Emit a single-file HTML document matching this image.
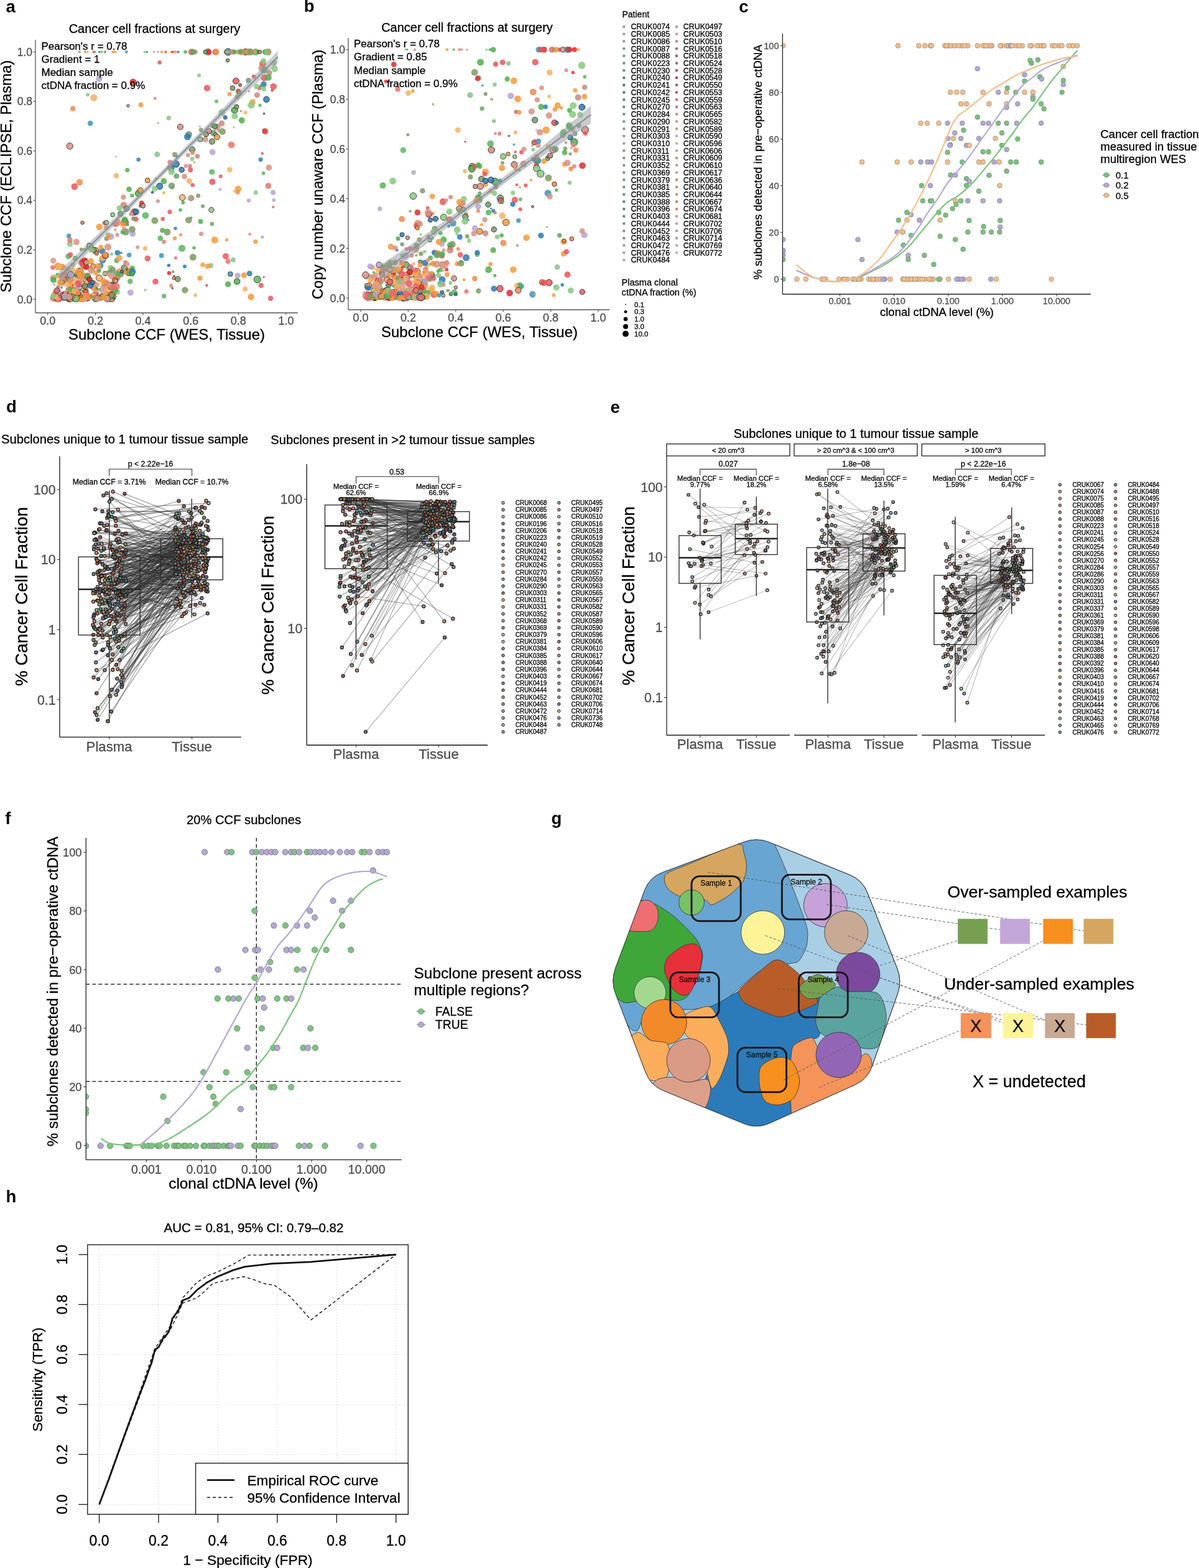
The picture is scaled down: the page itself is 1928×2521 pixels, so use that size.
<!DOCTYPE html>
<html><head><meta charset="utf-8"><title>Figure</title>
<style>
html,body{margin:0;padding:0;background:#fff;}
body{width:1928px;height:2521px;overflow:hidden;}
svg{display:block;font-family:"Liberation Sans",Arial,Helvetica,sans-serif;}
</style></head><body>
<svg width="1928" height="2521" viewBox="0 0 1928 2521">
<rect width="1928" height="2521" fill="#fff"/>
<text x="9.6" y="19.5" font-size="27.5" font-weight="bold">a</text>
<text x="248.5" y="52.5" font-size="20" text-anchor="middle" stroke="#000" stroke-width="0.3">Cancer cell fractions at surgery</text>
<circle cx="127.5" cy="442" r="3.5" fill="#e8565a" fill-opacity="0.85"/>
<circle cx="201.5" cy="422.1" r="3.5" fill="#ea6a6a" fill-opacity="0.85"/>
<circle cx="138.5" cy="453.2" r="1.7" fill="#f39a3c" fill-opacity="0.85"/>
<circle cx="249.3" cy="158.1" r="2.6" fill="#d98f80" fill-opacity="0.85"/>
<circle cx="372" cy="232.9" r="5.4" fill="#e9736e" fill-opacity="0.85"/>
<circle cx="143.8" cy="455.9" r="3.8" fill="#ea6a6a" fill-opacity="0.85"/>
<circle cx="135.6" cy="474.9" r="1.4" fill="#2a7ab9" stroke="#222" stroke-width="0.8" fill-opacity="0.85"/>
<circle cx="215.8" cy="341" r="5.3" fill="#e8565a" stroke="#222" stroke-width="0.8" fill-opacity="0.85"/>
<circle cx="113.3" cy="447.6" r="4.9" fill="#f39a3c" fill-opacity="0.85"/>
<circle cx="397.2" cy="83.5" r="2.8" fill="#f39a3c" stroke="#222" stroke-width="0.8" fill-opacity="0.85"/>
<circle cx="376.7" cy="307.7" r="1.9" fill="#f7b060" fill-opacity="0.85"/>
<circle cx="125.9" cy="475.7" r="5.1" fill="#f7b060" fill-opacity="0.85"/>
<circle cx="212.1" cy="439.3" r="4.6" fill="#4daf4a" stroke="#222" stroke-width="0.8" fill-opacity="0.85"/>
<circle cx="383.2" cy="146.8" r="4.2" fill="#e3282a" fill-opacity="0.85"/>
<circle cx="237.3" cy="415.6" r="4.8" fill="#e8565a" fill-opacity="0.85"/>
<circle cx="388.6" cy="83.5" r="2.5" fill="#f39a3c" fill-opacity="0.85"/>
<circle cx="393.2" cy="83.5" r="2.7" fill="#4daf4a" fill-opacity="0.85"/>
<circle cx="354.7" cy="283.5" r="3" fill="#e8565a" fill-opacity="0.85"/>
<circle cx="368" cy="83.5" r="4.6" fill="#e8565a" fill-opacity="0.85"/>
<circle cx="122.8" cy="389.1" r="5.1" fill="#d98f80" fill-opacity="0.85"/>
<circle cx="212.5" cy="314.4" r="3.2" fill="#4daf4a" fill-opacity="0.85"/>
<circle cx="134.8" cy="480.9" r="5.1" fill="#d99a8a" fill-opacity="0.85"/>
<circle cx="400.3" cy="147" r="1.4" fill="#e8565a" fill-opacity="0.85"/>
<circle cx="189.2" cy="349.9" r="1.5" fill="#b8a2d4" fill-opacity="0.85"/>
<circle cx="114.7" cy="479.2" r="5.5" fill="#f39a3c" stroke="#222" stroke-width="0.8" fill-opacity="0.85"/>
<circle cx="181.8" cy="470.9" r="4.9" fill="#ea6a6a" stroke="#222" stroke-width="0.8" fill-opacity="0.85"/>
<circle cx="101.7" cy="441.8" r="5.4" fill="#d99a8a" fill-opacity="0.85"/>
<circle cx="85.6" cy="446.6" r="5.1" fill="#d99a8a" fill-opacity="0.85"/>
<circle cx="381.2" cy="452.5" r="4.8" fill="#4daf4a" stroke="#222" stroke-width="0.8" fill-opacity="0.85"/>
<circle cx="152.6" cy="478.1" r="5.4" fill="#ea6a6a" fill-opacity="0.85"/>
<circle cx="153.6" cy="473.3" r="4.8" fill="#ea6a6a" stroke="#222" stroke-width="0.8" fill-opacity="0.85"/>
<circle cx="108.4" cy="448.7" r="4.9" fill="#ea6a6a" fill-opacity="0.85"/>
<circle cx="139" cy="480.9" r="4.7" fill="#d99a8a" fill-opacity="0.85"/>
<circle cx="326.1" cy="425.8" r="3.8" fill="#f39a3c" fill-opacity="0.85"/>
<circle cx="185.4" cy="468.2" r="3.7" fill="#f39a3c" fill-opacity="0.85"/>
<circle cx="177.6" cy="479.5" r="5.5" fill="#d99a8a" stroke="#222" stroke-width="0.8" fill-opacity="0.85"/>
<circle cx="155.5" cy="407.4" r="2.6" fill="#f39a3c" fill-opacity="0.85"/>
<circle cx="431" cy="83.5" r="5.5" fill="#7c9a62" fill-opacity="0.85"/>
<circle cx="129.2" cy="454.4" r="3.7" fill="#b8a2d4" fill-opacity="0.85"/>
<circle cx="179.8" cy="481.1" r="4.3" fill="#f7b060" fill-opacity="0.85"/>
<circle cx="387.8" cy="83.5" r="5" fill="#f08a4b" fill-opacity="0.85"/>
<circle cx="272" cy="438.9" r="3.2" fill="#e3282a" fill-opacity="0.85"/>
<circle cx="256.6" cy="100.5" r="3.3" fill="#e8565a" fill-opacity="0.85"/>
<circle cx="408.2" cy="123.3" r="3.5" fill="#e8565a" fill-opacity="0.85"/>
<circle cx="178.2" cy="474" r="4.3" fill="#d99a8a" stroke="#222" stroke-width="0.8" fill-opacity="0.85"/>
<circle cx="280.2" cy="443.6" r="1.7" fill="#e3282a" fill-opacity="0.85"/>
<circle cx="330.1" cy="224.1" r="4.9" fill="#d98f80" fill-opacity="0.85"/>
<circle cx="361.9" cy="188.7" r="3.6" fill="#c98a80" fill-opacity="0.85"/>
<circle cx="173.3" cy="479.8" r="4.6" fill="#7c9a62" fill-opacity="0.85"/>
<circle cx="129.7" cy="447.3" r="5.3" fill="#7c9a62" fill-opacity="0.85"/>
<circle cx="126.1" cy="439.8" r="3.3" fill="#e8565a" fill-opacity="0.85"/>
<circle cx="424.2" cy="445.6" r="1.5" fill="#e3282a" fill-opacity="0.85"/>
<circle cx="172" cy="474.5" r="4.5" fill="#f39a3c" fill-opacity="0.85"/>
<circle cx="411.2" cy="309.5" r="3.5" fill="#86c97f" fill-opacity="0.85"/>
<circle cx="348.1" cy="162.9" r="2.9" fill="#5bb55f" fill-opacity="0.85"/>
<circle cx="111.2" cy="474.8" r="2.3" fill="#86c97f" stroke="#222" stroke-width="0.8" fill-opacity="0.85"/>
<circle cx="422.4" cy="102.7" r="5.6" fill="#e8565a" fill-opacity="0.85"/>
<circle cx="127.5" cy="83.5" r="2.4" fill="#86c97f" fill-opacity="0.85"/>
<circle cx="100" cy="430.3" r="3.6" fill="#f7b060" stroke="#222" stroke-width="0.8" fill-opacity="0.85"/>
<circle cx="111.5" cy="477" r="4.8" fill="#f39a3c" fill-opacity="0.85"/>
<circle cx="413.4" cy="152.8" r="4.6" fill="#c98a80" fill-opacity="0.85"/>
<circle cx="365.4" cy="83.5" r="4.4" fill="#e8565a" fill-opacity="0.85"/>
<circle cx="99.4" cy="473" r="4.2" fill="#b8a2d4" fill-opacity="0.85"/>
<circle cx="170.7" cy="478" r="4.2" fill="#ea6a6a" fill-opacity="0.85"/>
<circle cx="155.1" cy="479.8" r="5.3" fill="#ea6a6a" fill-opacity="0.85"/>
<circle cx="164.8" cy="459.4" r="1.6" fill="#d99a8a" stroke="#222" stroke-width="0.8" fill-opacity="0.85"/>
<circle cx="119" cy="465.7" r="5.5" fill="#f39a3c" fill-opacity="0.85"/>
<circle cx="427.6" cy="83.5" r="4.6" fill="#2a7ab9" fill-opacity="0.85"/>
<circle cx="137.2" cy="466.1" r="5.4" fill="#7c9a62" fill-opacity="0.85"/>
<circle cx="189.1" cy="446.3" r="4.8" fill="#ea6a6a" fill-opacity="0.85"/>
<circle cx="145.9" cy="479" r="1.6" fill="#f39a3c" stroke="#222" stroke-width="0.8" fill-opacity="0.85"/>
<circle cx="99" cy="476.6" r="2.1" fill="#f39a3c" fill-opacity="0.85"/>
<circle cx="122.7" cy="476.3" r="4.9" fill="#d99a8a" stroke="#222" stroke-width="0.8" fill-opacity="0.85"/>
<circle cx="424.6" cy="182.7" r="1.4" fill="#e9736e" stroke="#222" stroke-width="0.8" fill-opacity="0.85"/>
<circle cx="275.2" cy="459.2" r="3.2" fill="#d98f80" fill-opacity="0.85"/>
<circle cx="343.3" cy="213.8" r="5.4" fill="#6f9a70" fill-opacity="0.85"/>
<circle cx="142.2" cy="456.7" r="3.6" fill="#f39a3c" fill-opacity="0.85"/>
<circle cx="416.9" cy="141.3" r="3.7" fill="#e8565a" fill-opacity="0.85"/>
<circle cx="154.8" cy="479" r="4" fill="#f7b060" stroke="#222" stroke-width="0.8" fill-opacity="0.85"/>
<circle cx="110.8" cy="468.9" r="4.5" fill="#f39a3c" fill-opacity="0.85"/>
<circle cx="309.1" cy="240.4" r="4.6" fill="#7c9a62" stroke="#222" stroke-width="0.8" fill-opacity="0.85"/>
<circle cx="281.1" cy="248.7" r="4.1" fill="#7c9a62" fill-opacity="0.85"/>
<circle cx="275.2" cy="269.9" r="5.5" fill="#2a7ab9" fill-opacity="0.85"/>
<circle cx="234" cy="346.4" r="5.5" fill="#5bb55f" fill-opacity="0.85"/>
<circle cx="188.1" cy="439.5" r="5" fill="#86c97f" fill-opacity="0.85"/>
<circle cx="134" cy="480.9" r="4.4" fill="#f39a3c" fill-opacity="0.85"/>
<circle cx="168" cy="358.5" r="3.4" fill="#e8565a" fill-opacity="0.85"/>
<circle cx="435.1" cy="479.8" r="4.2" fill="#e8565a" fill-opacity="0.85"/>
<circle cx="322.5" cy="355.9" r="4" fill="#4daf4a" fill-opacity="0.85"/>
<circle cx="126.7" cy="434.5" r="4.6" fill="#d99a8a" fill-opacity="0.85"/>
<circle cx="382.1" cy="308.7" r="3.7" fill="#f08a4b" fill-opacity="0.85"/>
<circle cx="126.2" cy="453.2" r="4.1" fill="#ea6a6a" fill-opacity="0.85"/>
<circle cx="112.4" cy="392.2" r="4.7" fill="#86c97f" fill-opacity="0.85"/>
<circle cx="321.5" cy="203.3" r="1.8" fill="#b8a2d4" fill-opacity="0.85"/>
<circle cx="166.2" cy="414.4" r="5.1" fill="#e9736e" fill-opacity="0.85"/>
<circle cx="153.8" cy="403" r="5.1" fill="#f39a3c" stroke="#222" stroke-width="0.8" fill-opacity="0.85"/>
<circle cx="281" cy="383.2" r="3.3" fill="#f39a3c" fill-opacity="0.85"/>
<circle cx="111.1" cy="444.2" r="3.8" fill="#ea6a6a" fill-opacity="0.85"/>
<circle cx="271.7" cy="269.4" r="3.6" fill="#e9736e" fill-opacity="0.85"/>
<circle cx="185.6" cy="83.5" r="1.9" fill="#f39a3c" fill-opacity="0.85"/>
<circle cx="102.1" cy="448.7" r="5.2" fill="#d99a8a" fill-opacity="0.85"/>
<circle cx="181.3" cy="345.3" r="3.5" fill="#86c97f" stroke="#222" stroke-width="0.8" fill-opacity="0.85"/>
<circle cx="382.2" cy="443.1" r="4.6" fill="#b8a2d4" fill-opacity="0.85"/>
<circle cx="128.2" cy="462.2" r="3.6" fill="#b8a2d4" stroke="#222" stroke-width="0.8" fill-opacity="0.85"/>
<circle cx="317.4" cy="251.2" r="3.9" fill="#c98a80" fill-opacity="0.85"/>
<circle cx="227.7" cy="326.6" r="4" fill="#e3282a" fill-opacity="0.85"/>
<circle cx="138.2" cy="442.1" r="1.7" fill="#2a7ab9" fill-opacity="0.85"/>
<circle cx="134.9" cy="459.9" r="4.2" fill="#f7b060" fill-opacity="0.85"/>
<circle cx="164.9" cy="418.1" r="5.6" fill="#2a7ab9" fill-opacity="0.85"/>
<circle cx="131.7" cy="423.2" r="5.8" fill="#86c97f" fill-opacity="0.85"/>
<circle cx="139" cy="428.7" r="4" fill="#86c97f" stroke="#222" stroke-width="0.8" fill-opacity="0.85"/>
<circle cx="154" cy="474.7" r="4.3" fill="#f39a3c" stroke="#222" stroke-width="0.8" fill-opacity="0.85"/>
<circle cx="298.7" cy="267" r="3.2" fill="#d98f80" fill-opacity="0.85"/>
<circle cx="109.4" cy="480.4" r="1.5" fill="#f7b060" stroke="#222" stroke-width="0.8" fill-opacity="0.85"/>
<circle cx="94.6" cy="443.5" r="4.3" fill="#d99a8a" fill-opacity="0.85"/>
<circle cx="117.2" cy="477" r="4.9" fill="#ea6a6a" fill-opacity="0.85"/>
<circle cx="307.6" cy="83.5" r="5.3" fill="#e9736e" fill-opacity="0.85"/>
<circle cx="172" cy="462" r="5.6" fill="#f39a3c" fill-opacity="0.85"/>
<circle cx="377.2" cy="177.2" r="5.1" fill="#4daf4a" stroke="#222" stroke-width="0.8" fill-opacity="0.85"/>
<circle cx="425" cy="124.9" r="5.7" fill="#e8565a" fill-opacity="0.85"/>
<circle cx="103.2" cy="443.6" r="3.8" fill="#f39a3c" stroke="#222" stroke-width="0.8" fill-opacity="0.85"/>
<circle cx="312.5" cy="260.9" r="1.8" fill="#f39a3c" fill-opacity="0.85"/>
<circle cx="93.8" cy="480.1" r="4.1" fill="#e3282a" fill-opacity="0.85"/>
<circle cx="169.8" cy="458.8" r="5" fill="#ea6a6a" fill-opacity="0.85"/>
<circle cx="162.1" cy="478.3" r="5.4" fill="#d99a8a" fill-opacity="0.85"/>
<circle cx="222.9" cy="311" r="5.4" fill="#4daf4a" stroke="#222" stroke-width="0.8" fill-opacity="0.85"/>
<circle cx="207.4" cy="304.4" r="4.3" fill="#4daf4a" fill-opacity="0.85"/>
<circle cx="109.4" cy="433.1" r="4.9" fill="#d99a8a" fill-opacity="0.85"/>
<circle cx="272.9" cy="340.6" r="3.6" fill="#e8565a" fill-opacity="0.85"/>
<circle cx="144.6" cy="396" r="5.3" fill="#86c97f" stroke="#222" stroke-width="0.8" fill-opacity="0.85"/>
<circle cx="113.5" cy="475.4" r="1.8" fill="#d99a8a" fill-opacity="0.85"/>
<circle cx="135.5" cy="429.4" r="3" fill="#b8a2d4" fill-opacity="0.85"/>
<circle cx="260" cy="83.5" r="2.2" fill="#f39a3c" fill-opacity="0.85"/>
<circle cx="157.2" cy="477.1" r="4.4" fill="#f7b060" fill-opacity="0.85"/>
<circle cx="129.6" cy="435.1" r="4.3" fill="#d99a8a" stroke="#222" stroke-width="0.8" fill-opacity="0.85"/>
<circle cx="272.6" cy="426.6" r="2" fill="#f39a3c" fill-opacity="0.85"/>
<circle cx="293.2" cy="317.6" r="4.9" fill="#f7b060" stroke="#222" stroke-width="0.8" fill-opacity="0.85"/>
<circle cx="104.2" cy="450.2" r="4.7" fill="#b8a2d4" stroke="#222" stroke-width="0.8" fill-opacity="0.85"/>
<circle cx="310.2" cy="83.5" r="3.4" fill="#5bb55f" stroke="#222" stroke-width="0.8" fill-opacity="0.85"/>
<circle cx="86.7" cy="477.2" r="5" fill="#b8a2d4" stroke="#222" stroke-width="0.8" fill-opacity="0.85"/>
<circle cx="174.2" cy="378" r="4.4" fill="#86c97f" fill-opacity="0.85"/>
<circle cx="131.3" cy="480.4" r="5.5" fill="#ea6a6a" fill-opacity="0.85"/>
<circle cx="85.7" cy="419.1" r="4.9" fill="#d99a8a" fill-opacity="0.85"/>
<circle cx="173.8" cy="455" r="4" fill="#f39a3c" fill-opacity="0.85"/>
<circle cx="123.1" cy="480.6" r="4.7" fill="#d99a8a" fill-opacity="0.85"/>
<circle cx="90.5" cy="479.3" r="5.5" fill="#d99a8a" fill-opacity="0.85"/>
<circle cx="181.7" cy="477.4" r="5" fill="#d99a8a" stroke="#222" stroke-width="0.8" fill-opacity="0.85"/>
<circle cx="185.6" cy="441.3" r="4.8" fill="#4daf4a" fill-opacity="0.85"/>
<circle cx="309.1" cy="255.6" r="3.5" fill="#86c97f" fill-opacity="0.85"/>
<circle cx="179.4" cy="408.4" r="2.5" fill="#86c97f" fill-opacity="0.85"/>
<circle cx="175.6" cy="479.8" r="4.7" fill="#7c9a62" fill-opacity="0.85"/>
<circle cx="394.2" cy="464.7" r="4" fill="#f7b060" fill-opacity="0.85"/>
<circle cx="164.7" cy="414.7" r="5.3" fill="#f7b060" fill-opacity="0.85"/>
<circle cx="188.9" cy="406.3" r="4.4" fill="#2a7ab9" fill-opacity="0.85"/>
<circle cx="173.6" cy="466.7" r="4.1" fill="#f39a3c" stroke="#222" stroke-width="0.8" fill-opacity="0.85"/>
<circle cx="123.7" cy="442" r="5.1" fill="#2a7ab9" fill-opacity="0.85"/>
<circle cx="140.1" cy="478.3" r="5.2" fill="#e3282a" fill-opacity="0.85"/>
<circle cx="116.7" cy="470.5" r="4.9" fill="#86c97f" fill-opacity="0.85"/>
<circle cx="174.3" cy="475.2" r="5.1" fill="#f7b060" fill-opacity="0.85"/>
<circle cx="199" cy="329.8" r="5.4" fill="#c98a80" fill-opacity="0.85"/>
<circle cx="292.1" cy="273" r="4.3" fill="#2a7ab9" stroke="#222" stroke-width="0.8" fill-opacity="0.85"/>
<circle cx="181.9" cy="83.5" r="2.3" fill="#f08a4b" fill-opacity="0.85"/>
<circle cx="250" cy="452.7" r="4.8" fill="#e8565a" fill-opacity="0.85"/>
<circle cx="112.2" cy="234.9" r="5.2" fill="#d98f80" stroke="#222" stroke-width="0.8" fill-opacity="0.85"/>
<circle cx="214" cy="132" r="5.6" fill="#e3282a" fill-opacity="0.85"/>
<circle cx="154.3" cy="438.9" r="4.1" fill="#f39a3c" fill-opacity="0.85"/>
<circle cx="145.2" cy="198.2" r="4.3" fill="#3a95b0" fill-opacity="0.85"/>
<circle cx="309.7" cy="245.6" r="3.7" fill="#d98f80" fill-opacity="0.85"/>
<circle cx="277.3" cy="463.5" r="1.4" fill="#86c97f" stroke="#222" stroke-width="0.8" fill-opacity="0.85"/>
<circle cx="91.8" cy="479.5" r="4" fill="#b8a2d4" fill-opacity="0.85"/>
<circle cx="351.5" cy="210.7" r="2" fill="#7c9a62" fill-opacity="0.85"/>
<circle cx="406" cy="164.3" r="4.9" fill="#f39a3c" fill-opacity="0.85"/>
<circle cx="394.7" cy="181" r="2.9" fill="#f7b060" fill-opacity="0.85"/>
<circle cx="110.1" cy="474.5" r="5.2" fill="#ea6a6a" stroke="#222" stroke-width="0.8" fill-opacity="0.85"/>
<circle cx="375.7" cy="83.5" r="4.2" fill="#5bb55f" fill-opacity="0.85"/>
<circle cx="109.9" cy="412.1" r="4.7" fill="#5bb55f" fill-opacity="0.85"/>
<circle cx="93.5" cy="428.6" r="5.4" fill="#ea6a6a" fill-opacity="0.85"/>
<circle cx="117.3" cy="434.2" r="4.1" fill="#f7b060" fill-opacity="0.85"/>
<circle cx="290" cy="337.6" r="2.9" fill="#4daf4a" fill-opacity="0.85"/>
<circle cx="278.2" cy="83.5" r="2.2" fill="#e8565a" fill-opacity="0.85"/>
<circle cx="320.1" cy="121.2" r="3" fill="#8cbf88" fill-opacity="0.85"/>
<circle cx="134.7" cy="460.4" r="1.6" fill="#f7b060" fill-opacity="0.85"/>
<circle cx="439.1" cy="309.5" r="4.2" fill="#b8a2d4" fill-opacity="0.85"/>
<circle cx="200.9" cy="357" r="5.5" fill="#e8565a" stroke="#222" stroke-width="0.8" fill-opacity="0.85"/>
<circle cx="437.8" cy="145.1" r="1.8" fill="#d98f80" stroke="#222" stroke-width="0.8" fill-opacity="0.85"/>
<circle cx="443.8" cy="107.4" r="1.6" fill="#c98a80" fill-opacity="0.85"/>
<circle cx="86.1" cy="450.3" r="5" fill="#4daf4a" fill-opacity="0.85"/>
<circle cx="167.6" cy="453.1" r="1.6" fill="#f39a3c" fill-opacity="0.85"/>
<circle cx="334.5" cy="83.5" r="5" fill="#d98f80" stroke="#222" stroke-width="0.8" fill-opacity="0.85"/>
<circle cx="275.9" cy="275.9" r="5.3" fill="#86c97f" fill-opacity="0.85"/>
<circle cx="136.3" cy="448.4" r="5" fill="#d99a8a" fill-opacity="0.85"/>
<circle cx="109.6" cy="464.6" r="3.8" fill="#d99a8a" fill-opacity="0.85"/>
<circle cx="345.2" cy="385.9" r="5.6" fill="#f39a3c" fill-opacity="0.85"/>
<circle cx="87.3" cy="477.7" r="1.5" fill="#f39a3c" fill-opacity="0.85"/>
<circle cx="130.9" cy="401" r="3.1" fill="#7c9a62" fill-opacity="0.85"/>
<circle cx="84.8" cy="479.7" r="4.7" fill="#d99a8a" fill-opacity="0.85"/>
<circle cx="286.6" cy="83.5" r="2.2" fill="#d98f80" fill-opacity="0.85"/>
<circle cx="369.3" cy="272.8" r="4.4" fill="#f7b060" fill-opacity="0.85"/>
<circle cx="362.3" cy="189" r="3.4" fill="#2a7ab9" fill-opacity="0.85"/>
<circle cx="362.4" cy="83.5" r="2.8" fill="#8cbf88" fill-opacity="0.85"/>
<circle cx="237.3" cy="290.1" r="4" fill="#f39a3c" stroke="#222" stroke-width="0.8" fill-opacity="0.85"/>
<circle cx="339" cy="427" r="4" fill="#8cbf88" fill-opacity="0.85"/>
<circle cx="134.2" cy="443" r="4.2" fill="#b8a2d4" fill-opacity="0.85"/>
<circle cx="424" cy="135.6" r="4.9" fill="#2a7ab9" fill-opacity="0.85"/>
<circle cx="155.5" cy="479.7" r="5.2" fill="#d99a8a" stroke="#222" stroke-width="0.8" fill-opacity="0.85"/>
<circle cx="394.8" cy="83.5" r="5.2" fill="#f39a3c" stroke="#222" stroke-width="0.8" fill-opacity="0.85"/>
<circle cx="87" cy="479.9" r="4.1" fill="#f39a3c" stroke="#222" stroke-width="0.8" fill-opacity="0.85"/>
<circle cx="103.8" cy="473.4" r="4.9" fill="#86c97f" stroke="#222" stroke-width="0.8" fill-opacity="0.85"/>
<circle cx="164.5" cy="477.2" r="4.8" fill="#f39a3c" stroke="#222" stroke-width="0.8" fill-opacity="0.85"/>
<circle cx="400.5" cy="83.5" r="5.4" fill="#4daf4a" fill-opacity="0.85"/>
<circle cx="204.9" cy="436.1" r="5.1" fill="#ea6a6a" fill-opacity="0.85"/>
<circle cx="98.6" cy="476.4" r="2.3" fill="#86c97f" fill-opacity="0.85"/>
<circle cx="425.6" cy="83.5" r="3.1" fill="#8cbf88" fill-opacity="0.85"/>
<circle cx="121.8" cy="440" r="1.9" fill="#e3282a" fill-opacity="0.85"/>
<circle cx="203.3" cy="83.5" r="2.4" fill="#3a95b0" fill-opacity="0.85"/>
<circle cx="102.8" cy="451.4" r="5.2" fill="#ea6a6a" stroke="#222" stroke-width="0.8" fill-opacity="0.85"/>
<circle cx="379.4" cy="130.3" r="5" fill="#e8565a" stroke="#222" stroke-width="0.8" fill-opacity="0.85"/>
<circle cx="155.8" cy="457.8" r="4.2" fill="#d99a8a" fill-opacity="0.85"/>
<circle cx="411.1" cy="83.5" r="5.6" fill="#4daf4a" fill-opacity="0.85"/>
<circle cx="384" cy="83.5" r="4.1" fill="#d98f80" fill-opacity="0.85"/>
<circle cx="169" cy="439.9" r="3.8" fill="#d99a8a" stroke="#222" stroke-width="0.8" fill-opacity="0.85"/>
<circle cx="340" cy="337.5" r="4.2" fill="#8cbf88" stroke="#222" stroke-width="0.8" fill-opacity="0.85"/>
<circle cx="273.7" cy="261.2" r="4.4" fill="#c98a80" fill-opacity="0.85"/>
<circle cx="426.1" cy="211" r="4.8" fill="#e3282a" fill-opacity="0.85"/>
<circle cx="89.1" cy="476.8" r="4.4" fill="#ea6a6a" stroke="#222" stroke-width="0.8" fill-opacity="0.85"/>
<circle cx="142" cy="447.1" r="4.6" fill="#e3282a" fill-opacity="0.85"/>
<circle cx="93.1" cy="427.2" r="5.3" fill="#f39a3c" fill-opacity="0.85"/>
<circle cx="188.1" cy="441.1" r="5.1" fill="#b8a2d4" fill-opacity="0.85"/>
<circle cx="366.4" cy="83.5" r="2.6" fill="#7c9a62" fill-opacity="0.85"/>
<circle cx="263.3" cy="309.9" r="2.5" fill="#f7b060" fill-opacity="0.85"/>
<circle cx="110.7" cy="379.4" r="3.8" fill="#3a95b0" fill-opacity="0.85"/>
<circle cx="207.7" cy="410" r="3.8" fill="#3a95b0" fill-opacity="0.85"/>
<circle cx="209.2" cy="452.4" r="4.3" fill="#5bb55f" fill-opacity="0.85"/>
<circle cx="143" cy="394.4" r="3.5" fill="#86c97f" stroke="#222" stroke-width="0.8" fill-opacity="0.85"/>
<circle cx="370.4" cy="440.6" r="3.9" fill="#3a95b0" stroke="#222" stroke-width="0.8" fill-opacity="0.85"/>
<circle cx="236.4" cy="83.5" r="1.7" fill="#2a7ab9" fill-opacity="0.85"/>
<circle cx="110.5" cy="449.4" r="5.2" fill="#7c9a62" fill-opacity="0.85"/>
<circle cx="155" cy="481.1" r="4.7" fill="#f39a3c" fill-opacity="0.85"/>
<circle cx="426" cy="83.5" r="4.1" fill="#4daf4a" fill-opacity="0.85"/>
<circle cx="421.2" cy="109.8" r="5.7" fill="#c98a80" fill-opacity="0.85"/>
<circle cx="222.6" cy="256.6" r="3.3" fill="#2a7ab9" fill-opacity="0.85"/>
<circle cx="271.2" cy="426.7" r="2.7" fill="#2a7ab9" fill-opacity="0.85"/>
<circle cx="401.7" cy="376.4" r="2.2" fill="#e9736e" fill-opacity="0.85"/>
<circle cx="114.6" cy="473.9" r="2.6" fill="#f7b060" fill-opacity="0.85"/>
<circle cx="133.1" cy="479.2" r="5.5" fill="#f7b060" fill-opacity="0.85"/>
<circle cx="279.8" cy="447" r="2.6" fill="#f08a4b" stroke="#222" stroke-width="0.8" fill-opacity="0.85"/>
<circle cx="89.6" cy="473.7" r="4.8" fill="#f7b060" stroke="#222" stroke-width="0.8" fill-opacity="0.85"/>
<circle cx="155.9" cy="475.6" r="4.1" fill="#ea6a6a" fill-opacity="0.85"/>
<circle cx="169.4" cy="454.4" r="4.9" fill="#ea6a6a" fill-opacity="0.85"/>
<circle cx="145.1" cy="452.4" r="3.8" fill="#ea6a6a" fill-opacity="0.85"/>
<circle cx="401.3" cy="439.7" r="4.5" fill="#2a7ab9" fill-opacity="0.85"/>
<circle cx="111.8" cy="445.6" r="5.2" fill="#ea6a6a" fill-opacity="0.85"/>
<circle cx="303.5" cy="216.3" r="5.6" fill="#6f9a70" fill-opacity="0.85"/>
<circle cx="428.5" cy="159.8" r="4.8" fill="#2a7ab9" stroke="#222" stroke-width="0.8" fill-opacity="0.85"/>
<circle cx="146.2" cy="450" r="4.3" fill="#d99a8a" fill-opacity="0.85"/>
<circle cx="191.7" cy="436.9" r="5.4" fill="#f08a4b" fill-opacity="0.85"/>
<circle cx="151.1" cy="455.2" r="4.6" fill="#f39a3c" fill-opacity="0.85"/>
<circle cx="166.9" cy="476.8" r="4" fill="#86c97f" fill-opacity="0.85"/>
<circle cx="179.7" cy="477.8" r="4.8" fill="#ea6a6a" fill-opacity="0.85"/>
<circle cx="112.5" cy="386.1" r="4.4" fill="#e9736e" fill-opacity="0.85"/>
<circle cx="164.4" cy="403.8" r="5" fill="#2a7ab9" fill-opacity="0.85"/>
<circle cx="247.8" cy="83.5" r="1.7" fill="#d98f80" fill-opacity="0.85"/>
<circle cx="153" cy="480.9" r="4.9" fill="#4daf4a" fill-opacity="0.85"/>
<circle cx="307.1" cy="318.5" r="5.1" fill="#e8565a" fill-opacity="0.85"/>
<circle cx="419.2" cy="256.6" r="3.5" fill="#2a7ab9" fill-opacity="0.85"/>
<circle cx="159.6" cy="83.5" r="1.8" fill="#2a7ab9" fill-opacity="0.85"/>
<circle cx="213.2" cy="375.8" r="4.9" fill="#b8a2d4" fill-opacity="0.85"/>
<circle cx="94.2" cy="476" r="4.4" fill="#4daf4a" fill-opacity="0.85"/>
<circle cx="346.6" cy="216.3" r="3.1" fill="#86c97f" stroke="#222" stroke-width="0.8" fill-opacity="0.85"/>
<circle cx="159.8" cy="465.6" r="2.7" fill="#4daf4a" fill-opacity="0.85"/>
<circle cx="141.5" cy="476.4" r="4.3" fill="#f7b060" stroke="#222" stroke-width="0.8" fill-opacity="0.85"/>
<circle cx="366.6" cy="83.5" r="5.6" fill="#3a95b0" stroke="#222" stroke-width="0.8" fill-opacity="0.85"/>
<circle cx="110.9" cy="480.3" r="5.2" fill="#e3282a" stroke="#222" stroke-width="0.8" fill-opacity="0.85"/>
<circle cx="136.3" cy="447.9" r="4.3" fill="#d99a8a" fill-opacity="0.85"/>
<circle cx="104.6" cy="476.5" r="4.3" fill="#7c9a62" fill-opacity="0.85"/>
<circle cx="122.4" cy="449.9" r="3.7" fill="#f7b060" fill-opacity="0.85"/>
<circle cx="314.2" cy="474.5" r="3" fill="#f7b060" fill-opacity="0.85"/>
<circle cx="107.1" cy="437.6" r="4.7" fill="#ea6a6a" fill-opacity="0.85"/>
<circle cx="93.7" cy="480.9" r="4.3" fill="#f7b060" fill-opacity="0.85"/>
<circle cx="141.2" cy="479.2" r="4.6" fill="#ea6a6a" stroke="#222" stroke-width="0.8" fill-opacity="0.85"/>
<circle cx="403.3" cy="83.5" r="2.5" fill="#e3282a" fill-opacity="0.85"/>
<circle cx="303.3" cy="353.8" r="5.4" fill="#7c9a62" fill-opacity="0.85"/>
<circle cx="108.9" cy="477.6" r="5.1" fill="#ea6a6a" fill-opacity="0.85"/>
<circle cx="128.9" cy="477.2" r="5.2" fill="#f39a3c" fill-opacity="0.85"/>
<circle cx="349" cy="220.3" r="4.6" fill="#f39a3c" stroke="#222" stroke-width="0.8" fill-opacity="0.85"/>
<circle cx="171" cy="357.8" r="3.7" fill="#86c97f" stroke="#222" stroke-width="0.8" fill-opacity="0.85"/>
<circle cx="121.4" cy="466.5" r="5.3" fill="#d99a8a" fill-opacity="0.85"/>
<circle cx="149.9" cy="462.9" r="4.5" fill="#d98f80" fill-opacity="0.85"/>
<circle cx="186.9" cy="282.5" r="4.2" fill="#f7b060" fill-opacity="0.85"/>
<circle cx="100.7" cy="428.9" r="4.9" fill="#f39a3c" fill-opacity="0.85"/>
<circle cx="356.7" cy="180.7" r="5.4" fill="#86c97f" fill-opacity="0.85"/>
<circle cx="148.7" cy="460.8" r="1.8" fill="#b8a2d4" fill-opacity="0.85"/>
<circle cx="124.8" cy="480.9" r="4.5" fill="#d99a8a" fill-opacity="0.85"/>
<circle cx="118.1" cy="475.8" r="4.8" fill="#d99a8a" fill-opacity="0.85"/>
<circle cx="122.9" cy="442.7" r="4.7" fill="#7c9a62" fill-opacity="0.85"/>
<circle cx="95.1" cy="480.8" r="4.8" fill="#e3282a" fill-opacity="0.85"/>
<circle cx="117.1" cy="425.8" r="3.8" fill="#d99a8a" fill-opacity="0.85"/>
<circle cx="117.2" cy="174.5" r="4.3" fill="#f08a4b" fill-opacity="0.85"/>
<circle cx="136" cy="479.7" r="5.1" fill="#f7b060" fill-opacity="0.85"/>
<circle cx="191.7" cy="414.8" r="5" fill="#f39a3c" fill-opacity="0.85"/>
<circle cx="181" cy="477.5" r="5" fill="#f7b060" fill-opacity="0.85"/>
<circle cx="431.3" cy="298.9" r="4.8" fill="#e9736e" fill-opacity="0.85"/>
<circle cx="161.8" cy="427.1" r="4.4" fill="#2a7ab9" fill-opacity="0.85"/>
<circle cx="138.4" cy="417" r="2.1" fill="#7c9a62" fill-opacity="0.85"/>
<circle cx="177.3" cy="436.1" r="3.6" fill="#4daf4a" fill-opacity="0.85"/>
<circle cx="98" cy="477.2" r="4.5" fill="#f7b060" stroke="#222" stroke-width="0.8" fill-opacity="0.85"/>
<circle cx="167.4" cy="440.1" r="2.7" fill="#86c97f" fill-opacity="0.85"/>
<circle cx="366.7" cy="420.2" r="4.1" fill="#e9736e" fill-opacity="0.85"/>
<circle cx="341" cy="360" r="3.3" fill="#7c9a62" fill-opacity="0.85"/>
<circle cx="89" cy="480" r="1.6" fill="#f7b060" fill-opacity="0.85"/>
<circle cx="376.4" cy="83.5" r="2.8" fill="#7c9a62" fill-opacity="0.85"/>
<circle cx="126.3" cy="448.1" r="4" fill="#f7b060" fill-opacity="0.85"/>
<circle cx="301.5" cy="220" r="5.5" fill="#2a7ab9" fill-opacity="0.85"/>
<circle cx="175.8" cy="477.3" r="1.7" fill="#f7b060" stroke="#222" stroke-width="0.8" fill-opacity="0.85"/>
<circle cx="169.8" cy="410.7" r="5.1" fill="#e8565a" stroke="#222" stroke-width="0.8" fill-opacity="0.85"/>
<circle cx="302.1" cy="249.4" r="3.4" fill="#d98f80" fill-opacity="0.85"/>
<circle cx="159.8" cy="364.8" r="5.4" fill="#f39a3c" fill-opacity="0.85"/>
<circle cx="323.2" cy="209" r="3.4" fill="#7c9a62" fill-opacity="0.85"/>
<circle cx="115.2" cy="481" r="4.2" fill="#d99a8a" fill-opacity="0.85"/>
<circle cx="113.2" cy="409.7" r="4.1" fill="#e8565a" fill-opacity="0.85"/>
<circle cx="275.7" cy="83.5" r="1.6" fill="#e3282a" fill-opacity="0.85"/>
<circle cx="321.6" cy="447.2" r="4.3" fill="#f39a3c" fill-opacity="0.85"/>
<circle cx="105.9" cy="478.7" r="4.1" fill="#f7b060" fill-opacity="0.85"/>
<circle cx="147" cy="433" r="5.6" fill="#f39a3c" fill-opacity="0.85"/>
<circle cx="193.8" cy="343.9" r="4.1" fill="#4daf4a" stroke="#222" stroke-width="0.8" fill-opacity="0.85"/>
<circle cx="245.1" cy="309.2" r="1.8" fill="#2a7ab9" stroke="#222" stroke-width="0.8" fill-opacity="0.85"/>
<circle cx="132.7" cy="456.1" r="4.1" fill="#d99a8a" stroke="#222" stroke-width="0.8" fill-opacity="0.85"/>
<circle cx="166" cy="468.4" r="5.2" fill="#d99a8a" fill-opacity="0.85"/>
<circle cx="171" cy="464.3" r="4.8" fill="#f7b060" fill-opacity="0.85"/>
<circle cx="261.3" cy="370.3" r="4.1" fill="#4daf4a" fill-opacity="0.85"/>
<circle cx="253.9" cy="323.5" r="3" fill="#c98a80" fill-opacity="0.85"/>
<circle cx="136.4" cy="465" r="4.3" fill="#f39a3c" fill-opacity="0.85"/>
<circle cx="331.3" cy="215.8" r="4.2" fill="#7c9a62" stroke="#222" stroke-width="0.8" fill-opacity="0.85"/>
<circle cx="199.9" cy="430.7" r="5" fill="#7c9a62" stroke="#222" stroke-width="0.8" fill-opacity="0.85"/>
<circle cx="137.9" cy="469.3" r="4.1" fill="#e8565a" stroke="#222" stroke-width="0.8" fill-opacity="0.85"/>
<circle cx="416.9" cy="83.5" r="2.8" fill="#f39a3c" stroke="#222" stroke-width="0.8" fill-opacity="0.85"/>
<circle cx="141" cy="152.2" r="3" fill="#86c97f" fill-opacity="0.85"/>
<circle cx="121" cy="470.4" r="5.2" fill="#ea6a6a" fill-opacity="0.85"/>
<circle cx="187.6" cy="419" r="4.3" fill="#7c9a62" fill-opacity="0.85"/>
<circle cx="256.7" cy="299.4" r="5.1" fill="#2a7ab9" stroke="#222" stroke-width="0.8" fill-opacity="0.85"/>
<circle cx="114.2" cy="458.5" r="3.8" fill="#ea6a6a" stroke="#222" stroke-width="0.8" fill-opacity="0.85"/>
<circle cx="212.5" cy="368.7" r="5.4" fill="#7c9a62" fill-opacity="0.85"/>
<circle cx="221.3" cy="397.5" r="2.9" fill="#d98f80" fill-opacity="0.85"/>
<circle cx="297.1" cy="428.6" r="3" fill="#2a7ab9" fill-opacity="0.85"/>
<circle cx="173.4" cy="397.2" r="5.7" fill="#d98f80" fill-opacity="0.85"/>
<circle cx="150.9" cy="157.2" r="5.6" fill="#f7b060" fill-opacity="0.85"/>
<circle cx="184.4" cy="447.4" r="4.8" fill="#f39a3c" fill-opacity="0.85"/>
<circle cx="176.9" cy="464.1" r="3.2" fill="#4daf4a" fill-opacity="0.85"/>
<circle cx="178.5" cy="473.8" r="4.7" fill="#f39a3c" stroke="#222" stroke-width="0.8" fill-opacity="0.85"/>
<circle cx="129.9" cy="453.6" r="3.7" fill="#f7b060" fill-opacity="0.85"/>
<circle cx="374" cy="141.6" r="3.9" fill="#7c9a62" stroke="#222" stroke-width="0.8" fill-opacity="0.85"/>
<circle cx="298.1" cy="83.5" r="3" fill="#5bb55f" fill-opacity="0.85"/>
<circle cx="433.4" cy="117.1" r="4.4" fill="#c98a80" fill-opacity="0.85"/>
<circle cx="384.9" cy="149.9" r="5" fill="#7c9a62" fill-opacity="0.85"/>
<circle cx="283.1" cy="263.8" r="5.3" fill="#2a7ab9" stroke="#222" stroke-width="0.8" fill-opacity="0.85"/>
<circle cx="372.5" cy="83.5" r="4.3" fill="#d98f80" fill-opacity="0.85"/>
<circle cx="169" cy="409.5" r="4.2" fill="#f39a3c" fill-opacity="0.85"/>
<circle cx="305.3" cy="266.9" r="3.5" fill="#c98a80" fill-opacity="0.85"/>
<circle cx="128" cy="441.9" r="5.6" fill="#6f9a70" stroke="#222" stroke-width="0.8" fill-opacity="0.85"/>
<circle cx="251" cy="287.3" r="2.1" fill="#4daf4a" fill-opacity="0.85"/>
<circle cx="140.6" cy="444.1" r="4.9" fill="#4daf4a" stroke="#222" stroke-width="0.8" fill-opacity="0.85"/>
<circle cx="99.7" cy="473.8" r="4.4" fill="#e3282a" fill-opacity="0.85"/>
<circle cx="431.9" cy="83.5" r="2.8" fill="#f7b060" fill-opacity="0.85"/>
<circle cx="87.4" cy="480.4" r="5.1" fill="#d99a8a" fill-opacity="0.85"/>
<circle cx="114.8" cy="456.7" r="5.3" fill="#f7b060" fill-opacity="0.85"/>
<circle cx="129.4" cy="471.1" r="4.7" fill="#86c97f" stroke="#222" stroke-width="0.8" fill-opacity="0.85"/>
<circle cx="99.5" cy="454.1" r="4.1" fill="#d99a8a" stroke="#222" stroke-width="0.8" fill-opacity="0.85"/>
<circle cx="233.5" cy="399.5" r="3.6" fill="#f7b060" fill-opacity="0.85"/>
<circle cx="179.4" cy="457.1" r="4.4" fill="#f7b060" fill-opacity="0.85"/>
<circle cx="179.5" cy="444.1" r="5" fill="#d99a8a" fill-opacity="0.85"/>
<circle cx="207" cy="438.1" r="5.3" fill="#4daf4a" stroke="#222" stroke-width="0.8" fill-opacity="0.85"/>
<circle cx="307.1" cy="350.3" r="2.2" fill="#5bb55f" fill-opacity="0.85"/>
<circle cx="92.8" cy="479.4" r="5.2" fill="#f39a3c" fill-opacity="0.85"/>
<circle cx="285.1" cy="250.6" r="1.7" fill="#4daf4a" fill-opacity="0.85"/>
<circle cx="381.3" cy="156" r="3.8" fill="#7c9a62" fill-opacity="0.85"/>
<circle cx="439.3" cy="332.8" r="2.1" fill="#e8565a" fill-opacity="0.85"/>
<circle cx="225.6" cy="331.3" r="2" fill="#7c9a62" stroke="#222" stroke-width="0.8" fill-opacity="0.85"/>
<circle cx="136.5" cy="476.1" r="5.3" fill="#f39a3c" fill-opacity="0.85"/>
<circle cx="163.3" cy="83.5" r="2.1" fill="#5bb55f" fill-opacity="0.85"/>
<circle cx="94" cy="463.6" r="1.8" fill="#f39a3c" fill-opacity="0.85"/>
<circle cx="326" cy="331.5" r="3.1" fill="#7c9a62" fill-opacity="0.85"/>
<circle cx="309.7" cy="297.6" r="3.3" fill="#e8565a" fill-opacity="0.85"/>
<circle cx="431.4" cy="124.4" r="5.4" fill="#4daf4a" fill-opacity="0.85"/>
<circle cx="202.2" cy="372.9" r="5.7" fill="#6f9a70" fill-opacity="0.85"/>
<circle cx="116.8" cy="459" r="1.4" fill="#e3282a" fill-opacity="0.85"/>
<circle cx="233.6" cy="466.5" r="2" fill="#86c97f" fill-opacity="0.85"/>
<circle cx="396.8" cy="83.5" r="5.3" fill="#2a7ab9" fill-opacity="0.85"/>
<circle cx="154.3" cy="479.5" r="5.2" fill="#d99a8a" stroke="#222" stroke-width="0.8" fill-opacity="0.85"/>
<circle cx="132.9" cy="480.6" r="4" fill="#d99a8a" fill-opacity="0.85"/>
<circle cx="109.4" cy="435" r="4.2" fill="#86c97f" fill-opacity="0.85"/>
<circle cx="421.8" cy="246.7" r="2.2" fill="#e8565a" fill-opacity="0.85"/>
<circle cx="336.1" cy="83.5" r="4.3" fill="#e3282a" fill-opacity="0.85"/>
<circle cx="127.2" cy="453.5" r="4.6" fill="#d99a8a" fill-opacity="0.85"/>
<circle cx="150.5" cy="401.7" r="4.5" fill="#7c9a62" stroke="#222" stroke-width="0.8" fill-opacity="0.85"/>
<circle cx="98" cy="476.2" r="5.5" fill="#ea6a6a" fill-opacity="0.85"/>
<circle cx="209.8" cy="433.3" r="4.4" fill="#f39a3c" fill-opacity="0.85"/>
<circle cx="190.1" cy="441.2" r="2.9" fill="#f7b060" fill-opacity="0.85"/>
<circle cx="113.3" cy="442.8" r="5.4" fill="#4daf4a" fill-opacity="0.85"/>
<circle cx="86.9" cy="457.6" r="1.9" fill="#d99a8a" fill-opacity="0.85"/>
<circle cx="357.5" cy="211.4" r="5.4" fill="#7c9a62" fill-opacity="0.85"/>
<circle cx="424.3" cy="143.3" r="3.7" fill="#86c97f" fill-opacity="0.85"/>
<circle cx="439.7" cy="139" r="5.3" fill="#e8565a" fill-opacity="0.85"/>
<circle cx="310.3" cy="413.5" r="5.5" fill="#7c9a62" fill-opacity="0.85"/>
<circle cx="170.4" cy="365.8" r="4.1" fill="#d98f80" fill-opacity="0.85"/>
<circle cx="179.4" cy="457.9" r="4" fill="#7c9a62" stroke="#222" stroke-width="0.8" fill-opacity="0.85"/>
<circle cx="397.9" cy="83.5" r="1.5" fill="#e3282a" fill-opacity="0.85"/>
<circle cx="87.9" cy="474.1" r="5.5" fill="#f7b060" fill-opacity="0.85"/>
<circle cx="180" cy="481" r="4.1" fill="#d99a8a" stroke="#222" stroke-width="0.8" fill-opacity="0.85"/>
<circle cx="112.8" cy="447.9" r="5" fill="#4daf4a" fill-opacity="0.85"/>
<circle cx="180" cy="474.6" r="4.8" fill="#ea6a6a" stroke="#222" stroke-width="0.8" fill-opacity="0.85"/>
<circle cx="422" cy="381.1" r="2.6" fill="#b8a2d4" fill-opacity="0.85"/>
<circle cx="332.3" cy="458.7" r="2" fill="#e3282a" fill-opacity="0.85"/>
<circle cx="137.9" cy="458.5" r="2.6" fill="#e8565a" fill-opacity="0.85"/>
<circle cx="115.1" cy="450.2" r="3.7" fill="#f7b060" fill-opacity="0.85"/>
<circle cx="135.2" cy="425.1" r="5.7" fill="#d98f80" stroke="#222" stroke-width="0.8" fill-opacity="0.85"/>
<circle cx="94.1" cy="429.4" r="5.1" fill="#f7b060" fill-opacity="0.85"/>
<circle cx="407.7" cy="83.5" r="3.7" fill="#b8a2d4" fill-opacity="0.85"/>
<circle cx="132.5" cy="358.1" r="2.8" fill="#e9736e" stroke="#222" stroke-width="0.8" fill-opacity="0.85"/>
<circle cx="84.9" cy="430.1" r="3.8" fill="#ea6a6a" fill-opacity="0.85"/>
<circle cx="321.9" cy="224" r="4" fill="#86c97f" stroke="#222" stroke-width="0.8" fill-opacity="0.85"/>
<circle cx="107.5" cy="457" r="4.5" fill="#f7b060" fill-opacity="0.85"/>
<circle cx="206" cy="170.1" r="2.4" fill="#b8a2d4" stroke="#222" stroke-width="0.8" fill-opacity="0.85"/>
<circle cx="147" cy="402.4" r="3.8" fill="#86c97f" fill-opacity="0.85"/>
<circle cx="159.5" cy="126.6" r="5.1" fill="#b8a2d4" fill-opacity="0.85"/>
<circle cx="346.9" cy="83.5" r="5.3" fill="#e8565a" fill-opacity="0.85"/>
<circle cx="440.3" cy="321.7" r="2.9" fill="#b8a2d4" fill-opacity="0.85"/>
<circle cx="132.5" cy="421.2" r="5.2" fill="#e3282a" fill-opacity="0.85"/>
<circle cx="263.6" cy="388.8" r="3.3" fill="#e9736e" fill-opacity="0.85"/>
<circle cx="285.9" cy="448.7" r="4.3" fill="#7c9a62" stroke="#222" stroke-width="0.8" fill-opacity="0.85"/>
<circle cx="277.2" cy="302.2" r="2.2" fill="#f08a4b" fill-opacity="0.85"/>
<circle cx="129.6" cy="473.8" r="4.6" fill="#f7b060" fill-opacity="0.85"/>
<circle cx="389.3" cy="83.5" r="4.6" fill="#f39a3c" fill-opacity="0.85"/>
<circle cx="141.1" cy="477.1" r="4.3" fill="#ea6a6a" fill-opacity="0.85"/>
<circle cx="312" cy="398.4" r="2.7" fill="#4daf4a" fill-opacity="0.85"/>
<circle cx="333" cy="141.5" r="5.3" fill="#e8565a" fill-opacity="0.85"/>
<circle cx="199.9" cy="437.7" r="4.3" fill="#f39a3c" fill-opacity="0.85"/>
<circle cx="396.3" cy="83.5" r="4.6" fill="#5bb55f" fill-opacity="0.85"/>
<circle cx="123.7" cy="480.2" r="2.4" fill="#86c97f" fill-opacity="0.85"/>
<circle cx="97.2" cy="453.9" r="5.6" fill="#f39a3c" fill-opacity="0.85"/>
<circle cx="179.5" cy="476.7" r="4.5" fill="#4daf4a" fill-opacity="0.85"/>
<circle cx="306.2" cy="273.2" r="4" fill="#e8565a" fill-opacity="0.85"/>
<circle cx="159.5" cy="447" r="5.1" fill="#f7b060" stroke="#222" stroke-width="0.8" fill-opacity="0.85"/>
<circle cx="128" cy="444.1" r="4.3" fill="#f39a3c" fill-opacity="0.85"/>
<circle cx="136.9" cy="476.5" r="5" fill="#f39a3c" fill-opacity="0.85"/>
<circle cx="93.3" cy="477.9" r="4.7" fill="#d99a8a" stroke="#222" stroke-width="0.8" fill-opacity="0.85"/>
<circle cx="127.3" cy="459.4" r="1.9" fill="#2a7ab9" fill-opacity="0.85"/>
<circle cx="92.6" cy="442.2" r="3.5" fill="#4daf4a" fill-opacity="0.85"/>
<circle cx="125.8" cy="472" r="4.2" fill="#e3282a" stroke="#222" stroke-width="0.8" fill-opacity="0.85"/>
<circle cx="292.5" cy="399.2" r="5.6" fill="#5bb55f" fill-opacity="0.85"/>
<circle cx="149.8" cy="475.4" r="5.1" fill="#d99a8a" fill-opacity="0.85"/>
<circle cx="195" cy="406.6" r="2.2" fill="#3a95b0" fill-opacity="0.85"/>
<circle cx="113.8" cy="473.1" r="4.8" fill="#4daf4a" fill-opacity="0.85"/>
<circle cx="185.1" cy="369.4" r="2" fill="#c98a80" fill-opacity="0.85"/>
<circle cx="347.9" cy="83.5" r="4.2" fill="#f39a3c" fill-opacity="0.85"/>
<circle cx="192.3" cy="334.7" r="4.8" fill="#86c97f" fill-opacity="0.85"/>
<circle cx="313.7" cy="83.5" r="3.8" fill="#7c9a62" fill-opacity="0.85"/>
<circle cx="213.1" cy="430.8" r="3.7" fill="#4daf4a" fill-opacity="0.85"/>
<circle cx="125.2" cy="456.5" r="5.5" fill="#e8565a" fill-opacity="0.85"/>
<circle cx="387.5" cy="178.7" r="1.9" fill="#c98a80" fill-opacity="0.85"/>
<circle cx="323.6" cy="376" r="3.6" fill="#d98f80" fill-opacity="0.85"/>
<circle cx="309.9" cy="83.5" r="5" fill="#7c9a62" fill-opacity="0.85"/>
<circle cx="185.1" cy="450.9" r="4.8" fill="#f39a3c" stroke="#222" stroke-width="0.8" fill-opacity="0.85"/>
<circle cx="210.6" cy="344.2" r="3.5" fill="#d98f80" fill-opacity="0.85"/>
<circle cx="133.6" cy="477.6" r="5.6" fill="#d99a8a" fill-opacity="0.85"/>
<circle cx="429.1" cy="83.5" r="4.5" fill="#86c97f" fill-opacity="0.85"/>
<circle cx="365.5" cy="83.5" r="2.9" fill="#8cbf88" fill-opacity="0.85"/>
<circle cx="248.9" cy="354.6" r="5.5" fill="#7c9a62" fill-opacity="0.85"/>
<circle cx="382.9" cy="303.7" r="5.3" fill="#f39a3c" fill-opacity="0.85"/>
<circle cx="92.4" cy="481.2" r="5" fill="#ea6a6a" fill-opacity="0.85"/>
<circle cx="423.6" cy="278.5" r="2.9" fill="#5bb55f" fill-opacity="0.85"/>
<circle cx="188.2" cy="469.2" r="4.9" fill="#86c97f" fill-opacity="0.85"/>
<circle cx="110.6" cy="467.2" r="5.4" fill="#7c9a62" fill-opacity="0.85"/>
<circle cx="99" cy="462" r="2.3" fill="#7c9a62" fill-opacity="0.85"/>
<circle cx="404" cy="169" r="5.6" fill="#86c97f" fill-opacity="0.85"/>
<circle cx="413.8" cy="449.3" r="5.6" fill="#5bb55f" stroke="#222" stroke-width="0.8" fill-opacity="0.85"/>
<circle cx="119.8" cy="299.9" r="5.3" fill="#e8565a" fill-opacity="0.85"/>
<circle cx="174.4" cy="465.4" r="5.1" fill="#f7b060" fill-opacity="0.85"/>
<circle cx="118" cy="474.2" r="4.8" fill="#d99a8a" fill-opacity="0.85"/>
<circle cx="154.7" cy="466.6" r="4.4" fill="#d99a8a" fill-opacity="0.85"/>
<circle cx="341" cy="227.5" r="4.6" fill="#7c9a62" stroke="#222" stroke-width="0.8" fill-opacity="0.85"/>
<circle cx="232.6" cy="83.5" r="2" fill="#86c97f" fill-opacity="0.85"/>
<circle cx="403.6" cy="477.3" r="5.2" fill="#f39a3c" fill-opacity="0.85"/>
<circle cx="129.6" cy="480.7" r="5.2" fill="#f39a3c" fill-opacity="0.85"/>
<circle cx="398.1" cy="83.5" r="4.3" fill="#f39a3c" fill-opacity="0.85"/>
<circle cx="377.4" cy="83.5" r="3.3" fill="#4daf4a" fill-opacity="0.85"/>
<circle cx="90.1" cy="479" r="4" fill="#ea6a6a" stroke="#222" stroke-width="0.8" fill-opacity="0.85"/>
<circle cx="165.5" cy="462.2" r="4.7" fill="#d99a8a" fill-opacity="0.85"/>
<circle cx="282.1" cy="367.2" r="2.7" fill="#2a7ab9" fill-opacity="0.85"/>
<circle cx="282.4" cy="414.7" r="2.6" fill="#e9736e" fill-opacity="0.85"/>
<circle cx="86.8" cy="475.6" r="5.2" fill="#86c97f" fill-opacity="0.85"/>
<circle cx="112.1" cy="472.8" r="5" fill="#f39a3c" fill-opacity="0.85"/>
<circle cx="398.6" cy="83.5" r="3.8" fill="#f39a3c" fill-opacity="0.85"/>
<circle cx="176.4" cy="476.8" r="2.1" fill="#d99a8a" fill-opacity="0.85"/>
<circle cx="379.4" cy="169.4" r="1.5" fill="#d98f80" fill-opacity="0.85"/>
<circle cx="155.5" cy="407.1" r="3.4" fill="#c98a80" stroke="#222" stroke-width="0.8" fill-opacity="0.85"/>
<circle cx="366.6" cy="456.9" r="4.7" fill="#4daf4a" fill-opacity="0.85"/>
<circle cx="148.2" cy="476.3" r="4.8" fill="#f7b060" fill-opacity="0.85"/>
<circle cx="136.4" cy="460.1" r="4.4" fill="#7c9a62" stroke="#222" stroke-width="0.8" fill-opacity="0.85"/>
<circle cx="336.1" cy="210.8" r="4.1" fill="#c98a80" stroke="#222" stroke-width="0.8" fill-opacity="0.85"/>
<circle cx="119.3" cy="480.1" r="4.1" fill="#f39a3c" stroke="#222" stroke-width="0.8" fill-opacity="0.85"/>
<circle cx="177.6" cy="430.3" r="4.2" fill="#86c97f" fill-opacity="0.85"/>
<circle cx="441.6" cy="110.7" r="5.2" fill="#86c97f" fill-opacity="0.85"/>
<circle cx="209.9" cy="470.4" r="5" fill="#b8a2d4" fill-opacity="0.85"/>
<circle cx="145.7" cy="476.5" r="2" fill="#d99a8a" stroke="#222" stroke-width="0.8" fill-opacity="0.85"/>
<circle cx="173.8" cy="437.3" r="2.7" fill="#7c9a62" fill-opacity="0.85"/>
<circle cx="429.1" cy="83.5" r="1.8" fill="#8cbf88" fill-opacity="0.85"/>
<circle cx="418" cy="169.3" r="2.6" fill="#5bb55f" fill-opacity="0.85"/>
<circle cx="194.1" cy="441.2" r="4.9" fill="#7c9a62" fill-opacity="0.85"/>
<circle cx="353.9" cy="304.8" r="2.3" fill="#b8a2d4" fill-opacity="0.85"/>
<circle cx="105.7" cy="443" r="2.3" fill="#ea6a6a" fill-opacity="0.85"/>
<circle cx="172.5" cy="480" r="5.4" fill="#d99a8a" stroke="#222" stroke-width="0.8" fill-opacity="0.85"/>
<circle cx="304.4" cy="291" r="4.6" fill="#f7b060" fill-opacity="0.85"/>
<circle cx="283.8" cy="283.2" r="4.4" fill="#6f9a70" fill-opacity="0.85"/>
<circle cx="147.1" cy="457.1" r="4.1" fill="#f7b060" fill-opacity="0.85"/>
<circle cx="230" cy="330.8" r="3.8" fill="#c98a80" stroke="#222" stroke-width="0.8" fill-opacity="0.85"/>
<circle cx="341.7" cy="202.1" r="3.9" fill="#c98a80" fill-opacity="0.85"/>
<circle cx="162.3" cy="397.5" r="3.9" fill="#f39a3c" fill-opacity="0.85"/>
<circle cx="149.9" cy="428.2" r="4.2" fill="#f39a3c" stroke="#222" stroke-width="0.8" fill-opacity="0.85"/>
<circle cx="366.1" cy="97.1" r="2.9" fill="#7c9a62" stroke="#222" stroke-width="0.8" fill-opacity="0.85"/>
<circle cx="93" cy="478.5" r="5" fill="#f7b060" fill-opacity="0.85"/>
<circle cx="112.5" cy="452.8" r="4" fill="#f39a3c" fill-opacity="0.85"/>
<circle cx="377.5" cy="186.8" r="5" fill="#86c97f" fill-opacity="0.85"/>
<circle cx="184.8" cy="466.3" r="5.2" fill="#4daf4a" fill-opacity="0.85"/>
<circle cx="212.9" cy="436.6" r="5.5" fill="#2a7ab9" fill-opacity="0.85"/>
<circle cx="399.5" cy="129.6" r="4.5" fill="#6f9a70" fill-opacity="0.85"/>
<circle cx="286.5" cy="83.5" r="1.9" fill="#3a95b0" fill-opacity="0.85"/>
<circle cx="100" cy="478.2" r="5.2" fill="#ea6a6a" fill-opacity="0.85"/>
<circle cx="380.3" cy="171.7" r="3.7" fill="#7c9a62" stroke="#222" stroke-width="0.8" fill-opacity="0.85"/>
<circle cx="154.1" cy="463.4" r="3.7" fill="#86c97f" fill-opacity="0.85"/>
<circle cx="113.8" cy="442.1" r="5.6" fill="#b8a2d4" stroke="#222" stroke-width="0.8" fill-opacity="0.85"/>
<circle cx="147" cy="434.9" r="5.3" fill="#d99a8a" fill-opacity="0.85"/>
<circle cx="263.3" cy="291.2" r="4.9" fill="#4daf4a" fill-opacity="0.85"/>
<circle cx="432.4" cy="269.5" r="4.9" fill="#d98f80" fill-opacity="0.85"/>
<circle cx="397.8" cy="83.5" r="4.6" fill="#f08a4b" fill-opacity="0.85"/>
<circle cx="158.3" cy="427.7" r="5" fill="#f39a3c" fill-opacity="0.85"/>
<circle cx="278.2" cy="436.9" r="2.4" fill="#7c9a62" fill-opacity="0.85"/>
<circle cx="290" cy="204" r="4.6" fill="#d98f80" stroke="#222" stroke-width="0.8" fill-opacity="0.85"/>
<circle cx="296.7" cy="283.7" r="4.5" fill="#d98f80" fill-opacity="0.85"/>
<circle cx="409.3" cy="83.5" r="3.3" fill="#f39a3c" fill-opacity="0.85"/>
<circle cx="145.3" cy="458.8" r="4.6" fill="#2a7ab9" stroke="#222" stroke-width="0.8" fill-opacity="0.85"/>
<circle cx="152.7" cy="478.7" r="4.1" fill="#7c9a62" fill-opacity="0.85"/>
<circle cx="143.9" cy="480" r="2.5" fill="#f39a3c" fill-opacity="0.85"/>
<circle cx="226.6" cy="168.6" r="4" fill="#f39a3c" fill-opacity="0.85"/>
<circle cx="171.5" cy="383.4" r="3.9" fill="#6f9a70" fill-opacity="0.85"/>
<circle cx="218.8" cy="340.5" r="4.6" fill="#2a7ab9" stroke="#222" stroke-width="0.8" fill-opacity="0.85"/>
<circle cx="148.8" cy="454.4" r="3.6" fill="#2a7ab9" stroke="#222" stroke-width="0.8" fill-opacity="0.85"/>
<circle cx="136.2" cy="418.9" r="5" fill="#e3282a" fill-opacity="0.85"/>
<circle cx="386.3" cy="83.5" r="3.4" fill="#f39a3c" fill-opacity="0.85"/>
<circle cx="141.2" cy="83.5" r="1.4" fill="#d98f80" fill-opacity="0.85"/>
<circle cx="387.2" cy="83.5" r="3.4" fill="#4daf4a" fill-opacity="0.85"/>
<circle cx="197.5" cy="373" r="3.8" fill="#4daf4a" fill-opacity="0.85"/>
<circle cx="94.5" cy="444.6" r="3.9" fill="#f7b060" fill-opacity="0.85"/>
<circle cx="186" cy="359.7" r="5.2" fill="#e8565a" fill-opacity="0.85"/>
<circle cx="136.8" cy="401.6" r="3.2" fill="#4daf4a" fill-opacity="0.85"/>
<circle cx="147.3" cy="423.1" r="1.9" fill="#5bb55f" fill-opacity="0.85"/>
<circle cx="157.2" cy="480.5" r="4.5" fill="#d99a8a" fill-opacity="0.85"/>
<circle cx="130.6" cy="423.7" r="3.1" fill="#e8565a" fill-opacity="0.85"/>
<circle cx="138.9" cy="477.8" r="1.5" fill="#d99a8a" fill-opacity="0.85"/>
<circle cx="186.2" cy="451.8" r="3.5" fill="#d99a8a" stroke="#222" stroke-width="0.8" fill-opacity="0.85"/>
<circle cx="121.2" cy="415.3" r="4.4" fill="#4daf4a" fill-opacity="0.85"/>
<circle cx="154.4" cy="463.9" r="2" fill="#2a7ab9" stroke="#222" stroke-width="0.8" fill-opacity="0.85"/>
<circle cx="276" cy="298.7" r="5.3" fill="#6f9a70" fill-opacity="0.85"/>
<circle cx="330.2" cy="83.5" r="3.3" fill="#5bb55f" stroke="#222" stroke-width="0.8" fill-opacity="0.85"/>
<circle cx="95.2" cy="474.5" r="1.6" fill="#f7b060" stroke="#222" stroke-width="0.8" fill-opacity="0.85"/>
<circle cx="412.6" cy="139.1" r="4.3" fill="#86c97f" fill-opacity="0.85"/>
<circle cx="190.9" cy="414.8" r="4.2" fill="#f7b060" fill-opacity="0.85"/>
<circle cx="356.5" cy="198.4" r="4.8" fill="#c98a80" fill-opacity="0.85"/>
<circle cx="158.5" cy="431.8" r="4.3" fill="#d99a8a" fill-opacity="0.85"/>
<circle cx="125" cy="437.6" r="4.9" fill="#f39a3c" fill-opacity="0.85"/>
<circle cx="177.9" cy="380.4" r="5.4" fill="#b8a2d4" fill-opacity="0.85"/>
<circle cx="151.7" cy="464.6" r="3.8" fill="#f39a3c" fill-opacity="0.85"/>
<circle cx="341.7" cy="244.6" r="4.9" fill="#b8a2d4" fill-opacity="0.85"/>
<circle cx="92.9" cy="468.2" r="5.6" fill="#b8a2d4" fill-opacity="0.85"/>
<circle cx="178.5" cy="460.3" r="5" fill="#d99a8a" stroke="#222" stroke-width="0.8" fill-opacity="0.85"/>
<circle cx="205" cy="360.8" r="2.8" fill="#4daf4a" fill-opacity="0.85"/>
<circle cx="386.4" cy="83.5" r="4.3" fill="#7c9a62" fill-opacity="0.85"/>
<circle cx="163.3" cy="475.1" r="2.5" fill="#ea6a6a" stroke="#222" stroke-width="0.8" fill-opacity="0.85"/>
<circle cx="363" cy="412" r="4.9" fill="#e8565a" fill-opacity="0.85"/>
<circle cx="218.6" cy="352.4" r="4.2" fill="#e8565a" fill-opacity="0.85"/>
<circle cx="112.7" cy="480.1" r="5.2" fill="#f7b060" stroke="#222" stroke-width="0.8" fill-opacity="0.85"/>
<circle cx="186.6" cy="251.7" r="1.4" fill="#8cbf88" fill-opacity="0.85"/>
<circle cx="137.1" cy="83.5" r="2.2" fill="#f39a3c" fill-opacity="0.85"/>
<circle cx="340.7" cy="276.4" r="4.5" fill="#5bb55f" fill-opacity="0.85"/>
<circle cx="106.9" cy="443.6" r="1.8" fill="#ea6a6a" fill-opacity="0.85"/>
<circle cx="375" cy="417.7" r="3.9" fill="#8cbf88" fill-opacity="0.85"/>
<circle cx="127.8" cy="293" r="5.3" fill="#f08a4b" fill-opacity="0.85"/>
<circle cx="199.3" cy="368.1" r="3.6" fill="#d98f80" fill-opacity="0.85"/>
<circle cx="386.2" cy="136.8" r="2.5" fill="#e8565a" stroke="#222" stroke-width="0.8" fill-opacity="0.85"/>
<circle cx="388.8" cy="193.5" r="4.9" fill="#4daf4a" fill-opacity="0.85"/>
<circle cx="203.6" cy="335.5" r="4.5" fill="#6f9a70" stroke="#222" stroke-width="0.8" fill-opacity="0.85"/>
<circle cx="121.9" cy="479.8" r="5.5" fill="#86c97f" stroke="#222" stroke-width="0.8" fill-opacity="0.85"/>
<circle cx="132" cy="432.2" r="2.5" fill="#f39a3c" fill-opacity="0.85"/>
<circle cx="196.3" cy="329.3" r="2.2" fill="#d98f80" fill-opacity="0.85"/>
<circle cx="189.6" cy="440.5" r="4.2" fill="#4daf4a" fill-opacity="0.85"/>
<circle cx="150.7" cy="83.5" r="2.2" fill="#e8565a" fill-opacity="0.85"/>
<circle cx="432" cy="83.5" r="2.3" fill="#f08a4b" fill-opacity="0.85"/>
<circle cx="261.7" cy="352.1" r="3.3" fill="#e8565a" fill-opacity="0.85"/>
<circle cx="187.8" cy="460.8" r="5" fill="#ea6a6a" fill-opacity="0.85"/>
<circle cx="189.3" cy="357.4" r="5.5" fill="#d98f80" fill-opacity="0.85"/>
<circle cx="89.4" cy="469.8" r="4.1" fill="#ea6a6a" fill-opacity="0.85"/>
<circle cx="196.1" cy="436.7" r="2.6" fill="#2a7ab9" stroke="#222" stroke-width="0.8" fill-opacity="0.85"/>
<circle cx="175" cy="457.4" r="4.2" fill="#d99a8a" fill-opacity="0.85"/>
<circle cx="400" cy="322.4" r="3.1" fill="#b8a2d4" fill-opacity="0.85"/>
<circle cx="401.7" cy="83.5" r="4.2" fill="#f39a3c" fill-opacity="0.85"/>
<circle cx="266.3" cy="83.5" r="2.2" fill="#e8565a" fill-opacity="0.85"/>
<circle cx="115.8" cy="476.9" r="4.3" fill="#d99a8a" stroke="#222" stroke-width="0.8" fill-opacity="0.85"/>
<circle cx="117" cy="466.2" r="5" fill="#4daf4a" fill-opacity="0.85"/>
<circle cx="104" cy="476.4" r="5.5" fill="#b8a2d4" stroke="#222" stroke-width="0.8" fill-opacity="0.85"/>
<circle cx="169" cy="83.5" r="2.3" fill="#7c9a62" fill-opacity="0.85"/>
<circle cx="130.9" cy="476.2" r="2.2" fill="#f39a3c" stroke="#222" stroke-width="0.8" fill-opacity="0.85"/>
<circle cx="103.3" cy="479" r="4.3" fill="#7c9a62" stroke="#222" stroke-width="0.8" fill-opacity="0.85"/>
<circle cx="101.1" cy="446.3" r="3.5" fill="#d99a8a" fill-opacity="0.85"/>
<circle cx="259.7" cy="410.9" r="3.9" fill="#3a95b0" fill-opacity="0.85"/>
<circle cx="225.7" cy="306.2" r="4.6" fill="#f39a3c" stroke="#222" stroke-width="0.8" fill-opacity="0.85"/>
<circle cx="204.3" cy="424.7" r="4.4" fill="#d99a8a" fill-opacity="0.85"/>
<circle cx="111.3" cy="477.5" r="5.5" fill="#d99a8a" stroke="#222" stroke-width="0.8" fill-opacity="0.85"/>
<circle cx="282" cy="83.5" r="2.3" fill="#f39a3c" fill-opacity="0.85"/>
<circle cx="425.3" cy="112.6" r="5.5" fill="#4daf4a" fill-opacity="0.85"/>
<circle cx="364.5" cy="385.6" r="2.7" fill="#f39a3c" fill-opacity="0.85"/>
<circle cx="294.4" cy="325.7" r="3" fill="#4daf4a" fill-opacity="0.85"/>
<circle cx="318.7" cy="314.8" r="3.5" fill="#7c9a62" fill-opacity="0.85"/>
<circle cx="91.4" cy="467.2" r="4.5" fill="#ea6a6a" stroke="#222" stroke-width="0.8" fill-opacity="0.85"/>
<circle cx="159.4" cy="435.6" r="3.2" fill="#4daf4a" fill-opacity="0.85"/>
<circle cx="181" cy="433.6" r="5.1" fill="#7c9a62" fill-opacity="0.85"/>
<circle cx="166.3" cy="452.3" r="5.4" fill="#f39a3c" fill-opacity="0.85"/>
<circle cx="375.9" cy="204.7" r="1.6" fill="#8cbf88" fill-opacity="0.85"/>
<circle cx="254.3" cy="83.5" r="1.9" fill="#b8a2d4" fill-opacity="0.85"/>
<circle cx="419.8" cy="458.9" r="4.1" fill="#e8565a" fill-opacity="0.85"/>
<circle cx="349.2" cy="204.1" r="5.5" fill="#c98a80" fill-opacity="0.85"/>
<circle cx="440.5" cy="101.4" r="4.7" fill="#86c97f" fill-opacity="0.85"/>
<circle cx="174.1" cy="381.1" r="4.1" fill="#f39a3c" fill-opacity="0.85"/>
<circle cx="143.6" cy="449" r="3.7" fill="#e3282a" stroke="#222" stroke-width="0.8" fill-opacity="0.85"/>
<circle cx="197.3" cy="360" r="4.7" fill="#f39a3c" fill-opacity="0.85"/>
<circle cx="166.5" cy="477.6" r="5" fill="#f39a3c" fill-opacity="0.85"/>
<circle cx="290.6" cy="377.6" r="2.5" fill="#f08a4b" fill-opacity="0.85"/>
<circle cx="252.8" cy="248.2" r="4.5" fill="#8cbf88" fill-opacity="0.85"/>
<circle cx="104.7" cy="476.6" r="4.8" fill="#b8a2d4" fill-opacity="0.85"/>
<circle cx="131.6" cy="441.4" r="5.6" fill="#f39a3c" fill-opacity="0.85"/>
<circle cx="392.4" cy="442.6" r="4.7" fill="#f39a3c" fill-opacity="0.85"/>
<circle cx="347.8" cy="83.5" r="2.7" fill="#f08a4b" fill-opacity="0.85"/>
<circle cx="419.5" cy="137.9" r="2.3" fill="#4daf4a" fill-opacity="0.85"/>
<circle cx="363.7" cy="83.5" r="1.7" fill="#f39a3c" fill-opacity="0.85"/>
<circle cx="93.5" cy="461.2" r="2" fill="#f7b060" stroke="#222" stroke-width="0.8" fill-opacity="0.85"/>
<circle cx="124.9" cy="470.7" r="4.1" fill="#f39a3c" fill-opacity="0.85"/>
<circle cx="418.1" cy="83.5" r="2.8" fill="#d98f80" stroke="#222" stroke-width="0.8" fill-opacity="0.85"/>
<circle cx="181.9" cy="462" r="5.3" fill="#ea6a6a" fill-opacity="0.85"/>
<circle cx="138.4" cy="429.2" r="4.9" fill="#e3282a" fill-opacity="0.85"/>
<circle cx="188.6" cy="377.7" r="3.1" fill="#d98f80" fill-opacity="0.85"/>
<circle cx="403.1" cy="83.5" r="5.4" fill="#7c9a62" fill-opacity="0.85"/>
<circle cx="257.9" cy="383.1" r="4.5" fill="#5bb55f" fill-opacity="0.85"/>
<circle cx="248.7" cy="303.3" r="4.7" fill="#86c97f" fill-opacity="0.85"/>
<circle cx="204.7" cy="273.5" r="3.6" fill="#4daf4a" fill-opacity="0.85"/>
<circle cx="175.9" cy="441.6" r="3.8" fill="#d99a8a" fill-opacity="0.85"/>
<circle cx="334" cy="428.2" r="4.1" fill="#f39a3c" fill-opacity="0.85"/>
<circle cx="306.6" cy="318.1" r="3.8" fill="#8cbf88" fill-opacity="0.85"/>
<circle cx="139" cy="421.9" r="4.3" fill="#d99a8a" stroke="#222" stroke-width="0.8" fill-opacity="0.85"/>
<circle cx="152.9" cy="83.5" r="1.7" fill="#7c9a62" fill-opacity="0.85"/>
<circle cx="108.2" cy="471.3" r="5.2" fill="#d99a8a" fill-opacity="0.85"/>
<circle cx="109.2" cy="470.7" r="1.5" fill="#f39a3c" stroke="#222" stroke-width="0.8" fill-opacity="0.85"/>
<circle cx="254.2" cy="197.7" r="1.6" fill="#f08a4b" fill-opacity="0.85"/>
<circle cx="145.9" cy="420.1" r="5.2" fill="#f39a3c" fill-opacity="0.85"/>
<circle cx="213.1" cy="439.5" r="2.7" fill="#4daf4a" fill-opacity="0.85"/>
<circle cx="115.4" cy="449.7" r="4.2" fill="#d98f80" fill-opacity="0.85"/>
<circle cx="183.1" cy="479.4" r="1.7" fill="#7c9a62" stroke="#222" stroke-width="0.8" fill-opacity="0.85"/>
<circle cx="118.9" cy="468" r="4.2" fill="#f7b060" fill-opacity="0.85"/>
<circle cx="423.7" cy="98.3" r="4.7" fill="#86c97f" fill-opacity="0.85"/>
<circle cx="200.6" cy="353.3" r="5.1" fill="#4daf4a" fill-opacity="0.85"/>
<circle cx="345.4" cy="203.1" r="4.1" fill="#4daf4a" stroke="#222" stroke-width="0.8" fill-opacity="0.85"/>
<circle cx="283.7" cy="252.2" r="1.6" fill="#2a7ab9" fill-opacity="0.85"/>
<circle cx="268.9" cy="373" r="5.5" fill="#7c9a62" fill-opacity="0.85"/>
<circle cx="410.9" cy="388.6" r="3.7" fill="#f39a3c" fill-opacity="0.85"/>
<circle cx="297.4" cy="466.4" r="5.2" fill="#7c9a62" fill-opacity="0.85"/>
<circle cx="140.6" cy="475.8" r="5.2" fill="#f08a4b" fill-opacity="0.85"/>
<circle cx="271.4" cy="189.8" r="3.8" fill="#86c97f" fill-opacity="0.85"/>
<circle cx="369.2" cy="151.3" r="3.6" fill="#f39a3c" fill-opacity="0.85"/>
<circle cx="198.5" cy="317" r="4.3" fill="#d98f80" fill-opacity="0.85"/>
<circle cx="214.6" cy="351.6" r="3.5" fill="#6f9a70" fill-opacity="0.85"/>
<circle cx="263.8" cy="476" r="3.8" fill="#5bb55f" fill-opacity="0.85"/>
<circle cx="341.5" cy="292.4" r="5.1" fill="#e8565a" fill-opacity="0.85"/>
<polygon points="95.1,436.3 124.4,408.2 153.7,379.9 183,351.3 212.3,322.4 241.6,293.3 270.8,263.9 300.1,234.2 329.4,204.3 358.7,174.1 388,143.6 417.3,112.9 446.6,81.9 446.6,101 417.3,129.1 388,157.4 358.7,186 329.4,214.9 300.1,244 270.8,273.4 241.6,303.1 212.3,333 183,363.2 153.7,393.6 124.4,424.4 95.1,455.3" fill="#9aa0a8" fill-opacity="0.55"/>
<line x1="95.1" y1="445.8" x2="446.6" y2="91.5" stroke="#8a8e96" stroke-width="2.0"/>
<line x1="57" y1="64" x2="57" y2="503" stroke="#555" stroke-width="1.3"/>
<line x1="57" y1="503" x2="479" y2="503" stroke="#555" stroke-width="1.3"/>
<line x1="53.5" y1="481.2" x2="57" y2="481.2" stroke="#555" stroke-width="1.2"/>
<text x="52" y="487.5" font-size="17.5" text-anchor="end" fill="#4d4d4d" stroke="#4d4d4d" stroke-width="0.3">0.0</text>
<line x1="76.7" y1="503" x2="76.7" y2="506.5" stroke="#555" stroke-width="1.2"/>
<text x="76.7" y="521.5" font-size="18" text-anchor="middle" fill="#4d4d4d" stroke="#4d4d4d" stroke-width="0.3">0.0</text>
<line x1="53.5" y1="401.7" x2="57" y2="401.7" stroke="#555" stroke-width="1.2"/>
<text x="52" y="408" font-size="17.5" text-anchor="end" fill="#4d4d4d" stroke="#4d4d4d" stroke-width="0.3">0.2</text>
<line x1="153.4" y1="503" x2="153.4" y2="506.5" stroke="#555" stroke-width="1.2"/>
<text x="153.4" y="521.5" font-size="18" text-anchor="middle" fill="#4d4d4d" stroke="#4d4d4d" stroke-width="0.3">0.2</text>
<line x1="53.5" y1="322.1" x2="57" y2="322.1" stroke="#555" stroke-width="1.2"/>
<text x="52" y="328.4" font-size="17.5" text-anchor="end" fill="#4d4d4d" stroke="#4d4d4d" stroke-width="0.3">0.4</text>
<line x1="230" y1="503" x2="230" y2="506.5" stroke="#555" stroke-width="1.2"/>
<text x="230" y="521.5" font-size="18" text-anchor="middle" fill="#4d4d4d" stroke="#4d4d4d" stroke-width="0.3">0.4</text>
<line x1="53.5" y1="242.6" x2="57" y2="242.6" stroke="#555" stroke-width="1.2"/>
<text x="52" y="248.9" font-size="17.5" text-anchor="end" fill="#4d4d4d" stroke="#4d4d4d" stroke-width="0.3">0.6</text>
<line x1="306.7" y1="503" x2="306.7" y2="506.5" stroke="#555" stroke-width="1.2"/>
<text x="306.7" y="521.5" font-size="18" text-anchor="middle" fill="#4d4d4d" stroke="#4d4d4d" stroke-width="0.3">0.6</text>
<line x1="53.5" y1="163" x2="57" y2="163" stroke="#555" stroke-width="1.2"/>
<text x="52" y="169.3" font-size="17.5" text-anchor="end" fill="#4d4d4d" stroke="#4d4d4d" stroke-width="0.3">0.8</text>
<line x1="383.3" y1="503" x2="383.3" y2="506.5" stroke="#555" stroke-width="1.2"/>
<text x="383.3" y="521.5" font-size="18" text-anchor="middle" fill="#4d4d4d" stroke="#4d4d4d" stroke-width="0.3">0.8</text>
<line x1="53.5" y1="83.5" x2="57" y2="83.5" stroke="#555" stroke-width="1.2"/>
<text x="52" y="89.8" font-size="17.5" text-anchor="end" fill="#4d4d4d" stroke="#4d4d4d" stroke-width="0.3">1.0</text>
<line x1="460" y1="503" x2="460" y2="506.5" stroke="#555" stroke-width="1.2"/>
<text x="460" y="521.5" font-size="18" text-anchor="middle" fill="#4d4d4d" stroke="#4d4d4d" stroke-width="0.3">1.0</text>
<text x="66.5" y="79.5" font-size="17" stroke="#000" stroke-width="0.3">Pearson's r = 0.78</text>
<text x="66.5" y="100.8" font-size="17" stroke="#000" stroke-width="0.3">Gradient = 1</text>
<text x="66.5" y="122.1" font-size="17" stroke="#000" stroke-width="0.3">Median sample</text>
<text x="66.5" y="143.4" font-size="17" stroke="#000" stroke-width="0.3">ctDNA fraction = 0.9%</text>
<text x="268" y="546" font-size="24" text-anchor="middle" stroke="#000" stroke-width="0.3">Subclone CCF (WES, Tissue)</text>
<text x="17.8" y="283.5" font-size="24" text-anchor="middle" stroke="#000" stroke-width="0.3" transform="rotate(-90 17.8 283.5)">Subclone CCF (ECLIPSE, Plasma)</text>
<text x="488.8" y="19" font-size="27.5" font-weight="bold">b</text>
<text x="751" y="50.5" font-size="20" text-anchor="middle" stroke="#000" stroke-width="0.3">Cancer cell fractions at surgery</text>
<circle cx="921.6" cy="169.7" r="5.5" fill="#86c97f" fill-opacity="0.85"/>
<circle cx="759.3" cy="267.7" r="5.2" fill="#7c9a62" stroke="#222" stroke-width="0.8" fill-opacity="0.85"/>
<circle cx="794.3" cy="368.9" r="4.3" fill="#7c9a62" stroke="#222" stroke-width="0.8" fill-opacity="0.85"/>
<circle cx="894.8" cy="305.6" r="2.8" fill="#4daf4a" fill-opacity="0.85"/>
<circle cx="630.5" cy="478.9" r="5.2" fill="#d99a8a" fill-opacity="0.85"/>
<circle cx="735.3" cy="424" r="3.8" fill="#f08a4b" fill-opacity="0.85"/>
<circle cx="789.7" cy="335.2" r="1.7" fill="#2a7ab9" fill-opacity="0.85"/>
<circle cx="612.3" cy="463.2" r="3.5" fill="#86c97f" fill-opacity="0.85"/>
<circle cx="697.9" cy="352.7" r="1.6" fill="#7c9a62" fill-opacity="0.85"/>
<circle cx="785.7" cy="433.5" r="5.4" fill="#4daf4a" fill-opacity="0.85"/>
<circle cx="699.5" cy="405.9" r="4.6" fill="#f39a3c" fill-opacity="0.85"/>
<circle cx="679.5" cy="478.6" r="4.8" fill="#f39a3c" fill-opacity="0.85"/>
<circle cx="654.1" cy="479.1" r="5.2" fill="#ea6a6a" fill-opacity="0.85"/>
<circle cx="770.9" cy="321" r="5.4" fill="#4daf4a" fill-opacity="0.85"/>
<circle cx="625.4" cy="458.7" r="4" fill="#d99a8a" fill-opacity="0.85"/>
<circle cx="932.8" cy="184.6" r="4.9" fill="#8cbf88" fill-opacity="0.85"/>
<circle cx="775" cy="174.6" r="3.5" fill="#7c9a62" fill-opacity="0.85"/>
<circle cx="697" cy="443.2" r="3.7" fill="#f39a3c" fill-opacity="0.85"/>
<circle cx="595.2" cy="476.1" r="5.5" fill="#f39a3c" stroke="#222" stroke-width="0.8" fill-opacity="0.85"/>
<circle cx="589.4" cy="458.3" r="3.6" fill="#ea6a6a" fill-opacity="0.85"/>
<circle cx="859" cy="229.3" r="3.9" fill="#e8565a" stroke="#222" stroke-width="0.8" fill-opacity="0.85"/>
<circle cx="917" cy="247.6" r="2.6" fill="#7c9a62" fill-opacity="0.85"/>
<circle cx="915.9" cy="177.6" r="4" fill="#4daf4a" fill-opacity="0.85"/>
<circle cx="645.9" cy="468.7" r="2.5" fill="#f7b060" fill-opacity="0.85"/>
<circle cx="630.9" cy="474.7" r="5.2" fill="#f39a3c" fill-opacity="0.85"/>
<circle cx="646.5" cy="477.1" r="2.4" fill="#f39a3c" stroke="#222" stroke-width="0.8" fill-opacity="0.85"/>
<circle cx="772.6" cy="100.1" r="5.5" fill="#4daf4a" fill-opacity="0.85"/>
<circle cx="648.7" cy="446.5" r="5.1" fill="#f39a3c" fill-opacity="0.85"/>
<circle cx="674.3" cy="458.3" r="2.3" fill="#4daf4a" fill-opacity="0.85"/>
<circle cx="638.1" cy="402.1" r="2.5" fill="#2a7ab9" fill-opacity="0.85"/>
<circle cx="912" cy="79.8" r="5.4" fill="#3a95b0" fill-opacity="0.85"/>
<circle cx="744.6" cy="336.7" r="3.9" fill="#86c97f" stroke="#222" stroke-width="0.8" fill-opacity="0.85"/>
<circle cx="675.6" cy="479.1" r="5" fill="#f39a3c" fill-opacity="0.85"/>
<circle cx="625.7" cy="473.8" r="2.2" fill="#ea6a6a" stroke="#222" stroke-width="0.8" fill-opacity="0.85"/>
<circle cx="617.6" cy="473.3" r="4.1" fill="#b8a2d4" fill-opacity="0.85"/>
<circle cx="602.2" cy="475.3" r="4.6" fill="#d99a8a" stroke="#222" stroke-width="0.8" fill-opacity="0.85"/>
<circle cx="598.8" cy="445.9" r="5.1" fill="#f39a3c" fill-opacity="0.85"/>
<circle cx="670.2" cy="478.6" r="5" fill="#f39a3c" fill-opacity="0.85"/>
<circle cx="683.5" cy="456.1" r="4.8" fill="#86c97f" fill-opacity="0.85"/>
<circle cx="676.8" cy="479" r="4.7" fill="#4daf4a" fill-opacity="0.85"/>
<circle cx="624.5" cy="425.9" r="4.8" fill="#f7b060" fill-opacity="0.85"/>
<circle cx="633.1" cy="451.7" r="5.5" fill="#f39a3c" fill-opacity="0.85"/>
<circle cx="780.6" cy="276.4" r="5.5" fill="#f39a3c" fill-opacity="0.85"/>
<circle cx="869.3" cy="279.3" r="5.7" fill="#86c97f" stroke="#222" stroke-width="0.8" fill-opacity="0.85"/>
<circle cx="935.5" cy="105.1" r="5.8" fill="#86c97f" fill-opacity="0.85"/>
<circle cx="641.5" cy="478.7" r="4.5" fill="#f39a3c" fill-opacity="0.85"/>
<circle cx="664.5" cy="478.5" r="4.6" fill="#e3282a" fill-opacity="0.85"/>
<circle cx="860.4" cy="260.2" r="2.6" fill="#d98f80" fill-opacity="0.85"/>
<circle cx="916.1" cy="79.8" r="2.9" fill="#3a95b0" fill-opacity="0.85"/>
<circle cx="672" cy="475.3" r="5.1" fill="#f39a3c" fill-opacity="0.85"/>
<circle cx="667.1" cy="477.2" r="5" fill="#2a7ab9" fill-opacity="0.85"/>
<circle cx="686.8" cy="426.5" r="4.2" fill="#f7b060" fill-opacity="0.85"/>
<circle cx="916.1" cy="293.7" r="3.3" fill="#8cbf88" fill-opacity="0.85"/>
<circle cx="654.8" cy="446.7" r="5.5" fill="#ea6a6a" fill-opacity="0.85"/>
<circle cx="749.5" cy="414.2" r="5.6" fill="#2a7ab9" fill-opacity="0.85"/>
<circle cx="646.7" cy="392.7" r="3.2" fill="#6f9a70" fill-opacity="0.85"/>
<circle cx="806.6" cy="378.5" r="3.3" fill="#4daf4a" fill-opacity="0.85"/>
<circle cx="643.6" cy="477.1" r="4.2" fill="#d99a8a" fill-opacity="0.85"/>
<circle cx="643" cy="478.6" r="4.8" fill="#f39a3c" fill-opacity="0.85"/>
<circle cx="936.5" cy="266.3" r="5.3" fill="#e3282a" fill-opacity="0.85"/>
<circle cx="668" cy="474.2" r="5.3" fill="#4daf4a" fill-opacity="0.85"/>
<circle cx="609.9" cy="460.2" r="4.4" fill="#f39a3c" fill-opacity="0.85"/>
<circle cx="782.2" cy="79.8" r="1.9" fill="#86c97f" fill-opacity="0.85"/>
<circle cx="670.8" cy="476" r="1.9" fill="#d99a8a" stroke="#222" stroke-width="0.8" fill-opacity="0.85"/>
<circle cx="794.2" cy="464.1" r="4.8" fill="#2a7ab9" fill-opacity="0.85"/>
<circle cx="790.6" cy="159.7" r="2.5" fill="#d98f80" fill-opacity="0.85"/>
<circle cx="856.4" cy="332.2" r="2" fill="#e9736e" stroke="#222" stroke-width="0.8" fill-opacity="0.85"/>
<circle cx="630.2" cy="476.6" r="4.8" fill="#ea6a6a" fill-opacity="0.85"/>
<circle cx="764.3" cy="299.8" r="3.7" fill="#c98a80" stroke="#222" stroke-width="0.8" fill-opacity="0.85"/>
<circle cx="890.4" cy="474.7" r="2.9" fill="#f39a3c" fill-opacity="0.85"/>
<circle cx="896.7" cy="169.5" r="5.1" fill="#f39a3c" fill-opacity="0.85"/>
<circle cx="862.4" cy="265.3" r="4.3" fill="#e8565a" fill-opacity="0.85"/>
<circle cx="691.5" cy="448.6" r="4.4" fill="#4daf4a" fill-opacity="0.85"/>
<circle cx="909.9" cy="229.2" r="2.3" fill="#c98a80" fill-opacity="0.85"/>
<circle cx="940.2" cy="140.3" r="4.3" fill="#c98a80" fill-opacity="0.85"/>
<circle cx="652.7" cy="477.4" r="5.2" fill="#ea6a6a" fill-opacity="0.85"/>
<circle cx="713.5" cy="402.2" r="2.9" fill="#d98f80" fill-opacity="0.85"/>
<circle cx="641.9" cy="451.3" r="4.8" fill="#3a95b0" fill-opacity="0.85"/>
<circle cx="596.7" cy="475" r="5" fill="#d99a8a" fill-opacity="0.85"/>
<circle cx="748.1" cy="227.7" r="1.5" fill="#e3282a" fill-opacity="0.85"/>
<circle cx="632.6" cy="440.3" r="4.7" fill="#e3282a" fill-opacity="0.85"/>
<circle cx="669.5" cy="410.5" r="2.1" fill="#5bb55f" fill-opacity="0.85"/>
<circle cx="655.8" cy="216.4" r="2.5" fill="#7c9a62" fill-opacity="0.85"/>
<circle cx="923.2" cy="267.5" r="3.6" fill="#d98f80" fill-opacity="0.85"/>
<circle cx="608.1" cy="478.8" r="1.9" fill="#f39a3c" stroke="#222" stroke-width="0.8" fill-opacity="0.85"/>
<circle cx="684.1" cy="433" r="4" fill="#ea6a6a" fill-opacity="0.85"/>
<circle cx="738.8" cy="79.8" r="2.3" fill="#f08a4b" fill-opacity="0.85"/>
<circle cx="787.8" cy="79.8" r="2.3" fill="#5bb55f" fill-opacity="0.85"/>
<circle cx="868.8" cy="79.8" r="4.5" fill="#3a95b0" fill-opacity="0.85"/>
<circle cx="683.3" cy="422.6" r="5.2" fill="#2a7ab9" fill-opacity="0.85"/>
<circle cx="692.2" cy="414.6" r="3.9" fill="#4daf4a" fill-opacity="0.85"/>
<circle cx="616.6" cy="428.1" r="4.5" fill="#f7b060" fill-opacity="0.85"/>
<circle cx="696.4" cy="167.5" r="1.7" fill="#7c9a62" fill-opacity="0.85"/>
<circle cx="793.1" cy="402.2" r="4.6" fill="#4daf4a" fill-opacity="0.85"/>
<circle cx="921.3" cy="116.5" r="2.6" fill="#e3282a" fill-opacity="0.85"/>
<circle cx="667.4" cy="444.6" r="4.3" fill="#b8a2d4" fill-opacity="0.85"/>
<circle cx="779.3" cy="279.8" r="3.8" fill="#e8565a" fill-opacity="0.85"/>
<circle cx="721.8" cy="356.9" r="2.2" fill="#f39a3c" fill-opacity="0.85"/>
<circle cx="642.9" cy="478.5" r="5" fill="#4daf4a" fill-opacity="0.85"/>
<circle cx="656.4" cy="472.4" r="4.2" fill="#ea6a6a" fill-opacity="0.85"/>
<circle cx="638.8" cy="446.1" r="1.7" fill="#c98a80" fill-opacity="0.85"/>
<circle cx="742.8" cy="327.4" r="5.3" fill="#d98f80" fill-opacity="0.85"/>
<circle cx="624.3" cy="459.5" r="4" fill="#4daf4a" fill-opacity="0.85"/>
<circle cx="631.4" cy="456.7" r="4.1" fill="#2a7ab9" fill-opacity="0.85"/>
<circle cx="677" cy="478.3" r="2.1" fill="#f7b060" fill-opacity="0.85"/>
<circle cx="683.2" cy="437.4" r="4.8" fill="#f7b060" fill-opacity="0.85"/>
<circle cx="628.4" cy="396.6" r="4.8" fill="#f39a3c" fill-opacity="0.85"/>
<circle cx="713.3" cy="349.3" r="5.1" fill="#86c97f" stroke="#222" stroke-width="0.8" fill-opacity="0.85"/>
<circle cx="592.8" cy="473.2" r="1.6" fill="#4daf4a" fill-opacity="0.85"/>
<circle cx="599.6" cy="478.8" r="4.2" fill="#f39a3c" fill-opacity="0.85"/>
<circle cx="770" cy="125.7" r="4.4" fill="#8cbf88" fill-opacity="0.85"/>
<circle cx="687.7" cy="439.1" r="3.9" fill="#d99a8a" fill-opacity="0.85"/>
<circle cx="681.9" cy="457.6" r="5.4" fill="#d99a8a" fill-opacity="0.85"/>
<circle cx="591.9" cy="461.4" r="5.2" fill="#2a7ab9" stroke="#222" stroke-width="0.8" fill-opacity="0.85"/>
<circle cx="656.4" cy="476.7" r="3.8" fill="#86c97f" fill-opacity="0.85"/>
<circle cx="680.3" cy="472.2" r="3.2" fill="#86c97f" fill-opacity="0.85"/>
<circle cx="795.5" cy="135.9" r="3.3" fill="#86c97f" fill-opacity="0.85"/>
<circle cx="833.8" cy="354.6" r="3.7" fill="#3a95b0" fill-opacity="0.85"/>
<circle cx="939.7" cy="378" r="5.1" fill="#b8a2d4" fill-opacity="0.85"/>
<circle cx="728.4" cy="358.9" r="5.4" fill="#3a95b0" fill-opacity="0.85"/>
<circle cx="602.3" cy="446.1" r="4.4" fill="#d99a8a" fill-opacity="0.85"/>
<circle cx="602.3" cy="478.1" r="5.4" fill="#f7b060" stroke="#222" stroke-width="0.8" fill-opacity="0.85"/>
<circle cx="663.9" cy="146.6" r="3" fill="#f39a3c" fill-opacity="0.85"/>
<circle cx="741.6" cy="420.6" r="2.7" fill="#4daf4a" fill-opacity="0.85"/>
<circle cx="600.3" cy="450.1" r="4.5" fill="#f7b060" fill-opacity="0.85"/>
<circle cx="675.8" cy="465.6" r="5.2" fill="#ea6a6a" fill-opacity="0.85"/>
<circle cx="637.8" cy="445.3" r="4.2" fill="#f39a3c" fill-opacity="0.85"/>
<circle cx="671.3" cy="464.9" r="4.4" fill="#ea6a6a" fill-opacity="0.85"/>
<circle cx="711.2" cy="425.4" r="4.4" fill="#f7b060" stroke="#222" stroke-width="0.8" fill-opacity="0.85"/>
<circle cx="624.1" cy="477.3" r="2.5" fill="#e3282a" fill-opacity="0.85"/>
<circle cx="618.5" cy="446.1" r="2.3" fill="#f08a4b" fill-opacity="0.85"/>
<circle cx="780.7" cy="375.1" r="4.8" fill="#c98a80" fill-opacity="0.85"/>
<circle cx="831.7" cy="459.4" r="4.8" fill="#f7b060" fill-opacity="0.85"/>
<circle cx="905" cy="217" r="4.5" fill="#7c9a62" fill-opacity="0.85"/>
<circle cx="771.4" cy="372" r="4.9" fill="#f39a3c" stroke="#222" stroke-width="0.8" fill-opacity="0.85"/>
<circle cx="648.4" cy="479.1" r="5.3" fill="#d99a8a" stroke="#222" stroke-width="0.8" fill-opacity="0.85"/>
<circle cx="924.9" cy="145.2" r="3.5" fill="#f39a3c" fill-opacity="0.85"/>
<circle cx="718" cy="422.7" r="4.5" fill="#e9736e" fill-opacity="0.85"/>
<circle cx="865.5" cy="233.9" r="4" fill="#d98f80" fill-opacity="0.85"/>
<circle cx="865.6" cy="227.2" r="4.5" fill="#3a95b0" fill-opacity="0.85"/>
<circle cx="836.7" cy="336.5" r="3.1" fill="#e8565a" fill-opacity="0.85"/>
<circle cx="821.2" cy="154.1" r="5.2" fill="#b8a2d4" fill-opacity="0.85"/>
<circle cx="675.7" cy="421" r="3.1" fill="#6f9a70" stroke="#222" stroke-width="0.8" fill-opacity="0.85"/>
<circle cx="662.8" cy="476.6" r="5.4" fill="#7c9a62" stroke="#222" stroke-width="0.8" fill-opacity="0.85"/>
<circle cx="908.9" cy="238.8" r="3.3" fill="#7c9a62" fill-opacity="0.85"/>
<circle cx="695.3" cy="315.7" r="4.4" fill="#f39a3c" fill-opacity="0.85"/>
<circle cx="668.7" cy="472.3" r="1.5" fill="#d99a8a" fill-opacity="0.85"/>
<circle cx="667.4" cy="478.7" r="5.2" fill="#f7b060" fill-opacity="0.85"/>
<circle cx="712.3" cy="324.3" r="5.5" fill="#e8565a" fill-opacity="0.85"/>
<circle cx="750" cy="468.5" r="3.5" fill="#e9736e" fill-opacity="0.85"/>
<circle cx="677.1" cy="469.3" r="5.2" fill="#f7b060" stroke="#222" stroke-width="0.8" fill-opacity="0.85"/>
<circle cx="721.5" cy="363.3" r="2.6" fill="#2a7ab9" fill-opacity="0.85"/>
<circle cx="636.8" cy="466.3" r="3" fill="#e8565a" fill-opacity="0.85"/>
<circle cx="874.8" cy="79.8" r="4.9" fill="#e3282a" fill-opacity="0.85"/>
<circle cx="602.4" cy="478.2" r="5.2" fill="#4daf4a" stroke="#222" stroke-width="0.8" fill-opacity="0.85"/>
<circle cx="939.8" cy="155.4" r="4.4" fill="#f39a3c" fill-opacity="0.85"/>
<circle cx="828.7" cy="244.3" r="2.2" fill="#e8565a" fill-opacity="0.85"/>
<circle cx="666.8" cy="79.8" r="2.1" fill="#d98f80" fill-opacity="0.85"/>
<circle cx="681.9" cy="452.5" r="5" fill="#7c9a62" fill-opacity="0.85"/>
<circle cx="625.1" cy="454.6" r="4.8" fill="#ea6a6a" fill-opacity="0.85"/>
<circle cx="698.1" cy="406.3" r="4.2" fill="#2a7ab9" fill-opacity="0.85"/>
<circle cx="689" cy="380.7" r="3.4" fill="#e8565a" fill-opacity="0.85"/>
<circle cx="769" cy="331.9" r="4.9" fill="#b8a2d4" fill-opacity="0.85"/>
<circle cx="673.6" cy="464" r="3.6" fill="#86c97f" fill-opacity="0.85"/>
<circle cx="712.4" cy="427.9" r="4.3" fill="#f7b060" fill-opacity="0.85"/>
<circle cx="938.2" cy="171.9" r="1.5" fill="#c98a80" fill-opacity="0.85"/>
<circle cx="612.2" cy="446.5" r="1.8" fill="#d99a8a" fill-opacity="0.85"/>
<circle cx="906.4" cy="388.5" r="5.1" fill="#f39a3c" fill-opacity="0.85"/>
<circle cx="621.2" cy="467.3" r="5.2" fill="#7c9a62" stroke="#222" stroke-width="0.8" fill-opacity="0.85"/>
<circle cx="684.7" cy="459.7" r="3.3" fill="#e8565a" fill-opacity="0.85"/>
<circle cx="758.7" cy="271.4" r="5.5" fill="#4daf4a" stroke="#222" stroke-width="0.8" fill-opacity="0.85"/>
<circle cx="785" cy="328.8" r="4.4" fill="#6f9a70" stroke="#222" stroke-width="0.8" fill-opacity="0.85"/>
<circle cx="596.9" cy="445.4" r="4.7" fill="#d99a8a" fill-opacity="0.85"/>
<circle cx="604.1" cy="442.5" r="4.8" fill="#d99a8a" fill-opacity="0.85"/>
<circle cx="853.7" cy="289.6" r="2.6" fill="#f7b060" fill-opacity="0.85"/>
<circle cx="669.4" cy="477.8" r="4.8" fill="#86c97f" fill-opacity="0.85"/>
<circle cx="670.7" cy="436.4" r="5.2" fill="#f39a3c" stroke="#222" stroke-width="0.8" fill-opacity="0.85"/>
<circle cx="686.1" cy="475.3" r="2.8" fill="#f39a3c" fill-opacity="0.85"/>
<circle cx="813.6" cy="357.5" r="5.3" fill="#f39a3c" stroke="#222" stroke-width="0.8" fill-opacity="0.85"/>
<circle cx="634.5" cy="457.9" r="4.7" fill="#7c9a62" fill-opacity="0.85"/>
<circle cx="669.2" cy="392.9" r="2.6" fill="#f39a3c" fill-opacity="0.85"/>
<circle cx="886" cy="79.8" r="3.5" fill="#b8a2d4" fill-opacity="0.85"/>
<circle cx="625.2" cy="478.6" r="4.9" fill="#d99a8a" stroke="#222" stroke-width="0.8" fill-opacity="0.85"/>
<circle cx="604" cy="478.2" r="4.5" fill="#4daf4a" stroke="#222" stroke-width="0.8" fill-opacity="0.85"/>
<circle cx="600" cy="458.8" r="1.8" fill="#4daf4a" fill-opacity="0.85"/>
<circle cx="635.3" cy="477" r="4.9" fill="#f39a3c" stroke="#222" stroke-width="0.8" fill-opacity="0.85"/>
<circle cx="664.9" cy="472.9" r="4.9" fill="#d99a8a" fill-opacity="0.85"/>
<circle cx="747.6" cy="275.2" r="3.2" fill="#f7b060" fill-opacity="0.85"/>
<circle cx="668.5" cy="401.4" r="5.2" fill="#d98f80" fill-opacity="0.85"/>
<circle cx="763.6" cy="367.1" r="4.9" fill="#b8a2d4" fill-opacity="0.85"/>
<circle cx="673.8" cy="475.2" r="5.6" fill="#86c97f" fill-opacity="0.85"/>
<circle cx="679.5" cy="469.6" r="4.1" fill="#ea6a6a" fill-opacity="0.85"/>
<circle cx="751" cy="79.8" r="1.7" fill="#d98f80" fill-opacity="0.85"/>
<circle cx="622" cy="446.8" r="5" fill="#ea6a6a" fill-opacity="0.85"/>
<circle cx="817.7" cy="101.9" r="3.6" fill="#8cbf88" fill-opacity="0.85"/>
<circle cx="653" cy="425.6" r="4.9" fill="#7c9a62" stroke="#222" stroke-width="0.8" fill-opacity="0.85"/>
<circle cx="692.3" cy="424.4" r="2.2" fill="#7c9a62" fill-opacity="0.85"/>
<circle cx="688.5" cy="417.9" r="3.3" fill="#d98f80" fill-opacity="0.85"/>
<circle cx="647.7" cy="473.2" r="4.2" fill="#d99a8a" fill-opacity="0.85"/>
<circle cx="676.4" cy="443.7" r="4.4" fill="#f39a3c" fill-opacity="0.85"/>
<circle cx="662.9" cy="464.8" r="3.5" fill="#b8a2d4" stroke="#222" stroke-width="0.8" fill-opacity="0.85"/>
<circle cx="610.4" cy="473.9" r="2.5" fill="#86c97f" stroke="#222" stroke-width="0.8" fill-opacity="0.85"/>
<circle cx="788.6" cy="231" r="5.4" fill="#5bb55f" fill-opacity="0.85"/>
<circle cx="671.8" cy="359.3" r="5.8" fill="#d98f80" fill-opacity="0.85"/>
<circle cx="807.7" cy="346.7" r="5.2" fill="#f7b060" fill-opacity="0.85"/>
<circle cx="729.6" cy="79.8" r="2" fill="#7c9a62" fill-opacity="0.85"/>
<circle cx="670.6" cy="399.3" r="3.1" fill="#e9736e" fill-opacity="0.85"/>
<circle cx="790.2" cy="241" r="5.3" fill="#c98a80" stroke="#222" stroke-width="0.8" fill-opacity="0.85"/>
<circle cx="829.8" cy="179.9" r="3.1" fill="#e8565a" fill-opacity="0.85"/>
<circle cx="662.2" cy="435.2" r="2.1" fill="#f39a3c" fill-opacity="0.85"/>
<circle cx="623.5" cy="444.3" r="3.5" fill="#f39a3c" fill-opacity="0.85"/>
<circle cx="825.3" cy="433.5" r="5.3" fill="#f39a3c" fill-opacity="0.85"/>
<circle cx="603.6" cy="475" r="1.8" fill="#f39a3c" fill-opacity="0.85"/>
<circle cx="691.8" cy="353.8" r="3.6" fill="#2a7ab9" stroke="#222" stroke-width="0.8" fill-opacity="0.85"/>
<circle cx="796" cy="291.8" r="5.6" fill="#4daf4a" stroke="#222" stroke-width="0.8" fill-opacity="0.85"/>
<circle cx="609.9" cy="469.5" r="1.5" fill="#f39a3c" fill-opacity="0.85"/>
<circle cx="925.9" cy="241.6" r="4.1" fill="#f08a4b" fill-opacity="0.85"/>
<circle cx="870.1" cy="171.9" r="4.8" fill="#4daf4a" fill-opacity="0.85"/>
<circle cx="622.9" cy="478.2" r="4.2" fill="#ea6a6a" stroke="#222" stroke-width="0.8" fill-opacity="0.85"/>
<circle cx="649.3" cy="470.8" r="4.6" fill="#b8a2d4" stroke="#222" stroke-width="0.8" fill-opacity="0.85"/>
<circle cx="838.5" cy="244.7" r="3.5" fill="#e8565a" fill-opacity="0.85"/>
<circle cx="655.9" cy="430.7" r="4.5" fill="#86c97f" fill-opacity="0.85"/>
<circle cx="698" cy="424.3" r="1.6" fill="#ea6a6a" stroke="#222" stroke-width="0.8" fill-opacity="0.85"/>
<circle cx="622.1" cy="446.9" r="4.7" fill="#d99a8a" fill-opacity="0.85"/>
<circle cx="742.6" cy="79.8" r="2.2" fill="#b8a2d4" fill-opacity="0.85"/>
<circle cx="834.7" cy="180.4" r="3.7" fill="#f39a3c" fill-opacity="0.85"/>
<circle cx="669" cy="443" r="4.9" fill="#f39a3c" fill-opacity="0.85"/>
<circle cx="774.2" cy="287.8" r="4.7" fill="#6f9a70" stroke="#222" stroke-width="0.8" fill-opacity="0.85"/>
<circle cx="635" cy="422" r="4.8" fill="#7c9a62" fill-opacity="0.85"/>
<circle cx="659.8" cy="468.4" r="3.7" fill="#e8565a" fill-opacity="0.85"/>
<circle cx="669.7" cy="363.1" r="4.7" fill="#e8565a" fill-opacity="0.85"/>
<circle cx="656.6" cy="474.1" r="5.1" fill="#d99a8a" fill-opacity="0.85"/>
<circle cx="697.1" cy="447.6" r="4.1" fill="#e8565a" fill-opacity="0.85"/>
<circle cx="809.3" cy="390.7" r="5.1" fill="#f08a4b" fill-opacity="0.85"/>
<circle cx="686.2" cy="476.9" r="5.2" fill="#86c97f" fill-opacity="0.85"/>
<circle cx="665.1" cy="277.2" r="3.7" fill="#b8a2d4" fill-opacity="0.85"/>
<circle cx="668.8" cy="465.3" r="4" fill="#86c97f" fill-opacity="0.85"/>
<circle cx="676.5" cy="376.8" r="2.1" fill="#86c97f" fill-opacity="0.85"/>
<circle cx="930.1" cy="79.8" r="2.5" fill="#f7b060" fill-opacity="0.85"/>
<circle cx="593.9" cy="458.4" r="3.9" fill="#f39a3c" stroke="#222" stroke-width="0.8" fill-opacity="0.85"/>
<circle cx="832.6" cy="158.9" r="5.5" fill="#f39a3c" fill-opacity="0.85"/>
<circle cx="889.2" cy="241" r="5.1" fill="#d98f80" stroke="#222" stroke-width="0.8" fill-opacity="0.85"/>
<circle cx="683.1" cy="441.3" r="4.5" fill="#f7b060" fill-opacity="0.85"/>
<circle cx="860.7" cy="99.9" r="5.2" fill="#e8565a" fill-opacity="0.85"/>
<circle cx="607.4" cy="451" r="3.8" fill="#ea6a6a" stroke="#222" stroke-width="0.8" fill-opacity="0.85"/>
<circle cx="824.6" cy="328.2" r="4.3" fill="#2a7ab9" fill-opacity="0.85"/>
<circle cx="589.4" cy="477" r="4.8" fill="#e3282a" stroke="#222" stroke-width="0.8" fill-opacity="0.85"/>
<circle cx="845.3" cy="298.2" r="3.1" fill="#e8565a" fill-opacity="0.85"/>
<circle cx="864.7" cy="258.4" r="5.4" fill="#2a7ab9" fill-opacity="0.85"/>
<circle cx="920.4" cy="207.4" r="4.7" fill="#d98f80" fill-opacity="0.85"/>
<circle cx="862.3" cy="208.9" r="1.4" fill="#b8a2d4" fill-opacity="0.85"/>
<circle cx="616.2" cy="430.6" r="4.4" fill="#ea6a6a" stroke="#222" stroke-width="0.8" fill-opacity="0.85"/>
<circle cx="617.3" cy="471.5" r="4.8" fill="#b8a2d4" fill-opacity="0.85"/>
<circle cx="883" cy="155.1" r="2.9" fill="#f7b060" fill-opacity="0.85"/>
<circle cx="649.4" cy="478.6" r="4.8" fill="#ea6a6a" stroke="#222" stroke-width="0.8" fill-opacity="0.85"/>
<circle cx="615.6" cy="470.4" r="5.6" fill="#f7b060" stroke="#222" stroke-width="0.8" fill-opacity="0.85"/>
<circle cx="781" cy="296.5" r="4.1" fill="#f39a3c" fill-opacity="0.85"/>
<circle cx="587.6" cy="476.2" r="4.9" fill="#d99a8a" fill-opacity="0.85"/>
<circle cx="660.7" cy="476.9" r="4.3" fill="#f39a3c" fill-opacity="0.85"/>
<circle cx="888" cy="79.8" r="5.1" fill="#e9736e" fill-opacity="0.85"/>
<circle cx="793.3" cy="339.2" r="3.1" fill="#2a7ab9" fill-opacity="0.85"/>
<circle cx="807.1" cy="270.2" r="5.1" fill="#f39a3c" fill-opacity="0.85"/>
<circle cx="917.8" cy="467.1" r="4.9" fill="#8cbf88" fill-opacity="0.85"/>
<circle cx="899.6" cy="378.4" r="3.6" fill="#4daf4a" fill-opacity="0.85"/>
<circle cx="739.2" cy="325.1" r="5.4" fill="#f39a3c" fill-opacity="0.85"/>
<circle cx="882.7" cy="185.6" r="5.2" fill="#d98f80" fill-opacity="0.85"/>
<circle cx="624.3" cy="465.1" r="2.4" fill="#b8a2d4" fill-opacity="0.85"/>
<circle cx="732.8" cy="462.2" r="2.7" fill="#d98f80" stroke="#222" stroke-width="0.8" fill-opacity="0.85"/>
<circle cx="881" cy="310.5" r="5.5" fill="#3a95b0" fill-opacity="0.85"/>
<circle cx="904.2" cy="458" r="2.8" fill="#2a7ab9" fill-opacity="0.85"/>
<circle cx="597.1" cy="429.5" r="1.9" fill="#f7b060" fill-opacity="0.85"/>
<circle cx="700.4" cy="351.8" r="4.3" fill="#2a7ab9" stroke="#222" stroke-width="0.8" fill-opacity="0.85"/>
<circle cx="669.9" cy="453.2" r="5.5" fill="#f7b060" fill-opacity="0.85"/>
<circle cx="626.1" cy="425.9" r="4.1" fill="#6f9a70" fill-opacity="0.85"/>
<circle cx="856.4" cy="473.3" r="5.2" fill="#3a95b0" fill-opacity="0.85"/>
<circle cx="717.6" cy="321.8" r="3" fill="#d98f80" fill-opacity="0.85"/>
<circle cx="652.1" cy="453" r="3.6" fill="#ea6a6a" fill-opacity="0.85"/>
<circle cx="681.6" cy="437.7" r="1.7" fill="#ea6a6a" fill-opacity="0.85"/>
<circle cx="708.2" cy="374.7" r="3.3" fill="#4daf4a" fill-opacity="0.85"/>
<circle cx="654.5" cy="476.1" r="4.5" fill="#f39a3c" stroke="#222" stroke-width="0.8" fill-opacity="0.85"/>
<circle cx="613.1" cy="437.7" r="5.1" fill="#f39a3c" fill-opacity="0.85"/>
<circle cx="862.8" cy="252" r="3.9" fill="#e8565a" fill-opacity="0.85"/>
<circle cx="940.3" cy="123.4" r="2.8" fill="#5bb55f" fill-opacity="0.85"/>
<circle cx="745.8" cy="319.8" r="4.8" fill="#86c97f" fill-opacity="0.85"/>
<circle cx="857.3" cy="147.9" r="5.4" fill="#f08a4b" fill-opacity="0.85"/>
<circle cx="618.7" cy="478.1" r="5.2" fill="#4daf4a" fill-opacity="0.85"/>
<circle cx="718.2" cy="433.2" r="2.9" fill="#e3282a" fill-opacity="0.85"/>
<circle cx="902.5" cy="173.6" r="2.7" fill="#f39a3c" fill-opacity="0.85"/>
<circle cx="650.9" cy="478.8" r="5.2" fill="#d99a8a" stroke="#222" stroke-width="0.8" fill-opacity="0.85"/>
<circle cx="725" cy="472.7" r="2.8" fill="#4daf4a" stroke="#222" stroke-width="0.8" fill-opacity="0.85"/>
<circle cx="766.1" cy="324" r="2.4" fill="#f7b060" fill-opacity="0.85"/>
<circle cx="649.1" cy="412.8" r="4.9" fill="#86c97f" fill-opacity="0.85"/>
<circle cx="738.5" cy="335.8" r="4.8" fill="#d98f80" stroke="#222" stroke-width="0.8" fill-opacity="0.85"/>
<circle cx="623.2" cy="465.3" r="3.6" fill="#d99a8a" stroke="#222" stroke-width="0.8" fill-opacity="0.85"/>
<circle cx="631.6" cy="291" r="5.5" fill="#86c97f" fill-opacity="0.85"/>
<circle cx="658.9" cy="466.8" r="5" fill="#d99a8a" fill-opacity="0.85"/>
<circle cx="641.7" cy="436.2" r="4.5" fill="#7c9a62" fill-opacity="0.85"/>
<circle cx="651.9" cy="79.8" r="1.7" fill="#86c97f" fill-opacity="0.85"/>
<circle cx="756.4" cy="284.5" r="4" fill="#7c9a62" fill-opacity="0.85"/>
<circle cx="697.8" cy="473.4" r="5.5" fill="#e8565a" fill-opacity="0.85"/>
<circle cx="630.4" cy="475.6" r="4.5" fill="#d99a8a" stroke="#222" stroke-width="0.8" fill-opacity="0.85"/>
<circle cx="669.8" cy="395.4" r="4.9" fill="#6f9a70" fill-opacity="0.85"/>
<circle cx="891.6" cy="197.4" r="4.7" fill="#e8565a" stroke="#222" stroke-width="0.8" fill-opacity="0.85"/>
<circle cx="803.4" cy="214.9" r="3.1" fill="#e9736e" fill-opacity="0.85"/>
<circle cx="635.4" cy="398.8" r="4" fill="#d98f80" fill-opacity="0.85"/>
<circle cx="676.5" cy="474.3" r="5.1" fill="#2a7ab9" fill-opacity="0.85"/>
<circle cx="595.7" cy="477" r="5.5" fill="#f7b060" stroke="#222" stroke-width="0.8" fill-opacity="0.85"/>
<circle cx="923.4" cy="228.5" r="5.6" fill="#4daf4a" stroke="#222" stroke-width="0.8" fill-opacity="0.85"/>
<circle cx="880.4" cy="255" r="3.5" fill="#4daf4a" stroke="#222" stroke-width="0.8" fill-opacity="0.85"/>
<circle cx="683.9" cy="461.8" r="4.5" fill="#f7b060" fill-opacity="0.85"/>
<circle cx="860.3" cy="226.8" r="3" fill="#e8565a" fill-opacity="0.85"/>
<circle cx="799.5" cy="380.7" r="3.8" fill="#8cbf88" fill-opacity="0.85"/>
<circle cx="723.9" cy="394.4" r="5.1" fill="#4daf4a" fill-opacity="0.85"/>
<circle cx="699.2" cy="367.7" r="4.8" fill="#7c9a62" fill-opacity="0.85"/>
<circle cx="627.3" cy="421.2" r="3.6" fill="#4daf4a" fill-opacity="0.85"/>
<circle cx="638.1" cy="478.7" r="4.1" fill="#d99a8a" fill-opacity="0.85"/>
<circle cx="866.1" cy="79.8" r="4.6" fill="#3a95b0" fill-opacity="0.85"/>
<circle cx="636.2" cy="471.5" r="5.2" fill="#f39a3c" fill-opacity="0.85"/>
<circle cx="612.8" cy="470.1" r="4.7" fill="#ea6a6a" fill-opacity="0.85"/>
<circle cx="672.9" cy="478.5" r="5.2" fill="#d99a8a" fill-opacity="0.85"/>
<circle cx="907.2" cy="387.3" r="3" fill="#f08a4b" stroke="#222" stroke-width="0.8" fill-opacity="0.85"/>
<circle cx="871.5" cy="453.8" r="4.1" fill="#f39a3c" stroke="#222" stroke-width="0.8" fill-opacity="0.85"/>
<circle cx="633.5" cy="453.7" r="4.8" fill="#f7b060" fill-opacity="0.85"/>
<circle cx="602.1" cy="462.9" r="4.6" fill="#f7b060" fill-opacity="0.85"/>
<circle cx="808.2" cy="100.3" r="4.5" fill="#e8565a" fill-opacity="0.85"/>
<circle cx="588" cy="472.6" r="5" fill="#d99a8a" fill-opacity="0.85"/>
<circle cx="626.3" cy="433.9" r="4.1" fill="#f7b060" stroke="#222" stroke-width="0.8" fill-opacity="0.85"/>
<circle cx="677.8" cy="476.2" r="3" fill="#5bb55f" fill-opacity="0.85"/>
<circle cx="607.3" cy="461.9" r="5.2" fill="#f7b060" fill-opacity="0.85"/>
<circle cx="610.8" cy="335.8" r="3.7" fill="#b8a2d4" fill-opacity="0.85"/>
<circle cx="694.8" cy="441.6" r="4.6" fill="#2a7ab9" fill-opacity="0.85"/>
<circle cx="693.7" cy="439.2" r="3.8" fill="#f39a3c" fill-opacity="0.85"/>
<circle cx="611.9" cy="452.6" r="5.2" fill="#7c9a62" fill-opacity="0.85"/>
<circle cx="628.2" cy="477.4" r="5.6" fill="#d99a8a" fill-opacity="0.85"/>
<circle cx="826.3" cy="129.9" r="5.4" fill="#f39a3c" fill-opacity="0.85"/>
<circle cx="751.2" cy="380.1" r="3.5" fill="#7c9a62" fill-opacity="0.85"/>
<circle cx="614.4" cy="440.9" r="4.3" fill="#ea6a6a" stroke="#222" stroke-width="0.8" fill-opacity="0.85"/>
<circle cx="671.4" cy="341.6" r="4.9" fill="#e3282a" fill-opacity="0.85"/>
<circle cx="785.6" cy="341.6" r="4.7" fill="#5bb55f" fill-opacity="0.85"/>
<circle cx="860.1" cy="193" r="4.7" fill="#6f9a70" stroke="#222" stroke-width="0.8" fill-opacity="0.85"/>
<circle cx="930.7" cy="201.9" r="4.2" fill="#7c9a62" fill-opacity="0.85"/>
<circle cx="724" cy="398.8" r="3.2" fill="#6f9a70" stroke="#222" stroke-width="0.8" fill-opacity="0.85"/>
<circle cx="590.1" cy="459" r="2.2" fill="#86c97f" fill-opacity="0.85"/>
<circle cx="815.9" cy="125.9" r="3.2" fill="#f7b060" fill-opacity="0.85"/>
<circle cx="815.6" cy="127.3" r="4.2" fill="#5bb55f" fill-opacity="0.85"/>
<circle cx="681.2" cy="476.8" r="4.4" fill="#f7b060" fill-opacity="0.85"/>
<circle cx="637.4" cy="471" r="4.2" fill="#ea6a6a" fill-opacity="0.85"/>
<circle cx="795" cy="310.8" r="4.3" fill="#86c97f" fill-opacity="0.85"/>
<circle cx="611.1" cy="475.9" r="4.9" fill="#4daf4a" fill-opacity="0.85"/>
<circle cx="796.2" cy="342.2" r="2.6" fill="#e9736e" fill-opacity="0.85"/>
<circle cx="697.7" cy="372.5" r="5.1" fill="#86c97f" fill-opacity="0.85"/>
<circle cx="683.4" cy="475.7" r="4.7" fill="#d99a8a" fill-opacity="0.85"/>
<circle cx="658.5" cy="466.6" r="4" fill="#d99a8a" fill-opacity="0.85"/>
<circle cx="598.9" cy="430" r="4.2" fill="#d99a8a" fill-opacity="0.85"/>
<circle cx="622.4" cy="472.5" r="5.6" fill="#f39a3c" stroke="#222" stroke-width="0.8" fill-opacity="0.85"/>
<circle cx="674.8" cy="441.3" r="1.6" fill="#ea6a6a" fill-opacity="0.85"/>
<circle cx="789.3" cy="289.4" r="4.9" fill="#2a7ab9" stroke="#222" stroke-width="0.8" fill-opacity="0.85"/>
<circle cx="735.1" cy="369.4" r="5.3" fill="#8cbf88" fill-opacity="0.85"/>
<circle cx="818.5" cy="218.5" r="1.4" fill="#b8a2d4" stroke="#222" stroke-width="0.8" fill-opacity="0.85"/>
<circle cx="809.1" cy="251.5" r="4.5" fill="#86c97f" stroke="#222" stroke-width="0.8" fill-opacity="0.85"/>
<circle cx="892.5" cy="175.9" r="3.8" fill="#f39a3c" fill-opacity="0.85"/>
<circle cx="754.3" cy="387" r="3.2" fill="#86c97f" fill-opacity="0.85"/>
<circle cx="682.8" cy="404.7" r="2.6" fill="#8cbf88" fill-opacity="0.85"/>
<circle cx="891.5" cy="79.8" r="3" fill="#4daf4a" fill-opacity="0.85"/>
<circle cx="713.1" cy="435.3" r="1.8" fill="#d99a8a" fill-opacity="0.85"/>
<circle cx="610.6" cy="435.1" r="2.1" fill="#ea6a6a" stroke="#222" stroke-width="0.8" fill-opacity="0.85"/>
<circle cx="722.6" cy="340.4" r="5.1" fill="#86c97f" fill-opacity="0.85"/>
<circle cx="922" cy="233.2" r="4.3" fill="#d98f80" fill-opacity="0.85"/>
<circle cx="706.4" cy="454.9" r="2.8" fill="#4daf4a" fill-opacity="0.85"/>
<circle cx="672.1" cy="455.1" r="5.4" fill="#f39a3c" stroke="#222" stroke-width="0.8" fill-opacity="0.85"/>
<circle cx="599.5" cy="477.6" r="4.5" fill="#86c97f" stroke="#222" stroke-width="0.8" fill-opacity="0.85"/>
<circle cx="654" cy="473.9" r="4.5" fill="#2a7ab9" stroke="#222" stroke-width="0.8" fill-opacity="0.85"/>
<circle cx="874.7" cy="259.1" r="4.4" fill="#f39a3c" fill-opacity="0.85"/>
<circle cx="626.8" cy="442.4" r="5.1" fill="#f39a3c" fill-opacity="0.85"/>
<circle cx="715.1" cy="428.8" r="4" fill="#d99a8a" fill-opacity="0.85"/>
<circle cx="648.1" cy="467.4" r="5.1" fill="#d99a8a" fill-opacity="0.85"/>
<circle cx="797.4" cy="300.8" r="3" fill="#d98f80" stroke="#222" stroke-width="0.8" fill-opacity="0.85"/>
<circle cx="601.5" cy="467.9" r="5" fill="#f7b060" stroke="#222" stroke-width="0.8" fill-opacity="0.85"/>
<circle cx="592" cy="473.3" r="4.8" fill="#e3282a" fill-opacity="0.85"/>
<circle cx="615.5" cy="298.1" r="5.2" fill="#5bb55f" fill-opacity="0.85"/>
<circle cx="871" cy="141.2" r="3.8" fill="#d98f80" fill-opacity="0.85"/>
<circle cx="658.4" cy="439.5" r="5.5" fill="#d99a8a" fill-opacity="0.85"/>
<circle cx="661.9" cy="441.7" r="4.3" fill="#f7b060" stroke="#222" stroke-width="0.8" fill-opacity="0.85"/>
<circle cx="655.4" cy="382.3" r="3.1" fill="#c98a80" stroke="#222" stroke-width="0.8" fill-opacity="0.85"/>
<circle cx="828.9" cy="212.9" r="3.1" fill="#f7b060" fill-opacity="0.85"/>
<circle cx="646.8" cy="447.9" r="2.3" fill="#2a7ab9" stroke="#222" stroke-width="0.8" fill-opacity="0.85"/>
<circle cx="635.8" cy="460.2" r="4.1" fill="#4daf4a" fill-opacity="0.85"/>
<circle cx="606.7" cy="467.2" r="4.9" fill="#f39a3c" fill-opacity="0.85"/>
<circle cx="827.9" cy="321.4" r="5" fill="#e8565a" fill-opacity="0.85"/>
<circle cx="604.3" cy="457.7" r="5.6" fill="#f7b060" fill-opacity="0.85"/>
<circle cx="857.6" cy="240.5" r="3.1" fill="#86c97f" fill-opacity="0.85"/>
<circle cx="601.5" cy="471.7" r="5.3" fill="#86c97f" fill-opacity="0.85"/>
<circle cx="713.3" cy="385.4" r="5.1" fill="#4daf4a" fill-opacity="0.85"/>
<circle cx="645.6" cy="433.2" r="3.2" fill="#e8565a" fill-opacity="0.85"/>
<circle cx="653" cy="470" r="4.6" fill="#ea6a6a" fill-opacity="0.85"/>
<circle cx="780.7" cy="290.7" r="4.5" fill="#2a7ab9" stroke="#222" stroke-width="0.8" fill-opacity="0.85"/>
<circle cx="705.2" cy="442.8" r="4.2" fill="#8cbf88" fill-opacity="0.85"/>
<circle cx="710.6" cy="411.3" r="4.6" fill="#e8565a" fill-opacity="0.85"/>
<circle cx="595.6" cy="451.6" r="2.3" fill="#f7b060" fill-opacity="0.85"/>
<circle cx="647.4" cy="428.8" r="2.8" fill="#e3282a" fill-opacity="0.85"/>
<circle cx="640.4" cy="447.9" r="4.7" fill="#7c9a62" fill-opacity="0.85"/>
<circle cx="789" cy="307.1" r="3.7" fill="#f39a3c" fill-opacity="0.85"/>
<circle cx="595.4" cy="476.2" r="5.5" fill="#f39a3c" stroke="#222" stroke-width="0.8" fill-opacity="0.85"/>
<circle cx="723.8" cy="402.2" r="5.5" fill="#c98a80" fill-opacity="0.85"/>
<circle cx="838.5" cy="460.6" r="4.1" fill="#3a95b0" fill-opacity="0.85"/>
<circle cx="824.8" cy="310.1" r="3.6" fill="#86c97f" fill-opacity="0.85"/>
<circle cx="878.1" cy="209.1" r="5.8" fill="#f39a3c" fill-opacity="0.85"/>
<circle cx="695.5" cy="343.3" r="2.9" fill="#f08a4b" fill-opacity="0.85"/>
<circle cx="827.7" cy="251.9" r="3.2" fill="#86c97f" stroke="#222" stroke-width="0.8" fill-opacity="0.85"/>
<circle cx="620.5" cy="130.8" r="2.8" fill="#e3282a" fill-opacity="0.85"/>
<circle cx="632.1" cy="454.4" r="4.9" fill="#d99a8a" fill-opacity="0.85"/>
<circle cx="692.3" cy="343.4" r="2.6" fill="#c98a80" fill-opacity="0.85"/>
<circle cx="649.4" cy="454.4" r="5.2" fill="#d99a8a" fill-opacity="0.85"/>
<circle cx="708.1" cy="433.9" r="3.5" fill="#4daf4a" fill-opacity="0.85"/>
<circle cx="648.3" cy="241.5" r="4.7" fill="#5bb55f" fill-opacity="0.85"/>
<circle cx="864.2" cy="257.4" r="3.2" fill="#4daf4a" fill-opacity="0.85"/>
<circle cx="704" cy="407.4" r="5.2" fill="#f08a4b" fill-opacity="0.85"/>
<circle cx="664.1" cy="477.9" r="2.3" fill="#86c97f" fill-opacity="0.85"/>
<circle cx="884.8" cy="250.7" r="3.8" fill="#e8565a" fill-opacity="0.85"/>
<circle cx="656.6" cy="149.6" r="4.3" fill="#f7b060" fill-opacity="0.85"/>
<circle cx="661.8" cy="410.8" r="3.7" fill="#d98f80" fill-opacity="0.85"/>
<circle cx="641.7" cy="471.9" r="4.7" fill="#d99a8a" fill-opacity="0.85"/>
<circle cx="882.9" cy="454.4" r="5.2" fill="#e8565a" stroke="#222" stroke-width="0.8" fill-opacity="0.85"/>
<circle cx="631.9" cy="434.7" r="5.4" fill="#d99a8a" stroke="#222" stroke-width="0.8" fill-opacity="0.85"/>
<circle cx="659.7" cy="471.2" r="5.2" fill="#ea6a6a" fill-opacity="0.85"/>
<circle cx="639.6" cy="143.4" r="4.3" fill="#e9736e" fill-opacity="0.85"/>
<circle cx="936.2" cy="371.4" r="4.3" fill="#d98f80" fill-opacity="0.85"/>
<circle cx="718.8" cy="441.6" r="4.1" fill="#f39a3c" fill-opacity="0.85"/>
<circle cx="620" cy="478.8" r="4.8" fill="#d99a8a" fill-opacity="0.85"/>
<circle cx="652.6" cy="475.6" r="4.1" fill="#ea6a6a" fill-opacity="0.85"/>
<circle cx="689.6" cy="344.8" r="4.8" fill="#e8565a" stroke="#222" stroke-width="0.8" fill-opacity="0.85"/>
<circle cx="608.6" cy="478" r="1.8" fill="#ea6a6a" fill-opacity="0.85"/>
<circle cx="808" cy="261.7" r="3" fill="#7c9a62" fill-opacity="0.85"/>
<circle cx="595.2" cy="428.2" r="4.7" fill="#b8a2d4" fill-opacity="0.85"/>
<circle cx="599.2" cy="475.4" r="5" fill="#ea6a6a" fill-opacity="0.85"/>
<circle cx="869.9" cy="378.8" r="4.7" fill="#2a7ab9" fill-opacity="0.85"/>
<circle cx="881" cy="251.6" r="1.9" fill="#d98f80" stroke="#222" stroke-width="0.8" fill-opacity="0.85"/>
<circle cx="919.3" cy="384" r="3.4" fill="#f08a4b" stroke="#222" stroke-width="0.8" fill-opacity="0.85"/>
<circle cx="623.6" cy="466.3" r="5" fill="#d99a8a" stroke="#222" stroke-width="0.8" fill-opacity="0.85"/>
<circle cx="740.2" cy="409.6" r="4.3" fill="#e8565a" fill-opacity="0.85"/>
<circle cx="833.3" cy="466.7" r="4.8" fill="#f08a4b" stroke="#222" stroke-width="0.8" fill-opacity="0.85"/>
<circle cx="652.5" cy="441.5" r="5.2" fill="#ea6a6a" fill-opacity="0.85"/>
<circle cx="650.7" cy="408.6" r="2.3" fill="#e8565a" fill-opacity="0.85"/>
<circle cx="869.7" cy="79.8" r="4.6" fill="#e8565a" fill-opacity="0.85"/>
<circle cx="622.5" cy="450.2" r="4.8" fill="#f7b060" stroke="#222" stroke-width="0.8" fill-opacity="0.85"/>
<circle cx="915" cy="201.2" r="5.3" fill="#8cbf88" fill-opacity="0.85"/>
<circle cx="659.9" cy="430.2" r="4.4" fill="#b8a2d4" stroke="#222" stroke-width="0.8" fill-opacity="0.85"/>
<circle cx="893.1" cy="239.7" r="5.3" fill="#6f9a70" fill-opacity="0.85"/>
<circle cx="666.1" cy="462.7" r="2.5" fill="#f7b060" fill-opacity="0.85"/>
<circle cx="863" cy="270.5" r="5.3" fill="#86c97f" stroke="#222" stroke-width="0.8" fill-opacity="0.85"/>
<circle cx="881.5" cy="235.4" r="4" fill="#f7b060" fill-opacity="0.85"/>
<circle cx="653.8" cy="445.7" r="4.7" fill="#ea6a6a" fill-opacity="0.85"/>
<circle cx="826.4" cy="232.4" r="1.9" fill="#3a95b0" fill-opacity="0.85"/>
<circle cx="739.5" cy="339.2" r="4.2" fill="#7c9a62" fill-opacity="0.85"/>
<circle cx="656.8" cy="477.6" r="4.5" fill="#86c97f" stroke="#222" stroke-width="0.8" fill-opacity="0.85"/>
<circle cx="762.2" cy="375.5" r="4.6" fill="#d98f80" fill-opacity="0.85"/>
<circle cx="826.9" cy="264.6" r="5" fill="#c98a80" stroke="#222" stroke-width="0.8" fill-opacity="0.85"/>
<circle cx="749.7" cy="344.7" r="3.4" fill="#c98a80" fill-opacity="0.85"/>
<circle cx="908" cy="245.2" r="4.3" fill="#4daf4a" fill-opacity="0.85"/>
<circle cx="896" cy="429.4" r="4.3" fill="#8cbf88" fill-opacity="0.85"/>
<circle cx="615.6" cy="430.3" r="4.8" fill="#4daf4a" fill-opacity="0.85"/>
<circle cx="676" cy="477.3" r="5.1" fill="#f39a3c" stroke="#222" stroke-width="0.8" fill-opacity="0.85"/>
<circle cx="658.1" cy="465.2" r="4.9" fill="#d99a8a" fill-opacity="0.85"/>
<circle cx="894.6" cy="79.8" r="4.6" fill="#f39a3c" fill-opacity="0.85"/>
<circle cx="648.3" cy="461.8" r="3.8" fill="#d99a8a" fill-opacity="0.85"/>
<circle cx="642.1" cy="471.2" r="4.3" fill="#8cbf88" fill-opacity="0.85"/>
<circle cx="900" cy="79.8" r="3.2" fill="#e8565a" fill-opacity="0.85"/>
<circle cx="632.8" cy="477.2" r="5.1" fill="#f7b060" fill-opacity="0.85"/>
<circle cx="612.7" cy="451" r="3.3" fill="#f39a3c" fill-opacity="0.85"/>
<circle cx="675.6" cy="426.3" r="4.1" fill="#f39a3c" fill-opacity="0.85"/>
<circle cx="771.3" cy="310.9" r="3.1" fill="#4daf4a" fill-opacity="0.85"/>
<circle cx="779.6" cy="353.3" r="4.2" fill="#d98f80" fill-opacity="0.85"/>
<circle cx="680" cy="476.8" r="2.5" fill="#7c9a62" fill-opacity="0.85"/>
<circle cx="644.2" cy="477" r="5.1" fill="#7c9a62" fill-opacity="0.85"/>
<circle cx="610.6" cy="449.7" r="4.6" fill="#ea6a6a" fill-opacity="0.85"/>
<circle cx="668.3" cy="460.5" r="5.4" fill="#ea6a6a" fill-opacity="0.85"/>
<circle cx="682.9" cy="474.6" r="5.1" fill="#f7b060" stroke="#222" stroke-width="0.8" fill-opacity="0.85"/>
<circle cx="854.8" cy="179.3" r="5" fill="#d98f80" fill-opacity="0.85"/>
<circle cx="841.9" cy="263.5" r="5.5" fill="#c98a80" fill-opacity="0.85"/>
<circle cx="836.9" cy="320.6" r="3" fill="#5bb55f" fill-opacity="0.85"/>
<circle cx="940.9" cy="208.9" r="5.8" fill="#c98a80" stroke="#222" stroke-width="0.8" fill-opacity="0.85"/>
<circle cx="746.1" cy="449.8" r="2.4" fill="#f39a3c" fill-opacity="0.85"/>
<circle cx="741.4" cy="423.4" r="5.1" fill="#7c9a62" fill-opacity="0.85"/>
<circle cx="628.8" cy="452.4" r="4.3" fill="#ea6a6a" fill-opacity="0.85"/>
<circle cx="881.9" cy="286" r="5.6" fill="#7c9a62" fill-opacity="0.85"/>
<circle cx="906.2" cy="408" r="4.5" fill="#f39a3c" fill-opacity="0.85"/>
<circle cx="637.6" cy="476.8" r="5" fill="#ea6a6a" fill-opacity="0.85"/>
<circle cx="722.9" cy="353.2" r="5.4" fill="#e8565a" fill-opacity="0.85"/>
<circle cx="803.9" cy="464" r="5.2" fill="#e8565a" stroke="#222" stroke-width="0.8" fill-opacity="0.85"/>
<circle cx="718.8" cy="79.8" r="2.3" fill="#f39a3c" fill-opacity="0.85"/>
<circle cx="646.5" cy="410.4" r="3" fill="#7c9a62" fill-opacity="0.85"/>
<circle cx="634.7" cy="453.2" r="3.9" fill="#f7b060" fill-opacity="0.85"/>
<circle cx="797" cy="103.3" r="4.2" fill="#e8565a" fill-opacity="0.85"/>
<circle cx="674.5" cy="477.7" r="5.1" fill="#b8a2d4" stroke="#222" stroke-width="0.8" fill-opacity="0.85"/>
<circle cx="846.5" cy="382.1" r="5.3" fill="#f39a3c" fill-opacity="0.85"/>
<circle cx="597.1" cy="477.8" r="5.3" fill="#d99a8a" fill-opacity="0.85"/>
<circle cx="693.6" cy="467" r="5.4" fill="#f39a3c" fill-opacity="0.85"/>
<circle cx="674.3" cy="385.3" r="3.9" fill="#7c9a62" fill-opacity="0.85"/>
<circle cx="910.6" cy="112.9" r="3.1" fill="#d98f80" fill-opacity="0.85"/>
<circle cx="631.8" cy="467.3" r="2.3" fill="#f7b060" stroke="#222" stroke-width="0.8" fill-opacity="0.85"/>
<circle cx="780.7" cy="151.1" r="3.1" fill="#7c9a62" fill-opacity="0.85"/>
<circle cx="694.5" cy="462.7" r="5.1" fill="#f7b060" fill-opacity="0.85"/>
<circle cx="710.7" cy="470" r="3" fill="#2a7ab9" stroke="#222" stroke-width="0.8" fill-opacity="0.85"/>
<circle cx="701.4" cy="472.4" r="4.9" fill="#f39a3c" fill-opacity="0.85"/>
<circle cx="788.7" cy="424.6" r="3.3" fill="#f39a3c" fill-opacity="0.85"/>
<circle cx="665" cy="424" r="2.5" fill="#f7b060" fill-opacity="0.85"/>
<circle cx="739.4" cy="381.1" r="4.5" fill="#2a7ab9" fill-opacity="0.85"/>
<circle cx="609.5" cy="477.3" r="4.1" fill="#f39a3c" stroke="#222" stroke-width="0.8" fill-opacity="0.85"/>
<circle cx="627.1" cy="433.3" r="4.1" fill="#f7b060" stroke="#222" stroke-width="0.8" fill-opacity="0.85"/>
<circle cx="686.7" cy="471.3" r="5.4" fill="#4daf4a" fill-opacity="0.85"/>
<circle cx="686.4" cy="473.7" r="2.5" fill="#ea6a6a" fill-opacity="0.85"/>
<circle cx="630.6" cy="473.1" r="5.6" fill="#ea6a6a" fill-opacity="0.85"/>
<circle cx="745" cy="326.5" r="3.9" fill="#d98f80" fill-opacity="0.85"/>
<circle cx="915.5" cy="79.8" r="4.8" fill="#e3282a" fill-opacity="0.85"/>
<circle cx="835.1" cy="273.4" r="2.3" fill="#6f9a70" fill-opacity="0.85"/>
<circle cx="685.4" cy="476.7" r="5.2" fill="#f7b060" fill-opacity="0.85"/>
<circle cx="659.3" cy="437.2" r="4.4" fill="#e3282a" stroke="#222" stroke-width="0.8" fill-opacity="0.85"/>
<circle cx="695.5" cy="382.8" r="2.5" fill="#6f9a70" fill-opacity="0.85"/>
<circle cx="891.5" cy="296" r="3.8" fill="#f08a4b" stroke="#222" stroke-width="0.8" fill-opacity="0.85"/>
<circle cx="663.3" cy="398.1" r="2" fill="#f39a3c" fill-opacity="0.85"/>
<circle cx="660.2" cy="428.5" r="3.5" fill="#ea6a6a" fill-opacity="0.85"/>
<circle cx="795.7" cy="443.1" r="2.6" fill="#4daf4a" fill-opacity="0.85"/>
<circle cx="643.3" cy="473.1" r="4.8" fill="#2a7ab9" stroke="#222" stroke-width="0.8" fill-opacity="0.85"/>
<circle cx="855.6" cy="234.4" r="1.4" fill="#7c9a62" fill-opacity="0.85"/>
<circle cx="704.5" cy="435.9" r="2.9" fill="#4daf4a" fill-opacity="0.85"/>
<circle cx="877.2" cy="171.8" r="3.7" fill="#2a7ab9" fill-opacity="0.85"/>
<circle cx="640.2" cy="383.6" r="3.6" fill="#4daf4a" fill-opacity="0.85"/>
<circle cx="842.4" cy="239.9" r="4.2" fill="#d98f80" fill-opacity="0.85"/>
<circle cx="736.8" cy="400.2" r="3" fill="#f08a4b" fill-opacity="0.85"/>
<circle cx="767.3" cy="408.8" r="4.2" fill="#5bb55f" fill-opacity="0.85"/>
<circle cx="642.1" cy="475.2" r="1.9" fill="#d99a8a" stroke="#222" stroke-width="0.8" fill-opacity="0.85"/>
<circle cx="918.5" cy="238.3" r="1.6" fill="#d98f80" fill-opacity="0.85"/>
<circle cx="600.9" cy="437.8" r="2" fill="#4daf4a" fill-opacity="0.85"/>
<circle cx="642.6" cy="479.1" r="4.1" fill="#f39a3c" fill-opacity="0.85"/>
<circle cx="644.7" cy="452.1" r="5.4" fill="#d99a8a" fill-opacity="0.85"/>
<circle cx="646.4" cy="478" r="4.1" fill="#f39a3c" fill-opacity="0.85"/>
<circle cx="589.4" cy="445" r="4.7" fill="#b8a2d4" fill-opacity="0.85"/>
<circle cx="920.8" cy="184" r="5.5" fill="#86c97f" fill-opacity="0.85"/>
<circle cx="645.4" cy="421.3" r="3.3" fill="#e8565a" fill-opacity="0.85"/>
<circle cx="710.9" cy="408.8" r="4.8" fill="#4daf4a" fill-opacity="0.85"/>
<circle cx="711.1" cy="449.5" r="5.5" fill="#2a7ab9" fill-opacity="0.85"/>
<circle cx="592.3" cy="463.1" r="4.2" fill="#2a7ab9" fill-opacity="0.85"/>
<circle cx="591.9" cy="479.1" r="5.3" fill="#ea6a6a" fill-opacity="0.85"/>
<circle cx="696.5" cy="423.8" r="4.8" fill="#f39a3c" fill-opacity="0.85"/>
<circle cx="681.4" cy="463.4" r="4.1" fill="#f7b060" fill-opacity="0.85"/>
<circle cx="599.7" cy="474.3" r="4.2" fill="#f39a3c" stroke="#222" stroke-width="0.8" fill-opacity="0.85"/>
<circle cx="681" cy="478" r="4.2" fill="#4daf4a" fill-opacity="0.85"/>
<circle cx="923.8" cy="79.8" r="4" fill="#e3282a" fill-opacity="0.85"/>
<circle cx="646.2" cy="352.2" r="4.9" fill="#f08a4b" fill-opacity="0.85"/>
<circle cx="936.3" cy="469.2" r="4.3" fill="#e8565a" stroke="#222" stroke-width="0.8" fill-opacity="0.85"/>
<circle cx="591.1" cy="475.4" r="5" fill="#ea6a6a" fill-opacity="0.85"/>
<circle cx="652.4" cy="447.7" r="4.6" fill="#f7b060" fill-opacity="0.85"/>
<circle cx="819.6" cy="471.1" r="5.3" fill="#e3282a" fill-opacity="0.85"/>
<circle cx="905" cy="79.8" r="4.3" fill="#d98f80" stroke="#222" stroke-width="0.8" fill-opacity="0.85"/>
<circle cx="638.9" cy="462.9" r="2.5" fill="#2a7ab9" fill-opacity="0.85"/>
<circle cx="596.3" cy="476.7" r="5.1" fill="#7c9a62" fill-opacity="0.85"/>
<circle cx="748.3" cy="348.5" r="4.7" fill="#7c9a62" stroke="#222" stroke-width="0.8" fill-opacity="0.85"/>
<circle cx="804.4" cy="318.6" r="5.2" fill="#6f9a70" stroke="#222" stroke-width="0.8" fill-opacity="0.85"/>
<circle cx="724.5" cy="455" r="2.9" fill="#86c97f" fill-opacity="0.85"/>
<circle cx="768.8" cy="317.8" r="4.1" fill="#4daf4a" stroke="#222" stroke-width="0.8" fill-opacity="0.85"/>
<circle cx="691.3" cy="386.2" r="3.1" fill="#86c97f" stroke="#222" stroke-width="0.8" fill-opacity="0.85"/>
<circle cx="727.3" cy="392.8" r="5.5" fill="#7c9a62" fill-opacity="0.85"/>
<circle cx="671" cy="366.1" r="3.4" fill="#f39a3c" stroke="#222" stroke-width="0.8" fill-opacity="0.85"/>
<circle cx="860.1" cy="472.9" r="2" fill="#b8a2d4" fill-opacity="0.85"/>
<circle cx="763.2" cy="116.4" r="5.4" fill="#7c9a62" fill-opacity="0.85"/>
<circle cx="884.1" cy="315.9" r="4.8" fill="#d98f80" fill-opacity="0.85"/>
<circle cx="668.6" cy="438.8" r="5.3" fill="#f7b060" fill-opacity="0.85"/>
<circle cx="910.7" cy="404.8" r="4.3" fill="#e8565a" fill-opacity="0.85"/>
<circle cx="675.7" cy="447" r="4.6" fill="#d99a8a" fill-opacity="0.85"/>
<circle cx="645.5" cy="463.1" r="3.8" fill="#f7b060" fill-opacity="0.85"/>
<circle cx="607.6" cy="477.1" r="4.3" fill="#4daf4a" fill-opacity="0.85"/>
<circle cx="680.6" cy="466.4" r="4.6" fill="#7c9a62" fill-opacity="0.85"/>
<circle cx="641.7" cy="457.5" r="4.2" fill="#d99a8a" fill-opacity="0.85"/>
<circle cx="796.5" cy="214.8" r="2.5" fill="#d98f80" fill-opacity="0.85"/>
<circle cx="658.1" cy="455.3" r="5" fill="#ea6a6a" fill-opacity="0.85"/>
<circle cx="609.6" cy="461.4" r="4.3" fill="#d99a8a" fill-opacity="0.85"/>
<circle cx="906.3" cy="212.8" r="5.3" fill="#4daf4a" fill-opacity="0.85"/>
<circle cx="646.5" cy="377.4" r="3.6" fill="#2a7ab9" stroke="#222" stroke-width="0.8" fill-opacity="0.85"/>
<circle cx="747.8" cy="355.7" r="5.5" fill="#86c97f" fill-opacity="0.85"/>
<circle cx="702.7" cy="409.7" r="5.6" fill="#6f9a70" fill-opacity="0.85"/>
<circle cx="772.6" cy="299.6" r="5.1" fill="#d98f80" stroke="#222" stroke-width="0.8" fill-opacity="0.85"/>
<circle cx="907.9" cy="263.9" r="4" fill="#f39a3c" fill-opacity="0.85"/>
<circle cx="633.3" cy="103.7" r="4.4" fill="#e3282a" fill-opacity="0.85"/>
<circle cx="872.6" cy="455" r="3.5" fill="#e3282a" fill-opacity="0.85"/>
<circle cx="677.2" cy="478.4" r="5.6" fill="#ea6a6a" stroke="#222" stroke-width="0.8" fill-opacity="0.85"/>
<circle cx="705.9" cy="475" r="3.3" fill="#3a95b0" fill-opacity="0.85"/>
<circle cx="646.2" cy="424.4" r="4.2" fill="#f39a3c" fill-opacity="0.85"/>
<circle cx="712.8" cy="475" r="3" fill="#8cbf88" stroke="#222" stroke-width="0.8" fill-opacity="0.85"/>
<circle cx="618.8" cy="434.2" r="4.7" fill="#e9736e" fill-opacity="0.85"/>
<circle cx="917.1" cy="220.9" r="4.1" fill="#2a7ab9" stroke="#222" stroke-width="0.8" fill-opacity="0.85"/>
<circle cx="653.2" cy="473.9" r="5.5" fill="#ea6a6a" fill-opacity="0.85"/>
<circle cx="775.9" cy="137.3" r="1.9" fill="#3a95b0" fill-opacity="0.85"/>
<circle cx="730.4" cy="470.2" r="5" fill="#5bb55f" fill-opacity="0.85"/>
<circle cx="831" cy="297.2" r="2.4" fill="#e8565a" fill-opacity="0.85"/>
<circle cx="702.5" cy="424.6" r="5.7" fill="#d98f80" fill-opacity="0.85"/>
<circle cx="652.3" cy="410.9" r="5.2" fill="#b8a2d4" fill-opacity="0.85"/>
<circle cx="666.5" cy="452" r="3.8" fill="#f7b060" fill-opacity="0.85"/>
<circle cx="912.5" cy="441.5" r="5.1" fill="#e8565a" fill-opacity="0.85"/>
<circle cx="763.5" cy="267.7" r="4.3" fill="#e8565a" fill-opacity="0.85"/>
<circle cx="768.9" cy="339" r="3.1" fill="#f08a4b" fill-opacity="0.85"/>
<circle cx="768" cy="126" r="4.4" fill="#e3282a" fill-opacity="0.85"/>
<circle cx="836.1" cy="457.9" r="3.9" fill="#4daf4a" fill-opacity="0.85"/>
<circle cx="666" cy="466.7" r="2.1" fill="#f39a3c" fill-opacity="0.85"/>
<circle cx="805.4" cy="322.8" r="4.6" fill="#e8565a" stroke="#222" stroke-width="0.8" fill-opacity="0.85"/>
<circle cx="804.3" cy="290.5" r="3.2" fill="#2a7ab9" fill-opacity="0.85"/>
<circle cx="652.1" cy="465" r="2.6" fill="#86c97f" fill-opacity="0.85"/>
<circle cx="657.6" cy="456.3" r="5.5" fill="#ea6a6a" fill-opacity="0.85"/>
<circle cx="687.8" cy="334.3" r="2.9" fill="#e8565a" fill-opacity="0.85"/>
<circle cx="753.1" cy="353.6" r="1.6" fill="#2a7ab9" fill-opacity="0.85"/>
<circle cx="624.7" cy="478.2" r="4.3" fill="#ea6a6a" stroke="#222" stroke-width="0.8" fill-opacity="0.85"/>
<circle cx="676.9" cy="407.9" r="3.7" fill="#7c9a62" fill-opacity="0.85"/>
<circle cx="720.3" cy="467.1" r="2.7" fill="#7c9a62" fill-opacity="0.85"/>
<circle cx="817.1" cy="247.7" r="3.1" fill="#f39a3c" stroke="#222" stroke-width="0.8" fill-opacity="0.85"/>
<circle cx="642.3" cy="453" r="3.6" fill="#86c97f" fill-opacity="0.85"/>
<circle cx="641.6" cy="432.1" r="3.9" fill="#f39a3c" fill-opacity="0.85"/>
<circle cx="677.9" cy="462" r="5.1" fill="#e3282a" fill-opacity="0.85"/>
<circle cx="891.9" cy="460.8" r="1.8" fill="#e8565a" fill-opacity="0.85"/>
<circle cx="712.9" cy="457.6" r="3.6" fill="#d98f80" fill-opacity="0.85"/>
<circle cx="732.9" cy="473.1" r="2.5" fill="#2a7ab9" stroke="#222" stroke-width="0.8" fill-opacity="0.85"/>
<circle cx="693.7" cy="443.1" r="2.6" fill="#ea6a6a" fill-opacity="0.85"/>
<circle cx="756" cy="152.9" r="4.7" fill="#8cbf88" fill-opacity="0.85"/>
<circle cx="659.3" cy="399.6" r="3.5" fill="#e8565a" fill-opacity="0.85"/>
<circle cx="635.8" cy="433.8" r="4.6" fill="#f39a3c" fill-opacity="0.85"/>
<circle cx="793.2" cy="79.8" r="4.4" fill="#4daf4a" fill-opacity="0.85"/>
<circle cx="687.9" cy="447.7" r="5.1" fill="#ea6a6a" fill-opacity="0.85"/>
<circle cx="648.2" cy="438.2" r="2.2" fill="#ea6a6a" fill-opacity="0.85"/>
<circle cx="918" cy="271.5" r="3.7" fill="#f08a4b" fill-opacity="0.85"/>
<circle cx="895.5" cy="197.5" r="2.7" fill="#3a95b0" stroke="#222" stroke-width="0.8" fill-opacity="0.85"/>
<circle cx="635.6" cy="477.3" r="4.3" fill="#4daf4a" fill-opacity="0.85"/>
<circle cx="807.7" cy="325.4" r="2.5" fill="#4daf4a" fill-opacity="0.85"/>
<circle cx="710.6" cy="392.3" r="4.5" fill="#b8a2d4" fill-opacity="0.85"/>
<circle cx="632.2" cy="445.7" r="2" fill="#e9736e" fill-opacity="0.85"/>
<circle cx="632.4" cy="475.6" r="5.3" fill="#ea6a6a" fill-opacity="0.85"/>
<circle cx="912.5" cy="261.8" r="5.1" fill="#d98f80" fill-opacity="0.85"/>
<circle cx="688.6" cy="341.7" r="5.8" fill="#d98f80" fill-opacity="0.85"/>
<circle cx="664.9" cy="464.4" r="1.9" fill="#f39a3c" fill-opacity="0.85"/>
<circle cx="621" cy="458.4" r="1.6" fill="#2a7ab9" fill-opacity="0.85"/>
<circle cx="868.1" cy="212.6" r="5.2" fill="#d98f80" fill-opacity="0.85"/>
<circle cx="935.8" cy="172.3" r="5" fill="#2a7ab9" stroke="#222" stroke-width="0.8" fill-opacity="0.85"/>
<circle cx="883.8" cy="116.6" r="4.7" fill="#f7b060" fill-opacity="0.85"/>
<circle cx="929.6" cy="156.6" r="5" fill="#c98a80" fill-opacity="0.85"/>
<circle cx="653.7" cy="400.5" r="2.9" fill="#e8565a" fill-opacity="0.85"/>
<circle cx="705.6" cy="389" r="4.9" fill="#f39a3c" fill-opacity="0.85"/>
<circle cx="587.9" cy="442.1" r="5.3" fill="#d99a8a" stroke="#222" stroke-width="0.8" fill-opacity="0.85"/>
<circle cx="668.1" cy="434.4" r="4.3" fill="#ea6a6a" fill-opacity="0.85"/>
<circle cx="710.7" cy="427.3" r="4.4" fill="#d99a8a" fill-opacity="0.85"/>
<circle cx="643" cy="464.9" r="4" fill="#d99a8a" fill-opacity="0.85"/>
<circle cx="629.9" cy="478.4" r="4.3" fill="#f39a3c" fill-opacity="0.85"/>
<circle cx="618.7" cy="470.3" r="5.3" fill="#f39a3c" fill-opacity="0.85"/>
<circle cx="767.5" cy="406" r="4.1" fill="#2a7ab9" fill-opacity="0.85"/>
<circle cx="736.2" cy="209.1" r="4.5" fill="#f7b060" fill-opacity="0.85"/>
<circle cx="684" cy="452.5" r="3.9" fill="#b8a2d4" fill-opacity="0.85"/>
<circle cx="941.3" cy="214.4" r="3.5" fill="#e8565a" fill-opacity="0.85"/>
<circle cx="708.8" cy="456.6" r="5.5" fill="#8cbf88" fill-opacity="0.85"/>
<circle cx="828.9" cy="270.5" r="3.5" fill="#f39a3c" fill-opacity="0.85"/>
<circle cx="654" cy="446.3" r="2.5" fill="#86c97f" fill-opacity="0.85"/>
<circle cx="730.1" cy="447.7" r="4.4" fill="#d98f80" stroke="#222" stroke-width="0.8" fill-opacity="0.85"/>
<circle cx="763.4" cy="447.8" r="4.4" fill="#f08a4b" fill-opacity="0.85"/>
<circle cx="637.8" cy="460.9" r="4.4" fill="#f7b060" fill-opacity="0.85"/>
<circle cx="607.3" cy="478.5" r="4.1" fill="#f39a3c" fill-opacity="0.85"/>
<circle cx="879.3" cy="364.8" r="1.6" fill="#d98f80" fill-opacity="0.85"/>
<circle cx="654.8" cy="79.8" r="1.8" fill="#4daf4a" fill-opacity="0.85"/>
<circle cx="884.6" cy="250.2" r="4.1" fill="#c98a80" stroke="#222" stroke-width="0.8" fill-opacity="0.85"/>
<circle cx="924.5" cy="214.9" r="4" fill="#7c9a62" fill-opacity="0.85"/>
<circle cx="769.2" cy="265.3" r="4.2" fill="#4daf4a" fill-opacity="0.85"/>
<circle cx="734.5" cy="376.5" r="2.3" fill="#8cbf88" fill-opacity="0.85"/>
<circle cx="724.5" cy="316.9" r="3.4" fill="#c98a80" fill-opacity="0.85"/>
<circle cx="774.5" cy="361.3" r="2.5" fill="#f39a3c" fill-opacity="0.85"/>
<circle cx="604.7" cy="472.7" r="5.1" fill="#b8a2d4" fill-opacity="0.85"/>
<circle cx="771.2" cy="267.2" r="4.2" fill="#4daf4a" fill-opacity="0.85"/>
<circle cx="679.4" cy="306.7" r="4.3" fill="#7c9a62" fill-opacity="0.85"/>
<circle cx="831.8" cy="394.6" r="2.3" fill="#d98f80" fill-opacity="0.85"/>
<circle cx="607.8" cy="433.4" r="4.8" fill="#f7b060" fill-opacity="0.85"/>
<circle cx="625.8" cy="454.2" r="1.9" fill="#86c97f" fill-opacity="0.85"/>
<circle cx="794.2" cy="194.6" r="3.2" fill="#8cbf88" fill-opacity="0.85"/>
<circle cx="782.5" cy="436.3" r="1.5" fill="#5bb55f" fill-opacity="0.85"/>
<circle cx="623" cy="425.7" r="3.8" fill="#7c9a62" fill-opacity="0.85"/>
<circle cx="613.1" cy="476.3" r="5" fill="#f39a3c" stroke="#222" stroke-width="0.8" fill-opacity="0.85"/>
<circle cx="894.8" cy="462.2" r="5" fill="#86c97f" fill-opacity="0.85"/>
<circle cx="618.2" cy="474.6" r="4.8" fill="#d99a8a" fill-opacity="0.85"/>
<circle cx="609.5" cy="425.7" r="4.6" fill="#b8a2d4" stroke="#222" stroke-width="0.8" fill-opacity="0.85"/>
<circle cx="675.7" cy="360" r="4.5" fill="#d98f80" fill-opacity="0.85"/>
<circle cx="623.2" cy="476" r="5.2" fill="#d99a8a" stroke="#222" stroke-width="0.8" fill-opacity="0.85"/>
<circle cx="614.6" cy="466.3" r="2.2" fill="#f7b060" stroke="#222" stroke-width="0.8" fill-opacity="0.85"/>
<circle cx="836" cy="301.2" r="1.9" fill="#86c97f" fill-opacity="0.85"/>
<circle cx="622.1" cy="475.4" r="4.5" fill="#4daf4a" fill-opacity="0.85"/>
<circle cx="915.8" cy="203.6" r="5.4" fill="#4daf4a" fill-opacity="0.85"/>
<circle cx="863.8" cy="160.4" r="4.1" fill="#d98f80" fill-opacity="0.85"/>
<circle cx="769.4" cy="467.8" r="4.2" fill="#7c9a62" fill-opacity="0.85"/>
<circle cx="625.6" cy="468.6" r="5.6" fill="#86c97f" fill-opacity="0.85"/>
<circle cx="603.3" cy="459.2" r="5.1" fill="#d99a8a" fill-opacity="0.85"/>
<circle cx="626.8" cy="453.2" r="4.6" fill="#ea6a6a" stroke="#222" stroke-width="0.8" fill-opacity="0.85"/>
<circle cx="659.6" cy="339.6" r="2.2" fill="#4daf4a" fill-opacity="0.85"/>
<circle cx="630" cy="471.3" r="5.2" fill="#ea6a6a" fill-opacity="0.85"/>
<circle cx="594.8" cy="450.5" r="3.6" fill="#f7b060" fill-opacity="0.85"/>
<circle cx="645.1" cy="440.5" r="4.6" fill="#e8565a" fill-opacity="0.85"/>
<circle cx="857.6" cy="256.1" r="3" fill="#2a7ab9" stroke="#222" stroke-width="0.8" fill-opacity="0.85"/>
<circle cx="669" cy="467.1" r="4.7" fill="#ea6a6a" stroke="#222" stroke-width="0.8" fill-opacity="0.85"/>
<circle cx="874.8" cy="454.6" r="5.2" fill="#e8565a" fill-opacity="0.85"/>
<circle cx="664.5" cy="315.2" r="5.4" fill="#86c97f" stroke="#222" stroke-width="0.8" fill-opacity="0.85"/>
<circle cx="766.3" cy="322.6" r="5.5" fill="#f39a3c" fill-opacity="0.85"/>
<polygon points="610.9,426.5 639.2,407.7 667.5,388.5 695.7,368.8 724,348.6 752.3,328 780.5,306.9 808.8,285.3 837.1,263.3 865.4,240.8 893.6,217.8 921.9,194.4 950.2,170.5 950.2,198.4 921.9,217.2 893.6,236.4 865.4,256.1 837.1,276.3 808.8,296.9 780.5,318 752.3,339.6 724,361.6 695.7,384.1 667.5,407.1 639.2,430.5 610.9,454.4" fill="#9aa0a8" fill-opacity="0.55"/>
<line x1="610.9" y1="440.5" x2="950.2" y2="184.4" stroke="#8a8e96" stroke-width="2.0"/>
<line x1="560" y1="61" x2="560" y2="498" stroke="#555" stroke-width="1.3"/>
<line x1="560" y1="498" x2="980" y2="498" stroke="#555" stroke-width="1.3"/>
<line x1="556.5" y1="479.2" x2="560" y2="479.2" stroke="#555" stroke-width="1.2"/>
<text x="555" y="485.5" font-size="17.5" text-anchor="end" fill="#4d4d4d" stroke="#4d4d4d" stroke-width="0.3">0.0</text>
<line x1="580" y1="498" x2="580" y2="501.5" stroke="#555" stroke-width="1.2"/>
<text x="580" y="516.5" font-size="18" text-anchor="middle" fill="#4d4d4d" stroke="#4d4d4d" stroke-width="0.3">0.0</text>
<line x1="556.5" y1="399.3" x2="560" y2="399.3" stroke="#555" stroke-width="1.2"/>
<text x="555" y="405.6" font-size="17.5" text-anchor="end" fill="#4d4d4d" stroke="#4d4d4d" stroke-width="0.3">0.2</text>
<line x1="656.4" y1="498" x2="656.4" y2="501.5" stroke="#555" stroke-width="1.2"/>
<text x="656.4" y="516.5" font-size="18" text-anchor="middle" fill="#4d4d4d" stroke="#4d4d4d" stroke-width="0.3">0.2</text>
<line x1="556.5" y1="319.4" x2="560" y2="319.4" stroke="#555" stroke-width="1.2"/>
<text x="555" y="325.7" font-size="17.5" text-anchor="end" fill="#4d4d4d" stroke="#4d4d4d" stroke-width="0.3">0.4</text>
<line x1="732.8" y1="498" x2="732.8" y2="501.5" stroke="#555" stroke-width="1.2"/>
<text x="732.8" y="516.5" font-size="18" text-anchor="middle" fill="#4d4d4d" stroke="#4d4d4d" stroke-width="0.3">0.4</text>
<line x1="556.5" y1="239.6" x2="560" y2="239.6" stroke="#555" stroke-width="1.2"/>
<text x="555" y="245.9" font-size="17.5" text-anchor="end" fill="#4d4d4d" stroke="#4d4d4d" stroke-width="0.3">0.6</text>
<line x1="809.2" y1="498" x2="809.2" y2="501.5" stroke="#555" stroke-width="1.2"/>
<text x="809.2" y="516.5" font-size="18" text-anchor="middle" fill="#4d4d4d" stroke="#4d4d4d" stroke-width="0.3">0.6</text>
<line x1="556.5" y1="159.7" x2="560" y2="159.7" stroke="#555" stroke-width="1.2"/>
<text x="555" y="166" font-size="17.5" text-anchor="end" fill="#4d4d4d" stroke="#4d4d4d" stroke-width="0.3">0.8</text>
<line x1="885.6" y1="498" x2="885.6" y2="501.5" stroke="#555" stroke-width="1.2"/>
<text x="885.6" y="516.5" font-size="18" text-anchor="middle" fill="#4d4d4d" stroke="#4d4d4d" stroke-width="0.3">0.8</text>
<line x1="556.5" y1="79.8" x2="560" y2="79.8" stroke="#555" stroke-width="1.2"/>
<text x="555" y="86.1" font-size="17.5" text-anchor="end" fill="#4d4d4d" stroke="#4d4d4d" stroke-width="0.3">1.0</text>
<line x1="962" y1="498" x2="962" y2="501.5" stroke="#555" stroke-width="1.2"/>
<text x="962" y="516.5" font-size="18" text-anchor="middle" fill="#4d4d4d" stroke="#4d4d4d" stroke-width="0.3">1.0</text>
<text x="569" y="76" font-size="17" stroke="#000" stroke-width="0.3">Pearson's r = 0.78</text>
<text x="569" y="97.3" font-size="17" stroke="#000" stroke-width="0.3">Gradient = 0.85</text>
<text x="569" y="118.6" font-size="17" stroke="#000" stroke-width="0.3">Median sample</text>
<text x="569" y="139.9" font-size="17" stroke="#000" stroke-width="0.3">ctDNA fraction = 0.9%</text>
<text x="771" y="542" font-size="24" text-anchor="middle" stroke="#000" stroke-width="0.3">Subclone CCF (WES, Tissue)</text>
<text x="519" y="280.5" font-size="24" text-anchor="middle" stroke="#000" stroke-width="0.3" transform="rotate(-90 519 280.5)">Copy number unaware CCF (Plasma)</text>
<text x="1000.5" y="28.3" font-size="14" stroke="#000" stroke-width="0.3">Patient</text>
<circle cx="1003.3" cy="43" r="2.3" fill="#9aa3a8"/>
<text x="1014.4" y="47.4" font-size="12.4" stroke="#000" stroke-width="0.3">CRUK0074</text>
<circle cx="1003.3" cy="54.7" r="2.3" fill="#98a6a6"/>
<text x="1014.4" y="59.1" font-size="12.4" stroke="#000" stroke-width="0.3">CRUK0085</text>
<circle cx="1003.3" cy="66.4" r="2.3" fill="#88a4b4"/>
<text x="1014.4" y="70.8" font-size="12.4" stroke="#000" stroke-width="0.3">CRUK0086</text>
<circle cx="1003.3" cy="78.2" r="2.3" fill="#7b9cb0"/>
<text x="1014.4" y="82.6" font-size="12.4" stroke="#000" stroke-width="0.3">CRUK0087</text>
<circle cx="1003.3" cy="89.9" r="2.3" fill="#7f9a9e"/>
<text x="1014.4" y="94.3" font-size="12.4" stroke="#000" stroke-width="0.3">CRUK0088</text>
<circle cx="1003.3" cy="101.6" r="2.3" fill="#6f9a9a"/>
<text x="1014.4" y="106" font-size="12.4" stroke="#000" stroke-width="0.3">CRUK0223</text>
<circle cx="1003.3" cy="113.3" r="2.3" fill="#5f8fa4"/>
<text x="1014.4" y="117.7" font-size="12.4" stroke="#000" stroke-width="0.3">CRUK0230</text>
<circle cx="1003.3" cy="125" r="2.3" fill="#4f7f98"/>
<text x="1014.4" y="129.4" font-size="12.4" stroke="#000" stroke-width="0.3">CRUK0240</text>
<circle cx="1003.3" cy="136.8" r="2.3" fill="#4a7896"/>
<text x="1014.4" y="141.2" font-size="12.4" stroke="#000" stroke-width="0.3">CRUK0241</text>
<circle cx="1003.3" cy="148.5" r="2.3" fill="#4f7f98"/>
<text x="1014.4" y="152.9" font-size="12.4" stroke="#000" stroke-width="0.3">CRUK0242</text>
<circle cx="1003.3" cy="160.2" r="2.3" fill="#5b8a9a"/>
<text x="1014.4" y="164.6" font-size="12.4" stroke="#000" stroke-width="0.3">CRUK0245</text>
<circle cx="1003.3" cy="171.9" r="2.3" fill="#6a9090"/>
<text x="1014.4" y="176.3" font-size="12.4" stroke="#000" stroke-width="0.3">CRUK0270</text>
<circle cx="1003.3" cy="183.6" r="2.3" fill="#6f9a8c"/>
<text x="1014.4" y="188" font-size="12.4" stroke="#000" stroke-width="0.3">CRUK0284</text>
<circle cx="1003.3" cy="195.4" r="2.3" fill="#7fa0a0"/>
<text x="1014.4" y="199.8" font-size="12.4" stroke="#000" stroke-width="0.3">CRUK0290</text>
<circle cx="1003.3" cy="207.1" r="2.3" fill="#86a2a2"/>
<text x="1014.4" y="211.5" font-size="12.4" stroke="#000" stroke-width="0.3">CRUK0291</text>
<circle cx="1003.3" cy="218.8" r="2.3" fill="#8ea0a6"/>
<text x="1014.4" y="223.2" font-size="12.4" stroke="#000" stroke-width="0.3">CRUK0303</text>
<circle cx="1003.3" cy="230.5" r="2.3" fill="#a0a89a"/>
<text x="1014.4" y="234.9" font-size="12.4" stroke="#000" stroke-width="0.3">CRUK0310</text>
<circle cx="1003.3" cy="242.2" r="2.3" fill="#7fa77f"/>
<text x="1014.4" y="246.6" font-size="12.4" stroke="#000" stroke-width="0.3">CRUK0311</text>
<circle cx="1003.3" cy="254" r="2.3" fill="#7aa27a"/>
<text x="1014.4" y="258.4" font-size="12.4" stroke="#000" stroke-width="0.3">CRUK0331</text>
<circle cx="1003.3" cy="265.7" r="2.3" fill="#86a08e"/>
<text x="1014.4" y="270.1" font-size="12.4" stroke="#000" stroke-width="0.3">CRUK0352</text>
<circle cx="1003.3" cy="277.4" r="2.3" fill="#7e9e88"/>
<text x="1014.4" y="281.8" font-size="12.4" stroke="#000" stroke-width="0.3">CRUK0369</text>
<circle cx="1003.3" cy="289.1" r="2.3" fill="#6f9e7a"/>
<text x="1014.4" y="293.5" font-size="12.4" stroke="#000" stroke-width="0.3">CRUK0379</text>
<circle cx="1003.3" cy="300.8" r="2.3" fill="#6e9a78"/>
<text x="1014.4" y="305.2" font-size="12.4" stroke="#000" stroke-width="0.3">CRUK0381</text>
<circle cx="1003.3" cy="312.6" r="2.3" fill="#6f9677"/>
<text x="1014.4" y="317" font-size="12.4" stroke="#000" stroke-width="0.3">CRUK0385</text>
<circle cx="1003.3" cy="324.3" r="2.3" fill="#5f8f70"/>
<text x="1014.4" y="328.7" font-size="12.4" stroke="#000" stroke-width="0.3">CRUK0388</text>
<circle cx="1003.3" cy="336" r="2.3" fill="#5f8a6e"/>
<text x="1014.4" y="340.4" font-size="12.4" stroke="#000" stroke-width="0.3">CRUK0396</text>
<circle cx="1003.3" cy="347.7" r="2.3" fill="#6a8e72"/>
<text x="1014.4" y="352.1" font-size="12.4" stroke="#000" stroke-width="0.3">CRUK0403</text>
<circle cx="1003.3" cy="359.4" r="2.3" fill="#8a9486"/>
<text x="1014.4" y="363.8" font-size="12.4" stroke="#000" stroke-width="0.3">CRUK0444</text>
<circle cx="1003.3" cy="371.2" r="2.3" fill="#8e9488"/>
<text x="1014.4" y="375.6" font-size="12.4" stroke="#000" stroke-width="0.3">CRUK0452</text>
<circle cx="1003.3" cy="382.9" r="2.3" fill="#8e948e"/>
<text x="1014.4" y="387.3" font-size="12.4" stroke="#000" stroke-width="0.3">CRUK0463</text>
<circle cx="1003.3" cy="394.6" r="2.3" fill="#a2a09a"/>
<text x="1014.4" y="399" font-size="12.4" stroke="#000" stroke-width="0.3">CRUK0472</text>
<circle cx="1003.3" cy="406.3" r="2.3" fill="#b0a0a8"/>
<text x="1014.4" y="410.7" font-size="12.4" stroke="#000" stroke-width="0.3">CRUK0476</text>
<circle cx="1003.3" cy="418" r="2.3" fill="#c4a0b4"/>
<text x="1014.4" y="422.4" font-size="12.4" stroke="#000" stroke-width="0.3">CRUK0484</text>
<circle cx="1088" cy="43" r="2.3" fill="#b09aa8"/>
<text x="1098.8" y="47.4" font-size="12.4" stroke="#000" stroke-width="0.3">CRUK0497</text>
<circle cx="1088" cy="54.7" r="2.3" fill="#c89aa8"/>
<text x="1098.8" y="59.1" font-size="12.4" stroke="#000" stroke-width="0.3">CRUK0503</text>
<circle cx="1088" cy="66.4" r="2.3" fill="#c88896"/>
<text x="1098.8" y="70.8" font-size="12.4" stroke="#000" stroke-width="0.3">CRUK0510</text>
<circle cx="1088" cy="78.2" r="2.3" fill="#b06a80"/>
<text x="1098.8" y="82.6" font-size="12.4" stroke="#000" stroke-width="0.3">CRUK0516</text>
<circle cx="1088" cy="89.9" r="2.3" fill="#a0607a"/>
<text x="1098.8" y="94.3" font-size="12.4" stroke="#000" stroke-width="0.3">CRUK0518</text>
<circle cx="1088" cy="101.6" r="2.3" fill="#b85a78"/>
<text x="1098.8" y="106" font-size="12.4" stroke="#000" stroke-width="0.3">CRUK0524</text>
<circle cx="1088" cy="113.3" r="2.3" fill="#b0506a"/>
<text x="1098.8" y="117.7" font-size="12.4" stroke="#000" stroke-width="0.3">CRUK0528</text>
<circle cx="1088" cy="125" r="2.3" fill="#a04a60"/>
<text x="1098.8" y="129.4" font-size="12.4" stroke="#000" stroke-width="0.3">CRUK0549</text>
<circle cx="1088" cy="136.8" r="2.3" fill="#a85a70"/>
<text x="1098.8" y="141.2" font-size="12.4" stroke="#000" stroke-width="0.3">CRUK0550</text>
<circle cx="1088" cy="148.5" r="2.3" fill="#b05a6a"/>
<text x="1098.8" y="152.9" font-size="12.4" stroke="#000" stroke-width="0.3">CRUK0553</text>
<circle cx="1088" cy="160.2" r="2.3" fill="#c8687a"/>
<text x="1098.8" y="164.6" font-size="12.4" stroke="#000" stroke-width="0.3">CRUK0559</text>
<circle cx="1088" cy="171.9" r="2.3" fill="#c07a80"/>
<text x="1098.8" y="176.3" font-size="12.4" stroke="#000" stroke-width="0.3">CRUK0563</text>
<circle cx="1088" cy="183.6" r="2.3" fill="#c09090"/>
<text x="1098.8" y="188" font-size="12.4" stroke="#000" stroke-width="0.3">CRUK0565</text>
<circle cx="1088" cy="195.4" r="2.3" fill="#d0a090"/>
<text x="1098.8" y="199.8" font-size="12.4" stroke="#000" stroke-width="0.3">CRUK0582</text>
<circle cx="1088" cy="207.1" r="2.3" fill="#c8a088"/>
<text x="1098.8" y="211.5" font-size="12.4" stroke="#000" stroke-width="0.3">CRUK0589</text>
<circle cx="1088" cy="218.8" r="2.3" fill="#c0b0a0"/>
<text x="1098.8" y="223.2" font-size="12.4" stroke="#000" stroke-width="0.3">CRUK0590</text>
<circle cx="1088" cy="230.5" r="2.3" fill="#c8b8a0"/>
<text x="1098.8" y="234.9" font-size="12.4" stroke="#000" stroke-width="0.3">CRUK0596</text>
<circle cx="1088" cy="242.2" r="2.3" fill="#d0a890"/>
<text x="1098.8" y="246.6" font-size="12.4" stroke="#000" stroke-width="0.3">CRUK0606</text>
<circle cx="1088" cy="254" r="2.3" fill="#c89870"/>
<text x="1098.8" y="258.4" font-size="12.4" stroke="#000" stroke-width="0.3">CRUK0609</text>
<circle cx="1088" cy="265.7" r="2.3" fill="#c0a080"/>
<text x="1098.8" y="270.1" font-size="12.4" stroke="#000" stroke-width="0.3">CRUK0610</text>
<circle cx="1088" cy="277.4" r="2.3" fill="#c8a890"/>
<text x="1098.8" y="281.8" font-size="12.4" stroke="#000" stroke-width="0.3">CRUK0617</text>
<circle cx="1088" cy="289.1" r="2.3" fill="#c89060"/>
<text x="1098.8" y="293.5" font-size="12.4" stroke="#000" stroke-width="0.3">CRUK0636</text>
<circle cx="1088" cy="300.8" r="2.3" fill="#c09070"/>
<text x="1098.8" y="305.2" font-size="12.4" stroke="#000" stroke-width="0.3">CRUK0640</text>
<circle cx="1088" cy="312.6" r="2.3" fill="#b89880"/>
<text x="1098.8" y="317" font-size="12.4" stroke="#000" stroke-width="0.3">CRUK0644</text>
<circle cx="1088" cy="324.3" r="2.3" fill="#c08860"/>
<text x="1098.8" y="328.7" font-size="12.4" stroke="#000" stroke-width="0.3">CRUK0667</text>
<circle cx="1088" cy="336" r="2.3" fill="#c09070"/>
<text x="1098.8" y="340.4" font-size="12.4" stroke="#000" stroke-width="0.3">CRUK0674</text>
<circle cx="1088" cy="347.7" r="2.3" fill="#b0a090"/>
<text x="1098.8" y="352.1" font-size="12.4" stroke="#000" stroke-width="0.3">CRUK0681</text>
<circle cx="1088" cy="359.4" r="2.3" fill="#c0a0a8"/>
<text x="1098.8" y="363.8" font-size="12.4" stroke="#000" stroke-width="0.3">CRUK0702</text>
<circle cx="1088" cy="371.2" r="2.3" fill="#b0a0b0"/>
<text x="1098.8" y="375.6" font-size="12.4" stroke="#000" stroke-width="0.3">CRUK0706</text>
<circle cx="1088" cy="382.9" r="2.3" fill="#b0a0a8"/>
<text x="1098.8" y="387.3" font-size="12.4" stroke="#000" stroke-width="0.3">CRUK0714</text>
<circle cx="1088" cy="394.6" r="2.3" fill="#b0b0b0"/>
<text x="1098.8" y="399" font-size="12.4" stroke="#000" stroke-width="0.3">CRUK0769</text>
<circle cx="1088" cy="406.3" r="2.3" fill="#b8b8b8"/>
<text x="1098.8" y="410.7" font-size="12.4" stroke="#000" stroke-width="0.3">CRUK0772</text>
<text x="999.6" y="459" font-size="14.5" stroke="#000" stroke-width="0.3">Plasma clonal</text>
<text x="999.6" y="475.2" font-size="14.6" stroke="#000" stroke-width="0.3">ctDNA fraction (%)</text>
<circle cx="1006" cy="489.5" r="0.9" fill="#000"/>
<text x="1020" y="493.5" font-size="11.5" stroke="#000" stroke-width="0.3">0.1</text>
<circle cx="1006" cy="501.3" r="2.4" fill="#000"/>
<text x="1020" y="505.3" font-size="11.5" stroke="#000" stroke-width="0.3">0.3</text>
<circle cx="1006" cy="513.1" r="3.3" fill="#000"/>
<text x="1020" y="517.1" font-size="11.5" stroke="#000" stroke-width="0.3">1.0</text>
<circle cx="1006" cy="524.9" r="4" fill="#000"/>
<text x="1020" y="528.9" font-size="11.5" stroke="#000" stroke-width="0.3">3.0</text>
<circle cx="1006" cy="536.7" r="4.9" fill="#000"/>
<text x="1020" y="540.7" font-size="11.5" stroke="#000" stroke-width="0.3">10.0</text>
<text x="1188.3" y="20" font-size="27.5" font-weight="bold">c</text>
<line x1="1258.4" y1="54" x2="1258.4" y2="473" stroke="#222" stroke-width="1.3"/>
<line x1="1258.4" y1="473" x2="1754" y2="473" stroke="#222" stroke-width="1.3"/>
<line x1="1255" y1="448.8" x2="1258.4" y2="448.8" stroke="#333" stroke-width="1"/>
<text x="1252.5" y="454" font-size="14.5" text-anchor="end" fill="#4d4d4d" stroke="#4d4d4d" stroke-width="0.3">0</text>
<line x1="1255" y1="373.7" x2="1258.4" y2="373.7" stroke="#333" stroke-width="1"/>
<text x="1252.5" y="378.9" font-size="14.5" text-anchor="end" fill="#4d4d4d" stroke="#4d4d4d" stroke-width="0.3">20</text>
<line x1="1255" y1="298.7" x2="1258.4" y2="298.7" stroke="#333" stroke-width="1"/>
<text x="1252.5" y="303.9" font-size="14.5" text-anchor="end" fill="#4d4d4d" stroke="#4d4d4d" stroke-width="0.3">40</text>
<line x1="1255" y1="223.6" x2="1258.4" y2="223.6" stroke="#333" stroke-width="1"/>
<text x="1252.5" y="228.8" font-size="14.5" text-anchor="end" fill="#4d4d4d" stroke="#4d4d4d" stroke-width="0.3">60</text>
<line x1="1255" y1="148.6" x2="1258.4" y2="148.6" stroke="#333" stroke-width="1"/>
<text x="1252.5" y="153.8" font-size="14.5" text-anchor="end" fill="#4d4d4d" stroke="#4d4d4d" stroke-width="0.3">80</text>
<line x1="1255" y1="73.5" x2="1258.4" y2="73.5" stroke="#333" stroke-width="1"/>
<text x="1252.5" y="78.7" font-size="14.5" text-anchor="end" fill="#4d4d4d" stroke="#4d4d4d" stroke-width="0.3">100</text>
<line x1="1350.6" y1="473" x2="1350.6" y2="476.5" stroke="#333" stroke-width="1"/>
<text x="1350.6" y="489" font-size="14.5" text-anchor="middle" fill="#4d4d4d" stroke="#4d4d4d" stroke-width="0.3">0.001</text>
<line x1="1437.7" y1="473" x2="1437.7" y2="476.5" stroke="#333" stroke-width="1"/>
<text x="1437.7" y="489" font-size="14.5" text-anchor="middle" fill="#4d4d4d" stroke="#4d4d4d" stroke-width="0.3">0.010</text>
<line x1="1524.8" y1="473" x2="1524.8" y2="476.5" stroke="#333" stroke-width="1"/>
<text x="1524.8" y="489" font-size="14.5" text-anchor="middle" fill="#4d4d4d" stroke="#4d4d4d" stroke-width="0.3">0.100</text>
<line x1="1611.9" y1="473" x2="1611.9" y2="476.5" stroke="#333" stroke-width="1"/>
<text x="1611.9" y="489" font-size="14.5" text-anchor="middle" fill="#4d4d4d" stroke="#4d4d4d" stroke-width="0.3">1.000</text>
<line x1="1699" y1="473" x2="1699" y2="476.5" stroke="#333" stroke-width="1"/>
<text x="1699" y="489" font-size="14.5" text-anchor="middle" fill="#4d4d4d" stroke="#4d4d4d" stroke-width="0.3">10.000</text>
<text x="1506.5" y="508" font-size="18.5" text-anchor="middle" stroke="#000" stroke-width="0.3">clonal ctDNA level (%)</text>
<text x="1224.5" y="260.5" font-size="18.5" text-anchor="middle" stroke="#000" stroke-width="0.3" transform="rotate(-90 1224.5 260.5)">% subclones detected in pre−operative ctDNA</text>
<clipPath id="cclip"><rect x="1259" y="40" width="500" height="432"/></clipPath><g clip-path="url(#cclip)">
<circle cx="1528.2" cy="232.9" r="3.9" fill="#78c27a" stroke="#6a6a6a" stroke-width="0.5"/>
<circle cx="1451.6" cy="373.1" r="3.9" fill="#b3a7d3" stroke="#6a6a6a" stroke-width="0.5"/>
<circle cx="1422.7" cy="448.8" r="3.9" fill="#b3a7d3" stroke="#6a6a6a" stroke-width="0.5"/>
<circle cx="1647.5" cy="120.2" r="3.9" fill="#b3a7d3" stroke="#6a6a6a" stroke-width="0.5"/>
<circle cx="1396.8" cy="448.8" r="3.9" fill="#f5bd8a" stroke="#6a6a6a" stroke-width="0.5"/>
<circle cx="1647.5" cy="130.5" r="3.9" fill="#78c27a" stroke="#6a6a6a" stroke-width="0.5"/>
<circle cx="1608.3" cy="354.4" r="3.9" fill="#78c27a" stroke="#6a6a6a" stroke-width="0.5"/>
<circle cx="1660.9" cy="155.8" r="3.9" fill="#b3a7d3" stroke="#6a6a6a" stroke-width="0.5"/>
<circle cx="1703.2" cy="73.5" r="3.9" fill="#f5bd8a" stroke="#6a6a6a" stroke-width="0.5"/>
<circle cx="1580.7" cy="148.3" r="3.9" fill="#f5bd8a" stroke="#6a6a6a" stroke-width="0.5"/>
<circle cx="1580.7" cy="198.1" r="3.9" fill="#b3a7d3" stroke="#6a6a6a" stroke-width="0.5"/>
<circle cx="1451.6" cy="448.8" r="3.9" fill="#f5bd8a" stroke="#6a6a6a" stroke-width="0.5"/>
<circle cx="1647.5" cy="148.3" r="3.9" fill="#f5bd8a" stroke="#6a6a6a" stroke-width="0.5"/>
<circle cx="1546.4" cy="73.5" r="3.9" fill="#f5bd8a" stroke="#6a6a6a" stroke-width="0.5"/>
<circle cx="1581.6" cy="364.2" r="3.9" fill="#78c27a" stroke="#6a6a6a" stroke-width="0.5"/>
<circle cx="1571.8" cy="73.5" r="3.9" fill="#f5bd8a" stroke="#6a6a6a" stroke-width="0.5"/>
<circle cx="1511.7" cy="354" r="3.9" fill="#f5bd8a" stroke="#6a6a6a" stroke-width="0.5"/>
<circle cx="1491.7" cy="260.5" r="3.9" fill="#b3a7d3" stroke="#6a6a6a" stroke-width="0.5"/>
<circle cx="1536.2" cy="281.4" r="3.9" fill="#b3a7d3" stroke="#6a6a6a" stroke-width="0.5"/>
<circle cx="1536.2" cy="322.8" r="3.9" fill="#f5bd8a" stroke="#6a6a6a" stroke-width="0.5"/>
<circle cx="1545.1" cy="322.8" r="3.9" fill="#78c27a" stroke="#6a6a6a" stroke-width="0.5"/>
<circle cx="1523.7" cy="198.1" r="3.9" fill="#b3a7d3" stroke="#6a6a6a" stroke-width="0.5"/>
<circle cx="1545.1" cy="222.6" r="3.9" fill="#b3a7d3" stroke="#6a6a6a" stroke-width="0.5"/>
<circle cx="1633.3" cy="148.3" r="3.9" fill="#78c27a" stroke="#6a6a6a" stroke-width="0.5"/>
<circle cx="1674.2" cy="167" r="3.9" fill="#78c27a" stroke="#6a6a6a" stroke-width="0.5"/>
<circle cx="1558.5" cy="448.8" r="3.9" fill="#f5bd8a" stroke="#6a6a6a" stroke-width="0.5"/>
<circle cx="1496.1" cy="298.3" r="3.9" fill="#b3a7d3" stroke="#6a6a6a" stroke-width="0.5"/>
<circle cx="1349.2" cy="448.8" r="3.9" fill="#f5bd8a" stroke="#6a6a6a" stroke-width="0.5"/>
<circle cx="1725.4" cy="73.5" r="3.9" fill="#f5bd8a" stroke="#6a6a6a" stroke-width="0.5"/>
<circle cx="1456" cy="448.8" r="3.9" fill="#f5bd8a" stroke="#6a6a6a" stroke-width="0.5"/>
<circle cx="1525.1" cy="73.5" r="3.9" fill="#f5bd8a" stroke="#6a6a6a" stroke-width="0.5"/>
<circle cx="1554" cy="167" r="3.9" fill="#f5bd8a" stroke="#6a6a6a" stroke-width="0.5"/>
<circle cx="1571.8" cy="110.4" r="3.9" fill="#b3a7d3" stroke="#6a6a6a" stroke-width="0.5"/>
<circle cx="1692" cy="73.5" r="3.9" fill="#f5bd8a" stroke="#6a6a6a" stroke-width="0.5"/>
<circle cx="1468.5" cy="448.8" r="3.9" fill="#f5bd8a" stroke="#6a6a6a" stroke-width="0.5"/>
<circle cx="1355.9" cy="448.8" r="3.9" fill="#f5bd8a" stroke="#6a6a6a" stroke-width="0.5"/>
<circle cx="1483.7" cy="322.8" r="3.9" fill="#78c27a" stroke="#6a6a6a" stroke-width="0.5"/>
<circle cx="1676.4" cy="73.5" r="3.9" fill="#f5bd8a" stroke="#6a6a6a" stroke-width="0.5"/>
<circle cx="1618.6" cy="73.5" r="3.9" fill="#f5bd8a" stroke="#6a6a6a" stroke-width="0.5"/>
<circle cx="1474.7" cy="448.8" r="3.9" fill="#f5bd8a" stroke="#6a6a6a" stroke-width="0.5"/>
<circle cx="1554" cy="287.2" r="3.9" fill="#78c27a" stroke="#6a6a6a" stroke-width="0.5"/>
<circle cx="1621.7" cy="73.5" r="3.9" fill="#f5bd8a" stroke="#6a6a6a" stroke-width="0.5"/>
<circle cx="1460.5" cy="410.5" r="3.9" fill="#b3a7d3" stroke="#6a6a6a" stroke-width="0.5"/>
<circle cx="1384.8" cy="448.8" r="3.9" fill="#f5bd8a" stroke="#6a6a6a" stroke-width="0.5"/>
<circle cx="1582.9" cy="73.5" r="3.9" fill="#f5bd8a" stroke="#6a6a6a" stroke-width="0.5"/>
<circle cx="1625.2" cy="73.5" r="3.9" fill="#b3a7d3" stroke="#6a6a6a" stroke-width="0.5"/>
<circle cx="1636.4" cy="167" r="3.9" fill="#b3a7d3" stroke="#6a6a6a" stroke-width="0.5"/>
<circle cx="1589.6" cy="244" r="3.9" fill="#78c27a" stroke="#6a6a6a" stroke-width="0.5"/>
<circle cx="1501.5" cy="425.2" r="3.9" fill="#78c27a" stroke="#6a6a6a" stroke-width="0.5"/>
<circle cx="1658.6" cy="73.5" r="3.9" fill="#f5bd8a" stroke="#6a6a6a" stroke-width="0.5"/>
<circle cx="1480.5" cy="260.5" r="3.9" fill="#b3a7d3" stroke="#6a6a6a" stroke-width="0.5"/>
<circle cx="1548.7" cy="400.7" r="3.9" fill="#78c27a" stroke="#6a6a6a" stroke-width="0.5"/>
<circle cx="1259.3" cy="385.1" r="3.9" fill="#b3a7d3" stroke="#6a6a6a" stroke-width="0.5"/>
<circle cx="1545.1" cy="167" r="3.9" fill="#f5bd8a" stroke="#6a6a6a" stroke-width="0.5"/>
<circle cx="1643.9" cy="73.5" r="3.9" fill="#f5bd8a" stroke="#6a6a6a" stroke-width="0.5"/>
<circle cx="1407.1" cy="448.8" r="3.9" fill="#f5bd8a" stroke="#6a6a6a" stroke-width="0.5"/>
<circle cx="1478.3" cy="448.8" r="3.9" fill="#f5bd8a" stroke="#6a6a6a" stroke-width="0.5"/>
<circle cx="1602.1" cy="448.8" r="3.9" fill="#f5bd8a" stroke="#6a6a6a" stroke-width="0.5"/>
<circle cx="1378.1" cy="448.8" r="3.9" fill="#f5bd8a" stroke="#6a6a6a" stroke-width="0.5"/>
<circle cx="1605.2" cy="198.1" r="3.9" fill="#78c27a" stroke="#6a6a6a" stroke-width="0.5"/>
<circle cx="1528.6" cy="73.5" r="3.9" fill="#f5bd8a" stroke="#6a6a6a" stroke-width="0.5"/>
<circle cx="1611" cy="73.5" r="3.9" fill="#f5bd8a" stroke="#6a6a6a" stroke-width="0.5"/>
<circle cx="1634.1" cy="73.5" r="3.9" fill="#f5bd8a" stroke="#6a6a6a" stroke-width="0.5"/>
<circle cx="1595" cy="73.5" r="3.9" fill="#f5bd8a" stroke="#6a6a6a" stroke-width="0.5"/>
<circle cx="1668.9" cy="96.2" r="3.9" fill="#78c27a" stroke="#6a6a6a" stroke-width="0.5"/>
<circle cx="1509.5" cy="341.5" r="3.9" fill="#78c27a" stroke="#6a6a6a" stroke-width="0.5"/>
<circle cx="1598.5" cy="260.5" r="3.9" fill="#b3a7d3" stroke="#6a6a6a" stroke-width="0.5"/>
<circle cx="1625.2" cy="73.5" r="3.9" fill="#b3a7d3" stroke="#6a6a6a" stroke-width="0.5"/>
<circle cx="1606.5" cy="260.5" r="3.9" fill="#f5bd8a" stroke="#6a6a6a" stroke-width="0.5"/>
<circle cx="1452.5" cy="394" r="3.9" fill="#78c27a" stroke="#6a6a6a" stroke-width="0.5"/>
<circle cx="1607.4" cy="373.1" r="3.9" fill="#78c27a" stroke="#6a6a6a" stroke-width="0.5"/>
<circle cx="1556.2" cy="322.8" r="3.9" fill="#b3a7d3" stroke="#6a6a6a" stroke-width="0.5"/>
<circle cx="1672" cy="123.3" r="3.9" fill="#78c27a" stroke="#6a6a6a" stroke-width="0.5"/>
<circle cx="1558.5" cy="291.6" r="3.9" fill="#b3a7d3" stroke="#6a6a6a" stroke-width="0.5"/>
<circle cx="1537.5" cy="328.6" r="3.9" fill="#78c27a" stroke="#6a6a6a" stroke-width="0.5"/>
<circle cx="1400.4" cy="448.8" r="3.9" fill="#f5bd8a" stroke="#6a6a6a" stroke-width="0.5"/>
<circle cx="1386.1" cy="417.2" r="3.9" fill="#b3a7d3" stroke="#6a6a6a" stroke-width="0.5"/>
<circle cx="1295.8" cy="448.8" r="3.9" fill="#f5bd8a" stroke="#6a6a6a" stroke-width="0.5"/>
<circle cx="1690.7" cy="448.8" r="3.9" fill="#f5bd8a" stroke="#6a6a6a" stroke-width="0.5"/>
<circle cx="1497.9" cy="260.5" r="3.9" fill="#b3a7d3" stroke="#6a6a6a" stroke-width="0.5"/>
<circle cx="1618.6" cy="167" r="3.9" fill="#f5bd8a" stroke="#6a6a6a" stroke-width="0.5"/>
<circle cx="1362.5" cy="448.8" r="3.9" fill="#f5bd8a" stroke="#6a6a6a" stroke-width="0.5"/>
<circle cx="1461.4" cy="448.8" r="3.9" fill="#f5bd8a" stroke="#6a6a6a" stroke-width="0.5"/>
<circle cx="1481.9" cy="298.3" r="3.9" fill="#78c27a" stroke="#6a6a6a" stroke-width="0.5"/>
<circle cx="1460.5" cy="417.2" r="3.9" fill="#78c27a" stroke="#6a6a6a" stroke-width="0.5"/>
<circle cx="1519.3" cy="73.5" r="3.9" fill="#f5bd8a" stroke="#6a6a6a" stroke-width="0.5"/>
<circle cx="1592.3" cy="73.5" r="3.9" fill="#f5bd8a" stroke="#6a6a6a" stroke-width="0.5"/>
<circle cx="1410.6" cy="448.8" r="3.9" fill="#f5bd8a" stroke="#6a6a6a" stroke-width="0.5"/>
<circle cx="1480.5" cy="198.1" r="3.9" fill="#f5bd8a" stroke="#6a6a6a" stroke-width="0.5"/>
<circle cx="1478.3" cy="354" r="3.9" fill="#b3a7d3" stroke="#6a6a6a" stroke-width="0.5"/>
<circle cx="1588.7" cy="73.5" r="3.9" fill="#f5bd8a" stroke="#6a6a6a" stroke-width="0.5"/>
<circle cx="1607.4" cy="322.8" r="3.9" fill="#b3a7d3" stroke="#6a6a6a" stroke-width="0.5"/>
<circle cx="1534.9" cy="73.5" r="3.9" fill="#f5bd8a" stroke="#6a6a6a" stroke-width="0.5"/>
<circle cx="1608.3" cy="73.5" r="3.9" fill="#f5bd8a" stroke="#6a6a6a" stroke-width="0.5"/>
<circle cx="1618.6" cy="198.1" r="3.9" fill="#78c27a" stroke="#6a6a6a" stroke-width="0.5"/>
<circle cx="1574" cy="307.2" r="3.9" fill="#78c27a" stroke="#6a6a6a" stroke-width="0.5"/>
<circle cx="1540.6" cy="448.8" r="3.9" fill="#b3a7d3" stroke="#6a6a6a" stroke-width="0.5"/>
<circle cx="1707.6" cy="73.5" r="3.9" fill="#f5bd8a" stroke="#6a6a6a" stroke-width="0.5"/>
<circle cx="1607.4" cy="298.3" r="3.9" fill="#f5bd8a" stroke="#6a6a6a" stroke-width="0.5"/>
<circle cx="1465" cy="448.8" r="3.9" fill="#f5bd8a" stroke="#6a6a6a" stroke-width="0.5"/>
<circle cx="1549.5" cy="448.8" r="3.9" fill="#b3a7d3" stroke="#6a6a6a" stroke-width="0.5"/>
<circle cx="1556.2" cy="373.1" r="3.9" fill="#78c27a" stroke="#6a6a6a" stroke-width="0.5"/>
<circle cx="1709.8" cy="129.1" r="3.9" fill="#78c27a" stroke="#6a6a6a" stroke-width="0.5"/>
<circle cx="1571.8" cy="188.3" r="3.9" fill="#78c27a" stroke="#6a6a6a" stroke-width="0.5"/>
<circle cx="1524.2" cy="222.6" r="3.9" fill="#b3a7d3" stroke="#6a6a6a" stroke-width="0.5"/>
<circle cx="1618.6" cy="240.4" r="3.9" fill="#b3a7d3" stroke="#6a6a6a" stroke-width="0.5"/>
<circle cx="1465" cy="345.1" r="3.9" fill="#b3a7d3" stroke="#6a6a6a" stroke-width="0.5"/>
<circle cx="1281.5" cy="448.8" r="3.9" fill="#f5bd8a" stroke="#6a6a6a" stroke-width="0.5"/>
<circle cx="1259.3" cy="417.2" r="3.9" fill="#78c27a" stroke="#6a6a6a" stroke-width="0.5"/>
<circle cx="1527.3" cy="233.7" r="3.9" fill="#b3a7d3" stroke="#6a6a6a" stroke-width="0.5"/>
<circle cx="1536.2" cy="385.1" r="3.9" fill="#78c27a" stroke="#6a6a6a" stroke-width="0.5"/>
<circle cx="1611" cy="233.7" r="3.9" fill="#78c27a" stroke="#6a6a6a" stroke-width="0.5"/>
<circle cx="1444.9" cy="354" r="3.9" fill="#78c27a" stroke="#6a6a6a" stroke-width="0.5"/>
<circle cx="1618.6" cy="148.3" r="3.9" fill="#f5bd8a" stroke="#6a6a6a" stroke-width="0.5"/>
<circle cx="1605.2" cy="148.3" r="3.9" fill="#b3a7d3" stroke="#6a6a6a" stroke-width="0.5"/>
<circle cx="1523.7" cy="260.5" r="3.9" fill="#f5bd8a" stroke="#6a6a6a" stroke-width="0.5"/>
<circle cx="1379.5" cy="385.1" r="3.9" fill="#b3a7d3" stroke="#6a6a6a" stroke-width="0.5"/>
<circle cx="1625.2" cy="260.5" r="3.9" fill="#78c27a" stroke="#6a6a6a" stroke-width="0.5"/>
<circle cx="1487.2" cy="448.8" r="3.9" fill="#f5bd8a" stroke="#6a6a6a" stroke-width="0.5"/>
<circle cx="1636.4" cy="223.5" r="3.9" fill="#78c27a" stroke="#6a6a6a" stroke-width="0.5"/>
<circle cx="1404" cy="448.8" r="3.9" fill="#f5bd8a" stroke="#6a6a6a" stroke-width="0.5"/>
<circle cx="1580.7" cy="244" r="3.9" fill="#78c27a" stroke="#6a6a6a" stroke-width="0.5"/>
<circle cx="1594.1" cy="373.1" r="3.9" fill="#78c27a" stroke="#6a6a6a" stroke-width="0.5"/>
<circle cx="1259.3" cy="409.6" r="3.9" fill="#b3a7d3" stroke="#6a6a6a" stroke-width="0.5"/>
<circle cx="1709.8" cy="106.9" r="3.9" fill="#f5bd8a" stroke="#6a6a6a" stroke-width="0.5"/>
<circle cx="1580.7" cy="322.8" r="3.9" fill="#b3a7d3" stroke="#6a6a6a" stroke-width="0.5"/>
<circle cx="1574" cy="222.6" r="3.9" fill="#b3a7d3" stroke="#6a6a6a" stroke-width="0.5"/>
<circle cx="1545.1" cy="448.8" r="3.9" fill="#b3a7d3" stroke="#6a6a6a" stroke-width="0.5"/>
<circle cx="1451.6" cy="373.1" r="3.9" fill="#f5bd8a" stroke="#6a6a6a" stroke-width="0.5"/>
<circle cx="1416" cy="448.8" r="3.9" fill="#f5bd8a" stroke="#6a6a6a" stroke-width="0.5"/>
<circle cx="1656.4" cy="73.5" r="3.9" fill="#f5bd8a" stroke="#6a6a6a" stroke-width="0.5"/>
<circle cx="1486.3" cy="410.5" r="3.9" fill="#78c27a" stroke="#6a6a6a" stroke-width="0.5"/>
<circle cx="1496.1" cy="322.8" r="3.9" fill="#78c27a" stroke="#6a6a6a" stroke-width="0.5"/>
<circle cx="1541.5" cy="73.5" r="3.9" fill="#f5bd8a" stroke="#6a6a6a" stroke-width="0.5"/>
<circle cx="1458.3" cy="354" r="3.9" fill="#f5bd8a" stroke="#6a6a6a" stroke-width="0.5"/>
<circle cx="1477.4" cy="73.5" r="3.9" fill="#f5bd8a" stroke="#6a6a6a" stroke-width="0.5"/>
<circle cx="1509.5" cy="198.1" r="3.9" fill="#f5bd8a" stroke="#6a6a6a" stroke-width="0.5"/>
<circle cx="1465" cy="260.5" r="3.9" fill="#f5bd8a" stroke="#6a6a6a" stroke-width="0.5"/>
<circle cx="1600.7" cy="222.6" r="3.9" fill="#f5bd8a" stroke="#6a6a6a" stroke-width="0.5"/>
<circle cx="1496.1" cy="73.5" r="3.9" fill="#f5bd8a" stroke="#6a6a6a" stroke-width="0.5"/>
<circle cx="1574" cy="260.5" r="3.9" fill="#f5bd8a" stroke="#6a6a6a" stroke-width="0.5"/>
<circle cx="1259.3" cy="448.8" r="3.9" fill="#78c27a" stroke="#6a6a6a" stroke-width="0.5"/>
<circle cx="1465" cy="378.5" r="3.9" fill="#78c27a" stroke="#6a6a6a" stroke-width="0.5"/>
<circle cx="1259.3" cy="402.9" r="3.9" fill="#78c27a" stroke="#6a6a6a" stroke-width="0.5"/>
<circle cx="1556.2" cy="73.5" r="3.9" fill="#f5bd8a" stroke="#6a6a6a" stroke-width="0.5"/>
<circle cx="1321.6" cy="448.8" r="3.9" fill="#f5bd8a" stroke="#6a6a6a" stroke-width="0.5"/>
<circle cx="1618.6" cy="275.2" r="3.9" fill="#78c27a" stroke="#6a6a6a" stroke-width="0.5"/>
<circle cx="1678.7" cy="175" r="3.9" fill="#78c27a" stroke="#6a6a6a" stroke-width="0.5"/>
<circle cx="1327.8" cy="448.8" r="3.9" fill="#f5bd8a" stroke="#6a6a6a" stroke-width="0.5"/>
<circle cx="1528.6" cy="281.4" r="3.9" fill="#78c27a" stroke="#6a6a6a" stroke-width="0.5"/>
<circle cx="1442.7" cy="373.1" r="3.9" fill="#b3a7d3" stroke="#6a6a6a" stroke-width="0.5"/>
<circle cx="1500.6" cy="448.8" r="3.9" fill="#f5bd8a" stroke="#6a6a6a" stroke-width="0.5"/>
<circle cx="1593.2" cy="448.8" r="3.9" fill="#b3a7d3" stroke="#6a6a6a" stroke-width="0.5"/>
<circle cx="1511.7" cy="448.8" r="3.9" fill="#f5bd8a" stroke="#6a6a6a" stroke-width="0.5"/>
<circle cx="1259.3" cy="402.9" r="3.9" fill="#b3a7d3" stroke="#6a6a6a" stroke-width="0.5"/>
<circle cx="1538.4" cy="448.8" r="3.9" fill="#b3a7d3" stroke="#6a6a6a" stroke-width="0.5"/>
<circle cx="1618.6" cy="172.8" r="3.9" fill="#b3a7d3" stroke="#6a6a6a" stroke-width="0.5"/>
<circle cx="1547.3" cy="260.5" r="3.9" fill="#78c27a" stroke="#6a6a6a" stroke-width="0.5"/>
<circle cx="1608.3" cy="365.1" r="3.9" fill="#b3a7d3" stroke="#6a6a6a" stroke-width="0.5"/>
<circle cx="1635" cy="198.1" r="3.9" fill="#b3a7d3" stroke="#6a6a6a" stroke-width="0.5"/>
<circle cx="1497" cy="448.8" r="3.9" fill="#f5bd8a" stroke="#6a6a6a" stroke-width="0.5"/>
<circle cx="1420.4" cy="448.8" r="3.9" fill="#b3a7d3" stroke="#6a6a6a" stroke-width="0.5"/>
<circle cx="1580.7" cy="73.5" r="3.9" fill="#f5bd8a" stroke="#6a6a6a" stroke-width="0.5"/>
<circle cx="1458.3" cy="448.8" r="3.9" fill="#f5bd8a" stroke="#6a6a6a" stroke-width="0.5"/>
<circle cx="1696.5" cy="73.5" r="3.9" fill="#f5bd8a" stroke="#6a6a6a" stroke-width="0.5"/>
<circle cx="1523.7" cy="244.9" r="3.9" fill="#78c27a" stroke="#6a6a6a" stroke-width="0.5"/>
<circle cx="1590.5" cy="167" r="3.9" fill="#f5bd8a" stroke="#6a6a6a" stroke-width="0.5"/>
<circle cx="1442.7" cy="260.5" r="3.9" fill="#f5bd8a" stroke="#6a6a6a" stroke-width="0.5"/>
<circle cx="1497.9" cy="73.5" r="3.9" fill="#f5bd8a" stroke="#6a6a6a" stroke-width="0.5"/>
<circle cx="1493.9" cy="448.8" r="3.9" fill="#f5bd8a" stroke="#6a6a6a" stroke-width="0.5"/>
<circle cx="1538.4" cy="148.3" r="3.9" fill="#f5bd8a" stroke="#6a6a6a" stroke-width="0.5"/>
<circle cx="1520.6" cy="345.9" r="3.9" fill="#78c27a" stroke="#6a6a6a" stroke-width="0.5"/>
<circle cx="1580.7" cy="373.1" r="3.9" fill="#78c27a" stroke="#6a6a6a" stroke-width="0.5"/>
<circle cx="1371.5" cy="448.8" r="3.9" fill="#f5bd8a" stroke="#6a6a6a" stroke-width="0.5"/>
<circle cx="1709.8" cy="135.8" r="3.9" fill="#b3a7d3" stroke="#6a6a6a" stroke-width="0.5"/>
<circle cx="1498.3" cy="322.8" r="3.9" fill="#78c27a" stroke="#6a6a6a" stroke-width="0.5"/>
<circle cx="1547.3" cy="198.1" r="3.9" fill="#b3a7d3" stroke="#6a6a6a" stroke-width="0.5"/>
<circle cx="1358.1" cy="448.8" r="3.9" fill="#f5bd8a" stroke="#6a6a6a" stroke-width="0.5"/>
<circle cx="1525.1" cy="448.8" r="3.9" fill="#f5bd8a" stroke="#6a6a6a" stroke-width="0.5"/>
<circle cx="1482.8" cy="448.8" r="3.9" fill="#f5bd8a" stroke="#6a6a6a" stroke-width="0.5"/>
<circle cx="1531.7" cy="335.3" r="3.9" fill="#78c27a" stroke="#6a6a6a" stroke-width="0.5"/>
<circle cx="1732.1" cy="73.5" r="3.9" fill="#f5bd8a" stroke="#6a6a6a" stroke-width="0.5"/>
<circle cx="1658.6" cy="101.5" r="3.9" fill="#78c27a" stroke="#6a6a6a" stroke-width="0.5"/>
<circle cx="1374.6" cy="448.8" r="3.9" fill="#f5bd8a" stroke="#6a6a6a" stroke-width="0.5"/>
<circle cx="1444" cy="73.5" r="3.9" fill="#f5bd8a" stroke="#6a6a6a" stroke-width="0.5"/>
<circle cx="1259.3" cy="73.5" r="3.9" fill="#f5bd8a" stroke="#6a6a6a" stroke-width="0.5"/>
<circle cx="1672" cy="73.5" r="3.9" fill="#f5bd8a" stroke="#6a6a6a" stroke-width="0.5"/>
<circle cx="1667.5" cy="73.5" r="3.9" fill="#f5bd8a" stroke="#6a6a6a" stroke-width="0.5"/>
<circle cx="1660.9" cy="148.3" r="3.9" fill="#f5bd8a" stroke="#6a6a6a" stroke-width="0.5"/>
<circle cx="1558.5" cy="354.4" r="3.9" fill="#78c27a" stroke="#6a6a6a" stroke-width="0.5"/>
<circle cx="1674.2" cy="198.1" r="3.9" fill="#b3a7d3" stroke="#6a6a6a" stroke-width="0.5"/>
<circle cx="1678.7" cy="73.5" r="3.9" fill="#f5bd8a" stroke="#6a6a6a" stroke-width="0.5"/>
<circle cx="1585.2" cy="73.5" r="3.9" fill="#f5bd8a" stroke="#6a6a6a" stroke-width="0.5"/>
<circle cx="1634.1" cy="260.5" r="3.9" fill="#78c27a" stroke="#6a6a6a" stroke-width="0.5"/>
<circle cx="1548.2" cy="148.3" r="3.9" fill="#f5bd8a" stroke="#6a6a6a" stroke-width="0.5"/>
<circle cx="1324.7" cy="448.8" r="3.9" fill="#f5bd8a" stroke="#6a6a6a" stroke-width="0.5"/>
<circle cx="1471.6" cy="448.8" r="3.9" fill="#f5bd8a" stroke="#6a6a6a" stroke-width="0.5"/>
<circle cx="1580.7" cy="260.5" r="3.9" fill="#f5bd8a" stroke="#6a6a6a" stroke-width="0.5"/>
<circle cx="1381.2" cy="448.8" r="3.9" fill="#f5bd8a" stroke="#6a6a6a" stroke-width="0.5"/>
<circle cx="1549.5" cy="209.3" r="3.9" fill="#78c27a" stroke="#6a6a6a" stroke-width="0.5"/>
<circle cx="1487.2" cy="73.5" r="3.9" fill="#f5bd8a" stroke="#6a6a6a" stroke-width="0.5"/>
<circle cx="1619.9" cy="141.6" r="3.9" fill="#78c27a" stroke="#6a6a6a" stroke-width="0.5"/>
<circle cx="1589.6" cy="198.1" r="3.9" fill="#b3a7d3" stroke="#6a6a6a" stroke-width="0.5"/>
<circle cx="1627.5" cy="73.5" r="3.9" fill="#f5bd8a" stroke="#6a6a6a" stroke-width="0.5"/>
<circle cx="1554" cy="233.7" r="3.9" fill="#b3a7d3" stroke="#6a6a6a" stroke-width="0.5"/>
<circle cx="1528.2" cy="148.3" r="3.9" fill="#f5bd8a" stroke="#6a6a6a" stroke-width="0.5"/>
<circle cx="1656.4" cy="97.1" r="3.9" fill="#78c27a" stroke="#6a6a6a" stroke-width="0.5"/>
<circle cx="1533.1" cy="222.6" r="3.9" fill="#f5bd8a" stroke="#6a6a6a" stroke-width="0.5"/>
<circle cx="1490.8" cy="198.1" r="3.9" fill="#f5bd8a" stroke="#6a6a6a" stroke-width="0.5"/>
<circle cx="1638.6" cy="73.5" r="3.9" fill="#f5bd8a" stroke="#6a6a6a" stroke-width="0.5"/>
<circle cx="1718.7" cy="73.5" r="3.9" fill="#f5bd8a" stroke="#6a6a6a" stroke-width="0.5"/>
<circle cx="1550.9" cy="73.5" r="3.9" fill="#f5bd8a" stroke="#6a6a6a" stroke-width="0.5"/>
<circle cx="1674.2" cy="260.5" r="3.9" fill="#78c27a" stroke="#6a6a6a" stroke-width="0.5"/>
<circle cx="1431.6" cy="448.8" r="3.9" fill="#f5bd8a" stroke="#6a6a6a" stroke-width="0.5"/>
<circle cx="1590.5" cy="281.8" r="3.9" fill="#78c27a" stroke="#6a6a6a" stroke-width="0.5"/>
<circle cx="1558.5" cy="233.7" r="3.9" fill="#f5bd8a" stroke="#6a6a6a" stroke-width="0.5"/>
<circle cx="1707.6" cy="148.3" r="3.9" fill="#78c27a" stroke="#6a6a6a" stroke-width="0.5"/>
<circle cx="1521.9" cy="73.5" r="3.9" fill="#f5bd8a" stroke="#6a6a6a" stroke-width="0.5"/>
<circle cx="1535.3" cy="213.7" r="3.9" fill="#b3a7d3" stroke="#6a6a6a" stroke-width="0.5"/>
<circle cx="1458.3" cy="341.5" r="3.9" fill="#78c27a" stroke="#6a6a6a" stroke-width="0.5"/>
<circle cx="1509.5" cy="448.8" r="3.9" fill="#78c27a" stroke="#6a6a6a" stroke-width="0.5"/>
<circle cx="1660.9" cy="159.4" r="3.9" fill="#78c27a" stroke="#6a6a6a" stroke-width="0.5"/>
<circle cx="1511.7" cy="379.8" r="3.9" fill="#78c27a" stroke="#6a6a6a" stroke-width="0.5"/>
<circle cx="1611" cy="213.7" r="3.9" fill="#78c27a" stroke="#6a6a6a" stroke-width="0.5"/>
<circle cx="1386.1" cy="260.5" r="3.9" fill="#f5bd8a" stroke="#6a6a6a" stroke-width="0.5"/>
<circle cx="1554" cy="298.3" r="3.9" fill="#78c27a" stroke="#6a6a6a" stroke-width="0.5"/>
<circle cx="1453.8" cy="448.8" r="3.9" fill="#f5bd8a" stroke="#6a6a6a" stroke-width="0.5"/>
<circle cx="1675.1" cy="126.9" r="3.9" fill="#b3a7d3" stroke="#6a6a6a" stroke-width="0.5"/>
</g>
<path d="M1280.4,434.7C1285.4,436.7 1300.6,443.8 1310.7,446.8C1320.8,449.8 1331,452.6 1341.1,452.9C1351.2,453.1 1363.8,449.8 1371.4,448.3C1379,446.8 1381.6,445.8 1386.6,443.8C1391.7,441.7 1396.7,438.7 1401.8,436.2C1406.9,433.6 1411.9,431.4 1417,428.6C1422,425.8 1427.1,422.8 1432.1,419.5C1437.2,416.2 1442.3,412.9 1447.3,408.9C1452.4,404.8 1457.4,400.5 1462.5,395.2C1467.6,389.9 1472.6,383 1477.7,377C1482.7,370.9 1487.8,364.8 1492.9,358.8C1497.9,352.7 1503,346.1 1508,340.5C1513.1,335 1518.2,329.4 1523.2,325.4C1528.3,321.3 1533.3,319.8 1538.4,316.3C1543.5,312.7 1548.5,308.7 1553.6,304.1C1558.6,299.6 1563.7,294.5 1568.8,288.9C1573.8,283.4 1578.9,276.8 1583.9,270.7C1589,264.7 1594.1,258.8 1599.1,252.5C1604.2,246.2 1609.2,239.4 1614.3,232.8C1619.4,226.2 1624.4,219.9 1629.5,213C1634.5,206.2 1639.6,198.4 1644.7,191.8C1649.7,185.2 1654.8,180.2 1659.8,173.6C1664.9,167 1670,159.4 1675,152.3C1680.1,145.2 1685.1,137.7 1690.2,131.1C1695.3,124.5 1700.3,118.9 1705.4,112.9C1710.4,106.8 1716,100 1720.6,94.6C1725.1,89.3 1730.7,83.3 1732.7,81" fill="none" stroke="#7cc47e" stroke-width="2.2"/>
<path d="M1280.4,434.7C1285.4,436.7 1300.6,443.8 1310.7,446.8C1320.8,449.8 1331,452.6 1341.1,452.9C1351.2,453.1 1363.8,450.1 1371.4,448.3C1379,446.5 1381.6,444.5 1386.6,442.2C1391.7,440 1396.7,437.4 1401.8,434.7C1406.9,431.9 1411.9,428.6 1417,425.5C1422,422.5 1427.1,420 1432.1,416.4C1437.2,412.9 1442.3,409.4 1447.3,404.3C1452.4,399.2 1457.4,392.7 1462.5,386.1C1467.6,379.5 1472.6,372.4 1477.7,364.8C1482.7,357.2 1487.8,348.1 1492.9,340.5C1497.9,333 1503,326.9 1508,319.3C1513.1,311.7 1518.2,302.1 1523.2,295C1528.3,287.9 1533.3,282.9 1538.4,276.8C1543.5,270.7 1548.5,265.2 1553.6,258.6C1558.6,252 1563.7,244.4 1568.8,237.3C1573.8,230.2 1578.9,223.2 1583.9,216.1C1589,209 1594.1,201.9 1599.1,194.8C1604.2,187.7 1609.2,180.2 1614.3,173.6C1619.4,167 1624.4,161.4 1629.5,155.4C1634.5,149.3 1639.6,142.2 1644.7,137.1C1649.7,132.1 1654.8,129.1 1659.8,125C1664.9,121 1670,116.1 1675,112.9C1680.1,109.6 1685.1,107.5 1690.2,105.3C1695.3,103 1698.3,102 1705.4,99.2C1712.5,96.4 1728.1,90.3 1732.7,88.6" fill="none" stroke="#b6a9d6" stroke-width="2.2"/>
<path d="M1280.4,425.5C1282.9,427.6 1290.5,434.2 1295.5,437.7C1300.6,441.2 1303.1,444.3 1310.7,446.8C1318.3,449.3 1331,452.6 1341.1,452.9C1351.2,453.1 1363.8,450.3 1371.4,448.3C1379,446.3 1381.6,444 1386.6,440.7C1391.7,437.4 1396.7,433.1 1401.8,428.6C1406.9,424 1411.9,419.5 1417,413.4C1422,407.3 1427.1,399.2 1432.1,392.2C1437.2,385.1 1442.3,378.5 1447.3,370.9C1452.4,363.3 1457.4,355.2 1462.5,346.6C1467.6,338 1472.6,328.9 1477.7,319.3C1482.7,309.7 1487.8,299.6 1492.9,288.9C1497.9,278.3 1503,267.2 1508,255.5C1513.1,243.9 1519.2,228.7 1523.2,219.1C1527.3,209.5 1529.3,203.4 1532.3,197.9C1535.4,192.3 1537.9,189.3 1541.4,185.7C1545,182.2 1549,180.2 1553.6,176.6C1558.1,173.1 1563.7,168.5 1568.8,164.5C1573.8,160.4 1578.9,156.1 1583.9,152.3C1589,148.5 1594.1,145 1599.1,141.7C1604.2,138.4 1609.2,135.6 1614.3,132.6C1619.4,129.6 1624.4,126.3 1629.5,123.5C1634.5,120.7 1639.6,118.2 1644.7,115.9C1649.7,113.6 1654.8,111.8 1659.8,109.8C1664.9,107.8 1670,105.5 1675,103.8C1680.1,102 1685.1,100.7 1690.2,99.2C1695.3,97.7 1700.3,95.9 1705.4,94.6C1710.4,93.4 1716,92.4 1720.6,91.6C1725.1,90.9 1730.7,90.3 1732.7,90.1" fill="none" stroke="#f6bf8c" stroke-width="2.2"/>
<text x="1769.5" y="222" font-size="18.5" stroke="#000" stroke-width="0.3">Cancer cell fraction</text>
<text x="1769.5" y="242" font-size="18.5" stroke="#000" stroke-width="0.3">measured in tissue</text>
<text x="1769.5" y="262" font-size="18.5" stroke="#000" stroke-width="0.3">multiregion WES</text>
<line x1="1773" y1="281.4" x2="1785" y2="281.4" stroke="#7cc47e" stroke-width="2.2"/>
<circle cx="1779" cy="281.4" r="3.8" fill="#78c27a" stroke="#6a6a6a" stroke-width="0.5"/>
<text x="1794" y="286.9" font-size="15" stroke="#000" stroke-width="0.3">0.1</text>
<line x1="1773" y1="297.7" x2="1785" y2="297.7" stroke="#b6a9d6" stroke-width="2.2"/>
<circle cx="1779" cy="297.7" r="3.8" fill="#b3a7d3" stroke="#6a6a6a" stroke-width="0.5"/>
<text x="1794" y="303.2" font-size="15" stroke="#000" stroke-width="0.3">0.2</text>
<line x1="1773" y1="314" x2="1785" y2="314" stroke="#f6bf8c" stroke-width="2.2"/>
<circle cx="1779" cy="314" r="3.8" fill="#f5bd8a" stroke="#6a6a6a" stroke-width="0.5"/>
<text x="1794" y="319.5" font-size="15" stroke="#000" stroke-width="0.3">0.5</text>
<text x="10" y="663" font-size="27.5" font-weight="bold">d</text>
<text x="2" y="712.5" font-size="20.2" stroke="#000" stroke-width="0.3">Subclones unique to 1 tumour tissue sample</text>
<line x1="175.8" y1="788.4" x2="175.8" y2="895.4" stroke="#222" stroke-width="1.3"/>
<line x1="175.8" y1="1021" x2="175.8" y2="1162.5" stroke="#222" stroke-width="1.3"/>
<rect x="126.2" y="895.4" width="99.1" height="125.6" fill="none" stroke="#222" stroke-width="1.3"/>
<line x1="126.2" y1="947.6" x2="225.3" y2="947.6" stroke="#222" stroke-width="2.4699999999999998"/>
<line x1="308.3" y1="802" x2="308.3" y2="866.2" stroke="#222" stroke-width="1.3"/>
<line x1="308.3" y1="932.3" x2="308.3" y2="993.2" stroke="#222" stroke-width="1.3"/>
<rect x="258.3" y="866.2" width="100" height="66.1" fill="none" stroke="#222" stroke-width="1.3"/>
<line x1="258.3" y1="895.4" x2="358.3" y2="895.4" stroke="#222" stroke-width="2.4699999999999998"/>
<g stroke="#303030" stroke-opacity="0.42" stroke-width="1.4">
<path d="M176.1 972L283.8 876.5"/>
<path d="M153 856.4L321.2 853.5"/>
<path d="M151.5 856.5L308.8 858.6"/>
<path d="M199.9 979.8L289 893.1"/>
<path d="M188.1 1091.1L325.6 884.2"/>
<path d="M201.6 930.5L308.2 831.9"/>
<path d="M191.2 1025.5L331.9 927.8"/>
<path d="M181.6 790.5L295.2 840.2"/>
<path d="M163.4 924.3L325.6 872.6"/>
<path d="M175.7 928.8L331.3 914.4"/>
<path d="M162.8 1002.8L308.9 935"/>
<path d="M150.6 923L291.4 883.3"/>
<path d="M199.2 988.1L318.3 941.5"/>
<path d="M191.4 1030.1L295.9 932.7"/>
<path d="M183 914.4L301 950.2"/>
<path d="M176.8 1042.4L318.8 934.5"/>
<path d="M202.2 959.3L315.6 930.2"/>
<path d="M162.9 885.6L335.1 852.3"/>
<path d="M168.1 893.8L322.9 843.6"/>
<path d="M158.1 1021L321.8 969.7"/>
<path d="M192.9 898.4L295.3 910.2"/>
<path d="M198.7 1042.6L330 942.3"/>
<path d="M160.6 841.5L297.3 959.5"/>
<path d="M171.2 965.7L301.3 909.7"/>
<path d="M175 968.4L314.7 856.7"/>
<path d="M151.5 857.3L312.2 870.1"/>
<path d="M176.8 928.5L310.4 880.1"/>
<path d="M164.9 906.6L288.8 862.8"/>
<path d="M193.3 926.4L290.2 902.1"/>
<path d="M186.8 1117.1L305.9 951.9"/>
<path d="M156.4 905.6L317.5 911.4"/>
<path d="M192.4 1061.1L333.8 846.8"/>
<path d="M192.9 919.7L329.8 867"/>
<path d="M179.8 940.2L314.1 843.8"/>
<path d="M162 951L330.4 890.4"/>
<path d="M177.3 1024.7L303.5 868"/>
<path d="M151.8 987.5L323.7 948.3"/>
<path d="M178.3 963L332.4 909"/>
<path d="M159.4 918.2L314.4 972.5"/>
<path d="M183.2 1016.8L325.5 879.8"/>
<path d="M165.3 970.5L297.8 909.1"/>
<path d="M187.2 937.5L281.9 867.4"/>
<path d="M152.9 948.6L317 893.5"/>
<path d="M202.4 885.9L295.7 858.2"/>
<path d="M155.3 868.3L329.7 920.1"/>
<path d="M187 951.5L296 855.3"/>
<path d="M172.1 832.7L324.2 814.9"/>
<path d="M164.6 1045.3L331.7 901.5"/>
<path d="M196.1 888.4L282.4 859.4"/>
<path d="M194.1 926.5L292.5 911.6"/>
<path d="M159 851.7L302.6 891.3"/>
<path d="M169.1 969.4L327.6 900.3"/>
<path d="M194 956L310.6 854.9"/>
<path d="M186.3 936.1L327.9 942.9"/>
<path d="M179.4 979.2L298.2 873.1"/>
<path d="M182.2 892.7L285.8 946.3"/>
<path d="M150.4 1029L287.6 913.1"/>
<path d="M167.2 883.1L289.3 875.5"/>
<path d="M150.8 989.7L319 879"/>
<path d="M186.2 931.6L321.4 863.6"/>
<path d="M189.7 819.3L292.4 917"/>
<path d="M152.2 1037.1L328.5 972.3"/>
<path d="M154.4 1049L292.7 990.8"/>
<path d="M150.5 950.3L327.4 942.2"/>
<path d="M193.2 931.9L315.7 927.4"/>
<path d="M154 866.9L286.9 886"/>
<path d="M164.5 822.2L299.8 892.4"/>
<path d="M167.5 916.6L331.8 870.5"/>
<path d="M189.6 933.9L330.8 913.2"/>
<path d="M174.3 827.7L297.1 878.8"/>
<path d="M150.3 993L309.6 908.8"/>
<path d="M173.9 830.1L284.2 882.7"/>
<path d="M187.2 868L326.3 896.9"/>
<path d="M157.8 923.6L281.7 914.9"/>
<path d="M189.8 967.1L334.4 867"/>
<path d="M175.1 955.5L308.1 851.1"/>
<path d="M180.6 883.7L333.3 902.8"/>
<path d="M179.8 1108.8L290.2 969.4"/>
<path d="M161.1 863.7L290.6 902.5"/>
<path d="M175.1 966.6L335.1 898.3"/>
<path d="M182.5 947.3L300.8 890.1"/>
<path d="M196.8 905.5L321.8 843.5"/>
<path d="M150 1020.7L292.7 920.2"/>
<path d="M197.3 1089.4L308.7 945.2"/>
<path d="M161.2 1009.7L306.5 916.9"/>
<path d="M189.3 936.4L322.3 941.2"/>
<path d="M167.4 938.7L299.2 984.8"/>
<path d="M184.4 1026.6L321.7 940.8"/>
<path d="M172.3 983L323.4 943.5"/>
<path d="M155.4 1149.7L306.5 917.4"/>
<path d="M176 806.4L296 937.7"/>
<path d="M156.9 1138.7L290 966.1"/>
<path d="M181.2 922.4L300.4 872.5"/>
<path d="M200.2 894.1L295.6 869.8"/>
<path d="M200.6 1022L287.1 972"/>
<path d="M201.7 874.7L324.5 824.7"/>
<path d="M163.4 841.4L287.5 805.4"/>
<path d="M159.7 903L302.6 847.1"/>
<path d="M170.1 980L324.3 876"/>
<path d="M175.6 953.3L315.7 902.9"/>
<path d="M156.3 965.4L314.2 893.9"/>
<path d="M188.6 1022.4L330.6 943"/>
<path d="M179.6 802.2L322.1 873.4"/>
<path d="M184.7 897.9L316.8 864"/>
<path d="M180.1 938.2L293.9 924.8"/>
<path d="M155.3 1114.6L305 881.1"/>
<path d="M186.4 953L329.9 870.6"/>
<path d="M187.1 1068.8L315.6 944.3"/>
<path d="M174.7 829.8L282.7 848.8"/>
<path d="M185.1 939.1L331.8 908.7"/>
<path d="M166.3 796.6L282.2 831.2"/>
<path d="M150.7 1007.3L310.9 859.3"/>
<path d="M190.8 955.3L332.4 872.9"/>
<path d="M154.1 947.4L312.6 873.3"/>
<path d="M187.3 896.5L309.3 875.2"/>
<path d="M176.8 998.7L303.8 836.1"/>
<path d="M202.1 1003.2L291.5 904"/>
<path d="M188 886.7L314.8 878.5"/>
<path d="M162.2 961.7L302.2 949.3"/>
<path d="M152.7 1145.1L331 914.9"/>
<path d="M185 912.7L312.9 927.8"/>
<path d="M165 907.6L303.2 922.4"/>
<path d="M202.3 885L333.5 939.3"/>
<path d="M157.5 1014.8L331.8 884.1"/>
<path d="M159 928.2L316.3 878.2"/>
<path d="M167.7 952.1L316.1 869.2"/>
<path d="M202.4 857.7L322.6 948.4"/>
<path d="M190.7 962.9L306.9 865.6"/>
<path d="M186.6 998.2L318.7 896.8"/>
<path d="M158.6 1010.9L281.7 914.6"/>
<path d="M161.8 979.4L297.9 862.6"/>
<path d="M171.7 1020.9L316 874.8"/>
<path d="M156.8 920L298 840.7"/>
<path d="M153.2 953.6L312.1 876.5"/>
<path d="M177.3 933L300.2 888.5"/>
<path d="M184.1 938.3L292.9 836.1"/>
<path d="M164.4 950L314.4 955.8"/>
<path d="M194.7 889.5L291.6 911.6"/>
<path d="M191 902.5L292.9 887.4"/>
<path d="M157.7 966.1L329.7 906.9"/>
<path d="M184.7 858L329.9 914.1"/>
<path d="M159.3 932.7L319 912.1"/>
<path d="M188.7 1110.6L305.3 926.2"/>
<path d="M155 898.7L304.2 934"/>
<path d="M175.2 1003.5L284.8 963.2"/>
<path d="M186.4 906.1L294.9 881.4"/>
<path d="M181 823.5L321.3 821.3"/>
<path d="M173.9 1032.7L312 952"/>
<path d="M194 957.2L301.8 895.1"/>
<path d="M152.7 951.5L316 944.2"/>
<path d="M150.1 967.2L314.5 910.3"/>
<path d="M192.3 950.8L286.7 877.6"/>
<path d="M189.5 957.8L289.4 923.8"/>
<path d="M171 852.9L288.5 883.4"/>
<path d="M168.4 1077.4L307.2 909.4"/>
<path d="M190.2 1040.3L293 951.4"/>
<path d="M171.4 911.5L311.5 861"/>
<path d="M167.8 987L308.3 849.4"/>
<path d="M201.8 888.3L328.7 870.1"/>
<path d="M183.9 995.4L324.4 961.7"/>
<path d="M165.7 1044.3L297.8 916.5"/>
<path d="M153.3 818.9L335.4 809"/>
<path d="M196.4 1101.6L311.1 902.4"/>
<path d="M164.8 1013.8L281.9 895.5"/>
<path d="M181.5 895.6L317.1 893.6"/>
<path d="M181.6 885.6L314.9 842"/>
<path d="M186.2 845.2L313.8 816.6"/>
<path d="M160.1 850.6L317.6 918.4"/>
<path d="M189.8 872.4L287.1 908.7"/>
<path d="M171.4 852.2L287 874.6"/>
<path d="M168.5 965.3L326 874.8"/>
<path d="M186.9 1015.6L328.2 832.3"/>
<path d="M150.4 949.6L282.7 974.6"/>
<path d="M179.8 830.9L330.9 901.5"/>
<path d="M176.8 970.6L326.1 858.4"/>
<path d="M186.2 837.7L303.5 873.5"/>
<path d="M185.3 1011.3L313.7 890.7"/>
<path d="M174.3 821.8L303.9 822.3"/>
<path d="M183.4 891.6L293.1 895.7"/>
<path d="M149.4 1005L281.9 906.2"/>
<path d="M155.2 1077.5L333.8 986.2"/>
<path d="M195.6 1078.6L288.6 938.5"/>
<path d="M187.4 960.6L294.7 941.9"/>
<path d="M168.4 993L322 929.3"/>
<path d="M188 910.9L286.2 896.5"/>
<path d="M186.9 989.8L306.5 871.9"/>
<path d="M187.3 885.5L282.2 886.8"/>
<path d="M185.7 984.2L315 849.3"/>
<path d="M165.5 925.5L314 867.7"/>
<path d="M151.8 868.1L301.4 906.3"/>
<path d="M174 915.1L290.6 866.3"/>
<path d="M200.1 970.5L290.5 882.4"/>
<path d="M169.4 956.1L324.1 840.4"/>
<path d="M166.6 950.6L296.7 937.6"/>
<path d="M186.6 1031.6L326.3 915.4"/>
<path d="M187.8 887.4L282.4 869.4"/>
<path d="M193.6 880.1L313.2 845.5"/>
<path d="M169.5 912L301.9 909.2"/>
<path d="M163.9 949.5L281.7 851.3"/>
<path d="M171.4 793.1L313.3 888.1"/>
<path d="M193.6 929L325.4 888.6"/>
<path d="M163.4 874.6L327.6 909"/>
<path d="M190.6 866.2L308.6 878.3"/>
<path d="M177.8 874.4L307.8 953.7"/>
<path d="M191.1 950L320.6 873.7"/>
<path d="M181.4 1077L318.2 926.6"/>
<path d="M159.8 971.9L295.4 958"/>
<path d="M173.4 1053.5L286.3 899.2"/>
<path d="M161.2 938L312.9 921.8"/>
<path d="M165.9 994.2L308.9 930.7"/>
<path d="M160.1 951.7L286.6 834.3"/>
<path d="M168.2 925.8L312.1 879"/>
<path d="M194.9 1023L294.9 928.4"/>
<path d="M195.4 960.2L301.7 899.5"/>
<path d="M157 1157.3L313.8 906.6"/>
<path d="M176.7 878.9L282.7 912.7"/>
<path d="M202.1 956.6L328.4 887"/>
<path d="M179.2 990.7L295.7 940.8"/>
<path d="M153.8 875.4L305.7 871.9"/>
<path d="M200.6 973.4L295.3 923.9"/>
<path d="M159.5 957.2L291.4 945.3"/>
<path d="M151.4 878.7L311.7 887.6"/>
<path d="M174.9 943.2L327.3 863.1"/>
<path d="M183.2 1008.3L331.4 805.1"/>
<path d="M162.5 927.3L312.1 862.1"/>
<path d="M200.2 996.2L317.8 884.5"/>
<path d="M172.8 933.1L290.2 880.1"/>
<path d="M157.9 1091.8L332.5 864.5"/>
<path d="M197.3 976.2L330.4 875.1"/>
<path d="M191.1 950.9L319.9 904.9"/>
<path d="M151.6 1009.5L289.4 876.9"/>
<path d="M185.2 947.3L297.7 890.7"/>
<path d="M189.5 1075.8L287.3 832.9"/>
<path d="M162.5 894.2L288.3 890"/>
<path d="M157.7 882.2L294.5 951.9"/>
<path d="M196.8 859.3L306.9 862.5"/>
<path d="M157.1 902L326.6 898.4"/>
<path d="M195.4 933.7L329.6 897.3"/>
<path d="M200.3 895.8L331.6 950.5"/>
<path d="M182.5 920.7L306 885.2"/>
<path d="M193 956.5L307.4 825.3"/>
<path d="M156.3 986.1L293.6 872.2"/>
<path d="M187.1 999.2L311.5 925.3"/>
<path d="M195.6 977.9L296 868.2"/>
<path d="M157 943.7L296.2 986.8"/>
<path d="M192 932.8L295.7 894.1"/>
<path d="M173.2 1159.5L307.7 916.7"/>
<path d="M151.7 998.9L329.9 882.2"/>
<path d="M178.8 1144L326.7 926.2"/>
<path d="M189.4 905.5L334 951.1"/>
<path d="M202.5 933.9L331.6 948.1"/>
<path d="M164.2 984.2L330 864.2"/>
<path d="M156.4 901.1L316.1 871.6"/>
<path d="M167 949.8L289.2 878.5"/>
<path d="M164.1 1021.3L301 919.5"/>
<path d="M160.4 917.5L312.5 878.4"/>
<path d="M176.8 973.4L294 942.8"/>
<path d="M181 1052.2L326.4 883.8"/>
<path d="M189.7 952.4L291.1 976.2"/>
<path d="M184.8 833.2L315.5 816.4"/>
<path d="M165.2 1024.9L282.1 924.6"/>
<path d="M170.6 930.4L320.6 860.1"/>
<path d="M192.4 989.5L299.7 863.8"/>
<path d="M153.5 1011.6L303.7 906.9"/>
<path d="M195.7 1104.6L296 910.5"/>
<path d="M193.5 929.6L301.4 896.4"/>
<path d="M168.6 910.3L313.7 868"/>
<path d="M176.7 1119.2L305.7 974.2"/>
<path d="M155.1 888.9L320.2 916.9"/>
<path d="M195.5 915L312.7 987.8"/>
<path d="M195.7 1047L333.1 945.5"/>
<path d="M176.3 982L310.2 882.9"/>
<path d="M149.7 953.9L333.8 837.7"/>
<path d="M158.4 946.7L287.1 887.3"/>
<path d="M192.7 973.9L283.2 922.8"/>
<path d="M188.5 907L295.7 814"/>
<path d="M179.7 914.4L309.8 879.8"/>
<path d="M154.2 1065L328.6 934.1"/>
<path d="M151 883.2L288.2 825.8"/>
<path d="M175.6 965.4L296.7 861.5"/>
<path d="M170.5 992.1L289 851.4"/>
<path d="M195.1 1096.4L289.5 879.1"/>
<path d="M188.9 987.1L290.5 879.8"/>
<path d="M169.6 947.7L304.3 889.2"/>
<path d="M150.6 1089.2L334 884"/>
<path d="M166.9 880.8L294.6 912.6"/>
<path d="M172.1 843.9L334.6 869.2"/>
<path d="M194.4 919.6L284.5 898.1"/>
<path d="M200.3 1019.3L332.1 870.7"/>
<path d="M184.4 971.7L282.2 848"/>
<path d="M158.7 874.3L299.1 848.9"/>
<path d="M184.7 895.6L293.8 889.6"/>
<path d="M190.5 853.5L332.2 909.2"/>
<path d="M192.3 871.1L329.4 816.7"/>
<path d="M195.3 1085.3L315.1 873.1"/>
<path d="M163.4 926.1L310.9 862.5"/>
<path d="M154 1032.9L288.2 914.1"/>
<path d="M161.4 947.9L283.7 825.8"/>
<path d="M167.4 845.4L290.6 860.6"/>
<path d="M200.4 793.8L331.3 845.7"/>
<path d="M173.8 1036.9L310.4 941.4"/>
<path d="M155.3 980.9L288.7 858.4"/>
<path d="M179.8 1061L296.4 886.9"/>
<path d="M164.1 967.4L306.1 893.8"/>
<path d="M160.6 1012.1L302.5 903.6"/>
<path d="M168.4 932.9L329.8 936.7"/>
<path d="M174.4 990L325.8 898.1"/>
<path d="M166.6 983.9L291.8 892.5"/>
</g>
<g stroke="#1a1a1a" stroke-width="1.1" fill-opacity="0.85">
<circle cx="176.1" cy="972" r="2.6" fill="#a04848"/>
<circle cx="283.8" cy="876.5" r="2.6" fill="#7a5a40"/>
<circle cx="153" cy="856.4" r="2.6" fill="#907060"/>
<circle cx="321.2" cy="853.5" r="2.6" fill="#c98a40"/>
<circle cx="151.5" cy="856.5" r="2.6" fill="#a06050"/>
<circle cx="308.8" cy="858.6" r="2.6" fill="#a04848"/>
<circle cx="199.9" cy="979.8" r="2.6" fill="#c98a40"/>
<circle cx="289" cy="893.1" r="2.6" fill="#a07840"/>
<circle cx="188.1" cy="1091.1" r="2.6" fill="#786898"/>
<circle cx="325.6" cy="884.2" r="2.6" fill="#7a5a40"/>
<circle cx="201.6" cy="930.5" r="2.6" fill="#4a8a8a"/>
<circle cx="308.2" cy="831.9" r="2.6" fill="#c06858"/>
<circle cx="191.2" cy="1025.5" r="2.6" fill="#c98a40"/>
<circle cx="331.9" cy="927.8" r="2.6" fill="#505078"/>
<circle cx="181.6" cy="790.5" r="2.6" fill="#c87060"/>
<circle cx="295.2" cy="840.2" r="2.6" fill="#a07840"/>
<circle cx="163.4" cy="924.3" r="2.6" fill="#7a5a40"/>
<circle cx="325.6" cy="872.6" r="2.6" fill="#984040"/>
<circle cx="175.7" cy="928.8" r="2.6" fill="#786898"/>
<circle cx="331.3" cy="914.4" r="2.6" fill="#6080a0"/>
<circle cx="162.8" cy="1002.8" r="2.6" fill="#c87060"/>
<circle cx="308.9" cy="935" r="2.6" fill="#505078"/>
<circle cx="150.6" cy="923" r="2.6" fill="#4a8a8a"/>
<circle cx="291.4" cy="883.3" r="2.6" fill="#a04848"/>
<circle cx="199.2" cy="988.1" r="2.6" fill="#a06050"/>
<circle cx="318.3" cy="941.5" r="2.6" fill="#4a8a8a"/>
<circle cx="191.4" cy="1030.1" r="2.6" fill="#907060"/>
<circle cx="295.9" cy="932.7" r="2.6" fill="#b8604a"/>
<circle cx="183" cy="914.4" r="2.6" fill="#b88050"/>
<circle cx="301" cy="950.2" r="2.6" fill="#d09070"/>
<circle cx="176.8" cy="1042.4" r="2.6" fill="#4a6a98"/>
<circle cx="318.8" cy="934.5" r="2.6" fill="#984040"/>
<circle cx="202.2" cy="959.3" r="2.6" fill="#a06050"/>
<circle cx="315.6" cy="930.2" r="2.6" fill="#505078"/>
<circle cx="162.9" cy="885.6" r="2.6" fill="#6080a0"/>
<circle cx="335.1" cy="852.3" r="2.6" fill="#7a5a40"/>
<circle cx="168.1" cy="893.8" r="2.6" fill="#b88050"/>
<circle cx="322.9" cy="843.6" r="2.6" fill="#b09060"/>
<circle cx="158.1" cy="1021" r="2.6" fill="#b8604a"/>
<circle cx="321.8" cy="969.7" r="2.6" fill="#80a870"/>
<circle cx="192.9" cy="898.4" r="2.6" fill="#a04848"/>
<circle cx="295.3" cy="910.2" r="2.6" fill="#6080a0"/>
<circle cx="198.7" cy="1042.6" r="2.6" fill="#5f8f5a"/>
<circle cx="330" cy="942.3" r="2.6" fill="#b8604a"/>
<circle cx="160.6" cy="841.5" r="2.6" fill="#a04848"/>
<circle cx="297.3" cy="959.5" r="2.6" fill="#6a8a60"/>
<circle cx="171.2" cy="965.7" r="2.6" fill="#b8604a"/>
<circle cx="301.3" cy="909.7" r="2.6" fill="#7a5a40"/>
<circle cx="175" cy="968.4" r="2.6" fill="#b8604a"/>
<circle cx="314.7" cy="856.7" r="2.6" fill="#5f8f5a"/>
<circle cx="151.5" cy="857.3" r="2.6" fill="#80a870"/>
<circle cx="312.2" cy="870.1" r="2.6" fill="#4a6a98"/>
<circle cx="176.8" cy="928.5" r="2.6" fill="#6a8a60"/>
<circle cx="310.4" cy="880.1" r="2.6" fill="#6080a0"/>
<circle cx="164.9" cy="906.6" r="2.6" fill="#505078"/>
<circle cx="288.8" cy="862.8" r="2.6" fill="#a07840"/>
<circle cx="193.3" cy="926.4" r="2.6" fill="#5f8f5a"/>
<circle cx="290.2" cy="902.1" r="2.6" fill="#b09060"/>
<circle cx="186.8" cy="1117.1" r="2.6" fill="#c98a40"/>
<circle cx="305.9" cy="951.9" r="2.6" fill="#a04848"/>
<circle cx="156.4" cy="905.6" r="2.6" fill="#984040"/>
<circle cx="317.5" cy="911.4" r="2.6" fill="#a06050"/>
<circle cx="192.4" cy="1061.1" r="2.6" fill="#b8604a"/>
<circle cx="333.8" cy="846.8" r="2.6" fill="#a04848"/>
<circle cx="192.9" cy="919.7" r="2.6" fill="#a07840"/>
<circle cx="329.8" cy="867" r="2.6" fill="#a04848"/>
<circle cx="179.8" cy="940.2" r="2.6" fill="#907060"/>
<circle cx="314.1" cy="843.8" r="2.6" fill="#3f7f5f"/>
<circle cx="162" cy="951" r="2.6" fill="#b8604a"/>
<circle cx="330.4" cy="890.4" r="2.6" fill="#b8604a"/>
<circle cx="177.3" cy="1024.7" r="2.6" fill="#b09060"/>
<circle cx="303.5" cy="868" r="2.6" fill="#4a8a8a"/>
<circle cx="151.8" cy="987.5" r="2.6" fill="#5f8f5a"/>
<circle cx="323.7" cy="948.3" r="2.6" fill="#a07840"/>
<circle cx="178.3" cy="963" r="2.6" fill="#7a5a40"/>
<circle cx="332.4" cy="909" r="2.6" fill="#6a8a60"/>
<circle cx="159.4" cy="918.2" r="2.6" fill="#907060"/>
<circle cx="314.4" cy="972.5" r="2.6" fill="#a04848"/>
<circle cx="183.2" cy="1016.8" r="2.6" fill="#4a8a8a"/>
<circle cx="325.5" cy="879.8" r="2.6" fill="#907060"/>
<circle cx="165.3" cy="970.5" r="2.6" fill="#b8604a"/>
<circle cx="297.8" cy="909.1" r="2.6" fill="#3f7f5f"/>
<circle cx="187.2" cy="937.5" r="2.6" fill="#6a8a60"/>
<circle cx="281.9" cy="867.4" r="2.6" fill="#b88050"/>
<circle cx="152.9" cy="948.6" r="2.6" fill="#4a8a8a"/>
<circle cx="317" cy="893.5" r="2.6" fill="#b09060"/>
<circle cx="202.4" cy="885.9" r="2.6" fill="#a04848"/>
<circle cx="295.7" cy="858.2" r="2.6" fill="#b8604a"/>
<circle cx="155.3" cy="868.3" r="2.6" fill="#888878"/>
<circle cx="329.7" cy="920.1" r="2.6" fill="#984040"/>
<circle cx="187" cy="951.5" r="2.6" fill="#d09070"/>
<circle cx="296" cy="855.3" r="2.6" fill="#c06858"/>
<circle cx="172.1" cy="832.7" r="2.6" fill="#907060"/>
<circle cx="324.2" cy="814.9" r="2.6" fill="#984040"/>
<circle cx="164.6" cy="1045.3" r="2.6" fill="#786898"/>
<circle cx="331.7" cy="901.5" r="2.6" fill="#c98a40"/>
<circle cx="196.1" cy="888.4" r="2.6" fill="#984040"/>
<circle cx="282.4" cy="859.4" r="2.6" fill="#b09060"/>
<circle cx="194.1" cy="926.5" r="2.6" fill="#4a8a8a"/>
<circle cx="292.5" cy="911.6" r="2.6" fill="#c87060"/>
<circle cx="159" cy="851.7" r="2.6" fill="#a07840"/>
<circle cx="302.6" cy="891.3" r="2.6" fill="#b09060"/>
<circle cx="169.1" cy="969.4" r="2.6" fill="#888878"/>
<circle cx="327.6" cy="900.3" r="2.6" fill="#c06858"/>
<circle cx="194" cy="956" r="2.6" fill="#3f7f5f"/>
<circle cx="310.6" cy="854.9" r="2.6" fill="#907060"/>
<circle cx="186.3" cy="936.1" r="2.6" fill="#6a8a60"/>
<circle cx="327.9" cy="942.9" r="2.6" fill="#b09060"/>
<circle cx="179.4" cy="979.2" r="2.6" fill="#786898"/>
<circle cx="298.2" cy="873.1" r="2.6" fill="#a06050"/>
<circle cx="182.2" cy="892.7" r="2.6" fill="#4a8a8a"/>
<circle cx="285.8" cy="946.3" r="2.6" fill="#7a5a40"/>
<circle cx="150.4" cy="1029" r="2.6" fill="#a07840"/>
<circle cx="287.6" cy="913.1" r="2.6" fill="#4a8a8a"/>
<circle cx="167.2" cy="883.1" r="2.6" fill="#5f8f5a"/>
<circle cx="289.3" cy="875.5" r="2.6" fill="#5f8f5a"/>
<circle cx="150.8" cy="989.7" r="2.6" fill="#a04848"/>
<circle cx="319" cy="879" r="2.6" fill="#b8604a"/>
<circle cx="186.2" cy="931.6" r="2.6" fill="#c98a40"/>
<circle cx="321.4" cy="863.6" r="2.6" fill="#6080a0"/>
<circle cx="189.7" cy="819.3" r="2.6" fill="#d09070"/>
<circle cx="292.4" cy="917" r="2.6" fill="#c06858"/>
<circle cx="152.2" cy="1037.1" r="2.6" fill="#888878"/>
<circle cx="328.5" cy="972.3" r="2.6" fill="#a06050"/>
<circle cx="154.4" cy="1049" r="2.6" fill="#4a6a98"/>
<circle cx="292.7" cy="990.8" r="2.6" fill="#b8604a"/>
<circle cx="150.5" cy="950.3" r="2.6" fill="#a04848"/>
<circle cx="327.4" cy="942.2" r="2.6" fill="#c98a40"/>
<circle cx="193.2" cy="931.9" r="2.6" fill="#80a870"/>
<circle cx="315.7" cy="927.4" r="2.6" fill="#3f7f5f"/>
<circle cx="154" cy="866.9" r="2.6" fill="#a04848"/>
<circle cx="286.9" cy="886" r="2.6" fill="#786898"/>
<circle cx="164.5" cy="822.2" r="2.6" fill="#984040"/>
<circle cx="299.8" cy="892.4" r="2.6" fill="#5f8f5a"/>
<circle cx="167.5" cy="916.6" r="2.6" fill="#b8604a"/>
<circle cx="331.8" cy="870.5" r="2.6" fill="#888878"/>
<circle cx="189.6" cy="933.9" r="2.6" fill="#a07840"/>
<circle cx="330.8" cy="913.2" r="2.6" fill="#907060"/>
<circle cx="174.3" cy="827.7" r="2.6" fill="#5f8f5a"/>
<circle cx="297.1" cy="878.8" r="2.6" fill="#6a8a60"/>
<circle cx="150.3" cy="993" r="2.6" fill="#4a6a98"/>
<circle cx="309.6" cy="908.8" r="2.6" fill="#505078"/>
<circle cx="173.9" cy="830.1" r="2.6" fill="#6080a0"/>
<circle cx="284.2" cy="882.7" r="2.6" fill="#786898"/>
<circle cx="187.2" cy="868" r="2.6" fill="#6080a0"/>
<circle cx="326.3" cy="896.9" r="2.6" fill="#80a870"/>
<circle cx="157.8" cy="923.6" r="2.6" fill="#786898"/>
<circle cx="281.7" cy="914.9" r="2.6" fill="#80a870"/>
<circle cx="189.8" cy="967.1" r="2.6" fill="#5f8f5a"/>
<circle cx="334.4" cy="867" r="2.6" fill="#505078"/>
<circle cx="175.1" cy="955.5" r="2.6" fill="#4a8a8a"/>
<circle cx="308.1" cy="851.1" r="2.6" fill="#3f7f5f"/>
<circle cx="180.6" cy="883.7" r="2.6" fill="#907060"/>
<circle cx="333.3" cy="902.8" r="2.6" fill="#984040"/>
<circle cx="179.8" cy="1108.8" r="2.6" fill="#786898"/>
<circle cx="290.2" cy="969.4" r="2.6" fill="#888878"/>
<circle cx="161.1" cy="863.7" r="2.6" fill="#a04848"/>
<circle cx="290.6" cy="902.5" r="2.6" fill="#c98a40"/>
<circle cx="175.1" cy="966.6" r="2.6" fill="#d09070"/>
<circle cx="335.1" cy="898.3" r="2.6" fill="#4a6a98"/>
<circle cx="182.5" cy="947.3" r="2.6" fill="#a06050"/>
<circle cx="300.8" cy="890.1" r="2.6" fill="#a06050"/>
<circle cx="196.8" cy="905.5" r="2.6" fill="#6a8a60"/>
<circle cx="321.8" cy="843.5" r="2.6" fill="#a04848"/>
<circle cx="150" cy="1020.7" r="2.6" fill="#984040"/>
<circle cx="292.7" cy="920.2" r="2.6" fill="#6a8a60"/>
<circle cx="197.3" cy="1089.4" r="2.6" fill="#a06050"/>
<circle cx="308.7" cy="945.2" r="2.6" fill="#a04848"/>
<circle cx="161.2" cy="1009.7" r="2.6" fill="#d09070"/>
<circle cx="306.5" cy="916.9" r="2.6" fill="#a07840"/>
<circle cx="189.3" cy="936.4" r="2.6" fill="#a04848"/>
<circle cx="322.3" cy="941.2" r="2.6" fill="#b8604a"/>
<circle cx="167.4" cy="938.7" r="2.6" fill="#7a5a40"/>
<circle cx="299.2" cy="984.8" r="2.6" fill="#b88050"/>
<circle cx="184.4" cy="1026.6" r="2.6" fill="#4a8a8a"/>
<circle cx="321.7" cy="940.8" r="2.6" fill="#b88050"/>
<circle cx="172.3" cy="983" r="2.6" fill="#6080a0"/>
<circle cx="323.4" cy="943.5" r="2.6" fill="#b09060"/>
<circle cx="155.4" cy="1149.7" r="2.6" fill="#888878"/>
<circle cx="306.5" cy="917.4" r="2.6" fill="#b09060"/>
<circle cx="176" cy="806.4" r="2.6" fill="#888878"/>
<circle cx="296" cy="937.7" r="2.6" fill="#a07840"/>
<circle cx="156.9" cy="1138.7" r="2.6" fill="#b09060"/>
<circle cx="290" cy="966.1" r="2.6" fill="#c87060"/>
<circle cx="181.2" cy="922.4" r="2.6" fill="#b09060"/>
<circle cx="300.4" cy="872.5" r="2.6" fill="#c87060"/>
<circle cx="200.2" cy="894.1" r="2.6" fill="#4a6a98"/>
<circle cx="295.6" cy="869.8" r="2.6" fill="#4a8a8a"/>
<circle cx="200.6" cy="1022" r="2.6" fill="#a06050"/>
<circle cx="287.1" cy="972" r="2.6" fill="#7a5a40"/>
<circle cx="201.7" cy="874.7" r="2.6" fill="#80a870"/>
<circle cx="324.5" cy="824.7" r="2.6" fill="#6a8a60"/>
<circle cx="163.4" cy="841.4" r="2.6" fill="#4a6a98"/>
<circle cx="287.5" cy="805.4" r="2.6" fill="#984040"/>
<circle cx="159.7" cy="903" r="2.6" fill="#b8604a"/>
<circle cx="302.6" cy="847.1" r="2.6" fill="#5f8f5a"/>
<circle cx="170.1" cy="980" r="2.6" fill="#888878"/>
<circle cx="324.3" cy="876" r="2.6" fill="#b09060"/>
<circle cx="175.6" cy="953.3" r="2.6" fill="#b88050"/>
<circle cx="315.7" cy="902.9" r="2.6" fill="#5f8f5a"/>
<circle cx="156.3" cy="965.4" r="2.6" fill="#a06050"/>
<circle cx="314.2" cy="893.9" r="2.6" fill="#5f8f5a"/>
<circle cx="188.6" cy="1022.4" r="2.6" fill="#6a8a60"/>
<circle cx="330.6" cy="943" r="2.6" fill="#888878"/>
<circle cx="179.6" cy="802.2" r="2.6" fill="#6a8a60"/>
<circle cx="322.1" cy="873.4" r="2.6" fill="#b09060"/>
<circle cx="184.7" cy="897.9" r="2.6" fill="#a04848"/>
<circle cx="316.8" cy="864" r="2.6" fill="#888878"/>
<circle cx="180.1" cy="938.2" r="2.6" fill="#4a8a8a"/>
<circle cx="293.9" cy="924.8" r="2.6" fill="#a04848"/>
<circle cx="155.3" cy="1114.6" r="2.6" fill="#984040"/>
<circle cx="305" cy="881.1" r="2.6" fill="#a04848"/>
<circle cx="186.4" cy="953" r="2.6" fill="#b09060"/>
<circle cx="329.9" cy="870.6" r="2.6" fill="#a06050"/>
<circle cx="187.1" cy="1068.8" r="2.6" fill="#984040"/>
<circle cx="315.6" cy="944.3" r="2.6" fill="#6a8a60"/>
<circle cx="174.7" cy="829.8" r="2.6" fill="#6a8a60"/>
<circle cx="282.7" cy="848.8" r="2.6" fill="#907060"/>
<circle cx="185.1" cy="939.1" r="2.6" fill="#4a8a8a"/>
<circle cx="331.8" cy="908.7" r="2.6" fill="#a04848"/>
<circle cx="166.3" cy="796.6" r="2.6" fill="#3f7f5f"/>
<circle cx="282.2" cy="831.2" r="2.6" fill="#4a6a98"/>
<circle cx="150.7" cy="1007.3" r="2.6" fill="#4a8a8a"/>
<circle cx="310.9" cy="859.3" r="2.6" fill="#888878"/>
<circle cx="190.8" cy="955.3" r="2.6" fill="#907060"/>
<circle cx="332.4" cy="872.9" r="2.6" fill="#505078"/>
<circle cx="154.1" cy="947.4" r="2.6" fill="#d09070"/>
<circle cx="312.6" cy="873.3" r="2.6" fill="#786898"/>
<circle cx="187.3" cy="896.5" r="2.6" fill="#a04848"/>
<circle cx="309.3" cy="875.2" r="2.6" fill="#505078"/>
<circle cx="176.8" cy="998.7" r="2.6" fill="#b88050"/>
<circle cx="303.8" cy="836.1" r="2.6" fill="#786898"/>
<circle cx="202.1" cy="1003.2" r="2.6" fill="#907060"/>
<circle cx="291.5" cy="904" r="2.6" fill="#4a6a98"/>
<circle cx="188" cy="886.7" r="2.6" fill="#a04848"/>
<circle cx="314.8" cy="878.5" r="2.6" fill="#b8604a"/>
<circle cx="162.2" cy="961.7" r="2.6" fill="#b8604a"/>
<circle cx="302.2" cy="949.3" r="2.6" fill="#5f8f5a"/>
<circle cx="152.7" cy="1145.1" r="2.6" fill="#a04848"/>
<circle cx="331" cy="914.9" r="2.6" fill="#888878"/>
<circle cx="185" cy="912.7" r="2.6" fill="#4a6a98"/>
<circle cx="312.9" cy="927.8" r="2.6" fill="#b09060"/>
<circle cx="165" cy="907.6" r="2.6" fill="#907060"/>
<circle cx="303.2" cy="922.4" r="2.6" fill="#b09060"/>
<circle cx="202.3" cy="885" r="2.6" fill="#b88050"/>
<circle cx="333.5" cy="939.3" r="2.6" fill="#786898"/>
<circle cx="157.5" cy="1014.8" r="2.6" fill="#c98a40"/>
<circle cx="331.8" cy="884.1" r="2.6" fill="#a04848"/>
<circle cx="159" cy="928.2" r="2.6" fill="#b09060"/>
<circle cx="316.3" cy="878.2" r="2.6" fill="#7a5a40"/>
<circle cx="167.7" cy="952.1" r="2.6" fill="#6a8a60"/>
<circle cx="316.1" cy="869.2" r="2.6" fill="#b88050"/>
<circle cx="202.4" cy="857.7" r="2.6" fill="#a04848"/>
<circle cx="322.6" cy="948.4" r="2.6" fill="#7a5a40"/>
<circle cx="190.7" cy="962.9" r="2.6" fill="#b09060"/>
<circle cx="306.9" cy="865.6" r="2.6" fill="#984040"/>
<circle cx="186.6" cy="998.2" r="2.6" fill="#6a8a60"/>
<circle cx="318.7" cy="896.8" r="2.6" fill="#c06858"/>
<circle cx="158.6" cy="1010.9" r="2.6" fill="#984040"/>
<circle cx="281.7" cy="914.6" r="2.6" fill="#505078"/>
<circle cx="161.8" cy="979.4" r="2.6" fill="#3f7f5f"/>
<circle cx="297.9" cy="862.6" r="2.6" fill="#3f7f5f"/>
<circle cx="171.7" cy="1020.9" r="2.6" fill="#c06858"/>
<circle cx="316" cy="874.8" r="2.6" fill="#505078"/>
<circle cx="156.8" cy="920" r="2.6" fill="#a06050"/>
<circle cx="298" cy="840.7" r="2.6" fill="#b8604a"/>
<circle cx="153.2" cy="953.6" r="2.6" fill="#c87060"/>
<circle cx="312.1" cy="876.5" r="2.6" fill="#7a5a40"/>
<circle cx="177.3" cy="933" r="2.6" fill="#6080a0"/>
<circle cx="300.2" cy="888.5" r="2.6" fill="#5f8f5a"/>
<circle cx="184.1" cy="938.3" r="2.6" fill="#c98a40"/>
<circle cx="292.9" cy="836.1" r="2.6" fill="#a04848"/>
<circle cx="164.4" cy="950" r="2.6" fill="#6080a0"/>
<circle cx="314.4" cy="955.8" r="2.6" fill="#7a5a40"/>
<circle cx="194.7" cy="889.5" r="2.6" fill="#b88050"/>
<circle cx="291.6" cy="911.6" r="2.6" fill="#505078"/>
<circle cx="191" cy="902.5" r="2.6" fill="#a06050"/>
<circle cx="292.9" cy="887.4" r="2.6" fill="#d09070"/>
<circle cx="157.7" cy="966.1" r="2.6" fill="#a07840"/>
<circle cx="329.7" cy="906.9" r="2.6" fill="#c98a40"/>
<circle cx="184.7" cy="858" r="2.6" fill="#a04848"/>
<circle cx="329.9" cy="914.1" r="2.6" fill="#80a870"/>
<circle cx="159.3" cy="932.7" r="2.6" fill="#907060"/>
<circle cx="319" cy="912.1" r="2.6" fill="#c98a40"/>
<circle cx="188.7" cy="1110.6" r="2.6" fill="#4a6a98"/>
<circle cx="305.3" cy="926.2" r="2.6" fill="#d09070"/>
<circle cx="155" cy="898.7" r="2.6" fill="#7a5a40"/>
<circle cx="304.2" cy="934" r="2.6" fill="#3f7f5f"/>
<circle cx="175.2" cy="1003.5" r="2.6" fill="#b88050"/>
<circle cx="284.8" cy="963.2" r="2.6" fill="#7a5a40"/>
<circle cx="186.4" cy="906.1" r="2.6" fill="#4a8a8a"/>
<circle cx="294.9" cy="881.4" r="2.6" fill="#d09070"/>
<circle cx="181" cy="823.5" r="2.6" fill="#4a8a8a"/>
<circle cx="321.3" cy="821.3" r="2.6" fill="#c87060"/>
<circle cx="173.9" cy="1032.7" r="2.6" fill="#c06858"/>
<circle cx="312" cy="952" r="2.6" fill="#80a870"/>
<circle cx="194" cy="957.2" r="2.6" fill="#6a8a60"/>
<circle cx="301.8" cy="895.1" r="2.6" fill="#c06858"/>
<circle cx="152.7" cy="951.5" r="2.6" fill="#a04848"/>
<circle cx="316" cy="944.2" r="2.6" fill="#a04848"/>
<circle cx="150.1" cy="967.2" r="2.6" fill="#c06858"/>
<circle cx="314.5" cy="910.3" r="2.6" fill="#c87060"/>
<circle cx="192.3" cy="950.8" r="2.6" fill="#3f7f5f"/>
<circle cx="286.7" cy="877.6" r="2.6" fill="#3f7f5f"/>
<circle cx="189.5" cy="957.8" r="2.6" fill="#786898"/>
<circle cx="289.4" cy="923.8" r="2.6" fill="#888878"/>
<circle cx="171" cy="852.9" r="2.6" fill="#4a6a98"/>
<circle cx="288.5" cy="883.4" r="2.6" fill="#c06858"/>
<circle cx="168.4" cy="1077.4" r="2.6" fill="#907060"/>
<circle cx="307.2" cy="909.4" r="2.6" fill="#d09070"/>
<circle cx="190.2" cy="1040.3" r="2.6" fill="#6a8a60"/>
<circle cx="293" cy="951.4" r="2.6" fill="#c87060"/>
<circle cx="171.4" cy="911.5" r="2.6" fill="#80a870"/>
<circle cx="311.5" cy="861" r="2.6" fill="#80a870"/>
<circle cx="167.8" cy="987" r="2.6" fill="#c87060"/>
<circle cx="308.3" cy="849.4" r="2.6" fill="#907060"/>
<circle cx="201.8" cy="888.3" r="2.6" fill="#505078"/>
<circle cx="328.7" cy="870.1" r="2.6" fill="#786898"/>
<circle cx="183.9" cy="995.4" r="2.6" fill="#c87060"/>
<circle cx="324.4" cy="961.7" r="2.6" fill="#786898"/>
<circle cx="165.7" cy="1044.3" r="2.6" fill="#6080a0"/>
<circle cx="297.8" cy="916.5" r="2.6" fill="#a04848"/>
<circle cx="153.3" cy="818.9" r="2.6" fill="#a06050"/>
<circle cx="335.4" cy="809" r="2.6" fill="#d09070"/>
<circle cx="196.4" cy="1101.6" r="2.6" fill="#b8604a"/>
<circle cx="311.1" cy="902.4" r="2.6" fill="#a06050"/>
<circle cx="164.8" cy="1013.8" r="2.6" fill="#786898"/>
<circle cx="281.9" cy="895.5" r="2.6" fill="#3f7f5f"/>
<circle cx="181.5" cy="895.6" r="2.6" fill="#907060"/>
<circle cx="317.1" cy="893.6" r="2.6" fill="#d09070"/>
<circle cx="181.6" cy="885.6" r="2.6" fill="#a04848"/>
<circle cx="314.9" cy="842" r="2.6" fill="#c06858"/>
<circle cx="186.2" cy="845.2" r="2.6" fill="#c06858"/>
<circle cx="313.8" cy="816.6" r="2.6" fill="#c98a40"/>
<circle cx="160.1" cy="850.6" r="2.6" fill="#b88050"/>
<circle cx="317.6" cy="918.4" r="2.6" fill="#a04848"/>
<circle cx="189.8" cy="872.4" r="2.6" fill="#4a8a8a"/>
<circle cx="287.1" cy="908.7" r="2.6" fill="#b8604a"/>
<circle cx="171.4" cy="852.2" r="2.6" fill="#a04848"/>
<circle cx="287" cy="874.6" r="2.6" fill="#5f8f5a"/>
<circle cx="168.5" cy="965.3" r="2.6" fill="#80a870"/>
<circle cx="326" cy="874.8" r="2.6" fill="#d09070"/>
<circle cx="186.9" cy="1015.6" r="2.6" fill="#4a8a8a"/>
<circle cx="328.2" cy="832.3" r="2.6" fill="#6a8a60"/>
<circle cx="150.4" cy="949.6" r="2.6" fill="#6080a0"/>
<circle cx="282.7" cy="974.6" r="2.6" fill="#a04848"/>
<circle cx="179.8" cy="830.9" r="2.6" fill="#3f7f5f"/>
<circle cx="330.9" cy="901.5" r="2.6" fill="#6080a0"/>
<circle cx="176.8" cy="970.6" r="2.6" fill="#6a8a60"/>
<circle cx="326.1" cy="858.4" r="2.6" fill="#6080a0"/>
<circle cx="186.2" cy="837.7" r="2.6" fill="#c98a40"/>
<circle cx="303.5" cy="873.5" r="2.6" fill="#5f8f5a"/>
<circle cx="185.3" cy="1011.3" r="2.6" fill="#c06858"/>
<circle cx="313.7" cy="890.7" r="2.6" fill="#7a5a40"/>
<circle cx="174.3" cy="821.8" r="2.6" fill="#4a6a98"/>
<circle cx="303.9" cy="822.3" r="2.6" fill="#c98a40"/>
<circle cx="183.4" cy="891.6" r="2.6" fill="#7a5a40"/>
<circle cx="293.1" cy="895.7" r="2.6" fill="#a04848"/>
<circle cx="149.4" cy="1005" r="2.6" fill="#c06858"/>
<circle cx="281.9" cy="906.2" r="2.6" fill="#c06858"/>
<circle cx="155.2" cy="1077.5" r="2.6" fill="#c98a40"/>
<circle cx="333.8" cy="986.2" r="2.6" fill="#786898"/>
<circle cx="195.6" cy="1078.6" r="2.6" fill="#5f8f5a"/>
<circle cx="288.6" cy="938.5" r="2.6" fill="#984040"/>
<circle cx="187.4" cy="960.6" r="2.6" fill="#4a8a8a"/>
<circle cx="294.7" cy="941.9" r="2.6" fill="#b8604a"/>
<circle cx="168.4" cy="993" r="2.6" fill="#888878"/>
<circle cx="322" cy="929.3" r="2.6" fill="#7a5a40"/>
<circle cx="188" cy="910.9" r="2.6" fill="#a04848"/>
<circle cx="286.2" cy="896.5" r="2.6" fill="#d09070"/>
<circle cx="186.9" cy="989.8" r="2.6" fill="#984040"/>
<circle cx="306.5" cy="871.9" r="2.6" fill="#b8604a"/>
<circle cx="187.3" cy="885.5" r="2.6" fill="#5f8f5a"/>
<circle cx="282.2" cy="886.8" r="2.6" fill="#a04848"/>
<circle cx="185.7" cy="984.2" r="2.6" fill="#a06050"/>
<circle cx="315" cy="849.3" r="2.6" fill="#80a870"/>
<circle cx="165.5" cy="925.5" r="2.6" fill="#3f7f5f"/>
<circle cx="314" cy="867.7" r="2.6" fill="#a07840"/>
<circle cx="151.8" cy="868.1" r="2.6" fill="#6080a0"/>
<circle cx="301.4" cy="906.3" r="2.6" fill="#b88050"/>
<circle cx="174" cy="915.1" r="2.6" fill="#4a6a98"/>
<circle cx="290.6" cy="866.3" r="2.6" fill="#505078"/>
<circle cx="200.1" cy="970.5" r="2.6" fill="#6a8a60"/>
<circle cx="290.5" cy="882.4" r="2.6" fill="#3f7f5f"/>
<circle cx="169.4" cy="956.1" r="2.6" fill="#984040"/>
<circle cx="324.1" cy="840.4" r="2.6" fill="#6080a0"/>
<circle cx="166.6" cy="950.6" r="2.6" fill="#a07840"/>
<circle cx="296.7" cy="937.6" r="2.6" fill="#a04848"/>
<circle cx="186.6" cy="1031.6" r="2.6" fill="#c87060"/>
<circle cx="326.3" cy="915.4" r="2.6" fill="#a07840"/>
<circle cx="187.8" cy="887.4" r="2.6" fill="#7a5a40"/>
<circle cx="282.4" cy="869.4" r="2.6" fill="#a07840"/>
<circle cx="193.6" cy="880.1" r="2.6" fill="#b09060"/>
<circle cx="313.2" cy="845.5" r="2.6" fill="#a06050"/>
<circle cx="169.5" cy="912" r="2.6" fill="#b09060"/>
<circle cx="301.9" cy="909.2" r="2.6" fill="#b88050"/>
<circle cx="163.9" cy="949.5" r="2.6" fill="#984040"/>
<circle cx="281.7" cy="851.3" r="2.6" fill="#984040"/>
<circle cx="171.4" cy="793.1" r="2.6" fill="#b8604a"/>
<circle cx="313.3" cy="888.1" r="2.6" fill="#80a870"/>
<circle cx="193.6" cy="929" r="2.6" fill="#6080a0"/>
<circle cx="325.4" cy="888.6" r="2.6" fill="#7a5a40"/>
<circle cx="163.4" cy="874.6" r="2.6" fill="#d09070"/>
<circle cx="327.6" cy="909" r="2.6" fill="#c06858"/>
<circle cx="190.6" cy="866.2" r="2.6" fill="#d09070"/>
<circle cx="308.6" cy="878.3" r="2.6" fill="#c98a40"/>
<circle cx="177.8" cy="874.4" r="2.6" fill="#a06050"/>
<circle cx="307.8" cy="953.7" r="2.6" fill="#786898"/>
<circle cx="191.1" cy="950" r="2.6" fill="#b09060"/>
<circle cx="320.6" cy="873.7" r="2.6" fill="#80a870"/>
<circle cx="181.4" cy="1077" r="2.6" fill="#b88050"/>
<circle cx="318.2" cy="926.6" r="2.6" fill="#888878"/>
<circle cx="159.8" cy="971.9" r="2.6" fill="#5f8f5a"/>
<circle cx="295.4" cy="958" r="2.6" fill="#a06050"/>
<circle cx="173.4" cy="1053.5" r="2.6" fill="#505078"/>
<circle cx="286.3" cy="899.2" r="2.6" fill="#c98a40"/>
<circle cx="161.2" cy="938" r="2.6" fill="#984040"/>
<circle cx="312.9" cy="921.8" r="2.6" fill="#907060"/>
<circle cx="165.9" cy="994.2" r="2.6" fill="#786898"/>
<circle cx="308.9" cy="930.7" r="2.6" fill="#786898"/>
<circle cx="160.1" cy="951.7" r="2.6" fill="#888878"/>
<circle cx="286.6" cy="834.3" r="2.6" fill="#80a870"/>
<circle cx="168.2" cy="925.8" r="2.6" fill="#a06050"/>
<circle cx="312.1" cy="879" r="2.6" fill="#907060"/>
<circle cx="194.9" cy="1023" r="2.6" fill="#3f7f5f"/>
<circle cx="294.9" cy="928.4" r="2.6" fill="#505078"/>
<circle cx="195.4" cy="960.2" r="2.6" fill="#b88050"/>
<circle cx="301.7" cy="899.5" r="2.6" fill="#c98a40"/>
<circle cx="157" cy="1157.3" r="2.6" fill="#505078"/>
<circle cx="313.8" cy="906.6" r="2.6" fill="#984040"/>
<circle cx="176.7" cy="878.9" r="2.6" fill="#b8604a"/>
<circle cx="282.7" cy="912.7" r="2.6" fill="#786898"/>
<circle cx="202.1" cy="956.6" r="2.6" fill="#3f7f5f"/>
<circle cx="328.4" cy="887" r="2.6" fill="#6080a0"/>
<circle cx="179.2" cy="990.7" r="2.6" fill="#984040"/>
<circle cx="295.7" cy="940.8" r="2.6" fill="#6a8a60"/>
<circle cx="153.8" cy="875.4" r="2.6" fill="#6080a0"/>
<circle cx="305.7" cy="871.9" r="2.6" fill="#a07840"/>
<circle cx="200.6" cy="973.4" r="2.6" fill="#b8604a"/>
<circle cx="295.3" cy="923.9" r="2.6" fill="#c87060"/>
<circle cx="159.5" cy="957.2" r="2.6" fill="#c98a40"/>
<circle cx="291.4" cy="945.3" r="2.6" fill="#5f8f5a"/>
<circle cx="151.4" cy="878.7" r="2.6" fill="#888878"/>
<circle cx="311.7" cy="887.6" r="2.6" fill="#b88050"/>
<circle cx="174.9" cy="943.2" r="2.6" fill="#c98a40"/>
<circle cx="327.3" cy="863.1" r="2.6" fill="#a07840"/>
<circle cx="183.2" cy="1008.3" r="2.6" fill="#888878"/>
<circle cx="331.4" cy="805.1" r="2.6" fill="#c98a40"/>
<circle cx="162.5" cy="927.3" r="2.6" fill="#a04848"/>
<circle cx="312.1" cy="862.1" r="2.6" fill="#c98a40"/>
<circle cx="200.2" cy="996.2" r="2.6" fill="#a06050"/>
<circle cx="317.8" cy="884.5" r="2.6" fill="#4a8a8a"/>
<circle cx="172.8" cy="933.1" r="2.6" fill="#b09060"/>
<circle cx="290.2" cy="880.1" r="2.6" fill="#b09060"/>
<circle cx="157.9" cy="1091.8" r="2.6" fill="#505078"/>
<circle cx="332.5" cy="864.5" r="2.6" fill="#b8604a"/>
<circle cx="197.3" cy="976.2" r="2.6" fill="#b8604a"/>
<circle cx="330.4" cy="875.1" r="2.6" fill="#984040"/>
<circle cx="191.1" cy="950.9" r="2.6" fill="#a04848"/>
<circle cx="319.9" cy="904.9" r="2.6" fill="#3f7f5f"/>
<circle cx="151.6" cy="1009.5" r="2.6" fill="#5f8f5a"/>
<circle cx="289.4" cy="876.9" r="2.6" fill="#786898"/>
<circle cx="185.2" cy="947.3" r="2.6" fill="#6080a0"/>
<circle cx="297.7" cy="890.7" r="2.6" fill="#b88050"/>
<circle cx="189.5" cy="1075.8" r="2.6" fill="#c87060"/>
<circle cx="287.3" cy="832.9" r="2.6" fill="#505078"/>
<circle cx="162.5" cy="894.2" r="2.6" fill="#3f7f5f"/>
<circle cx="288.3" cy="890" r="2.6" fill="#a06050"/>
<circle cx="157.7" cy="882.2" r="2.6" fill="#7a5a40"/>
<circle cx="294.5" cy="951.9" r="2.6" fill="#c06858"/>
<circle cx="196.8" cy="859.3" r="2.6" fill="#786898"/>
<circle cx="306.9" cy="862.5" r="2.6" fill="#b8604a"/>
<circle cx="157.1" cy="902" r="2.6" fill="#c98a40"/>
<circle cx="326.6" cy="898.4" r="2.6" fill="#a07840"/>
<circle cx="195.4" cy="933.7" r="2.6" fill="#7a5a40"/>
<circle cx="329.6" cy="897.3" r="2.6" fill="#b88050"/>
<circle cx="200.3" cy="895.8" r="2.6" fill="#a06050"/>
<circle cx="331.6" cy="950.5" r="2.6" fill="#5f8f5a"/>
<circle cx="182.5" cy="920.7" r="2.6" fill="#c87060"/>
<circle cx="306" cy="885.2" r="2.6" fill="#c87060"/>
<circle cx="193" cy="956.5" r="2.6" fill="#a04848"/>
<circle cx="307.4" cy="825.3" r="2.6" fill="#505078"/>
<circle cx="156.3" cy="986.1" r="2.6" fill="#b8604a"/>
<circle cx="293.6" cy="872.2" r="2.6" fill="#4a8a8a"/>
<circle cx="187.1" cy="999.2" r="2.6" fill="#7a5a40"/>
<circle cx="311.5" cy="925.3" r="2.6" fill="#b88050"/>
<circle cx="195.6" cy="977.9" r="2.6" fill="#6a8a60"/>
<circle cx="296" cy="868.2" r="2.6" fill="#b09060"/>
<circle cx="157" cy="943.7" r="2.6" fill="#80a870"/>
<circle cx="296.2" cy="986.8" r="2.6" fill="#c87060"/>
<circle cx="192" cy="932.8" r="2.6" fill="#4a6a98"/>
<circle cx="295.7" cy="894.1" r="2.6" fill="#c87060"/>
<circle cx="173.2" cy="1159.5" r="2.6" fill="#7a5a40"/>
<circle cx="307.7" cy="916.7" r="2.6" fill="#907060"/>
<circle cx="151.7" cy="998.9" r="2.6" fill="#c06858"/>
<circle cx="329.9" cy="882.2" r="2.6" fill="#786898"/>
<circle cx="178.8" cy="1144" r="2.6" fill="#4a6a98"/>
<circle cx="326.7" cy="926.2" r="2.6" fill="#984040"/>
<circle cx="189.4" cy="905.5" r="2.6" fill="#6a8a60"/>
<circle cx="334" cy="951.1" r="2.6" fill="#984040"/>
<circle cx="202.5" cy="933.9" r="2.6" fill="#4a6a98"/>
<circle cx="331.6" cy="948.1" r="2.6" fill="#a06050"/>
<circle cx="164.2" cy="984.2" r="2.6" fill="#b8604a"/>
<circle cx="330" cy="864.2" r="2.6" fill="#80a870"/>
<circle cx="156.4" cy="901.1" r="2.6" fill="#b88050"/>
<circle cx="316.1" cy="871.6" r="2.6" fill="#907060"/>
<circle cx="167" cy="949.8" r="2.6" fill="#5f8f5a"/>
<circle cx="289.2" cy="878.5" r="2.6" fill="#907060"/>
<circle cx="164.1" cy="1021.3" r="2.6" fill="#b8604a"/>
<circle cx="301" cy="919.5" r="2.6" fill="#6a8a60"/>
<circle cx="160.4" cy="917.5" r="2.6" fill="#7a5a40"/>
<circle cx="312.5" cy="878.4" r="2.6" fill="#4a8a8a"/>
<circle cx="176.8" cy="973.4" r="2.6" fill="#4a8a8a"/>
<circle cx="294" cy="942.8" r="2.6" fill="#786898"/>
<circle cx="181" cy="1052.2" r="2.6" fill="#a07840"/>
<circle cx="326.4" cy="883.8" r="2.6" fill="#3f7f5f"/>
<circle cx="189.7" cy="952.4" r="2.6" fill="#7a5a40"/>
<circle cx="291.1" cy="976.2" r="2.6" fill="#a07840"/>
<circle cx="184.8" cy="833.2" r="2.6" fill="#786898"/>
<circle cx="315.5" cy="816.4" r="2.6" fill="#6080a0"/>
<circle cx="165.2" cy="1024.9" r="2.6" fill="#888878"/>
<circle cx="282.1" cy="924.6" r="2.6" fill="#907060"/>
<circle cx="170.6" cy="930.4" r="2.6" fill="#b8604a"/>
<circle cx="320.6" cy="860.1" r="2.6" fill="#907060"/>
<circle cx="192.4" cy="989.5" r="2.6" fill="#a04848"/>
<circle cx="299.7" cy="863.8" r="2.6" fill="#3f7f5f"/>
<circle cx="153.5" cy="1011.6" r="2.6" fill="#3f7f5f"/>
<circle cx="303.7" cy="906.9" r="2.6" fill="#7a5a40"/>
<circle cx="195.7" cy="1104.6" r="2.6" fill="#4a8a8a"/>
<circle cx="296" cy="910.5" r="2.6" fill="#6080a0"/>
<circle cx="193.5" cy="929.6" r="2.6" fill="#4a8a8a"/>
<circle cx="301.4" cy="896.4" r="2.6" fill="#888878"/>
<circle cx="168.6" cy="910.3" r="2.6" fill="#5f8f5a"/>
<circle cx="313.7" cy="868" r="2.6" fill="#505078"/>
<circle cx="176.7" cy="1119.2" r="2.6" fill="#907060"/>
<circle cx="305.7" cy="974.2" r="2.6" fill="#c98a40"/>
<circle cx="155.1" cy="888.9" r="2.6" fill="#c87060"/>
<circle cx="320.2" cy="916.9" r="2.6" fill="#888878"/>
<circle cx="195.5" cy="915" r="2.6" fill="#b8604a"/>
<circle cx="312.7" cy="987.8" r="2.6" fill="#80a870"/>
<circle cx="195.7" cy="1047" r="2.6" fill="#3f7f5f"/>
<circle cx="333.1" cy="945.5" r="2.6" fill="#b88050"/>
<circle cx="176.3" cy="982" r="2.6" fill="#d09070"/>
<circle cx="310.2" cy="882.9" r="2.6" fill="#7a5a40"/>
<circle cx="149.7" cy="953.9" r="2.6" fill="#b09060"/>
<circle cx="333.8" cy="837.7" r="2.6" fill="#a07840"/>
<circle cx="158.4" cy="946.7" r="2.6" fill="#984040"/>
<circle cx="287.1" cy="887.3" r="2.6" fill="#d09070"/>
<circle cx="192.7" cy="973.9" r="2.6" fill="#4a6a98"/>
<circle cx="283.2" cy="922.8" r="2.6" fill="#888878"/>
<circle cx="188.5" cy="907" r="2.6" fill="#a07840"/>
<circle cx="295.7" cy="814" r="2.6" fill="#a04848"/>
<circle cx="179.7" cy="914.4" r="2.6" fill="#888878"/>
<circle cx="309.8" cy="879.8" r="2.6" fill="#b88050"/>
<circle cx="154.2" cy="1065" r="2.6" fill="#888878"/>
<circle cx="328.6" cy="934.1" r="2.6" fill="#4a8a8a"/>
<circle cx="151" cy="883.2" r="2.6" fill="#3f7f5f"/>
<circle cx="288.2" cy="825.8" r="2.6" fill="#6080a0"/>
<circle cx="175.6" cy="965.4" r="2.6" fill="#4a6a98"/>
<circle cx="296.7" cy="861.5" r="2.6" fill="#4a6a98"/>
<circle cx="170.5" cy="992.1" r="2.6" fill="#6080a0"/>
<circle cx="289" cy="851.4" r="2.6" fill="#b09060"/>
<circle cx="195.1" cy="1096.4" r="2.6" fill="#6080a0"/>
<circle cx="289.5" cy="879.1" r="2.6" fill="#b88050"/>
<circle cx="188.9" cy="987.1" r="2.6" fill="#5f8f5a"/>
<circle cx="290.5" cy="879.8" r="2.6" fill="#a04848"/>
<circle cx="169.6" cy="947.7" r="2.6" fill="#a07840"/>
<circle cx="304.3" cy="889.2" r="2.6" fill="#907060"/>
<circle cx="150.6" cy="1089.2" r="2.6" fill="#b8604a"/>
<circle cx="334" cy="884" r="2.6" fill="#505078"/>
<circle cx="166.9" cy="880.8" r="2.6" fill="#c87060"/>
<circle cx="294.6" cy="912.6" r="2.6" fill="#888878"/>
<circle cx="172.1" cy="843.9" r="2.6" fill="#c87060"/>
<circle cx="334.6" cy="869.2" r="2.6" fill="#a06050"/>
<circle cx="194.4" cy="919.6" r="2.6" fill="#907060"/>
<circle cx="284.5" cy="898.1" r="2.6" fill="#7a5a40"/>
<circle cx="200.3" cy="1019.3" r="2.6" fill="#b09060"/>
<circle cx="332.1" cy="870.7" r="2.6" fill="#6a8a60"/>
<circle cx="184.4" cy="971.7" r="2.6" fill="#4a6a98"/>
<circle cx="282.2" cy="848" r="2.6" fill="#907060"/>
<circle cx="158.7" cy="874.3" r="2.6" fill="#786898"/>
<circle cx="299.1" cy="848.9" r="2.6" fill="#907060"/>
<circle cx="184.7" cy="895.6" r="2.6" fill="#6a8a60"/>
<circle cx="293.8" cy="889.6" r="2.6" fill="#a06050"/>
<circle cx="190.5" cy="853.5" r="2.6" fill="#a04848"/>
<circle cx="332.2" cy="909.2" r="2.6" fill="#b8604a"/>
<circle cx="192.3" cy="871.1" r="2.6" fill="#b8604a"/>
<circle cx="329.4" cy="816.7" r="2.6" fill="#b8604a"/>
<circle cx="195.3" cy="1085.3" r="2.6" fill="#c06858"/>
<circle cx="315.1" cy="873.1" r="2.6" fill="#a07840"/>
<circle cx="163.4" cy="926.1" r="2.6" fill="#b8604a"/>
<circle cx="310.9" cy="862.5" r="2.6" fill="#a07840"/>
<circle cx="154" cy="1032.9" r="2.6" fill="#5f8f5a"/>
<circle cx="288.2" cy="914.1" r="2.6" fill="#6a8a60"/>
<circle cx="161.4" cy="947.9" r="2.6" fill="#4a6a98"/>
<circle cx="283.7" cy="825.8" r="2.6" fill="#80a870"/>
<circle cx="167.4" cy="845.4" r="2.6" fill="#b8604a"/>
<circle cx="290.6" cy="860.6" r="2.6" fill="#a07840"/>
<circle cx="200.4" cy="793.8" r="2.6" fill="#984040"/>
<circle cx="331.3" cy="845.7" r="2.6" fill="#c98a40"/>
<circle cx="173.8" cy="1036.9" r="2.6" fill="#7a5a40"/>
<circle cx="310.4" cy="941.4" r="2.6" fill="#b88050"/>
<circle cx="155.3" cy="980.9" r="2.6" fill="#80a870"/>
<circle cx="288.7" cy="858.4" r="2.6" fill="#6a8a60"/>
<circle cx="179.8" cy="1061" r="2.6" fill="#c98a40"/>
<circle cx="296.4" cy="886.9" r="2.6" fill="#d09070"/>
<circle cx="164.1" cy="967.4" r="2.6" fill="#888878"/>
<circle cx="306.1" cy="893.8" r="2.6" fill="#6080a0"/>
<circle cx="160.6" cy="1012.1" r="2.6" fill="#d09070"/>
<circle cx="302.5" cy="903.6" r="2.6" fill="#888878"/>
<circle cx="168.4" cy="932.9" r="2.6" fill="#80a870"/>
<circle cx="329.8" cy="936.7" r="2.6" fill="#a07840"/>
<circle cx="174.4" cy="990" r="2.6" fill="#5f8f5a"/>
<circle cx="325.8" cy="898.1" r="2.6" fill="#b09060"/>
<circle cx="166.6" cy="983.9" r="2.6" fill="#d09070"/>
<circle cx="291.8" cy="892.5" r="2.6" fill="#a06050"/>
</g>
<line x1="96" y1="733.8" x2="96" y2="1185.2" stroke="#111" stroke-width="1.3"/>
<line x1="96" y1="1185.2" x2="387.8" y2="1185.2" stroke="#111" stroke-width="1.3"/>
<line x1="92" y1="787.1" x2="96" y2="787.1" stroke="#333" stroke-width="1.1"/>
<text x="89.5" y="794.8" font-size="21.3" text-anchor="end" fill="#4d4d4d" stroke="#4d4d4d" stroke-width="0.3">100</text>
<line x1="92" y1="899.7" x2="96" y2="899.7" stroke="#333" stroke-width="1.1"/>
<text x="89.5" y="907.4" font-size="21.3" text-anchor="end" fill="#4d4d4d" stroke="#4d4d4d" stroke-width="0.3">10</text>
<line x1="92" y1="1012.3" x2="96" y2="1012.3" stroke="#333" stroke-width="1.1"/>
<text x="89.5" y="1020" font-size="21.3" text-anchor="end" fill="#4d4d4d" stroke="#4d4d4d" stroke-width="0.3">1</text>
<line x1="92" y1="1124.9" x2="96" y2="1124.9" stroke="#333" stroke-width="1.1"/>
<text x="89.5" y="1132.6" font-size="21.3" text-anchor="end" fill="#4d4d4d" stroke="#4d4d4d" stroke-width="0.3">0.1</text>
<line x1="175.6" y1="1184.3" x2="175.6" y2="1188.5" stroke="#333" stroke-width="1.1"/>
<text x="175.6" y="1207.5" font-size="22.2" text-anchor="middle" fill="#4d4d4d" stroke="#4d4d4d" stroke-width="0.3">Plasma</text>
<line x1="308.6" y1="1184.3" x2="308.6" y2="1188.5" stroke="#333" stroke-width="1.1"/>
<text x="308.6" y="1207.5" font-size="22.2" text-anchor="middle" fill="#4d4d4d" stroke="#4d4d4d" stroke-width="0.3">Tissue</text>
<text x="44" y="959" font-size="28" text-anchor="middle" stroke="#000" stroke-width="0.3" transform="rotate(-90 44 959)">% Cancer Cell Fraction</text>
<polyline points="175.6,765 175.6,754.2 308.6,754.2 308.6,765" fill="none" stroke="#333" stroke-width="1.1"/>
<text x="242" y="749.5" font-size="12.3" text-anchor="middle" stroke="#000" stroke-width="0.3">p &lt; 2.22e−16</text>
<text x="175.6" y="778.5" font-size="12.3" text-anchor="middle" stroke="#000" stroke-width="0.3">Median CCF = 3.71%</text>
<text x="308.6" y="778.5" font-size="12.3" text-anchor="middle" stroke="#000" stroke-width="0.3">Median CCF = 10.7%</text>
<text x="647.6" y="714" font-size="20.2" text-anchor="middle" stroke="#000" stroke-width="0.3">Subclones present in &gt;2 tumour tissue samples</text>
<line x1="572.5" y1="802.6" x2="572.5" y2="811.9" stroke="#222" stroke-width="1.3"/>
<line x1="572.5" y1="914.4" x2="572.5" y2="1060.4" stroke="#222" stroke-width="1.3"/>
<rect x="522.5" y="811.9" width="100.1" height="102.5" fill="none" stroke="#222" stroke-width="1.3"/>
<line x1="522.5" y1="845.4" x2="622.6" y2="845.4" stroke="#222" stroke-width="2.4699999999999998"/>
<line x1="705.1" y1="805" x2="705.1" y2="822.6" stroke="#222" stroke-width="1.3"/>
<line x1="705.1" y1="869.9" x2="705.1" y2="937.9" stroke="#222" stroke-width="1.3"/>
<rect x="655.4" y="822.6" width="99.5" height="47.3" fill="none" stroke="#222" stroke-width="1.3"/>
<line x1="655.4" y1="838.8" x2="754.9" y2="838.8" stroke="#222" stroke-width="2.4699999999999998"/>
<g stroke="#303030" stroke-opacity="0.36" stroke-width="1.4">
<path d="M590.2 971.6L714.3 860"/>
<path d="M587.9 836.5L727.6 833.6"/>
<path d="M583.1 985.8L696 834.4"/>
<path d="M575.2 856L695.5 846.5"/>
<path d="M571.2 928.5L713.5 843.2"/>
<path d="M564.1 802.6L708 822.2"/>
<path d="M590.1 824.8L721.2 820.7"/>
<path d="M584.1 818.1L699.8 861.1"/>
<path d="M578.7 879.2L715.1 830.3"/>
<path d="M579.6 855.8L707.8 806.7"/>
<path d="M586.9 942.6L692.7 855.3"/>
<path d="M573.8 871.5L704.2 844.2"/>
<path d="M549.2 802.6L719.4 844.3"/>
<path d="M556.7 808.5L687.6 841"/>
<path d="M582 838.4L686.7 858.7"/>
<path d="M555.2 827.4L729.7 882.2"/>
<path d="M563 950.1L698 820.8"/>
<path d="M567.7 912.9L716.4 834.8"/>
<path d="M565.3 963.7L714.3 811.2"/>
<path d="M561.9 806.5L714.3 862.8"/>
<path d="M561.3 802.6L702.6 806"/>
<path d="M579.9 824.4L718 889.8"/>
<path d="M553.7 876.9L715.2 826.2"/>
<path d="M573.7 864.2L691.3 857.2"/>
<path d="M564 1051.4L699.1 811.6"/>
<path d="M556.4 854.4L709.3 886.3"/>
<path d="M555.2 897.8L717.3 837.6"/>
<path d="M559.4 809.6L692.8 805.9"/>
<path d="M574 1077.9L705.1 816.5"/>
<path d="M552.5 975.4L730.3 838.4"/>
<path d="M587.8 802.6L728.2 823.5"/>
<path d="M565.9 1069.7L680.8 849.1"/>
<path d="M568.9 837.6L711.3 840.9"/>
<path d="M558.5 802.6L724.4 854.3"/>
<path d="M555.9 802.6L731 866.5"/>
<path d="M565.7 802.6L714.4 998.9"/>
<path d="M549.9 1041L702.6 817.5"/>
<path d="M568 802.6L729 807.7"/>
<path d="M551.4 811.8L708.9 806.7"/>
<path d="M590.9 802.6L700.9 888.1"/>
<path d="M593.7 883.3L702.3 922.1"/>
<path d="M573.2 802.6L723 809.3"/>
<path d="M585.6 810.6L700.2 846.4"/>
<path d="M561.5 965.6L696.3 882.8"/>
<path d="M552 899.6L690.4 829.3"/>
<path d="M589.7 802.6L684 840.7"/>
<path d="M576.1 802.6L681.5 872.5"/>
<path d="M584 848.4L704.6 808"/>
<path d="M582.9 892L701.1 834.7"/>
<path d="M599.5 840.8L722.6 848.3"/>
<path d="M562.9 1001.7L688.8 854.5"/>
<path d="M599 950.5L693.3 813.3"/>
<path d="M562.5 839.4L692.3 867.5"/>
<path d="M566.9 802.6L726.3 817"/>
<path d="M562.2 809.6L691.9 831.1"/>
<path d="M591.9 856.2L692.4 868.3"/>
<path d="M548.4 802.6L707.5 822"/>
<path d="M581 888.8L716.8 844.3"/>
<path d="M595.8 897.4L697 853"/>
<path d="M575.6 958.8L681.3 974.9"/>
<path d="M574.4 1031.6L700.6 812.8"/>
<path d="M547.5 929.6L690.4 838.3"/>
<path d="M556.4 802.6L689.8 832.1"/>
<path d="M570.1 915.1L729 824"/>
<path d="M593 927L681.6 832.2"/>
<path d="M552.3 802.6L685.9 853.3"/>
<path d="M572.4 969.3L679.3 864.6"/>
<path d="M572.5 825.5L714.9 855.1"/>
<path d="M588.9 973.3L707.4 826.6"/>
<path d="M587.6 846.4L717.1 839.4"/>
<path d="M570.7 832.7L689.4 838.8"/>
<path d="M568 881.9L714.1 844.8"/>
<path d="M594.5 802.6L715.5 862"/>
<path d="M595.5 828.1L685.7 826.7"/>
<path d="M561.5 857.8L691.1 811.1"/>
<path d="M583.8 895.3L717.3 851.4"/>
<path d="M563.1 969.9L723.9 808"/>
<path d="M598.5 802.6L699.6 830.7"/>
<path d="M566.1 802.6L713.1 821"/>
<path d="M575.1 949.3L683.6 896.6"/>
<path d="M584.9 808L701.7 811.5"/>
<path d="M551.8 817.6L723.2 823.7"/>
<path d="M595.5 802.6L732.3 835.3"/>
<path d="M549.5 802.6L705 819.5"/>
<path d="M593.6 804L727.8 841.2"/>
<path d="M560.7 906.9L694.9 818"/>
<path d="M586.4 867.2L689.4 823.2"/>
<path d="M587.1 824.2L719.8 818.8"/>
<path d="M595.5 857.4L680.2 835.6"/>
<path d="M597.8 820.6L697.1 822.4"/>
<path d="M561.8 900.6L687.8 844.9"/>
<path d="M571.6 802.6L696.3 821.5"/>
<path d="M551.5 802.6L723.4 831.4"/>
<path d="M570.2 827.3L718.8 813"/>
<path d="M577.8 929.6L703.4 807.2"/>
<path d="M573.3 888.5L683.8 848.6"/>
<path d="M552.7 867.7L709.7 809.3"/>
<path d="M565.8 858.7L714.3 846.6"/>
<path d="M554.8 802.6L729.3 911.7"/>
<path d="M591.1 802.6L725.7 814.7"/>
<path d="M553.6 802.6L683.6 828.9"/>
<path d="M553.9 910.6L693.1 849.7"/>
<path d="M563.1 802.6L691.8 827"/>
<path d="M547.9 802.6L692.3 811.8"/>
<path d="M567.4 885.3L689.5 844.9"/>
<path d="M584.8 903L707.4 856.9"/>
<path d="M546.4 937.8L729.4 837.1"/>
<path d="M576.4 900.7L715.7 808.3"/>
<path d="M586.1 903.3L686.8 824.9"/>
<path d="M568.5 951.5L712.2 828.2"/>
<path d="M576.4 931.3L685 864.7"/>
<path d="M557.4 839.6L691.7 841.2"/>
<path d="M589.8 802.6L722.9 853.6"/>
<path d="M563.8 926.9L683.8 823.5"/>
<path d="M587.3 848.5L687.9 851.3"/>
<path d="M550.1 878L719.5 826.8"/>
<path d="M546.2 959.1L729.3 847.8"/>
<path d="M547.3 802.6L721.1 817.8"/>
<path d="M582.3 816.4L686.7 824.3"/>
<path d="M556.6 894.4L728.4 994.7"/>
<path d="M583.9 916.3L682.1 809.7"/>
<path d="M547.6 855.7L706.9 835.2"/>
<path d="M586.2 802.6L712.9 807.5"/>
<path d="M548.3 802.6L698.2 842.6"/>
<path d="M580.8 839.1L731 806.9"/>
<path d="M589 900.2L705.1 847.6"/>
<path d="M559.6 960.9L716 806.9"/>
<path d="M585.8 802.6L723.5 851"/>
<path d="M554.5 973.5L699.3 838.6"/>
<path d="M561.7 902.5L730.4 832.7"/>
<path d="M596.7 824L684.8 839.3"/>
<path d="M558.6 816.9L710.2 832.5"/>
<path d="M593 939.3L709.6 819.8"/>
<path d="M548.3 880.3L714.3 844.3"/>
<path d="M582.5 892.4L729.4 816.4"/>
<path d="M596.8 825.1L690.8 824.4"/>
<path d="M581.4 828.5L727.3 827.5"/>
<path d="M545.8 943.3L704.9 813.5"/>
<path d="M593 913L704.2 833.8"/>
<path d="M561.8 845L686.4 829.3"/>
<path d="M550.1 842.2L699.8 862.2"/>
<path d="M547.4 936.6L696.6 850"/>
<path d="M583.5 909.4L702.4 843.6"/>
<path d="M589.2 914.9L685 828.2"/>
<path d="M547.8 926L722.9 831"/>
<path d="M560.3 802.6L730.2 834.7"/>
<path d="M557.7 843.1L726.6 828.8"/>
<path d="M562.3 941.7L695.7 843.9"/>
<path d="M555.8 980.7L723.4 806.4"/>
<path d="M574.1 821.4L678.5 815.2"/>
<path d="M596.6 1060.3L703 820.4"/>
<path d="M585.4 813.6L715 837.1"/>
<path d="M581.6 802.6L685.8 806.7"/>
<path d="M568.1 817.4L706.3 812.6"/>
<path d="M560 887.8L694.5 875.8"/>
<path d="M583.9 847.7L715.6 921.4"/>
<path d="M548.8 883.2L713.8 811.3"/>
<path d="M582.9 846.6L679.5 1000"/>
<path d="M575.7 850L702.7 837"/>
<path d="M585 838.5L719 822.7"/>
<path d="M571.7 928.5L678.9 854.8"/>
<path d="M555.7 871L728.1 846.4"/>
<path d="M599.5 876.1L687.9 811.6"/>
<path d="M598.6 802.6L712.4 828"/>
<path d="M587.3 810.3L679.9 856.7"/>
<path d="M580.6 853.1L722 810.9"/>
<path d="M566.1 874L730.5 859.2"/>
<path d="M582.9 936.1L693.5 816.4"/>
<path d="M572.4 900.3L681.1 837.6"/>
<path d="M593.9 966.5L689.3 877"/>
<path d="M562.2 819L706.6 811"/>
<path d="M594.6 892.6L710.2 940.9"/>
<path d="M597.6 820.6L688.6 824.8"/>
<path d="M556.3 890L695.8 875.1"/>
<path d="M551.5 821.9L692.6 826.2"/>
<path d="M566.4 929.1L730.5 811.8"/>
<path d="M556.6 983L727.6 868.9"/>
<path d="M590.8 946.4L712.9 857.5"/>
<path d="M553.8 942.7L719.4 877"/>
<path d="M575.8 802.6L714.7 828.1"/>
<path d="M566.7 861.6L717.2 844.5"/>
<path d="M589.4 823.4L724.5 834.2"/>
<path d="M569.9 853.7L679.1 810.6"/>
<path d="M576.2 814.4L697.6 826"/>
<path d="M598.5 1063.6L726.3 906.8"/>
<path d="M586.3 802.6L715.1 833.6"/>
<path d="M551.6 1086.8L695.1 841"/>
<path d="M597.8 1022.1L712.7 854.7"/>
<path d="M587.4 1035.6L699.8 832.8"/>
<path d="M566.8 943.7L722 835.4"/>
<path d="M584.1 802.6L686.2 815"/>
<path d="M581.7 1052.9L727.2 872.4"/>
<path d="M563.9 891.6L682.1 815.4"/>
<path d="M572.7 868.8L724.5 885.3"/>
<path d="M576.8 946.1L700.3 810"/>
<path d="M588 1176.6L715.2 1024.9"/>
</g>
<g stroke="#1a1a1a" stroke-width="1.1" fill-opacity="0.85">
<circle cx="590.2" cy="971.6" r="2.6" fill="#c98a40"/>
<circle cx="714.3" cy="860" r="2.6" fill="#a07840"/>
<circle cx="587.9" cy="836.5" r="2.6" fill="#b8604a"/>
<circle cx="727.6" cy="833.6" r="2.6" fill="#a06050"/>
<circle cx="583.1" cy="985.8" r="2.6" fill="#a04848"/>
<circle cx="696" cy="834.4" r="2.6" fill="#b88050"/>
<circle cx="575.2" cy="856" r="2.6" fill="#6080a0"/>
<circle cx="695.5" cy="846.5" r="2.6" fill="#5f8f5a"/>
<circle cx="571.2" cy="928.5" r="2.6" fill="#3f7f5f"/>
<circle cx="713.5" cy="843.2" r="2.6" fill="#907060"/>
<circle cx="564.1" cy="802.6" r="2.6" fill="#a06050"/>
<circle cx="708" cy="822.2" r="2.6" fill="#b09060"/>
<circle cx="590.1" cy="824.8" r="2.6" fill="#a06050"/>
<circle cx="721.2" cy="820.7" r="2.6" fill="#505078"/>
<circle cx="584.1" cy="818.1" r="2.6" fill="#907060"/>
<circle cx="699.8" cy="861.1" r="2.6" fill="#984040"/>
<circle cx="578.7" cy="879.2" r="2.6" fill="#c87060"/>
<circle cx="715.1" cy="830.3" r="2.6" fill="#c98a40"/>
<circle cx="579.6" cy="855.8" r="2.6" fill="#b09060"/>
<circle cx="707.8" cy="806.7" r="2.6" fill="#a07840"/>
<circle cx="586.9" cy="942.6" r="2.6" fill="#3f7f5f"/>
<circle cx="692.7" cy="855.3" r="2.6" fill="#505078"/>
<circle cx="573.8" cy="871.5" r="2.6" fill="#b09060"/>
<circle cx="704.2" cy="844.2" r="2.6" fill="#7a5a40"/>
<circle cx="549.2" cy="802.6" r="2.6" fill="#505078"/>
<circle cx="719.4" cy="844.3" r="2.6" fill="#907060"/>
<circle cx="556.7" cy="808.5" r="2.6" fill="#505078"/>
<circle cx="687.6" cy="841" r="2.6" fill="#b09060"/>
<circle cx="582" cy="838.4" r="2.6" fill="#c06858"/>
<circle cx="686.7" cy="858.7" r="2.6" fill="#b88050"/>
<circle cx="555.2" cy="827.4" r="2.6" fill="#a04848"/>
<circle cx="729.7" cy="882.2" r="2.6" fill="#b8604a"/>
<circle cx="563" cy="950.1" r="2.6" fill="#6a8a60"/>
<circle cx="698" cy="820.8" r="2.6" fill="#4a6a98"/>
<circle cx="567.7" cy="912.9" r="2.6" fill="#a06050"/>
<circle cx="716.4" cy="834.8" r="2.6" fill="#4a6a98"/>
<circle cx="565.3" cy="963.7" r="2.6" fill="#907060"/>
<circle cx="714.3" cy="811.2" r="2.6" fill="#907060"/>
<circle cx="561.9" cy="806.5" r="2.6" fill="#984040"/>
<circle cx="714.3" cy="862.8" r="2.6" fill="#a06050"/>
<circle cx="561.3" cy="802.6" r="2.6" fill="#4a6a98"/>
<circle cx="702.6" cy="806" r="2.6" fill="#b88050"/>
<circle cx="579.9" cy="824.4" r="2.6" fill="#4a8a8a"/>
<circle cx="718" cy="889.8" r="2.6" fill="#907060"/>
<circle cx="553.7" cy="876.9" r="2.6" fill="#505078"/>
<circle cx="715.2" cy="826.2" r="2.6" fill="#3f7f5f"/>
<circle cx="573.7" cy="864.2" r="2.6" fill="#505078"/>
<circle cx="691.3" cy="857.2" r="2.6" fill="#907060"/>
<circle cx="564" cy="1051.4" r="2.6" fill="#5f8f5a"/>
<circle cx="699.1" cy="811.6" r="2.6" fill="#d09070"/>
<circle cx="556.4" cy="854.4" r="2.6" fill="#b8604a"/>
<circle cx="709.3" cy="886.3" r="2.6" fill="#6080a0"/>
<circle cx="555.2" cy="897.8" r="2.6" fill="#984040"/>
<circle cx="717.3" cy="837.6" r="2.6" fill="#c87060"/>
<circle cx="559.4" cy="809.6" r="2.6" fill="#b88050"/>
<circle cx="692.8" cy="805.9" r="2.6" fill="#c98a40"/>
<circle cx="574" cy="1077.9" r="2.6" fill="#c98a40"/>
<circle cx="705.1" cy="816.5" r="2.6" fill="#786898"/>
<circle cx="552.5" cy="975.4" r="2.6" fill="#80a870"/>
<circle cx="730.3" cy="838.4" r="2.6" fill="#a07840"/>
<circle cx="587.8" cy="802.6" r="2.6" fill="#888878"/>
<circle cx="728.2" cy="823.5" r="2.6" fill="#b88050"/>
<circle cx="565.9" cy="1069.7" r="2.6" fill="#80a870"/>
<circle cx="680.8" cy="849.1" r="2.6" fill="#6a8a60"/>
<circle cx="568.9" cy="837.6" r="2.6" fill="#984040"/>
<circle cx="711.3" cy="840.9" r="2.6" fill="#505078"/>
<circle cx="558.5" cy="802.6" r="2.6" fill="#7a5a40"/>
<circle cx="724.4" cy="854.3" r="2.6" fill="#a07840"/>
<circle cx="555.9" cy="802.6" r="2.6" fill="#888878"/>
<circle cx="731" cy="866.5" r="2.6" fill="#6080a0"/>
<circle cx="565.7" cy="802.6" r="2.6" fill="#c87060"/>
<circle cx="714.4" cy="998.9" r="2.6" fill="#c98a40"/>
<circle cx="549.9" cy="1041" r="2.6" fill="#a06050"/>
<circle cx="702.6" cy="817.5" r="2.6" fill="#907060"/>
<circle cx="568" cy="802.6" r="2.6" fill="#a04848"/>
<circle cx="729" cy="807.7" r="2.6" fill="#5f8f5a"/>
<circle cx="551.4" cy="811.8" r="2.6" fill="#b88050"/>
<circle cx="708.9" cy="806.7" r="2.6" fill="#888878"/>
<circle cx="590.9" cy="802.6" r="2.6" fill="#3f7f5f"/>
<circle cx="700.9" cy="888.1" r="2.6" fill="#4a8a8a"/>
<circle cx="593.7" cy="883.3" r="2.6" fill="#3f7f5f"/>
<circle cx="702.3" cy="922.1" r="2.6" fill="#7a5a40"/>
<circle cx="573.2" cy="802.6" r="2.6" fill="#c06858"/>
<circle cx="723" cy="809.3" r="2.6" fill="#b09060"/>
<circle cx="585.6" cy="810.6" r="2.6" fill="#b8604a"/>
<circle cx="700.2" cy="846.4" r="2.6" fill="#c06858"/>
<circle cx="561.5" cy="965.6" r="2.6" fill="#a06050"/>
<circle cx="696.3" cy="882.8" r="2.6" fill="#b88050"/>
<circle cx="552" cy="899.6" r="2.6" fill="#c98a40"/>
<circle cx="690.4" cy="829.3" r="2.6" fill="#6080a0"/>
<circle cx="589.7" cy="802.6" r="2.6" fill="#c98a40"/>
<circle cx="684" cy="840.7" r="2.6" fill="#786898"/>
<circle cx="576.1" cy="802.6" r="2.6" fill="#c06858"/>
<circle cx="681.5" cy="872.5" r="2.6" fill="#786898"/>
<circle cx="584" cy="848.4" r="2.6" fill="#b8604a"/>
<circle cx="704.6" cy="808" r="2.6" fill="#d09070"/>
<circle cx="582.9" cy="892" r="2.6" fill="#6080a0"/>
<circle cx="701.1" cy="834.7" r="2.6" fill="#7a5a40"/>
<circle cx="599.5" cy="840.8" r="2.6" fill="#a04848"/>
<circle cx="722.6" cy="848.3" r="2.6" fill="#7a5a40"/>
<circle cx="562.9" cy="1001.7" r="2.6" fill="#5f8f5a"/>
<circle cx="688.8" cy="854.5" r="2.6" fill="#4a8a8a"/>
<circle cx="599" cy="950.5" r="2.6" fill="#984040"/>
<circle cx="693.3" cy="813.3" r="2.6" fill="#c98a40"/>
<circle cx="562.5" cy="839.4" r="2.6" fill="#80a870"/>
<circle cx="692.3" cy="867.5" r="2.6" fill="#d09070"/>
<circle cx="566.9" cy="802.6" r="2.6" fill="#c06858"/>
<circle cx="726.3" cy="817" r="2.6" fill="#b8604a"/>
<circle cx="562.2" cy="809.6" r="2.6" fill="#a06050"/>
<circle cx="691.9" cy="831.1" r="2.6" fill="#6a8a60"/>
<circle cx="591.9" cy="856.2" r="2.6" fill="#786898"/>
<circle cx="692.4" cy="868.3" r="2.6" fill="#7a5a40"/>
<circle cx="548.4" cy="802.6" r="2.6" fill="#505078"/>
<circle cx="707.5" cy="822" r="2.6" fill="#b88050"/>
<circle cx="581" cy="888.8" r="2.6" fill="#7a5a40"/>
<circle cx="716.8" cy="844.3" r="2.6" fill="#505078"/>
<circle cx="595.8" cy="897.4" r="2.6" fill="#b88050"/>
<circle cx="697" cy="853" r="2.6" fill="#888878"/>
<circle cx="575.6" cy="958.8" r="2.6" fill="#c87060"/>
<circle cx="681.3" cy="974.9" r="2.6" fill="#5f8f5a"/>
<circle cx="574.4" cy="1031.6" r="2.6" fill="#6080a0"/>
<circle cx="700.6" cy="812.8" r="2.6" fill="#c87060"/>
<circle cx="547.5" cy="929.6" r="2.6" fill="#b88050"/>
<circle cx="690.4" cy="838.3" r="2.6" fill="#80a870"/>
<circle cx="556.4" cy="802.6" r="2.6" fill="#6080a0"/>
<circle cx="689.8" cy="832.1" r="2.6" fill="#a07840"/>
<circle cx="570.1" cy="915.1" r="2.6" fill="#b88050"/>
<circle cx="729" cy="824" r="2.6" fill="#786898"/>
<circle cx="593" cy="927" r="2.6" fill="#6a8a60"/>
<circle cx="681.6" cy="832.2" r="2.6" fill="#a04848"/>
<circle cx="552.3" cy="802.6" r="2.6" fill="#c98a40"/>
<circle cx="685.9" cy="853.3" r="2.6" fill="#a07840"/>
<circle cx="572.4" cy="969.3" r="2.6" fill="#d09070"/>
<circle cx="679.3" cy="864.6" r="2.6" fill="#4a8a8a"/>
<circle cx="572.5" cy="825.5" r="2.6" fill="#c06858"/>
<circle cx="714.9" cy="855.1" r="2.6" fill="#80a870"/>
<circle cx="588.9" cy="973.3" r="2.6" fill="#4a8a8a"/>
<circle cx="707.4" cy="826.6" r="2.6" fill="#7a5a40"/>
<circle cx="587.6" cy="846.4" r="2.6" fill="#907060"/>
<circle cx="717.1" cy="839.4" r="2.6" fill="#4a6a98"/>
<circle cx="570.7" cy="832.7" r="2.6" fill="#c98a40"/>
<circle cx="689.4" cy="838.8" r="2.6" fill="#b8604a"/>
<circle cx="568" cy="881.9" r="2.6" fill="#984040"/>
<circle cx="714.1" cy="844.8" r="2.6" fill="#888878"/>
<circle cx="594.5" cy="802.6" r="2.6" fill="#7a5a40"/>
<circle cx="715.5" cy="862" r="2.6" fill="#b8604a"/>
<circle cx="595.5" cy="828.1" r="2.6" fill="#4a8a8a"/>
<circle cx="685.7" cy="826.7" r="2.6" fill="#b88050"/>
<circle cx="561.5" cy="857.8" r="2.6" fill="#6080a0"/>
<circle cx="691.1" cy="811.1" r="2.6" fill="#c87060"/>
<circle cx="583.8" cy="895.3" r="2.6" fill="#80a870"/>
<circle cx="717.3" cy="851.4" r="2.6" fill="#984040"/>
<circle cx="563.1" cy="969.9" r="2.6" fill="#7a5a40"/>
<circle cx="723.9" cy="808" r="2.6" fill="#c06858"/>
<circle cx="598.5" cy="802.6" r="2.6" fill="#b8604a"/>
<circle cx="699.6" cy="830.7" r="2.6" fill="#c87060"/>
<circle cx="566.1" cy="802.6" r="2.6" fill="#b09060"/>
<circle cx="713.1" cy="821" r="2.6" fill="#a04848"/>
<circle cx="575.1" cy="949.3" r="2.6" fill="#b88050"/>
<circle cx="683.6" cy="896.6" r="2.6" fill="#7a5a40"/>
<circle cx="584.9" cy="808" r="2.6" fill="#c06858"/>
<circle cx="701.7" cy="811.5" r="2.6" fill="#a06050"/>
<circle cx="551.8" cy="817.6" r="2.6" fill="#4a6a98"/>
<circle cx="723.2" cy="823.7" r="2.6" fill="#c06858"/>
<circle cx="595.5" cy="802.6" r="2.6" fill="#907060"/>
<circle cx="732.3" cy="835.3" r="2.6" fill="#907060"/>
<circle cx="549.5" cy="802.6" r="2.6" fill="#5f8f5a"/>
<circle cx="705" cy="819.5" r="2.6" fill="#3f7f5f"/>
<circle cx="593.6" cy="804" r="2.6" fill="#786898"/>
<circle cx="727.8" cy="841.2" r="2.6" fill="#3f7f5f"/>
<circle cx="560.7" cy="906.9" r="2.6" fill="#6080a0"/>
<circle cx="694.9" cy="818" r="2.6" fill="#d09070"/>
<circle cx="586.4" cy="867.2" r="2.6" fill="#3f7f5f"/>
<circle cx="689.4" cy="823.2" r="2.6" fill="#984040"/>
<circle cx="587.1" cy="824.2" r="2.6" fill="#b09060"/>
<circle cx="719.8" cy="818.8" r="2.6" fill="#6080a0"/>
<circle cx="595.5" cy="857.4" r="2.6" fill="#a07840"/>
<circle cx="680.2" cy="835.6" r="2.6" fill="#4a6a98"/>
<circle cx="597.8" cy="820.6" r="2.6" fill="#7a5a40"/>
<circle cx="697.1" cy="822.4" r="2.6" fill="#c06858"/>
<circle cx="561.8" cy="900.6" r="2.6" fill="#505078"/>
<circle cx="687.8" cy="844.9" r="2.6" fill="#b88050"/>
<circle cx="571.6" cy="802.6" r="2.6" fill="#505078"/>
<circle cx="696.3" cy="821.5" r="2.6" fill="#4a8a8a"/>
<circle cx="551.5" cy="802.6" r="2.6" fill="#c98a40"/>
<circle cx="723.4" cy="831.4" r="2.6" fill="#d09070"/>
<circle cx="570.2" cy="827.3" r="2.6" fill="#4a6a98"/>
<circle cx="718.8" cy="813" r="2.6" fill="#4a8a8a"/>
<circle cx="577.8" cy="929.6" r="2.6" fill="#b8604a"/>
<circle cx="703.4" cy="807.2" r="2.6" fill="#b8604a"/>
<circle cx="573.3" cy="888.5" r="2.6" fill="#a04848"/>
<circle cx="683.8" cy="848.6" r="2.6" fill="#888878"/>
<circle cx="552.7" cy="867.7" r="2.6" fill="#505078"/>
<circle cx="709.7" cy="809.3" r="2.6" fill="#c98a40"/>
<circle cx="565.8" cy="858.7" r="2.6" fill="#4a8a8a"/>
<circle cx="714.3" cy="846.6" r="2.6" fill="#505078"/>
<circle cx="554.8" cy="802.6" r="2.6" fill="#c87060"/>
<circle cx="729.3" cy="911.7" r="2.6" fill="#5f8f5a"/>
<circle cx="591.1" cy="802.6" r="2.6" fill="#3f7f5f"/>
<circle cx="725.7" cy="814.7" r="2.6" fill="#80a870"/>
<circle cx="553.6" cy="802.6" r="2.6" fill="#b09060"/>
<circle cx="683.6" cy="828.9" r="2.6" fill="#4a6a98"/>
<circle cx="553.9" cy="910.6" r="2.6" fill="#d09070"/>
<circle cx="693.1" cy="849.7" r="2.6" fill="#4a6a98"/>
<circle cx="563.1" cy="802.6" r="2.6" fill="#6080a0"/>
<circle cx="691.8" cy="827" r="2.6" fill="#d09070"/>
<circle cx="547.9" cy="802.6" r="2.6" fill="#786898"/>
<circle cx="692.3" cy="811.8" r="2.6" fill="#80a870"/>
<circle cx="567.4" cy="885.3" r="2.6" fill="#7a5a40"/>
<circle cx="689.5" cy="844.9" r="2.6" fill="#b09060"/>
<circle cx="584.8" cy="903" r="2.6" fill="#b09060"/>
<circle cx="707.4" cy="856.9" r="2.6" fill="#4a6a98"/>
<circle cx="546.4" cy="937.8" r="2.6" fill="#3f7f5f"/>
<circle cx="729.4" cy="837.1" r="2.6" fill="#888878"/>
<circle cx="576.4" cy="900.7" r="2.6" fill="#b09060"/>
<circle cx="715.7" cy="808.3" r="2.6" fill="#c98a40"/>
<circle cx="586.1" cy="903.3" r="2.6" fill="#984040"/>
<circle cx="686.8" cy="824.9" r="2.6" fill="#5f8f5a"/>
<circle cx="568.5" cy="951.5" r="2.6" fill="#4a6a98"/>
<circle cx="712.2" cy="828.2" r="2.6" fill="#80a870"/>
<circle cx="576.4" cy="931.3" r="2.6" fill="#c06858"/>
<circle cx="685" cy="864.7" r="2.6" fill="#6080a0"/>
<circle cx="557.4" cy="839.6" r="2.6" fill="#907060"/>
<circle cx="691.7" cy="841.2" r="2.6" fill="#888878"/>
<circle cx="589.8" cy="802.6" r="2.6" fill="#c98a40"/>
<circle cx="722.9" cy="853.6" r="2.6" fill="#a07840"/>
<circle cx="563.8" cy="926.9" r="2.6" fill="#786898"/>
<circle cx="683.8" cy="823.5" r="2.6" fill="#a07840"/>
<circle cx="587.3" cy="848.5" r="2.6" fill="#80a870"/>
<circle cx="687.9" cy="851.3" r="2.6" fill="#c87060"/>
<circle cx="550.1" cy="878" r="2.6" fill="#6080a0"/>
<circle cx="719.5" cy="826.8" r="2.6" fill="#4a8a8a"/>
<circle cx="546.2" cy="959.1" r="2.6" fill="#6a8a60"/>
<circle cx="729.3" cy="847.8" r="2.6" fill="#6a8a60"/>
<circle cx="547.3" cy="802.6" r="2.6" fill="#7a5a40"/>
<circle cx="721.1" cy="817.8" r="2.6" fill="#907060"/>
<circle cx="582.3" cy="816.4" r="2.6" fill="#505078"/>
<circle cx="686.7" cy="824.3" r="2.6" fill="#7a5a40"/>
<circle cx="556.6" cy="894.4" r="2.6" fill="#c06858"/>
<circle cx="728.4" cy="994.7" r="2.6" fill="#c87060"/>
<circle cx="583.9" cy="916.3" r="2.6" fill="#5f8f5a"/>
<circle cx="682.1" cy="809.7" r="2.6" fill="#3f7f5f"/>
<circle cx="547.6" cy="855.7" r="2.6" fill="#c87060"/>
<circle cx="706.9" cy="835.2" r="2.6" fill="#c98a40"/>
<circle cx="586.2" cy="802.6" r="2.6" fill="#786898"/>
<circle cx="712.9" cy="807.5" r="2.6" fill="#a04848"/>
<circle cx="548.3" cy="802.6" r="2.6" fill="#6a8a60"/>
<circle cx="698.2" cy="842.6" r="2.6" fill="#c98a40"/>
<circle cx="580.8" cy="839.1" r="2.6" fill="#6080a0"/>
<circle cx="731" cy="806.9" r="2.6" fill="#4a8a8a"/>
<circle cx="589" cy="900.2" r="2.6" fill="#3f7f5f"/>
<circle cx="705.1" cy="847.6" r="2.6" fill="#7a5a40"/>
<circle cx="559.6" cy="960.9" r="2.6" fill="#80a870"/>
<circle cx="716" cy="806.9" r="2.6" fill="#b8604a"/>
<circle cx="585.8" cy="802.6" r="2.6" fill="#c06858"/>
<circle cx="723.5" cy="851" r="2.6" fill="#6080a0"/>
<circle cx="554.5" cy="973.5" r="2.6" fill="#a04848"/>
<circle cx="699.3" cy="838.6" r="2.6" fill="#907060"/>
<circle cx="561.7" cy="902.5" r="2.6" fill="#d09070"/>
<circle cx="730.4" cy="832.7" r="2.6" fill="#a04848"/>
<circle cx="596.7" cy="824" r="2.6" fill="#984040"/>
<circle cx="684.8" cy="839.3" r="2.6" fill="#b09060"/>
<circle cx="558.6" cy="816.9" r="2.6" fill="#d09070"/>
<circle cx="710.2" cy="832.5" r="2.6" fill="#b09060"/>
<circle cx="593" cy="939.3" r="2.6" fill="#c06858"/>
<circle cx="709.6" cy="819.8" r="2.6" fill="#888878"/>
<circle cx="548.3" cy="880.3" r="2.6" fill="#a06050"/>
<circle cx="714.3" cy="844.3" r="2.6" fill="#a04848"/>
<circle cx="582.5" cy="892.4" r="2.6" fill="#a06050"/>
<circle cx="729.4" cy="816.4" r="2.6" fill="#a06050"/>
<circle cx="596.8" cy="825.1" r="2.6" fill="#c06858"/>
<circle cx="690.8" cy="824.4" r="2.6" fill="#c87060"/>
<circle cx="581.4" cy="828.5" r="2.6" fill="#6a8a60"/>
<circle cx="727.3" cy="827.5" r="2.6" fill="#80a870"/>
<circle cx="545.8" cy="943.3" r="2.6" fill="#5f8f5a"/>
<circle cx="704.9" cy="813.5" r="2.6" fill="#4a6a98"/>
<circle cx="593" cy="913" r="2.6" fill="#6a8a60"/>
<circle cx="704.2" cy="833.8" r="2.6" fill="#a07840"/>
<circle cx="561.8" cy="845" r="2.6" fill="#d09070"/>
<circle cx="686.4" cy="829.3" r="2.6" fill="#786898"/>
<circle cx="550.1" cy="842.2" r="2.6" fill="#b88050"/>
<circle cx="699.8" cy="862.2" r="2.6" fill="#a07840"/>
<circle cx="547.4" cy="936.6" r="2.6" fill="#984040"/>
<circle cx="696.6" cy="850" r="2.6" fill="#4a8a8a"/>
<circle cx="583.5" cy="909.4" r="2.6" fill="#c06858"/>
<circle cx="702.4" cy="843.6" r="2.6" fill="#d09070"/>
<circle cx="589.2" cy="914.9" r="2.6" fill="#c06858"/>
<circle cx="685" cy="828.2" r="2.6" fill="#a04848"/>
<circle cx="547.8" cy="926" r="2.6" fill="#4a8a8a"/>
<circle cx="722.9" cy="831" r="2.6" fill="#a06050"/>
<circle cx="560.3" cy="802.6" r="2.6" fill="#505078"/>
<circle cx="730.2" cy="834.7" r="2.6" fill="#4a8a8a"/>
<circle cx="557.7" cy="843.1" r="2.6" fill="#a07840"/>
<circle cx="726.6" cy="828.8" r="2.6" fill="#a06050"/>
<circle cx="562.3" cy="941.7" r="2.6" fill="#907060"/>
<circle cx="695.7" cy="843.9" r="2.6" fill="#a07840"/>
<circle cx="555.8" cy="980.7" r="2.6" fill="#4a8a8a"/>
<circle cx="723.4" cy="806.4" r="2.6" fill="#a06050"/>
<circle cx="574.1" cy="821.4" r="2.6" fill="#4a8a8a"/>
<circle cx="678.5" cy="815.2" r="2.6" fill="#4a6a98"/>
<circle cx="596.6" cy="1060.3" r="2.6" fill="#c06858"/>
<circle cx="703" cy="820.4" r="2.6" fill="#984040"/>
<circle cx="585.4" cy="813.6" r="2.6" fill="#d09070"/>
<circle cx="715" cy="837.1" r="2.6" fill="#907060"/>
<circle cx="581.6" cy="802.6" r="2.6" fill="#984040"/>
<circle cx="685.8" cy="806.7" r="2.6" fill="#c06858"/>
<circle cx="568.1" cy="817.4" r="2.6" fill="#c87060"/>
<circle cx="706.3" cy="812.6" r="2.6" fill="#b88050"/>
<circle cx="560" cy="887.8" r="2.6" fill="#80a870"/>
<circle cx="694.5" cy="875.8" r="2.6" fill="#c06858"/>
<circle cx="583.9" cy="847.7" r="2.6" fill="#907060"/>
<circle cx="715.6" cy="921.4" r="2.6" fill="#c06858"/>
<circle cx="548.8" cy="883.2" r="2.6" fill="#3f7f5f"/>
<circle cx="713.8" cy="811.3" r="2.6" fill="#505078"/>
<circle cx="582.9" cy="846.6" r="2.6" fill="#c06858"/>
<circle cx="679.5" cy="1000" r="2.6" fill="#4a6a98"/>
<circle cx="575.7" cy="850" r="2.6" fill="#907060"/>
<circle cx="702.7" cy="837" r="2.6" fill="#7a5a40"/>
<circle cx="585" cy="838.5" r="2.6" fill="#b8604a"/>
<circle cx="719" cy="822.7" r="2.6" fill="#c87060"/>
<circle cx="571.7" cy="928.5" r="2.6" fill="#984040"/>
<circle cx="678.9" cy="854.8" r="2.6" fill="#7a5a40"/>
<circle cx="555.7" cy="871" r="2.6" fill="#907060"/>
<circle cx="728.1" cy="846.4" r="2.6" fill="#b8604a"/>
<circle cx="599.5" cy="876.1" r="2.6" fill="#6080a0"/>
<circle cx="687.9" cy="811.6" r="2.6" fill="#a04848"/>
<circle cx="598.6" cy="802.6" r="2.6" fill="#b09060"/>
<circle cx="712.4" cy="828" r="2.6" fill="#80a870"/>
<circle cx="587.3" cy="810.3" r="2.6" fill="#d09070"/>
<circle cx="679.9" cy="856.7" r="2.6" fill="#6a8a60"/>
<circle cx="580.6" cy="853.1" r="2.6" fill="#c06858"/>
<circle cx="722" cy="810.9" r="2.6" fill="#a04848"/>
<circle cx="566.1" cy="874" r="2.6" fill="#888878"/>
<circle cx="730.5" cy="859.2" r="2.6" fill="#505078"/>
<circle cx="582.9" cy="936.1" r="2.6" fill="#4a8a8a"/>
<circle cx="693.5" cy="816.4" r="2.6" fill="#6080a0"/>
<circle cx="572.4" cy="900.3" r="2.6" fill="#d09070"/>
<circle cx="681.1" cy="837.6" r="2.6" fill="#505078"/>
<circle cx="593.9" cy="966.5" r="2.6" fill="#b8604a"/>
<circle cx="689.3" cy="877" r="2.6" fill="#4a8a8a"/>
<circle cx="562.2" cy="819" r="2.6" fill="#c06858"/>
<circle cx="706.6" cy="811" r="2.6" fill="#80a870"/>
<circle cx="594.6" cy="892.6" r="2.6" fill="#a06050"/>
<circle cx="710.2" cy="940.9" r="2.6" fill="#505078"/>
<circle cx="597.6" cy="820.6" r="2.6" fill="#80a870"/>
<circle cx="688.6" cy="824.8" r="2.6" fill="#3f7f5f"/>
<circle cx="556.3" cy="890" r="2.6" fill="#b88050"/>
<circle cx="695.8" cy="875.1" r="2.6" fill="#a06050"/>
<circle cx="551.5" cy="821.9" r="2.6" fill="#a06050"/>
<circle cx="692.6" cy="826.2" r="2.6" fill="#c87060"/>
<circle cx="566.4" cy="929.1" r="2.6" fill="#984040"/>
<circle cx="730.5" cy="811.8" r="2.6" fill="#4a6a98"/>
<circle cx="556.6" cy="983" r="2.6" fill="#b88050"/>
<circle cx="727.6" cy="868.9" r="2.6" fill="#907060"/>
<circle cx="590.8" cy="946.4" r="2.6" fill="#c87060"/>
<circle cx="712.9" cy="857.5" r="2.6" fill="#b8604a"/>
<circle cx="553.8" cy="942.7" r="2.6" fill="#3f7f5f"/>
<circle cx="719.4" cy="877" r="2.6" fill="#c06858"/>
<circle cx="575.8" cy="802.6" r="2.6" fill="#c98a40"/>
<circle cx="714.7" cy="828.1" r="2.6" fill="#984040"/>
<circle cx="566.7" cy="861.6" r="2.6" fill="#a06050"/>
<circle cx="717.2" cy="844.5" r="2.6" fill="#907060"/>
<circle cx="589.4" cy="823.4" r="2.6" fill="#4a6a98"/>
<circle cx="724.5" cy="834.2" r="2.6" fill="#984040"/>
<circle cx="569.9" cy="853.7" r="2.6" fill="#d09070"/>
<circle cx="679.1" cy="810.6" r="2.6" fill="#888878"/>
<circle cx="576.2" cy="814.4" r="2.6" fill="#505078"/>
<circle cx="697.6" cy="826" r="2.6" fill="#984040"/>
<circle cx="598.5" cy="1063.6" r="2.6" fill="#d09070"/>
<circle cx="726.3" cy="906.8" r="2.6" fill="#4a6a98"/>
<circle cx="586.3" cy="802.6" r="2.6" fill="#6a8a60"/>
<circle cx="715.1" cy="833.6" r="2.6" fill="#888878"/>
<circle cx="551.6" cy="1086.8" r="2.6" fill="#a04848"/>
<circle cx="695.1" cy="841" r="2.6" fill="#4a8a8a"/>
<circle cx="597.8" cy="1022.1" r="2.6" fill="#888878"/>
<circle cx="712.7" cy="854.7" r="2.6" fill="#4a6a98"/>
<circle cx="587.4" cy="1035.6" r="2.6" fill="#c87060"/>
<circle cx="699.8" cy="832.8" r="2.6" fill="#a06050"/>
<circle cx="566.8" cy="943.7" r="2.6" fill="#505078"/>
<circle cx="722" cy="835.4" r="2.6" fill="#4a8a8a"/>
<circle cx="584.1" cy="802.6" r="2.6" fill="#907060"/>
<circle cx="686.2" cy="815" r="2.6" fill="#6a8a60"/>
<circle cx="581.7" cy="1052.9" r="2.6" fill="#7a5a40"/>
<circle cx="727.2" cy="872.4" r="2.6" fill="#786898"/>
<circle cx="563.9" cy="891.6" r="2.6" fill="#6a8a60"/>
<circle cx="682.1" cy="815.4" r="2.6" fill="#c98a40"/>
<circle cx="572.7" cy="868.8" r="2.6" fill="#c06858"/>
<circle cx="724.5" cy="885.3" r="2.6" fill="#b09060"/>
<circle cx="576.8" cy="946.1" r="2.6" fill="#6080a0"/>
<circle cx="700.3" cy="810" r="2.6" fill="#984040"/>
<circle cx="588" cy="1176.6" r="2.6" fill="#7a5a40"/>
<circle cx="715.2" cy="1024.9" r="2.6" fill="#7a5a40"/>
</g>
<line x1="493.2" y1="746.3" x2="493.2" y2="1198" stroke="#111" stroke-width="1.3"/>
<line x1="493.2" y1="1198" x2="784.2" y2="1198" stroke="#111" stroke-width="1.3"/>
<line x1="489" y1="802.6" x2="493.2" y2="802.6" stroke="#333" stroke-width="1.1"/>
<text x="486.3" y="810.3" font-size="21.3" text-anchor="end" fill="#4d4d4d" stroke="#4d4d4d" stroke-width="0.3">100</text>
<line x1="489" y1="1010.4" x2="493.2" y2="1010.4" stroke="#333" stroke-width="1.1"/>
<text x="486.3" y="1018.1" font-size="21.3" text-anchor="end" fill="#4d4d4d" stroke="#4d4d4d" stroke-width="0.3">10</text>
<line x1="572.6" y1="1197.5" x2="572.6" y2="1201.5" stroke="#333" stroke-width="1.1"/>
<text x="572.6" y="1220" font-size="22.2" text-anchor="middle" fill="#4d4d4d" stroke="#4d4d4d" stroke-width="0.3">Plasma</text>
<line x1="705.5" y1="1197.5" x2="705.5" y2="1201.5" stroke="#333" stroke-width="1.1"/>
<text x="705.5" y="1220" font-size="22.2" text-anchor="middle" fill="#4d4d4d" stroke="#4d4d4d" stroke-width="0.3">Tissue</text>
<text x="439.5" y="973" font-size="28" text-anchor="middle" stroke="#000" stroke-width="0.3" transform="rotate(-90 439.5 973)">% Cancer Cell Fraction</text>
<polyline points="572.6,777.4 572.6,766.3 705.5,766.3 705.5,777.4" fill="none" stroke="#333" stroke-width="1.1"/>
<text x="638.2" y="762.5" font-size="12.3" text-anchor="middle" stroke="#000" stroke-width="0.3">0.53</text>
<text x="572.6" y="786" font-size="11.3" text-anchor="middle" stroke="#000" stroke-width="0.3">Median CCF =</text>
<text x="572.6" y="795.7" font-size="11.3" text-anchor="middle" stroke="#000" stroke-width="0.3">62.6%</text>
<text x="705.5" y="786" font-size="11.3" text-anchor="middle" stroke="#000" stroke-width="0.3">Median CCF =</text>
<text x="705.5" y="795.7" font-size="11.3" text-anchor="middle" stroke="#000" stroke-width="0.3">66.9%</text>
<circle cx="809" cy="808.4" r="2.3" fill="#b09060" stroke="#222" stroke-width="1.0" fill-opacity="0.75"/>
<text x="828.7" y="812" font-size="10" stroke="#000" stroke-width="0.3">CRUK0068</text>
<circle cx="809" cy="819.6" r="2.3" fill="#6080a0" stroke="#222" stroke-width="1.0" fill-opacity="0.75"/>
<text x="828.7" y="823.2" font-size="10" stroke="#000" stroke-width="0.3">CRUK0085</text>
<circle cx="809" cy="830.7" r="2.3" fill="#d09070" stroke="#222" stroke-width="1.0" fill-opacity="0.75"/>
<text x="828.7" y="834.3" font-size="10" stroke="#000" stroke-width="0.3">CRUK0086</text>
<circle cx="809" cy="841.9" r="2.3" fill="#7a5a40" stroke="#222" stroke-width="1.0" fill-opacity="0.75"/>
<text x="828.7" y="845.5" font-size="10" stroke="#000" stroke-width="0.3">CRUK0196</text>
<circle cx="809" cy="853" r="2.3" fill="#505078" stroke="#222" stroke-width="1.0" fill-opacity="0.75"/>
<text x="828.7" y="856.6" font-size="10" stroke="#000" stroke-width="0.3">CRUK0206</text>
<circle cx="809" cy="864.2" r="2.3" fill="#a07840" stroke="#222" stroke-width="1.0" fill-opacity="0.75"/>
<text x="828.7" y="867.8" font-size="10" stroke="#000" stroke-width="0.3">CRUK0223</text>
<circle cx="809" cy="875.4" r="2.3" fill="#3f7f5f" stroke="#222" stroke-width="1.0" fill-opacity="0.75"/>
<text x="828.7" y="879" font-size="10" stroke="#000" stroke-width="0.3">CRUK0240</text>
<circle cx="809" cy="886.5" r="2.3" fill="#a04848" stroke="#222" stroke-width="1.0" fill-opacity="0.75"/>
<text x="828.7" y="890.1" font-size="10" stroke="#000" stroke-width="0.3">CRUK0241</text>
<circle cx="809" cy="897.7" r="2.3" fill="#6080a0" stroke="#222" stroke-width="1.0" fill-opacity="0.75"/>
<text x="828.7" y="901.3" font-size="10" stroke="#000" stroke-width="0.3">CRUK0242</text>
<circle cx="809" cy="908.8" r="2.3" fill="#c98a40" stroke="#222" stroke-width="1.0" fill-opacity="0.75"/>
<text x="828.7" y="912.4" font-size="10" stroke="#000" stroke-width="0.3">CRUK0245</text>
<circle cx="809" cy="920" r="2.3" fill="#a07840" stroke="#222" stroke-width="1.0" fill-opacity="0.75"/>
<text x="828.7" y="923.6" font-size="10" stroke="#000" stroke-width="0.3">CRUK0270</text>
<circle cx="809" cy="931.2" r="2.3" fill="#5f8f5a" stroke="#222" stroke-width="1.0" fill-opacity="0.75"/>
<text x="828.7" y="934.8" font-size="10" stroke="#000" stroke-width="0.3">CRUK0284</text>
<circle cx="809" cy="942.3" r="2.3" fill="#3f7f5f" stroke="#222" stroke-width="1.0" fill-opacity="0.75"/>
<text x="828.7" y="945.9" font-size="10" stroke="#000" stroke-width="0.3">CRUK0290</text>
<circle cx="809" cy="953.5" r="2.3" fill="#984040" stroke="#222" stroke-width="1.0" fill-opacity="0.75"/>
<text x="828.7" y="957.1" font-size="10" stroke="#000" stroke-width="0.3">CRUK0303</text>
<circle cx="809" cy="964.6" r="2.3" fill="#d09070" stroke="#222" stroke-width="1.0" fill-opacity="0.75"/>
<text x="828.7" y="968.2" font-size="10" stroke="#000" stroke-width="0.3">CRUK0311</text>
<circle cx="809" cy="975.8" r="2.3" fill="#b09060" stroke="#222" stroke-width="1.0" fill-opacity="0.75"/>
<text x="828.7" y="979.4" font-size="10" stroke="#000" stroke-width="0.3">CRUK0331</text>
<circle cx="809" cy="987" r="2.3" fill="#786898" stroke="#222" stroke-width="1.0" fill-opacity="0.75"/>
<text x="828.7" y="990.6" font-size="10" stroke="#000" stroke-width="0.3">CRUK0352</text>
<circle cx="809" cy="998.1" r="2.3" fill="#888878" stroke="#222" stroke-width="1.0" fill-opacity="0.75"/>
<text x="828.7" y="1001.7" font-size="10" stroke="#000" stroke-width="0.3">CRUK0368</text>
<circle cx="809" cy="1009.3" r="2.3" fill="#3f7f5f" stroke="#222" stroke-width="1.0" fill-opacity="0.75"/>
<text x="828.7" y="1012.9" font-size="10" stroke="#000" stroke-width="0.3">CRUK0369</text>
<circle cx="809" cy="1020.4" r="2.3" fill="#d09070" stroke="#222" stroke-width="1.0" fill-opacity="0.75"/>
<text x="828.7" y="1024" font-size="10" stroke="#000" stroke-width="0.3">CRUK0379</text>
<circle cx="809" cy="1031.6" r="2.3" fill="#d09070" stroke="#222" stroke-width="1.0" fill-opacity="0.75"/>
<text x="828.7" y="1035.2" font-size="10" stroke="#000" stroke-width="0.3">CRUK0381</text>
<circle cx="809" cy="1042.8" r="2.3" fill="#3f7f5f" stroke="#222" stroke-width="1.0" fill-opacity="0.75"/>
<text x="828.7" y="1046.4" font-size="10" stroke="#000" stroke-width="0.3">CRUK0384</text>
<circle cx="809" cy="1053.9" r="2.3" fill="#a06050" stroke="#222" stroke-width="1.0" fill-opacity="0.75"/>
<text x="828.7" y="1057.5" font-size="10" stroke="#000" stroke-width="0.3">CRUK0385</text>
<circle cx="809" cy="1065.1" r="2.3" fill="#a04848" stroke="#222" stroke-width="1.0" fill-opacity="0.75"/>
<text x="828.7" y="1068.7" font-size="10" stroke="#000" stroke-width="0.3">CRUK0388</text>
<circle cx="809" cy="1076.2" r="2.3" fill="#7a5a40" stroke="#222" stroke-width="1.0" fill-opacity="0.75"/>
<text x="828.7" y="1079.8" font-size="10" stroke="#000" stroke-width="0.3">CRUK0396</text>
<circle cx="809" cy="1087.4" r="2.3" fill="#b09060" stroke="#222" stroke-width="1.0" fill-opacity="0.75"/>
<text x="828.7" y="1091" font-size="10" stroke="#000" stroke-width="0.3">CRUK0403</text>
<circle cx="809" cy="1098.6" r="2.3" fill="#a04848" stroke="#222" stroke-width="1.0" fill-opacity="0.75"/>
<text x="828.7" y="1102.2" font-size="10" stroke="#000" stroke-width="0.3">CRUK0419</text>
<circle cx="809" cy="1109.7" r="2.3" fill="#7a5a40" stroke="#222" stroke-width="1.0" fill-opacity="0.75"/>
<text x="828.7" y="1113.3" font-size="10" stroke="#000" stroke-width="0.3">CRUK0444</text>
<circle cx="809" cy="1120.9" r="2.3" fill="#907060" stroke="#222" stroke-width="1.0" fill-opacity="0.75"/>
<text x="828.7" y="1124.5" font-size="10" stroke="#000" stroke-width="0.3">CRUK0452</text>
<circle cx="809" cy="1132" r="2.3" fill="#a06050" stroke="#222" stroke-width="1.0" fill-opacity="0.75"/>
<text x="828.7" y="1135.6" font-size="10" stroke="#000" stroke-width="0.3">CRUK0463</text>
<circle cx="809" cy="1143.2" r="2.3" fill="#5f8f5a" stroke="#222" stroke-width="1.0" fill-opacity="0.75"/>
<text x="828.7" y="1146.8" font-size="10" stroke="#000" stroke-width="0.3">CRUK0472</text>
<circle cx="809" cy="1154.4" r="2.3" fill="#c06858" stroke="#222" stroke-width="1.0" fill-opacity="0.75"/>
<text x="828.7" y="1158" font-size="10" stroke="#000" stroke-width="0.3">CRUK0476</text>
<circle cx="809" cy="1165.5" r="2.3" fill="#c98a40" stroke="#222" stroke-width="1.0" fill-opacity="0.75"/>
<text x="828.7" y="1169.1" font-size="10" stroke="#000" stroke-width="0.3">CRUK0484</text>
<circle cx="809" cy="1176.7" r="2.3" fill="#4a8a8a" stroke="#222" stroke-width="1.0" fill-opacity="0.75"/>
<text x="828.7" y="1180.3" font-size="10" stroke="#000" stroke-width="0.3">CRUK0487</text>
<circle cx="898.8" cy="808.4" r="2.3" fill="#6080a0" stroke="#222" stroke-width="1.0" fill-opacity="0.75"/>
<text x="918.5" y="812" font-size="10" stroke="#000" stroke-width="0.3">CRUK0495</text>
<circle cx="898.8" cy="819.6" r="2.3" fill="#b8604a" stroke="#222" stroke-width="1.0" fill-opacity="0.75"/>
<text x="918.5" y="823.2" font-size="10" stroke="#000" stroke-width="0.3">CRUK0497</text>
<circle cx="898.8" cy="830.7" r="2.3" fill="#80a870" stroke="#222" stroke-width="1.0" fill-opacity="0.75"/>
<text x="918.5" y="834.3" font-size="10" stroke="#000" stroke-width="0.3">CRUK0510</text>
<circle cx="898.8" cy="841.9" r="2.3" fill="#5f8f5a" stroke="#222" stroke-width="1.0" fill-opacity="0.75"/>
<text x="918.5" y="845.5" font-size="10" stroke="#000" stroke-width="0.3">CRUK0516</text>
<circle cx="898.8" cy="853" r="2.3" fill="#984040" stroke="#222" stroke-width="1.0" fill-opacity="0.75"/>
<text x="918.5" y="856.6" font-size="10" stroke="#000" stroke-width="0.3">CRUK0518</text>
<circle cx="898.8" cy="864.2" r="2.3" fill="#3f7f5f" stroke="#222" stroke-width="1.0" fill-opacity="0.75"/>
<text x="918.5" y="867.8" font-size="10" stroke="#000" stroke-width="0.3">CRUK0519</text>
<circle cx="898.8" cy="875.4" r="2.3" fill="#a07840" stroke="#222" stroke-width="1.0" fill-opacity="0.75"/>
<text x="918.5" y="879" font-size="10" stroke="#000" stroke-width="0.3">CRUK0528</text>
<circle cx="898.8" cy="886.5" r="2.3" fill="#a06050" stroke="#222" stroke-width="1.0" fill-opacity="0.75"/>
<text x="918.5" y="890.1" font-size="10" stroke="#000" stroke-width="0.3">CRUK0549</text>
<circle cx="898.8" cy="897.7" r="2.3" fill="#888878" stroke="#222" stroke-width="1.0" fill-opacity="0.75"/>
<text x="918.5" y="901.3" font-size="10" stroke="#000" stroke-width="0.3">CRUK0552</text>
<circle cx="898.8" cy="908.8" r="2.3" fill="#6a8a60" stroke="#222" stroke-width="1.0" fill-opacity="0.75"/>
<text x="918.5" y="912.4" font-size="10" stroke="#000" stroke-width="0.3">CRUK0553</text>
<circle cx="898.8" cy="920" r="2.3" fill="#a06050" stroke="#222" stroke-width="1.0" fill-opacity="0.75"/>
<text x="918.5" y="923.6" font-size="10" stroke="#000" stroke-width="0.3">CRUK0557</text>
<circle cx="898.8" cy="931.2" r="2.3" fill="#6080a0" stroke="#222" stroke-width="1.0" fill-opacity="0.75"/>
<text x="918.5" y="934.8" font-size="10" stroke="#000" stroke-width="0.3">CRUK0559</text>
<circle cx="898.8" cy="942.3" r="2.3" fill="#b88050" stroke="#222" stroke-width="1.0" fill-opacity="0.75"/>
<text x="918.5" y="945.9" font-size="10" stroke="#000" stroke-width="0.3">CRUK0563</text>
<circle cx="898.8" cy="953.5" r="2.3" fill="#7a5a40" stroke="#222" stroke-width="1.0" fill-opacity="0.75"/>
<text x="918.5" y="957.1" font-size="10" stroke="#000" stroke-width="0.3">CRUK0565</text>
<circle cx="898.8" cy="964.6" r="2.3" fill="#505078" stroke="#222" stroke-width="1.0" fill-opacity="0.75"/>
<text x="918.5" y="968.2" font-size="10" stroke="#000" stroke-width="0.3">CRUK0567</text>
<circle cx="898.8" cy="975.8" r="2.3" fill="#4a6a98" stroke="#222" stroke-width="1.0" fill-opacity="0.75"/>
<text x="918.5" y="979.4" font-size="10" stroke="#000" stroke-width="0.3">CRUK0582</text>
<circle cx="898.8" cy="987" r="2.3" fill="#b8604a" stroke="#222" stroke-width="1.0" fill-opacity="0.75"/>
<text x="918.5" y="990.6" font-size="10" stroke="#000" stroke-width="0.3">CRUK0587</text>
<circle cx="898.8" cy="998.1" r="2.3" fill="#7a5a40" stroke="#222" stroke-width="1.0" fill-opacity="0.75"/>
<text x="918.5" y="1001.7" font-size="10" stroke="#000" stroke-width="0.3">CRUK0589</text>
<circle cx="898.8" cy="1009.3" r="2.3" fill="#3f7f5f" stroke="#222" stroke-width="1.0" fill-opacity="0.75"/>
<text x="918.5" y="1012.9" font-size="10" stroke="#000" stroke-width="0.3">CRUK0590</text>
<circle cx="898.8" cy="1020.4" r="2.3" fill="#786898" stroke="#222" stroke-width="1.0" fill-opacity="0.75"/>
<text x="918.5" y="1024" font-size="10" stroke="#000" stroke-width="0.3">CRUK0596</text>
<circle cx="898.8" cy="1031.6" r="2.3" fill="#984040" stroke="#222" stroke-width="1.0" fill-opacity="0.75"/>
<text x="918.5" y="1035.2" font-size="10" stroke="#000" stroke-width="0.3">CRUK0606</text>
<circle cx="898.8" cy="1042.8" r="2.3" fill="#c06858" stroke="#222" stroke-width="1.0" fill-opacity="0.75"/>
<text x="918.5" y="1046.4" font-size="10" stroke="#000" stroke-width="0.3">CRUK0610</text>
<circle cx="898.8" cy="1053.9" r="2.3" fill="#6a8a60" stroke="#222" stroke-width="1.0" fill-opacity="0.75"/>
<text x="918.5" y="1057.5" font-size="10" stroke="#000" stroke-width="0.3">CRUK0617</text>
<circle cx="898.8" cy="1065.1" r="2.3" fill="#a04848" stroke="#222" stroke-width="1.0" fill-opacity="0.75"/>
<text x="918.5" y="1068.7" font-size="10" stroke="#000" stroke-width="0.3">CRUK0640</text>
<circle cx="898.8" cy="1076.2" r="2.3" fill="#80a870" stroke="#222" stroke-width="1.0" fill-opacity="0.75"/>
<text x="918.5" y="1079.8" font-size="10" stroke="#000" stroke-width="0.3">CRUK0644</text>
<circle cx="898.8" cy="1087.4" r="2.3" fill="#6a8a60" stroke="#222" stroke-width="1.0" fill-opacity="0.75"/>
<text x="918.5" y="1091" font-size="10" stroke="#000" stroke-width="0.3">CRUK0667</text>
<circle cx="898.8" cy="1098.6" r="2.3" fill="#907060" stroke="#222" stroke-width="1.0" fill-opacity="0.75"/>
<text x="918.5" y="1102.2" font-size="10" stroke="#000" stroke-width="0.3">CRUK0674</text>
<circle cx="898.8" cy="1109.7" r="2.3" fill="#a06050" stroke="#222" stroke-width="1.0" fill-opacity="0.75"/>
<text x="918.5" y="1113.3" font-size="10" stroke="#000" stroke-width="0.3">CRUK0681</text>
<circle cx="898.8" cy="1120.9" r="2.3" fill="#6080a0" stroke="#222" stroke-width="1.0" fill-opacity="0.75"/>
<text x="918.5" y="1124.5" font-size="10" stroke="#000" stroke-width="0.3">CRUK0702</text>
<circle cx="898.8" cy="1132" r="2.3" fill="#505078" stroke="#222" stroke-width="1.0" fill-opacity="0.75"/>
<text x="918.5" y="1135.6" font-size="10" stroke="#000" stroke-width="0.3">CRUK0706</text>
<circle cx="898.8" cy="1143.2" r="2.3" fill="#d09070" stroke="#222" stroke-width="1.0" fill-opacity="0.75"/>
<text x="918.5" y="1146.8" font-size="10" stroke="#000" stroke-width="0.3">CRUK0714</text>
<circle cx="898.8" cy="1154.4" r="2.3" fill="#6080a0" stroke="#222" stroke-width="1.0" fill-opacity="0.75"/>
<text x="918.5" y="1158" font-size="10" stroke="#000" stroke-width="0.3">CRUK0736</text>
<circle cx="898.8" cy="1165.5" r="2.3" fill="#6a8a60" stroke="#222" stroke-width="1.0" fill-opacity="0.75"/>
<text x="918.5" y="1169.1" font-size="10" stroke="#000" stroke-width="0.3">CRUK0748</text>
<text x="981.5" y="663.5" font-size="27.5" font-weight="bold">e</text>
<text x="1376.5" y="703.5" font-size="20" text-anchor="middle" stroke="#000" stroke-width="0.3">Subclones unique to 1 tumour tissue sample</text>
<rect x="1072" y="713.7" width="198" height="19.3" fill="#fff" stroke="#222" stroke-width="1.3"/>
<text x="1171" y="727.8" font-size="11.3" text-anchor="middle" stroke="#000" stroke-width="0.3">&lt; 20 cm^3</text>
<line x1="1125.8" y1="785.7" x2="1125.8" y2="861.1" stroke="#222" stroke-width="1.3"/>
<line x1="1125.8" y1="937.9" x2="1125.8" y2="1027.9" stroke="#222" stroke-width="1.3"/>
<rect x="1091.9" y="861.1" width="67.7" height="76.8" fill="none" stroke="#222" stroke-width="1.3"/>
<line x1="1091.9" y1="896.7" x2="1159.6" y2="896.7" stroke="#222" stroke-width="2.4699999999999998"/>
<line x1="1216.2" y1="798.6" x2="1216.2" y2="842.7" stroke="#222" stroke-width="1.3"/>
<line x1="1216.2" y1="891.6" x2="1216.2" y2="958" stroke="#222" stroke-width="1.3"/>
<rect x="1182.3" y="842.7" width="67.7" height="48.9" fill="none" stroke="#222" stroke-width="1.3"/>
<line x1="1182.3" y1="865.9" x2="1250" y2="865.9" stroke="#222" stroke-width="2.4699999999999998"/>
<g stroke="#303030" stroke-opacity="0.3" stroke-width="1.2">
<path d="M1117.1 945L1216.4 925.6"/>
<path d="M1143.1 958.8L1231.1 885.4"/>
<path d="M1107.3 905.4L1230.3 852.6"/>
<path d="M1129.3 900.5L1200.2 841.3"/>
<path d="M1133.5 853.9L1223.6 838.3"/>
<path d="M1113.2 934.6L1230.6 884.9"/>
<path d="M1131.1 874L1222.6 825.1"/>
<path d="M1130.4 908.4L1231.1 922.1"/>
<path d="M1123.2 815.5L1214.5 816.5"/>
<path d="M1117.5 969.1L1207.2 859.9"/>
<path d="M1107 795.6L1203 867.1"/>
<path d="M1134.3 853.5L1200.5 860.6"/>
<path d="M1109.3 909.9L1197.7 922.3"/>
<path d="M1134.3 840.7L1201.8 819.6"/>
<path d="M1127.4 898.9L1218 870.2"/>
<path d="M1113.3 927.9L1206.2 873"/>
<path d="M1139.5 956.4L1201.3 882.6"/>
<path d="M1118.1 809.8L1212.4 888.6"/>
<path d="M1135.3 837.3L1200.3 845.5"/>
<path d="M1111.2 910.3L1214.6 892"/>
<path d="M1127.9 910.1L1231.8 840.8"/>
<path d="M1139.7 947.8L1213.7 874.2"/>
<path d="M1108.3 856L1201.2 849.6"/>
<path d="M1125.3 896.5L1234 879.8"/>
<path d="M1126.7 987.5L1197.3 892.6"/>
<path d="M1118.1 942.7L1205.9 869.8"/>
<path d="M1131.1 872.6L1223.7 838.6"/>
<path d="M1124 831L1224.8 821.9"/>
<path d="M1116.9 906.2L1212.3 879"/>
<path d="M1128.8 902.3L1235.9 870.7"/>
<path d="M1139.4 984.2L1233.8 949"/>
<path d="M1125.2 971.8L1225.8 903.4"/>
<path d="M1144.4 878.7L1213.1 827.5"/>
<path d="M1109.5 882.9L1213.3 904.8"/>
<path d="M1130.1 872.1L1236 825.8"/>
<path d="M1115.7 860.8L1203.4 837"/>
<path d="M1142.9 905.9L1197.2 808"/>
<path d="M1132.4 811.4L1234.1 854.7"/>
</g>
<g stroke="#1a1a1a" stroke-width="1.1" fill-opacity="0.6">
<circle cx="1117.1" cy="945" r="2.4" fill="#6a8a60"/>
<circle cx="1216.4" cy="925.6" r="2.4" fill="#3f7f5f"/>
<circle cx="1143.1" cy="958.8" r="2.4" fill="#b09060"/>
<circle cx="1231.1" cy="885.4" r="2.4" fill="#7a5a40"/>
<circle cx="1107.3" cy="905.4" r="2.4" fill="#4a6a98"/>
<circle cx="1230.3" cy="852.6" r="2.4" fill="#907060"/>
<circle cx="1129.3" cy="900.5" r="2.4" fill="#888878"/>
<circle cx="1200.2" cy="841.3" r="2.4" fill="#b88050"/>
<circle cx="1133.5" cy="853.9" r="2.4" fill="#c87060"/>
<circle cx="1223.6" cy="838.3" r="2.4" fill="#505078"/>
<circle cx="1113.2" cy="934.6" r="2.4" fill="#c87060"/>
<circle cx="1230.6" cy="884.9" r="2.4" fill="#4a6a98"/>
<circle cx="1131.1" cy="874" r="2.4" fill="#b88050"/>
<circle cx="1222.6" cy="825.1" r="2.4" fill="#6a8a60"/>
<circle cx="1130.4" cy="908.4" r="2.4" fill="#c98a40"/>
<circle cx="1231.1" cy="922.1" r="2.4" fill="#c87060"/>
<circle cx="1123.2" cy="815.5" r="2.4" fill="#505078"/>
<circle cx="1214.5" cy="816.5" r="2.4" fill="#b8604a"/>
<circle cx="1117.5" cy="969.1" r="2.4" fill="#b09060"/>
<circle cx="1207.2" cy="859.9" r="2.4" fill="#a06050"/>
<circle cx="1107" cy="795.6" r="2.4" fill="#3f7f5f"/>
<circle cx="1203" cy="867.1" r="2.4" fill="#c06858"/>
<circle cx="1134.3" cy="853.5" r="2.4" fill="#a07840"/>
<circle cx="1200.5" cy="860.6" r="2.4" fill="#907060"/>
<circle cx="1109.3" cy="909.9" r="2.4" fill="#6a8a60"/>
<circle cx="1197.7" cy="922.3" r="2.4" fill="#b8604a"/>
<circle cx="1134.3" cy="840.7" r="2.4" fill="#c87060"/>
<circle cx="1201.8" cy="819.6" r="2.4" fill="#b09060"/>
<circle cx="1127.4" cy="898.9" r="2.4" fill="#b8604a"/>
<circle cx="1218" cy="870.2" r="2.4" fill="#984040"/>
<circle cx="1113.3" cy="927.9" r="2.4" fill="#4a6a98"/>
<circle cx="1206.2" cy="873" r="2.4" fill="#6080a0"/>
<circle cx="1139.5" cy="956.4" r="2.4" fill="#888878"/>
<circle cx="1201.3" cy="882.6" r="2.4" fill="#b88050"/>
<circle cx="1118.1" cy="809.8" r="2.4" fill="#b09060"/>
<circle cx="1212.4" cy="888.6" r="2.4" fill="#505078"/>
<circle cx="1135.3" cy="837.3" r="2.4" fill="#b09060"/>
<circle cx="1200.3" cy="845.5" r="2.4" fill="#984040"/>
<circle cx="1111.2" cy="910.3" r="2.4" fill="#d09070"/>
<circle cx="1214.6" cy="892" r="2.4" fill="#b09060"/>
<circle cx="1127.9" cy="910.1" r="2.4" fill="#b8604a"/>
<circle cx="1231.8" cy="840.8" r="2.4" fill="#6080a0"/>
<circle cx="1139.7" cy="947.8" r="2.4" fill="#786898"/>
<circle cx="1213.7" cy="874.2" r="2.4" fill="#a07840"/>
<circle cx="1108.3" cy="856" r="2.4" fill="#907060"/>
<circle cx="1201.2" cy="849.6" r="2.4" fill="#984040"/>
<circle cx="1125.3" cy="896.5" r="2.4" fill="#b88050"/>
<circle cx="1234" cy="879.8" r="2.4" fill="#b8604a"/>
<circle cx="1126.7" cy="987.5" r="2.4" fill="#b09060"/>
<circle cx="1197.3" cy="892.6" r="2.4" fill="#c06858"/>
<circle cx="1118.1" cy="942.7" r="2.4" fill="#a06050"/>
<circle cx="1205.9" cy="869.8" r="2.4" fill="#6a8a60"/>
<circle cx="1131.1" cy="872.6" r="2.4" fill="#b09060"/>
<circle cx="1223.7" cy="838.6" r="2.4" fill="#7a5a40"/>
<circle cx="1124" cy="831" r="2.4" fill="#3f7f5f"/>
<circle cx="1224.8" cy="821.9" r="2.4" fill="#c98a40"/>
<circle cx="1116.9" cy="906.2" r="2.4" fill="#6080a0"/>
<circle cx="1212.3" cy="879" r="2.4" fill="#c98a40"/>
<circle cx="1128.8" cy="902.3" r="2.4" fill="#5f8f5a"/>
<circle cx="1235.9" cy="870.7" r="2.4" fill="#b09060"/>
<circle cx="1139.4" cy="984.2" r="2.4" fill="#984040"/>
<circle cx="1233.8" cy="949" r="2.4" fill="#b09060"/>
<circle cx="1125.2" cy="971.8" r="2.4" fill="#a06050"/>
<circle cx="1225.8" cy="903.4" r="2.4" fill="#984040"/>
<circle cx="1144.4" cy="878.7" r="2.4" fill="#5f8f5a"/>
<circle cx="1213.1" cy="827.5" r="2.4" fill="#7a5a40"/>
<circle cx="1109.5" cy="882.9" r="2.4" fill="#5f8f5a"/>
<circle cx="1213.3" cy="904.8" r="2.4" fill="#984040"/>
<circle cx="1130.1" cy="872.1" r="2.4" fill="#a07840"/>
<circle cx="1236" cy="825.8" r="2.4" fill="#c87060"/>
<circle cx="1115.7" cy="860.8" r="2.4" fill="#c98a40"/>
<circle cx="1203.4" cy="837" r="2.4" fill="#d09070"/>
<circle cx="1142.9" cy="905.9" r="2.4" fill="#c98a40"/>
<circle cx="1197.2" cy="808" r="2.4" fill="#b8604a"/>
<circle cx="1132.4" cy="811.4" r="2.4" fill="#d09070"/>
<circle cx="1234.1" cy="854.7" r="2.4" fill="#b88050"/>
</g>
<line x1="1072" y1="1182" x2="1270" y2="1182" stroke="#222" stroke-width="1.3"/>
<line x1="1125.7" y1="1182" x2="1125.7" y2="1186" stroke="#333" stroke-width="1.1"/>
<text x="1125.7" y="1203.6" font-size="22.2" text-anchor="middle" fill="#4d4d4d" stroke="#4d4d4d" stroke-width="0.3">Plasma</text>
<line x1="1216.2" y1="1182" x2="1216.2" y2="1186" stroke="#333" stroke-width="1.1"/>
<text x="1216.2" y="1203.6" font-size="22.2" text-anchor="middle" fill="#4d4d4d" stroke="#4d4d4d" stroke-width="0.3">Tissue</text>
<polyline points="1125.7,764.3 1125.7,754.4 1216.2,754.4 1216.2,764.3" fill="none" stroke="#333" stroke-width="1.1"/>
<text x="1171" y="750" font-size="12.3" text-anchor="middle" stroke="#000" stroke-width="0.3">0.027</text>
<text x="1125.7" y="772.8" font-size="11.3" text-anchor="middle" stroke="#000" stroke-width="0.3">Median CCF =</text>
<text x="1125.7" y="783.2" font-size="11.3" text-anchor="middle" stroke="#000" stroke-width="0.3">9.77%</text>
<text x="1216.2" y="772.8" font-size="11.3" text-anchor="middle" stroke="#000" stroke-width="0.3">Median CCF =</text>
<text x="1216.2" y="783.2" font-size="11.3" text-anchor="middle" stroke="#000" stroke-width="0.3">18.2%</text>
<rect x="1277" y="713.7" width="198" height="19.3" fill="#fff" stroke="#222" stroke-width="1.3"/>
<text x="1376" y="727.8" font-size="11.3" text-anchor="middle" stroke="#000" stroke-width="0.3">&gt; 20 cm^3 &amp; &lt; 100 cm^3</text>
<line x1="1331" y1="785.7" x2="1331" y2="880.4" stroke="#222" stroke-width="1.3"/>
<line x1="1331" y1="1000" x2="1331" y2="1130.7" stroke="#222" stroke-width="1.3"/>
<rect x="1297.1" y="880.4" width="67.8" height="119.6" fill="none" stroke="#222" stroke-width="1.3"/>
<line x1="1297.1" y1="916" x2="1364.9" y2="916" stroke="#222" stroke-width="2.4699999999999998"/>
<line x1="1421.4" y1="805" x2="1421.4" y2="858.2" stroke="#222" stroke-width="1.3"/>
<line x1="1421.4" y1="918.2" x2="1421.4" y2="989.3" stroke="#222" stroke-width="1.3"/>
<rect x="1387.6" y="858.2" width="67.7" height="60" fill="none" stroke="#222" stroke-width="1.3"/>
<line x1="1387.6" y1="880.9" x2="1455.3" y2="880.9" stroke="#222" stroke-width="2.4699999999999998"/>
<g stroke="#303030" stroke-opacity="0.3" stroke-width="1.2">
<path d="M1324.3 905.8L1423.9 875.6"/>
<path d="M1346.1 947.8L1437.6 911.3"/>
<path d="M1323.3 932L1410.1 866.4"/>
<path d="M1325.5 858.5L1429.2 860"/>
<path d="M1344.2 978.2L1432.7 919.8"/>
<path d="M1334.6 948.2L1413 897.2"/>
<path d="M1338.5 913.4L1406.8 901"/>
<path d="M1322.2 936.9L1412.4 844.3"/>
<path d="M1332.6 902.8L1406 843.3"/>
<path d="M1313.8 794.8L1423 860.8"/>
<path d="M1327.6 961.2L1426.4 900.3"/>
<path d="M1351.2 1010.4L1408.4 865.1"/>
<path d="M1336.4 872.5L1405.7 881.9"/>
<path d="M1321.3 1082.7L1439.8 906.2"/>
<path d="M1344.6 951.2L1420.7 870.7"/>
<path d="M1331 990.7L1437.2 925"/>
<path d="M1329.2 844.9L1407.7 916.9"/>
<path d="M1339.4 829.2L1415.6 847.1"/>
<path d="M1329.3 829.8L1408.8 858.7"/>
<path d="M1316.8 977.1L1419.3 884.1"/>
<path d="M1339.1 952L1441.3 909.4"/>
<path d="M1338.1 862.6L1413.1 887.4"/>
<path d="M1325.3 891.4L1433.3 866.9"/>
<path d="M1327.1 945.7L1425.1 915.8"/>
<path d="M1331.6 898.1L1428.7 886"/>
<path d="M1318.7 948L1439.2 872.5"/>
<path d="M1319.9 983.9L1431.8 920.7"/>
<path d="M1317.3 964.7L1428.7 887.8"/>
<path d="M1324.7 817.3L1419 855.8"/>
<path d="M1321.7 1002.5L1409.8 894"/>
<path d="M1339.2 882.4L1423 856.3"/>
<path d="M1335.7 995.9L1427.6 899.2"/>
<path d="M1330.9 897.6L1412.9 914.9"/>
<path d="M1313.1 900.1L1411.7 860.3"/>
<path d="M1346.3 933.3L1431.4 891.1"/>
<path d="M1337.6 844L1416.4 850.4"/>
<path d="M1330.5 994L1430.6 891.8"/>
<path d="M1325.5 1047.6L1419 889.4"/>
<path d="M1329.7 919.1L1408.2 922.4"/>
<path d="M1312.4 890.3L1435 854.7"/>
<path d="M1320 867.2L1418.1 878"/>
<path d="M1346 957.9L1435.5 864.8"/>
<path d="M1326.5 1001.2L1404.2 896.8"/>
<path d="M1339.8 1038.2L1404 958.1"/>
<path d="M1324.9 951.7L1419.2 882.8"/>
<path d="M1317.7 1024.7L1432.1 906.6"/>
<path d="M1347.2 985.5L1438.3 864.2"/>
<path d="M1316.9 793.9L1416 876.1"/>
<path d="M1345 874.7L1433.2 914.6"/>
<path d="M1323.6 1047L1418.6 923"/>
<path d="M1329.4 920.7L1423.1 845.6"/>
<path d="M1340 864.9L1440.1 824.8"/>
<path d="M1334 1083.2L1434.4 949.8"/>
<path d="M1329.1 959.6L1436.2 807.2"/>
<path d="M1330.9 845.8L1426.1 866.4"/>
<path d="M1331.7 831.5L1402.7 938.7"/>
<path d="M1311.8 987L1421.7 948.7"/>
<path d="M1316 941.8L1412.3 882.6"/>
<path d="M1326.2 1024L1406.9 924.8"/>
<path d="M1338.7 974.5L1414.7 924.6"/>
<path d="M1323.9 1055.8L1433 908.5"/>
<path d="M1316.2 1037.4L1421.6 876.1"/>
<path d="M1349.2 975.8L1416 888"/>
<path d="M1346.5 791.1L1403.5 836.5"/>
<path d="M1328.2 1015.7L1436.6 851.8"/>
<path d="M1327.6 1064.3L1423.9 890.8"/>
<path d="M1342.7 887.2L1433.8 894"/>
<path d="M1335 853.6L1401.5 879.3"/>
<path d="M1330 827.1L1425.3 871.1"/>
<path d="M1339.6 896.2L1403.7 867.2"/>
<path d="M1326.8 918.6L1427.9 899"/>
<path d="M1316.2 835.1L1409.4 818.2"/>
<path d="M1322.7 984.5L1429.6 898.5"/>
<path d="M1316.4 895.2L1417.2 890.2"/>
<path d="M1346.9 997.7L1407.9 938.1"/>
<path d="M1320.8 890L1433.7 916.9"/>
<path d="M1322.4 871.7L1429.8 849.3"/>
<path d="M1321.7 863.2L1422.9 890.2"/>
<path d="M1337.2 1084.2L1418.4 924.8"/>
<path d="M1316.4 880.3L1422 864"/>
<path d="M1324.3 1037.3L1416.7 913.4"/>
<path d="M1337.8 949.6L1440.6 870.9"/>
<path d="M1349 875.8L1423.2 874.3"/>
<path d="M1346.2 968.6L1402.5 895.2"/>
<path d="M1350.4 953L1441.1 885.8"/>
<path d="M1316 953.8L1407.3 926.7"/>
<path d="M1347.6 891.3L1423.2 881.6"/>
<path d="M1341.4 918L1405.6 816.8"/>
<path d="M1331.5 962.7L1419.9 914.2"/>
<path d="M1339.6 967.8L1403.7 882.8"/>
<path d="M1322.4 993L1432.4 824.6"/>
<path d="M1321.8 852.6L1426 884.2"/>
<path d="M1313.3 1000.2L1418.2 901.6"/>
<path d="M1319.2 1006.9L1437 912.5"/>
<path d="M1338.9 1007.3L1405.7 893"/>
<path d="M1320.7 899.7L1413.8 860.1"/>
<path d="M1339.2 983L1429.6 872.6"/>
<path d="M1313.9 945.2L1439.5 906"/>
<path d="M1319.9 994L1440.4 873.2"/>
<path d="M1314.6 917.2L1406.2 867.5"/>
<path d="M1336.2 815.4L1430.4 855.3"/>
<path d="M1351.2 815L1406.9 825.2"/>
<path d="M1325.7 888.3L1418.8 857.2"/>
<path d="M1349.1 967.6L1420 842.4"/>
<path d="M1345.9 981.9L1439.5 901"/>
<path d="M1339.9 901.3L1436.8 887.4"/>
<path d="M1334.1 936.3L1433.8 884.1"/>
<path d="M1323 890.2L1429 831.9"/>
<path d="M1318.5 975.4L1431.2 915.1"/>
<path d="M1345.8 872.5L1434.3 915.4"/>
<path d="M1327.2 873.3L1421.2 819"/>
<path d="M1314 1057.5L1415.4 947.7"/>
<path d="M1332.4 990.6L1407.9 884.3"/>
<path d="M1330 954.1L1441.2 870.7"/>
<path d="M1320.5 1051L1405.2 854.3"/>
<path d="M1334.6 892.2L1420.7 859.8"/>
<path d="M1343.6 845.4L1436.4 870.3"/>
<path d="M1340.6 974.3L1440.1 867.6"/>
<path d="M1343.5 885.3L1421.3 854.4"/>
<path d="M1351.1 964.4L1435.6 857.3"/>
<path d="M1331.8 898L1424.4 865.6"/>
<path d="M1332.5 1047.3L1427.5 862.9"/>
<path d="M1341.9 1081.8L1401.5 899.8"/>
<path d="M1334.5 960.2L1423.6 872.2"/>
<path d="M1316.7 898.7L1427.6 817.8"/>
<path d="M1341 953.3L1405.9 930.5"/>
<path d="M1321 970.8L1418.9 851"/>
<path d="M1341.9 965.1L1428.6 900.2"/>
<path d="M1334.9 858.7L1407 905.4"/>
<path d="M1335 942.7L1439.5 859.6"/>
<path d="M1333.4 910L1403.3 892.1"/>
<path d="M1313.2 901.3L1412.5 840.6"/>
<path d="M1340.9 969.6L1410.1 882"/>
</g>
<g stroke="#1a1a1a" stroke-width="1.1" fill-opacity="0.6">
<circle cx="1324.3" cy="905.8" r="2.4" fill="#a04848"/>
<circle cx="1423.9" cy="875.6" r="2.4" fill="#c87060"/>
<circle cx="1346.1" cy="947.8" r="2.4" fill="#907060"/>
<circle cx="1437.6" cy="911.3" r="2.4" fill="#505078"/>
<circle cx="1323.3" cy="932" r="2.4" fill="#4a8a8a"/>
<circle cx="1410.1" cy="866.4" r="2.4" fill="#7a5a40"/>
<circle cx="1325.5" cy="858.5" r="2.4" fill="#b88050"/>
<circle cx="1429.2" cy="860" r="2.4" fill="#b09060"/>
<circle cx="1344.2" cy="978.2" r="2.4" fill="#a04848"/>
<circle cx="1432.7" cy="919.8" r="2.4" fill="#7a5a40"/>
<circle cx="1334.6" cy="948.2" r="2.4" fill="#a06050"/>
<circle cx="1413" cy="897.2" r="2.4" fill="#505078"/>
<circle cx="1338.5" cy="913.4" r="2.4" fill="#a06050"/>
<circle cx="1406.8" cy="901" r="2.4" fill="#6a8a60"/>
<circle cx="1322.2" cy="936.9" r="2.4" fill="#a07840"/>
<circle cx="1412.4" cy="844.3" r="2.4" fill="#984040"/>
<circle cx="1332.6" cy="902.8" r="2.4" fill="#c98a40"/>
<circle cx="1406" cy="843.3" r="2.4" fill="#786898"/>
<circle cx="1313.8" cy="794.8" r="2.4" fill="#d09070"/>
<circle cx="1423" cy="860.8" r="2.4" fill="#c87060"/>
<circle cx="1327.6" cy="961.2" r="2.4" fill="#786898"/>
<circle cx="1426.4" cy="900.3" r="2.4" fill="#505078"/>
<circle cx="1351.2" cy="1010.4" r="2.4" fill="#6a8a60"/>
<circle cx="1408.4" cy="865.1" r="2.4" fill="#a07840"/>
<circle cx="1336.4" cy="872.5" r="2.4" fill="#907060"/>
<circle cx="1405.7" cy="881.9" r="2.4" fill="#c98a40"/>
<circle cx="1321.3" cy="1082.7" r="2.4" fill="#5f8f5a"/>
<circle cx="1439.8" cy="906.2" r="2.4" fill="#3f7f5f"/>
<circle cx="1344.6" cy="951.2" r="2.4" fill="#c06858"/>
<circle cx="1420.7" cy="870.7" r="2.4" fill="#786898"/>
<circle cx="1331" cy="990.7" r="2.4" fill="#b88050"/>
<circle cx="1437.2" cy="925" r="2.4" fill="#4a8a8a"/>
<circle cx="1329.2" cy="844.9" r="2.4" fill="#6080a0"/>
<circle cx="1407.7" cy="916.9" r="2.4" fill="#a06050"/>
<circle cx="1339.4" cy="829.2" r="2.4" fill="#786898"/>
<circle cx="1415.6" cy="847.1" r="2.4" fill="#6a8a60"/>
<circle cx="1329.3" cy="829.8" r="2.4" fill="#a04848"/>
<circle cx="1408.8" cy="858.7" r="2.4" fill="#786898"/>
<circle cx="1316.8" cy="977.1" r="2.4" fill="#984040"/>
<circle cx="1419.3" cy="884.1" r="2.4" fill="#907060"/>
<circle cx="1339.1" cy="952" r="2.4" fill="#984040"/>
<circle cx="1441.3" cy="909.4" r="2.4" fill="#c98a40"/>
<circle cx="1338.1" cy="862.6" r="2.4" fill="#6a8a60"/>
<circle cx="1413.1" cy="887.4" r="2.4" fill="#907060"/>
<circle cx="1325.3" cy="891.4" r="2.4" fill="#b09060"/>
<circle cx="1433.3" cy="866.9" r="2.4" fill="#d09070"/>
<circle cx="1327.1" cy="945.7" r="2.4" fill="#786898"/>
<circle cx="1425.1" cy="915.8" r="2.4" fill="#b09060"/>
<circle cx="1331.6" cy="898.1" r="2.4" fill="#907060"/>
<circle cx="1428.7" cy="886" r="2.4" fill="#a06050"/>
<circle cx="1318.7" cy="948" r="2.4" fill="#4a8a8a"/>
<circle cx="1439.2" cy="872.5" r="2.4" fill="#4a8a8a"/>
<circle cx="1319.9" cy="983.9" r="2.4" fill="#7a5a40"/>
<circle cx="1431.8" cy="920.7" r="2.4" fill="#984040"/>
<circle cx="1317.3" cy="964.7" r="2.4" fill="#c98a40"/>
<circle cx="1428.7" cy="887.8" r="2.4" fill="#907060"/>
<circle cx="1324.7" cy="817.3" r="2.4" fill="#4a8a8a"/>
<circle cx="1419" cy="855.8" r="2.4" fill="#907060"/>
<circle cx="1321.7" cy="1002.5" r="2.4" fill="#6a8a60"/>
<circle cx="1409.8" cy="894" r="2.4" fill="#786898"/>
<circle cx="1339.2" cy="882.4" r="2.4" fill="#c06858"/>
<circle cx="1423" cy="856.3" r="2.4" fill="#907060"/>
<circle cx="1335.7" cy="995.9" r="2.4" fill="#5f8f5a"/>
<circle cx="1427.6" cy="899.2" r="2.4" fill="#c98a40"/>
<circle cx="1330.9" cy="897.6" r="2.4" fill="#a06050"/>
<circle cx="1412.9" cy="914.9" r="2.4" fill="#80a870"/>
<circle cx="1313.1" cy="900.1" r="2.4" fill="#6a8a60"/>
<circle cx="1411.7" cy="860.3" r="2.4" fill="#4a6a98"/>
<circle cx="1346.3" cy="933.3" r="2.4" fill="#6a8a60"/>
<circle cx="1431.4" cy="891.1" r="2.4" fill="#c87060"/>
<circle cx="1337.6" cy="844" r="2.4" fill="#4a6a98"/>
<circle cx="1416.4" cy="850.4" r="2.4" fill="#5f8f5a"/>
<circle cx="1330.5" cy="994" r="2.4" fill="#984040"/>
<circle cx="1430.6" cy="891.8" r="2.4" fill="#b09060"/>
<circle cx="1325.5" cy="1047.6" r="2.4" fill="#b88050"/>
<circle cx="1419" cy="889.4" r="2.4" fill="#4a6a98"/>
<circle cx="1329.7" cy="919.1" r="2.4" fill="#4a8a8a"/>
<circle cx="1408.2" cy="922.4" r="2.4" fill="#c06858"/>
<circle cx="1312.4" cy="890.3" r="2.4" fill="#907060"/>
<circle cx="1435" cy="854.7" r="2.4" fill="#984040"/>
<circle cx="1320" cy="867.2" r="2.4" fill="#5f8f5a"/>
<circle cx="1418.1" cy="878" r="2.4" fill="#b88050"/>
<circle cx="1346" cy="957.9" r="2.4" fill="#b88050"/>
<circle cx="1435.5" cy="864.8" r="2.4" fill="#b88050"/>
<circle cx="1326.5" cy="1001.2" r="2.4" fill="#6080a0"/>
<circle cx="1404.2" cy="896.8" r="2.4" fill="#4a8a8a"/>
<circle cx="1339.8" cy="1038.2" r="2.4" fill="#b88050"/>
<circle cx="1404" cy="958.1" r="2.4" fill="#c98a40"/>
<circle cx="1324.9" cy="951.7" r="2.4" fill="#b09060"/>
<circle cx="1419.2" cy="882.8" r="2.4" fill="#c87060"/>
<circle cx="1317.7" cy="1024.7" r="2.4" fill="#786898"/>
<circle cx="1432.1" cy="906.6" r="2.4" fill="#786898"/>
<circle cx="1347.2" cy="985.5" r="2.4" fill="#888878"/>
<circle cx="1438.3" cy="864.2" r="2.4" fill="#a04848"/>
<circle cx="1316.9" cy="793.9" r="2.4" fill="#b09060"/>
<circle cx="1416" cy="876.1" r="2.4" fill="#a04848"/>
<circle cx="1345" cy="874.7" r="2.4" fill="#80a870"/>
<circle cx="1433.2" cy="914.6" r="2.4" fill="#6080a0"/>
<circle cx="1323.6" cy="1047" r="2.4" fill="#786898"/>
<circle cx="1418.6" cy="923" r="2.4" fill="#4a8a8a"/>
<circle cx="1329.4" cy="920.7" r="2.4" fill="#d09070"/>
<circle cx="1423.1" cy="845.6" r="2.4" fill="#c87060"/>
<circle cx="1340" cy="864.9" r="2.4" fill="#6a8a60"/>
<circle cx="1440.1" cy="824.8" r="2.4" fill="#4a6a98"/>
<circle cx="1334" cy="1083.2" r="2.4" fill="#6080a0"/>
<circle cx="1434.4" cy="949.8" r="2.4" fill="#c87060"/>
<circle cx="1329.1" cy="959.6" r="2.4" fill="#7a5a40"/>
<circle cx="1436.2" cy="807.2" r="2.4" fill="#7a5a40"/>
<circle cx="1330.9" cy="845.8" r="2.4" fill="#6a8a60"/>
<circle cx="1426.1" cy="866.4" r="2.4" fill="#c98a40"/>
<circle cx="1331.7" cy="831.5" r="2.4" fill="#907060"/>
<circle cx="1402.7" cy="938.7" r="2.4" fill="#984040"/>
<circle cx="1311.8" cy="987" r="2.4" fill="#5f8f5a"/>
<circle cx="1421.7" cy="948.7" r="2.4" fill="#80a870"/>
<circle cx="1316" cy="941.8" r="2.4" fill="#b88050"/>
<circle cx="1412.3" cy="882.6" r="2.4" fill="#3f7f5f"/>
<circle cx="1326.2" cy="1024" r="2.4" fill="#b88050"/>
<circle cx="1406.9" cy="924.8" r="2.4" fill="#b88050"/>
<circle cx="1338.7" cy="974.5" r="2.4" fill="#888878"/>
<circle cx="1414.7" cy="924.6" r="2.4" fill="#b09060"/>
<circle cx="1323.9" cy="1055.8" r="2.4" fill="#888878"/>
<circle cx="1433" cy="908.5" r="2.4" fill="#3f7f5f"/>
<circle cx="1316.2" cy="1037.4" r="2.4" fill="#888878"/>
<circle cx="1421.6" cy="876.1" r="2.4" fill="#b09060"/>
<circle cx="1349.2" cy="975.8" r="2.4" fill="#5f8f5a"/>
<circle cx="1416" cy="888" r="2.4" fill="#6a8a60"/>
<circle cx="1346.5" cy="791.1" r="2.4" fill="#80a870"/>
<circle cx="1403.5" cy="836.5" r="2.4" fill="#5f8f5a"/>
<circle cx="1328.2" cy="1015.7" r="2.4" fill="#4a8a8a"/>
<circle cx="1436.6" cy="851.8" r="2.4" fill="#7a5a40"/>
<circle cx="1327.6" cy="1064.3" r="2.4" fill="#984040"/>
<circle cx="1423.9" cy="890.8" r="2.4" fill="#c87060"/>
<circle cx="1342.7" cy="887.2" r="2.4" fill="#b8604a"/>
<circle cx="1433.8" cy="894" r="2.4" fill="#d09070"/>
<circle cx="1335" cy="853.6" r="2.4" fill="#3f7f5f"/>
<circle cx="1401.5" cy="879.3" r="2.4" fill="#5f8f5a"/>
<circle cx="1330" cy="827.1" r="2.4" fill="#b8604a"/>
<circle cx="1425.3" cy="871.1" r="2.4" fill="#c87060"/>
<circle cx="1339.6" cy="896.2" r="2.4" fill="#505078"/>
<circle cx="1403.7" cy="867.2" r="2.4" fill="#b8604a"/>
<circle cx="1326.8" cy="918.6" r="2.4" fill="#a07840"/>
<circle cx="1427.9" cy="899" r="2.4" fill="#6a8a60"/>
<circle cx="1316.2" cy="835.1" r="2.4" fill="#a04848"/>
<circle cx="1409.4" cy="818.2" r="2.4" fill="#4a8a8a"/>
<circle cx="1322.7" cy="984.5" r="2.4" fill="#a07840"/>
<circle cx="1429.6" cy="898.5" r="2.4" fill="#786898"/>
<circle cx="1316.4" cy="895.2" r="2.4" fill="#984040"/>
<circle cx="1417.2" cy="890.2" r="2.4" fill="#b88050"/>
<circle cx="1346.9" cy="997.7" r="2.4" fill="#a04848"/>
<circle cx="1407.9" cy="938.1" r="2.4" fill="#907060"/>
<circle cx="1320.8" cy="890" r="2.4" fill="#3f7f5f"/>
<circle cx="1433.7" cy="916.9" r="2.4" fill="#3f7f5f"/>
<circle cx="1322.4" cy="871.7" r="2.4" fill="#4a8a8a"/>
<circle cx="1429.8" cy="849.3" r="2.4" fill="#b09060"/>
<circle cx="1321.7" cy="863.2" r="2.4" fill="#4a8a8a"/>
<circle cx="1422.9" cy="890.2" r="2.4" fill="#4a8a8a"/>
<circle cx="1337.2" cy="1084.2" r="2.4" fill="#c87060"/>
<circle cx="1418.4" cy="924.8" r="2.4" fill="#888878"/>
<circle cx="1316.4" cy="880.3" r="2.4" fill="#a06050"/>
<circle cx="1422" cy="864" r="2.4" fill="#888878"/>
<circle cx="1324.3" cy="1037.3" r="2.4" fill="#a06050"/>
<circle cx="1416.7" cy="913.4" r="2.4" fill="#c87060"/>
<circle cx="1337.8" cy="949.6" r="2.4" fill="#b09060"/>
<circle cx="1440.6" cy="870.9" r="2.4" fill="#b88050"/>
<circle cx="1349" cy="875.8" r="2.4" fill="#a06050"/>
<circle cx="1423.2" cy="874.3" r="2.4" fill="#6080a0"/>
<circle cx="1346.2" cy="968.6" r="2.4" fill="#6a8a60"/>
<circle cx="1402.5" cy="895.2" r="2.4" fill="#4a6a98"/>
<circle cx="1350.4" cy="953" r="2.4" fill="#907060"/>
<circle cx="1441.1" cy="885.8" r="2.4" fill="#c98a40"/>
<circle cx="1316" cy="953.8" r="2.4" fill="#a04848"/>
<circle cx="1407.3" cy="926.7" r="2.4" fill="#7a5a40"/>
<circle cx="1347.6" cy="891.3" r="2.4" fill="#b88050"/>
<circle cx="1423.2" cy="881.6" r="2.4" fill="#c87060"/>
<circle cx="1341.4" cy="918" r="2.4" fill="#3f7f5f"/>
<circle cx="1405.6" cy="816.8" r="2.4" fill="#d09070"/>
<circle cx="1331.5" cy="962.7" r="2.4" fill="#4a8a8a"/>
<circle cx="1419.9" cy="914.2" r="2.4" fill="#6a8a60"/>
<circle cx="1339.6" cy="967.8" r="2.4" fill="#786898"/>
<circle cx="1403.7" cy="882.8" r="2.4" fill="#888878"/>
<circle cx="1322.4" cy="993" r="2.4" fill="#505078"/>
<circle cx="1432.4" cy="824.6" r="2.4" fill="#6080a0"/>
<circle cx="1321.8" cy="852.6" r="2.4" fill="#6080a0"/>
<circle cx="1426" cy="884.2" r="2.4" fill="#80a870"/>
<circle cx="1313.3" cy="1000.2" r="2.4" fill="#a04848"/>
<circle cx="1418.2" cy="901.6" r="2.4" fill="#a04848"/>
<circle cx="1319.2" cy="1006.9" r="2.4" fill="#907060"/>
<circle cx="1437" cy="912.5" r="2.4" fill="#80a870"/>
<circle cx="1338.9" cy="1007.3" r="2.4" fill="#a04848"/>
<circle cx="1405.7" cy="893" r="2.4" fill="#b88050"/>
<circle cx="1320.7" cy="899.7" r="2.4" fill="#984040"/>
<circle cx="1413.8" cy="860.1" r="2.4" fill="#80a870"/>
<circle cx="1339.2" cy="983" r="2.4" fill="#a06050"/>
<circle cx="1429.6" cy="872.6" r="2.4" fill="#4a8a8a"/>
<circle cx="1313.9" cy="945.2" r="2.4" fill="#d09070"/>
<circle cx="1439.5" cy="906" r="2.4" fill="#5f8f5a"/>
<circle cx="1319.9" cy="994" r="2.4" fill="#7a5a40"/>
<circle cx="1440.4" cy="873.2" r="2.4" fill="#c87060"/>
<circle cx="1314.6" cy="917.2" r="2.4" fill="#786898"/>
<circle cx="1406.2" cy="867.5" r="2.4" fill="#7a5a40"/>
<circle cx="1336.2" cy="815.4" r="2.4" fill="#6080a0"/>
<circle cx="1430.4" cy="855.3" r="2.4" fill="#984040"/>
<circle cx="1351.2" cy="815" r="2.4" fill="#a04848"/>
<circle cx="1406.9" cy="825.2" r="2.4" fill="#d09070"/>
<circle cx="1325.7" cy="888.3" r="2.4" fill="#4a6a98"/>
<circle cx="1418.8" cy="857.2" r="2.4" fill="#4a6a98"/>
<circle cx="1349.1" cy="967.6" r="2.4" fill="#984040"/>
<circle cx="1420" cy="842.4" r="2.4" fill="#c87060"/>
<circle cx="1345.9" cy="981.9" r="2.4" fill="#c87060"/>
<circle cx="1439.5" cy="901" r="2.4" fill="#a06050"/>
<circle cx="1339.9" cy="901.3" r="2.4" fill="#984040"/>
<circle cx="1436.8" cy="887.4" r="2.4" fill="#6a8a60"/>
<circle cx="1334.1" cy="936.3" r="2.4" fill="#7a5a40"/>
<circle cx="1433.8" cy="884.1" r="2.4" fill="#a06050"/>
<circle cx="1323" cy="890.2" r="2.4" fill="#907060"/>
<circle cx="1429" cy="831.9" r="2.4" fill="#3f7f5f"/>
<circle cx="1318.5" cy="975.4" r="2.4" fill="#4a6a98"/>
<circle cx="1431.2" cy="915.1" r="2.4" fill="#6a8a60"/>
<circle cx="1345.8" cy="872.5" r="2.4" fill="#6080a0"/>
<circle cx="1434.3" cy="915.4" r="2.4" fill="#5f8f5a"/>
<circle cx="1327.2" cy="873.3" r="2.4" fill="#786898"/>
<circle cx="1421.2" cy="819" r="2.4" fill="#907060"/>
<circle cx="1314" cy="1057.5" r="2.4" fill="#6080a0"/>
<circle cx="1415.4" cy="947.7" r="2.4" fill="#907060"/>
<circle cx="1332.4" cy="990.6" r="2.4" fill="#b8604a"/>
<circle cx="1407.9" cy="884.3" r="2.4" fill="#907060"/>
<circle cx="1330" cy="954.1" r="2.4" fill="#4a8a8a"/>
<circle cx="1441.2" cy="870.7" r="2.4" fill="#7a5a40"/>
<circle cx="1320.5" cy="1051" r="2.4" fill="#a04848"/>
<circle cx="1405.2" cy="854.3" r="2.4" fill="#a04848"/>
<circle cx="1334.6" cy="892.2" r="2.4" fill="#5f8f5a"/>
<circle cx="1420.7" cy="859.8" r="2.4" fill="#3f7f5f"/>
<circle cx="1343.6" cy="845.4" r="2.4" fill="#80a870"/>
<circle cx="1436.4" cy="870.3" r="2.4" fill="#4a8a8a"/>
<circle cx="1340.6" cy="974.3" r="2.4" fill="#5f8f5a"/>
<circle cx="1440.1" cy="867.6" r="2.4" fill="#80a870"/>
<circle cx="1343.5" cy="885.3" r="2.4" fill="#c06858"/>
<circle cx="1421.3" cy="854.4" r="2.4" fill="#80a870"/>
<circle cx="1351.1" cy="964.4" r="2.4" fill="#b09060"/>
<circle cx="1435.6" cy="857.3" r="2.4" fill="#b09060"/>
<circle cx="1331.8" cy="898" r="2.4" fill="#a04848"/>
<circle cx="1424.4" cy="865.6" r="2.4" fill="#6a8a60"/>
<circle cx="1332.5" cy="1047.3" r="2.4" fill="#6a8a60"/>
<circle cx="1427.5" cy="862.9" r="2.4" fill="#7a5a40"/>
<circle cx="1341.9" cy="1081.8" r="2.4" fill="#888878"/>
<circle cx="1401.5" cy="899.8" r="2.4" fill="#888878"/>
<circle cx="1334.5" cy="960.2" r="2.4" fill="#984040"/>
<circle cx="1423.6" cy="872.2" r="2.4" fill="#b88050"/>
<circle cx="1316.7" cy="898.7" r="2.4" fill="#6080a0"/>
<circle cx="1427.6" cy="817.8" r="2.4" fill="#888878"/>
<circle cx="1341" cy="953.3" r="2.4" fill="#6a8a60"/>
<circle cx="1405.9" cy="930.5" r="2.4" fill="#888878"/>
<circle cx="1321" cy="970.8" r="2.4" fill="#c98a40"/>
<circle cx="1418.9" cy="851" r="2.4" fill="#6a8a60"/>
<circle cx="1341.9" cy="965.1" r="2.4" fill="#7a5a40"/>
<circle cx="1428.6" cy="900.2" r="2.4" fill="#a04848"/>
<circle cx="1334.9" cy="858.7" r="2.4" fill="#d09070"/>
<circle cx="1407" cy="905.4" r="2.4" fill="#b09060"/>
<circle cx="1335" cy="942.7" r="2.4" fill="#888878"/>
<circle cx="1439.5" cy="859.6" r="2.4" fill="#a04848"/>
<circle cx="1333.4" cy="910" r="2.4" fill="#984040"/>
<circle cx="1403.3" cy="892.1" r="2.4" fill="#786898"/>
<circle cx="1313.2" cy="901.3" r="2.4" fill="#6080a0"/>
<circle cx="1412.5" cy="840.6" r="2.4" fill="#907060"/>
<circle cx="1340.9" cy="969.6" r="2.4" fill="#888878"/>
<circle cx="1410.1" cy="882" r="2.4" fill="#b88050"/>
</g>
<line x1="1277" y1="1182" x2="1475" y2="1182" stroke="#222" stroke-width="1.3"/>
<line x1="1331.4" y1="1182" x2="1331.4" y2="1186" stroke="#333" stroke-width="1.1"/>
<text x="1331.4" y="1203.6" font-size="22.2" text-anchor="middle" fill="#4d4d4d" stroke="#4d4d4d" stroke-width="0.3">Plasma</text>
<line x1="1421.4" y1="1182" x2="1421.4" y2="1186" stroke="#333" stroke-width="1.1"/>
<text x="1421.4" y="1203.6" font-size="22.2" text-anchor="middle" fill="#4d4d4d" stroke="#4d4d4d" stroke-width="0.3">Tissue</text>
<polyline points="1331.4,764.3 1331.4,754.4 1421.4,754.4 1421.4,764.3" fill="none" stroke="#333" stroke-width="1.1"/>
<text x="1376.4" y="750" font-size="12.3" text-anchor="middle" stroke="#000" stroke-width="0.3">1.8e−08</text>
<text x="1331.4" y="772.8" font-size="11.3" text-anchor="middle" stroke="#000" stroke-width="0.3">Median CCF =</text>
<text x="1331.4" y="783.2" font-size="11.3" text-anchor="middle" stroke="#000" stroke-width="0.3">6.58%</text>
<text x="1421.4" y="772.8" font-size="11.3" text-anchor="middle" stroke="#000" stroke-width="0.3">Median CCF =</text>
<text x="1421.4" y="783.2" font-size="11.3" text-anchor="middle" stroke="#000" stroke-width="0.3">13.5%</text>
<rect x="1482.3" y="713.7" width="198" height="19.3" fill="#fff" stroke="#222" stroke-width="1.3"/>
<text x="1581.3" y="727.8" font-size="11.3" text-anchor="middle" stroke="#000" stroke-width="0.3">&gt; 100 cm^3</text>
<line x1="1536" y1="830.7" x2="1536" y2="925" stroke="#222" stroke-width="1.3"/>
<line x1="1536" y1="1036.4" x2="1536" y2="1161.6" stroke="#222" stroke-width="1.3"/>
<rect x="1502" y="925" width="68.1" height="111.4" fill="none" stroke="#222" stroke-width="1.3"/>
<line x1="1502" y1="985.9" x2="1570.1" y2="985.9" stroke="#222" stroke-width="2.4699999999999998"/>
<line x1="1626.8" y1="815.7" x2="1626.8" y2="881.7" stroke="#222" stroke-width="1.3"/>
<line x1="1626.8" y1="937.9" x2="1626.8" y2="987.1" stroke="#222" stroke-width="1.3"/>
<rect x="1592.9" y="881.7" width="67.7" height="56.2" fill="none" stroke="#222" stroke-width="1.3"/>
<line x1="1592.9" y1="916.9" x2="1660.6" y2="916.9" stroke="#222" stroke-width="2.4699999999999998"/>
<g stroke="#303030" stroke-opacity="0.3" stroke-width="1.2">
<path d="M1524.8 1023.4L1615.9 948.4"/>
<path d="M1542.7 1003.8L1612.4 888.7"/>
<path d="M1542 1043.9L1634.4 916.5"/>
<path d="M1520.8 1070.6L1639.8 916.2"/>
<path d="M1536.3 952.1L1613 904.9"/>
<path d="M1520.6 874.7L1623.7 915.9"/>
<path d="M1516.4 1037.4L1623.8 884.4"/>
<path d="M1519 986.7L1634.4 910.8"/>
<path d="M1549.9 1017.7L1645.4 887.5"/>
<path d="M1522.1 980.1L1630.7 908.6"/>
<path d="M1529.6 1044L1615.9 925"/>
<path d="M1538.7 1011.1L1636.4 886.6"/>
<path d="M1526.4 898.9L1612.1 904.8"/>
<path d="M1517.9 964L1613.8 928.7"/>
<path d="M1523.2 880.1L1614.6 914.9"/>
<path d="M1553 1007.9L1633.5 895.9"/>
<path d="M1522.7 911.9L1633.2 893.7"/>
<path d="M1518.8 982.7L1610.6 919.9"/>
<path d="M1524.1 1003.3L1621.2 873.7"/>
<path d="M1537.9 1052.9L1608.9 978.2"/>
<path d="M1528.4 956.5L1614.2 942.7"/>
<path d="M1526.4 1005.5L1624.4 869.5"/>
<path d="M1530 944L1645.3 938.8"/>
<path d="M1550 997.7L1637.3 861.5"/>
<path d="M1530.5 1024.5L1645.9 883.4"/>
<path d="M1524.9 1069.4L1617 941"/>
<path d="M1551.8 1060.3L1628.1 951"/>
<path d="M1531.1 893L1622.9 831.5"/>
<path d="M1521.6 901.9L1611.5 911.2"/>
<path d="M1521.5 1105.6L1619.8 914.3"/>
<path d="M1539.5 985.6L1637.3 946.8"/>
<path d="M1550.5 1018.3L1620.3 960.2"/>
<path d="M1540.1 916.7L1641 892.7"/>
<path d="M1532.3 960.1L1622.4 928.2"/>
<path d="M1521.1 970.3L1642.8 933.1"/>
<path d="M1555.4 1129.7L1628.6 905.2"/>
<path d="M1533.2 1011.3L1613.4 957.5"/>
<path d="M1531.8 940L1613.4 902.3"/>
<path d="M1556 1007L1613.2 916.2"/>
<path d="M1521.1 960.3L1628.4 938.5"/>
<path d="M1539.4 985.9L1638.2 924.3"/>
<path d="M1527.5 1101.4L1639 946.4"/>
<path d="M1541.5 964.4L1629.8 919.5"/>
<path d="M1529.4 1056.5L1625.2 960.7"/>
<path d="M1523 977.3L1612.8 935"/>
<path d="M1527.6 1080.1L1609 921.4"/>
<path d="M1524.4 1044.5L1646 919.6"/>
<path d="M1524.6 1017.7L1628.8 896.4"/>
<path d="M1544.9 1017.3L1632.4 895.1"/>
<path d="M1520.9 960.9L1644.2 904.9"/>
<path d="M1540.3 952.6L1609.6 913.9"/>
<path d="M1522.4 965.6L1634.4 932.8"/>
<path d="M1523.4 968.6L1636.5 921.8"/>
<path d="M1550.4 1115.1L1623.7 942"/>
<path d="M1553.6 1018.2L1638.5 910.4"/>
<path d="M1545.7 1107.2L1629.8 971.1"/>
<path d="M1532.2 921.9L1617.6 941"/>
<path d="M1525.3 952.3L1628.5 900.7"/>
<path d="M1536 946.2L1630.2 912.3"/>
<path d="M1539.3 912.2L1606.8 890"/>
<path d="M1551.8 948.3L1644.7 945"/>
<path d="M1544.4 963.4L1630.2 918.3"/>
<path d="M1543.9 969L1644 904"/>
<path d="M1535.6 912.1L1632 860.9"/>
<path d="M1548 991.1L1615 930.3"/>
<path d="M1554.6 924.2L1607.6 865.4"/>
<path d="M1523 948.3L1608.8 933.9"/>
<path d="M1531 987.6L1633.6 898.7"/>
<path d="M1538.8 1059.6L1611.2 925.9"/>
<path d="M1534.5 960.9L1633.5 926"/>
<path d="M1520 1051.4L1613.3 964.7"/>
<path d="M1520.9 928.9L1609.7 931.9"/>
<path d="M1556.1 893L1622.6 919.5"/>
<path d="M1549.9 995.7L1612.7 932.9"/>
<path d="M1531.7 925.3L1630.7 879.9"/>
<path d="M1552 1023.1L1641 915"/>
<path d="M1544.3 969.5L1644.5 901.8"/>
<path d="M1538.4 960.9L1632 905.3"/>
<path d="M1553.3 905.8L1620.9 915.2"/>
<path d="M1553.5 995.2L1619.3 957.7"/>
<path d="M1533.6 906.8L1637.8 913.5"/>
<path d="M1542.8 1028.3L1641.2 927.8"/>
<path d="M1537 977.9L1634.9 900.4"/>
<path d="M1524.3 1052.2L1640 905.6"/>
<path d="M1516.9 1056.7L1620.8 944.5"/>
<path d="M1527.2 895.2L1636.1 842.6"/>
<path d="M1543.3 1056.6L1628.6 946.3"/>
<path d="M1548.6 932.9L1640 868.6"/>
<path d="M1543.8 942.8L1619 902.5"/>
<path d="M1539.9 1065.9L1636.5 963.8"/>
<path d="M1541.3 929.3L1633.6 870"/>
<path d="M1551.7 1003.5L1620.8 923.4"/>
<path d="M1532.2 947.1L1641.2 931.7"/>
<path d="M1551.5 965.6L1642.9 898.1"/>
<path d="M1516.6 1015.7L1618.3 932"/>
<path d="M1537.3 953.5L1635.4 921.9"/>
<path d="M1544.3 894.5L1612.8 914.2"/>
<path d="M1533.4 839.7L1627 887"/>
<path d="M1527.6 989L1633 905.6"/>
<path d="M1529.4 942.6L1606.5 933.1"/>
<path d="M1542 913.3L1611.9 882.5"/>
<path d="M1527.2 994.7L1613.4 864.2"/>
<path d="M1527.6 906.7L1629.1 935.3"/>
<path d="M1524.9 989.1L1640.1 927.9"/>
<path d="M1521 1026.3L1621.2 928.2"/>
<path d="M1525.8 923.2L1611.8 918"/>
<path d="M1549.9 965L1616.1 927.3"/>
<path d="M1546 971.6L1629.8 935.3"/>
<path d="M1556.3 856.4L1627.4 914.4"/>
<path d="M1520.6 1054.9L1619.5 917.7"/>
<path d="M1524.6 1089.6L1643.7 907.2"/>
<path d="M1551.9 1049.7L1637.7 953.4"/>
<path d="M1543.3 983.6L1613.7 879.8"/>
<path d="M1530.1 1041.6L1619.8 926.7"/>
<path d="M1540.8 1063.6L1644.1 947.4"/>
<path d="M1549 936.8L1616.3 880.6"/>
<path d="M1551.2 1046.5L1645.4 948"/>
<path d="M1519.1 1106L1641.9 942.7"/>
<path d="M1550.7 981.3L1621.8 930.2"/>
<path d="M1520 928.5L1621.8 876.8"/>
<path d="M1525 955.6L1634.1 923.7"/>
<path d="M1555.9 995.3L1646.2 933"/>
<path d="M1553.5 930.5L1614.8 881.6"/>
<path d="M1549.5 869.9L1644.3 849.1"/>
<path d="M1526.2 954.5L1615.9 930.1"/>
<path d="M1544.5 1001.1L1643.9 944.5"/>
<path d="M1555.7 953.6L1638 893.1"/>
<path d="M1521.5 989.6L1621.3 956.1"/>
<path d="M1524.7 1036.7L1628.6 915.2"/>
<path d="M1516.9 944.5L1633.8 953"/>
</g>
<g stroke="#1a1a1a" stroke-width="1.1" fill-opacity="0.6">
<circle cx="1524.8" cy="1023.4" r="2.4" fill="#3f7f5f"/>
<circle cx="1615.9" cy="948.4" r="2.4" fill="#d09070"/>
<circle cx="1542.7" cy="1003.8" r="2.4" fill="#a07840"/>
<circle cx="1612.4" cy="888.7" r="2.4" fill="#984040"/>
<circle cx="1542" cy="1043.9" r="2.4" fill="#c87060"/>
<circle cx="1634.4" cy="916.5" r="2.4" fill="#5f8f5a"/>
<circle cx="1520.8" cy="1070.6" r="2.4" fill="#4a8a8a"/>
<circle cx="1639.8" cy="916.2" r="2.4" fill="#d09070"/>
<circle cx="1536.3" cy="952.1" r="2.4" fill="#a04848"/>
<circle cx="1613" cy="904.9" r="2.4" fill="#80a870"/>
<circle cx="1520.6" cy="874.7" r="2.4" fill="#b8604a"/>
<circle cx="1623.7" cy="915.9" r="2.4" fill="#4a6a98"/>
<circle cx="1516.4" cy="1037.4" r="2.4" fill="#c06858"/>
<circle cx="1623.8" cy="884.4" r="2.4" fill="#6080a0"/>
<circle cx="1519" cy="986.7" r="2.4" fill="#7a5a40"/>
<circle cx="1634.4" cy="910.8" r="2.4" fill="#7a5a40"/>
<circle cx="1549.9" cy="1017.7" r="2.4" fill="#a04848"/>
<circle cx="1645.4" cy="887.5" r="2.4" fill="#6080a0"/>
<circle cx="1522.1" cy="980.1" r="2.4" fill="#d09070"/>
<circle cx="1630.7" cy="908.6" r="2.4" fill="#a06050"/>
<circle cx="1529.6" cy="1044" r="2.4" fill="#b88050"/>
<circle cx="1615.9" cy="925" r="2.4" fill="#c06858"/>
<circle cx="1538.7" cy="1011.1" r="2.4" fill="#907060"/>
<circle cx="1636.4" cy="886.6" r="2.4" fill="#6a8a60"/>
<circle cx="1526.4" cy="898.9" r="2.4" fill="#80a870"/>
<circle cx="1612.1" cy="904.8" r="2.4" fill="#984040"/>
<circle cx="1517.9" cy="964" r="2.4" fill="#c87060"/>
<circle cx="1613.8" cy="928.7" r="2.4" fill="#d09070"/>
<circle cx="1523.2" cy="880.1" r="2.4" fill="#907060"/>
<circle cx="1614.6" cy="914.9" r="2.4" fill="#907060"/>
<circle cx="1553" cy="1007.9" r="2.4" fill="#4a8a8a"/>
<circle cx="1633.5" cy="895.9" r="2.4" fill="#505078"/>
<circle cx="1522.7" cy="911.9" r="2.4" fill="#7a5a40"/>
<circle cx="1633.2" cy="893.7" r="2.4" fill="#907060"/>
<circle cx="1518.8" cy="982.7" r="2.4" fill="#3f7f5f"/>
<circle cx="1610.6" cy="919.9" r="2.4" fill="#a04848"/>
<circle cx="1524.1" cy="1003.3" r="2.4" fill="#b8604a"/>
<circle cx="1621.2" cy="873.7" r="2.4" fill="#984040"/>
<circle cx="1537.9" cy="1052.9" r="2.4" fill="#4a6a98"/>
<circle cx="1608.9" cy="978.2" r="2.4" fill="#b09060"/>
<circle cx="1528.4" cy="956.5" r="2.4" fill="#4a8a8a"/>
<circle cx="1614.2" cy="942.7" r="2.4" fill="#984040"/>
<circle cx="1526.4" cy="1005.5" r="2.4" fill="#907060"/>
<circle cx="1624.4" cy="869.5" r="2.4" fill="#984040"/>
<circle cx="1530" cy="944" r="2.4" fill="#b8604a"/>
<circle cx="1645.3" cy="938.8" r="2.4" fill="#4a8a8a"/>
<circle cx="1550" cy="997.7" r="2.4" fill="#b09060"/>
<circle cx="1637.3" cy="861.5" r="2.4" fill="#5f8f5a"/>
<circle cx="1530.5" cy="1024.5" r="2.4" fill="#4a6a98"/>
<circle cx="1645.9" cy="883.4" r="2.4" fill="#a04848"/>
<circle cx="1524.9" cy="1069.4" r="2.4" fill="#5f8f5a"/>
<circle cx="1617" cy="941" r="2.4" fill="#b88050"/>
<circle cx="1551.8" cy="1060.3" r="2.4" fill="#505078"/>
<circle cx="1628.1" cy="951" r="2.4" fill="#c06858"/>
<circle cx="1531.1" cy="893" r="2.4" fill="#a07840"/>
<circle cx="1622.9" cy="831.5" r="2.4" fill="#c87060"/>
<circle cx="1521.6" cy="901.9" r="2.4" fill="#c87060"/>
<circle cx="1611.5" cy="911.2" r="2.4" fill="#984040"/>
<circle cx="1521.5" cy="1105.6" r="2.4" fill="#4a8a8a"/>
<circle cx="1619.8" cy="914.3" r="2.4" fill="#3f7f5f"/>
<circle cx="1539.5" cy="985.6" r="2.4" fill="#3f7f5f"/>
<circle cx="1637.3" cy="946.8" r="2.4" fill="#c87060"/>
<circle cx="1550.5" cy="1018.3" r="2.4" fill="#a07840"/>
<circle cx="1620.3" cy="960.2" r="2.4" fill="#6a8a60"/>
<circle cx="1540.1" cy="916.7" r="2.4" fill="#a07840"/>
<circle cx="1641" cy="892.7" r="2.4" fill="#a07840"/>
<circle cx="1532.3" cy="960.1" r="2.4" fill="#888878"/>
<circle cx="1622.4" cy="928.2" r="2.4" fill="#505078"/>
<circle cx="1521.1" cy="970.3" r="2.4" fill="#984040"/>
<circle cx="1642.8" cy="933.1" r="2.4" fill="#3f7f5f"/>
<circle cx="1555.4" cy="1129.7" r="2.4" fill="#b8604a"/>
<circle cx="1628.6" cy="905.2" r="2.4" fill="#4a6a98"/>
<circle cx="1533.2" cy="1011.3" r="2.4" fill="#a07840"/>
<circle cx="1613.4" cy="957.5" r="2.4" fill="#505078"/>
<circle cx="1531.8" cy="940" r="2.4" fill="#907060"/>
<circle cx="1613.4" cy="902.3" r="2.4" fill="#5f8f5a"/>
<circle cx="1556" cy="1007" r="2.4" fill="#a07840"/>
<circle cx="1613.2" cy="916.2" r="2.4" fill="#3f7f5f"/>
<circle cx="1521.1" cy="960.3" r="2.4" fill="#6080a0"/>
<circle cx="1628.4" cy="938.5" r="2.4" fill="#3f7f5f"/>
<circle cx="1539.4" cy="985.9" r="2.4" fill="#6a8a60"/>
<circle cx="1638.2" cy="924.3" r="2.4" fill="#4a6a98"/>
<circle cx="1527.5" cy="1101.4" r="2.4" fill="#a06050"/>
<circle cx="1639" cy="946.4" r="2.4" fill="#888878"/>
<circle cx="1541.5" cy="964.4" r="2.4" fill="#786898"/>
<circle cx="1629.8" cy="919.5" r="2.4" fill="#5f8f5a"/>
<circle cx="1529.4" cy="1056.5" r="2.4" fill="#7a5a40"/>
<circle cx="1625.2" cy="960.7" r="2.4" fill="#b09060"/>
<circle cx="1523" cy="977.3" r="2.4" fill="#c87060"/>
<circle cx="1612.8" cy="935" r="2.4" fill="#b88050"/>
<circle cx="1527.6" cy="1080.1" r="2.4" fill="#c87060"/>
<circle cx="1609" cy="921.4" r="2.4" fill="#a06050"/>
<circle cx="1524.4" cy="1044.5" r="2.4" fill="#b88050"/>
<circle cx="1646" cy="919.6" r="2.4" fill="#a07840"/>
<circle cx="1524.6" cy="1017.7" r="2.4" fill="#c06858"/>
<circle cx="1628.8" cy="896.4" r="2.4" fill="#6a8a60"/>
<circle cx="1544.9" cy="1017.3" r="2.4" fill="#786898"/>
<circle cx="1632.4" cy="895.1" r="2.4" fill="#a07840"/>
<circle cx="1520.9" cy="960.9" r="2.4" fill="#80a870"/>
<circle cx="1644.2" cy="904.9" r="2.4" fill="#505078"/>
<circle cx="1540.3" cy="952.6" r="2.4" fill="#984040"/>
<circle cx="1609.6" cy="913.9" r="2.4" fill="#4a8a8a"/>
<circle cx="1522.4" cy="965.6" r="2.4" fill="#a06050"/>
<circle cx="1634.4" cy="932.8" r="2.4" fill="#888878"/>
<circle cx="1523.4" cy="968.6" r="2.4" fill="#4a6a98"/>
<circle cx="1636.5" cy="921.8" r="2.4" fill="#6a8a60"/>
<circle cx="1550.4" cy="1115.1" r="2.4" fill="#4a6a98"/>
<circle cx="1623.7" cy="942" r="2.4" fill="#b88050"/>
<circle cx="1553.6" cy="1018.2" r="2.4" fill="#a04848"/>
<circle cx="1638.5" cy="910.4" r="2.4" fill="#786898"/>
<circle cx="1545.7" cy="1107.2" r="2.4" fill="#80a870"/>
<circle cx="1629.8" cy="971.1" r="2.4" fill="#a06050"/>
<circle cx="1532.2" cy="921.9" r="2.4" fill="#888878"/>
<circle cx="1617.6" cy="941" r="2.4" fill="#c98a40"/>
<circle cx="1525.3" cy="952.3" r="2.4" fill="#984040"/>
<circle cx="1628.5" cy="900.7" r="2.4" fill="#3f7f5f"/>
<circle cx="1536" cy="946.2" r="2.4" fill="#b8604a"/>
<circle cx="1630.2" cy="912.3" r="2.4" fill="#907060"/>
<circle cx="1539.3" cy="912.2" r="2.4" fill="#a04848"/>
<circle cx="1606.8" cy="890" r="2.4" fill="#6a8a60"/>
<circle cx="1551.8" cy="948.3" r="2.4" fill="#a06050"/>
<circle cx="1644.7" cy="945" r="2.4" fill="#80a870"/>
<circle cx="1544.4" cy="963.4" r="2.4" fill="#b09060"/>
<circle cx="1630.2" cy="918.3" r="2.4" fill="#3f7f5f"/>
<circle cx="1543.9" cy="969" r="2.4" fill="#7a5a40"/>
<circle cx="1644" cy="904" r="2.4" fill="#d09070"/>
<circle cx="1535.6" cy="912.1" r="2.4" fill="#5f8f5a"/>
<circle cx="1632" cy="860.9" r="2.4" fill="#7a5a40"/>
<circle cx="1548" cy="991.1" r="2.4" fill="#a04848"/>
<circle cx="1615" cy="930.3" r="2.4" fill="#b8604a"/>
<circle cx="1554.6" cy="924.2" r="2.4" fill="#6a8a60"/>
<circle cx="1607.6" cy="865.4" r="2.4" fill="#5f8f5a"/>
<circle cx="1523" cy="948.3" r="2.4" fill="#80a870"/>
<circle cx="1608.8" cy="933.9" r="2.4" fill="#505078"/>
<circle cx="1531" cy="987.6" r="2.4" fill="#888878"/>
<circle cx="1633.6" cy="898.7" r="2.4" fill="#c06858"/>
<circle cx="1538.8" cy="1059.6" r="2.4" fill="#c98a40"/>
<circle cx="1611.2" cy="925.9" r="2.4" fill="#7a5a40"/>
<circle cx="1534.5" cy="960.9" r="2.4" fill="#c06858"/>
<circle cx="1633.5" cy="926" r="2.4" fill="#7a5a40"/>
<circle cx="1520" cy="1051.4" r="2.4" fill="#b09060"/>
<circle cx="1613.3" cy="964.7" r="2.4" fill="#4a6a98"/>
<circle cx="1520.9" cy="928.9" r="2.4" fill="#b09060"/>
<circle cx="1609.7" cy="931.9" r="2.4" fill="#d09070"/>
<circle cx="1556.1" cy="893" r="2.4" fill="#6080a0"/>
<circle cx="1622.6" cy="919.5" r="2.4" fill="#3f7f5f"/>
<circle cx="1549.9" cy="995.7" r="2.4" fill="#80a870"/>
<circle cx="1612.7" cy="932.9" r="2.4" fill="#984040"/>
<circle cx="1531.7" cy="925.3" r="2.4" fill="#a04848"/>
<circle cx="1630.7" cy="879.9" r="2.4" fill="#a07840"/>
<circle cx="1552" cy="1023.1" r="2.4" fill="#b88050"/>
<circle cx="1641" cy="915" r="2.4" fill="#5f8f5a"/>
<circle cx="1544.3" cy="969.5" r="2.4" fill="#6080a0"/>
<circle cx="1644.5" cy="901.8" r="2.4" fill="#4a6a98"/>
<circle cx="1538.4" cy="960.9" r="2.4" fill="#c06858"/>
<circle cx="1632" cy="905.3" r="2.4" fill="#c87060"/>
<circle cx="1553.3" cy="905.8" r="2.4" fill="#4a6a98"/>
<circle cx="1620.9" cy="915.2" r="2.4" fill="#888878"/>
<circle cx="1553.5" cy="995.2" r="2.4" fill="#4a6a98"/>
<circle cx="1619.3" cy="957.7" r="2.4" fill="#4a8a8a"/>
<circle cx="1533.6" cy="906.8" r="2.4" fill="#c98a40"/>
<circle cx="1637.8" cy="913.5" r="2.4" fill="#3f7f5f"/>
<circle cx="1542.8" cy="1028.3" r="2.4" fill="#6a8a60"/>
<circle cx="1641.2" cy="927.8" r="2.4" fill="#907060"/>
<circle cx="1537" cy="977.9" r="2.4" fill="#b09060"/>
<circle cx="1634.9" cy="900.4" r="2.4" fill="#a04848"/>
<circle cx="1524.3" cy="1052.2" r="2.4" fill="#907060"/>
<circle cx="1640" cy="905.6" r="2.4" fill="#c87060"/>
<circle cx="1516.9" cy="1056.7" r="2.4" fill="#6a8a60"/>
<circle cx="1620.8" cy="944.5" r="2.4" fill="#786898"/>
<circle cx="1527.2" cy="895.2" r="2.4" fill="#4a6a98"/>
<circle cx="1636.1" cy="842.6" r="2.4" fill="#c98a40"/>
<circle cx="1543.3" cy="1056.6" r="2.4" fill="#c87060"/>
<circle cx="1628.6" cy="946.3" r="2.4" fill="#907060"/>
<circle cx="1548.6" cy="932.9" r="2.4" fill="#505078"/>
<circle cx="1640" cy="868.6" r="2.4" fill="#6a8a60"/>
<circle cx="1543.8" cy="942.8" r="2.4" fill="#a07840"/>
<circle cx="1619" cy="902.5" r="2.4" fill="#786898"/>
<circle cx="1539.9" cy="1065.9" r="2.4" fill="#984040"/>
<circle cx="1636.5" cy="963.8" r="2.4" fill="#4a6a98"/>
<circle cx="1541.3" cy="929.3" r="2.4" fill="#a06050"/>
<circle cx="1633.6" cy="870" r="2.4" fill="#80a870"/>
<circle cx="1551.7" cy="1003.5" r="2.4" fill="#d09070"/>
<circle cx="1620.8" cy="923.4" r="2.4" fill="#6a8a60"/>
<circle cx="1532.2" cy="947.1" r="2.4" fill="#80a870"/>
<circle cx="1641.2" cy="931.7" r="2.4" fill="#4a6a98"/>
<circle cx="1551.5" cy="965.6" r="2.4" fill="#4a6a98"/>
<circle cx="1642.9" cy="898.1" r="2.4" fill="#a04848"/>
<circle cx="1516.6" cy="1015.7" r="2.4" fill="#c06858"/>
<circle cx="1618.3" cy="932" r="2.4" fill="#3f7f5f"/>
<circle cx="1537.3" cy="953.5" r="2.4" fill="#786898"/>
<circle cx="1635.4" cy="921.9" r="2.4" fill="#a06050"/>
<circle cx="1544.3" cy="894.5" r="2.4" fill="#b8604a"/>
<circle cx="1612.8" cy="914.2" r="2.4" fill="#7a5a40"/>
<circle cx="1533.4" cy="839.7" r="2.4" fill="#d09070"/>
<circle cx="1627" cy="887" r="2.4" fill="#a06050"/>
<circle cx="1527.6" cy="989" r="2.4" fill="#786898"/>
<circle cx="1633" cy="905.6" r="2.4" fill="#505078"/>
<circle cx="1529.4" cy="942.6" r="2.4" fill="#d09070"/>
<circle cx="1606.5" cy="933.1" r="2.4" fill="#b8604a"/>
<circle cx="1542" cy="913.3" r="2.4" fill="#907060"/>
<circle cx="1611.9" cy="882.5" r="2.4" fill="#7a5a40"/>
<circle cx="1527.2" cy="994.7" r="2.4" fill="#a07840"/>
<circle cx="1613.4" cy="864.2" r="2.4" fill="#3f7f5f"/>
<circle cx="1527.6" cy="906.7" r="2.4" fill="#c87060"/>
<circle cx="1629.1" cy="935.3" r="2.4" fill="#505078"/>
<circle cx="1524.9" cy="989.1" r="2.4" fill="#907060"/>
<circle cx="1640.1" cy="927.9" r="2.4" fill="#7a5a40"/>
<circle cx="1521" cy="1026.3" r="2.4" fill="#a04848"/>
<circle cx="1621.2" cy="928.2" r="2.4" fill="#a04848"/>
<circle cx="1525.8" cy="923.2" r="2.4" fill="#b09060"/>
<circle cx="1611.8" cy="918" r="2.4" fill="#b8604a"/>
<circle cx="1549.9" cy="965" r="2.4" fill="#984040"/>
<circle cx="1616.1" cy="927.3" r="2.4" fill="#6080a0"/>
<circle cx="1546" cy="971.6" r="2.4" fill="#6a8a60"/>
<circle cx="1629.8" cy="935.3" r="2.4" fill="#b8604a"/>
<circle cx="1556.3" cy="856.4" r="2.4" fill="#80a870"/>
<circle cx="1627.4" cy="914.4" r="2.4" fill="#c06858"/>
<circle cx="1520.6" cy="1054.9" r="2.4" fill="#c98a40"/>
<circle cx="1619.5" cy="917.7" r="2.4" fill="#b88050"/>
<circle cx="1524.6" cy="1089.6" r="2.4" fill="#d09070"/>
<circle cx="1643.7" cy="907.2" r="2.4" fill="#a06050"/>
<circle cx="1551.9" cy="1049.7" r="2.4" fill="#7a5a40"/>
<circle cx="1637.7" cy="953.4" r="2.4" fill="#c87060"/>
<circle cx="1543.3" cy="983.6" r="2.4" fill="#4a6a98"/>
<circle cx="1613.7" cy="879.8" r="2.4" fill="#786898"/>
<circle cx="1530.1" cy="1041.6" r="2.4" fill="#984040"/>
<circle cx="1619.8" cy="926.7" r="2.4" fill="#c06858"/>
<circle cx="1540.8" cy="1063.6" r="2.4" fill="#80a870"/>
<circle cx="1644.1" cy="947.4" r="2.4" fill="#4a8a8a"/>
<circle cx="1549" cy="936.8" r="2.4" fill="#c87060"/>
<circle cx="1616.3" cy="880.6" r="2.4" fill="#c87060"/>
<circle cx="1551.2" cy="1046.5" r="2.4" fill="#6a8a60"/>
<circle cx="1645.4" cy="948" r="2.4" fill="#984040"/>
<circle cx="1519.1" cy="1106" r="2.4" fill="#505078"/>
<circle cx="1641.9" cy="942.7" r="2.4" fill="#4a6a98"/>
<circle cx="1550.7" cy="981.3" r="2.4" fill="#888878"/>
<circle cx="1621.8" cy="930.2" r="2.4" fill="#c87060"/>
<circle cx="1520" cy="928.5" r="2.4" fill="#a04848"/>
<circle cx="1621.8" cy="876.8" r="2.4" fill="#984040"/>
<circle cx="1525" cy="955.6" r="2.4" fill="#c98a40"/>
<circle cx="1634.1" cy="923.7" r="2.4" fill="#6080a0"/>
<circle cx="1555.9" cy="995.3" r="2.4" fill="#4a8a8a"/>
<circle cx="1646.2" cy="933" r="2.4" fill="#6080a0"/>
<circle cx="1553.5" cy="930.5" r="2.4" fill="#c87060"/>
<circle cx="1614.8" cy="881.6" r="2.4" fill="#b88050"/>
<circle cx="1549.5" cy="869.9" r="2.4" fill="#984040"/>
<circle cx="1644.3" cy="849.1" r="2.4" fill="#505078"/>
<circle cx="1526.2" cy="954.5" r="2.4" fill="#984040"/>
<circle cx="1615.9" cy="930.1" r="2.4" fill="#786898"/>
<circle cx="1544.5" cy="1001.1" r="2.4" fill="#888878"/>
<circle cx="1643.9" cy="944.5" r="2.4" fill="#4a6a98"/>
<circle cx="1555.7" cy="953.6" r="2.4" fill="#a07840"/>
<circle cx="1638" cy="893.1" r="2.4" fill="#786898"/>
<circle cx="1521.5" cy="989.6" r="2.4" fill="#b09060"/>
<circle cx="1621.3" cy="956.1" r="2.4" fill="#6080a0"/>
<circle cx="1524.7" cy="1036.7" r="2.4" fill="#907060"/>
<circle cx="1628.6" cy="915.2" r="2.4" fill="#a07840"/>
<circle cx="1516.9" cy="944.5" r="2.4" fill="#a06050"/>
<circle cx="1633.8" cy="953" r="2.4" fill="#b88050"/>
</g>
<line x1="1482.3" y1="1182" x2="1680.3" y2="1182" stroke="#222" stroke-width="1.3"/>
<line x1="1536.3" y1="1182" x2="1536.3" y2="1186" stroke="#333" stroke-width="1.1"/>
<text x="1536.3" y="1203.6" font-size="22.2" text-anchor="middle" fill="#4d4d4d" stroke="#4d4d4d" stroke-width="0.3">Plasma</text>
<line x1="1626.3" y1="1182" x2="1626.3" y2="1186" stroke="#333" stroke-width="1.1"/>
<text x="1626.3" y="1203.6" font-size="22.2" text-anchor="middle" fill="#4d4d4d" stroke="#4d4d4d" stroke-width="0.3">Tissue</text>
<polyline points="1536.3,764.3 1536.3,754.4 1626.3,754.4 1626.3,764.3" fill="none" stroke="#333" stroke-width="1.1"/>
<text x="1581.3" y="750" font-size="12.3" text-anchor="middle" stroke="#000" stroke-width="0.3">p &lt; 2.22e−16</text>
<text x="1536.3" y="772.8" font-size="11.3" text-anchor="middle" stroke="#000" stroke-width="0.3">Median CCF =</text>
<text x="1536.3" y="783.2" font-size="11.3" text-anchor="middle" stroke="#000" stroke-width="0.3">1.59%</text>
<text x="1626.3" y="772.8" font-size="11.3" text-anchor="middle" stroke="#000" stroke-width="0.3">Median CCF =</text>
<text x="1626.3" y="783.2" font-size="11.3" text-anchor="middle" stroke="#000" stroke-width="0.3">6.47%</text>
<line x1="1072" y1="733" x2="1072" y2="1182" stroke="#222" stroke-width="1.3"/>
<line x1="1068" y1="782.8" x2="1072" y2="782.8" stroke="#333" stroke-width="1.1"/>
<text x="1065.7" y="790.5" font-size="21.3" text-anchor="end" fill="#4d4d4d" stroke="#4d4d4d" stroke-width="0.3">100</text>
<line x1="1068" y1="895.7" x2="1072" y2="895.7" stroke="#333" stroke-width="1.1"/>
<text x="1065.7" y="903.4" font-size="21.3" text-anchor="end" fill="#4d4d4d" stroke="#4d4d4d" stroke-width="0.3">10</text>
<line x1="1068" y1="1008.6" x2="1072" y2="1008.6" stroke="#333" stroke-width="1.1"/>
<text x="1065.7" y="1016.3" font-size="21.3" text-anchor="end" fill="#4d4d4d" stroke="#4d4d4d" stroke-width="0.3">1</text>
<line x1="1068" y1="1121.5" x2="1072" y2="1121.5" stroke="#333" stroke-width="1.1"/>
<text x="1065.7" y="1129.2" font-size="21.3" text-anchor="end" fill="#4d4d4d" stroke="#4d4d4d" stroke-width="0.3">0.1</text>
<text x="1020" y="958" font-size="28" text-anchor="middle" stroke="#000" stroke-width="0.3" transform="rotate(-90 1020 958)">% Cancer Cell Fraction</text>
<circle cx="1704.4" cy="779.4" r="2.3" fill="#6080a0" stroke="#222" stroke-width="1.0" fill-opacity="0.75"/>
<text x="1724.5" y="783" font-size="10" stroke="#000" stroke-width="0.3">CRUK0067</text>
<circle cx="1704.4" cy="790.4" r="2.3" fill="#b09060" stroke="#222" stroke-width="1.0" fill-opacity="0.75"/>
<text x="1724.5" y="794" font-size="10" stroke="#000" stroke-width="0.3">CRUK0074</text>
<circle cx="1704.4" cy="801.5" r="2.3" fill="#c87060" stroke="#222" stroke-width="1.0" fill-opacity="0.75"/>
<text x="1724.5" y="805.1" font-size="10" stroke="#000" stroke-width="0.3">CRUK0075</text>
<circle cx="1704.4" cy="812.5" r="2.3" fill="#c06858" stroke="#222" stroke-width="1.0" fill-opacity="0.75"/>
<text x="1724.5" y="816.1" font-size="10" stroke="#000" stroke-width="0.3">CRUK0085</text>
<circle cx="1704.4" cy="823.6" r="2.3" fill="#5f8f5a" stroke="#222" stroke-width="1.0" fill-opacity="0.75"/>
<text x="1724.5" y="827.2" font-size="10" stroke="#000" stroke-width="0.3">CRUK0087</text>
<circle cx="1704.4" cy="834.6" r="2.3" fill="#984040" stroke="#222" stroke-width="1.0" fill-opacity="0.75"/>
<text x="1724.5" y="838.2" font-size="10" stroke="#000" stroke-width="0.3">CRUK0088</text>
<circle cx="1704.4" cy="845.7" r="2.3" fill="#a07840" stroke="#222" stroke-width="1.0" fill-opacity="0.75"/>
<text x="1724.5" y="849.3" font-size="10" stroke="#000" stroke-width="0.3">CRUK0223</text>
<circle cx="1704.4" cy="856.8" r="2.3" fill="#c06858" stroke="#222" stroke-width="1.0" fill-opacity="0.75"/>
<text x="1724.5" y="860.4" font-size="10" stroke="#000" stroke-width="0.3">CRUK0241</text>
<circle cx="1704.4" cy="867.8" r="2.3" fill="#888878" stroke="#222" stroke-width="1.0" fill-opacity="0.75"/>
<text x="1724.5" y="871.4" font-size="10" stroke="#000" stroke-width="0.3">CRUK0245</text>
<circle cx="1704.4" cy="878.9" r="2.3" fill="#4a8a8a" stroke="#222" stroke-width="1.0" fill-opacity="0.75"/>
<text x="1724.5" y="882.5" font-size="10" stroke="#000" stroke-width="0.3">CRUK0254</text>
<circle cx="1704.4" cy="889.9" r="2.3" fill="#888878" stroke="#222" stroke-width="1.0" fill-opacity="0.75"/>
<text x="1724.5" y="893.5" font-size="10" stroke="#000" stroke-width="0.3">CRUK0256</text>
<circle cx="1704.4" cy="901" r="2.3" fill="#c87060" stroke="#222" stroke-width="1.0" fill-opacity="0.75"/>
<text x="1724.5" y="904.6" font-size="10" stroke="#000" stroke-width="0.3">CRUK0270</text>
<circle cx="1704.4" cy="912" r="2.3" fill="#d09070" stroke="#222" stroke-width="1.0" fill-opacity="0.75"/>
<text x="1724.5" y="915.6" font-size="10" stroke="#000" stroke-width="0.3">CRUK0284</text>
<circle cx="1704.4" cy="923" r="2.3" fill="#6080a0" stroke="#222" stroke-width="1.0" fill-opacity="0.75"/>
<text x="1724.5" y="926.6" font-size="10" stroke="#000" stroke-width="0.3">CRUK0286</text>
<circle cx="1704.4" cy="934.1" r="2.3" fill="#6080a0" stroke="#222" stroke-width="1.0" fill-opacity="0.75"/>
<text x="1724.5" y="937.7" font-size="10" stroke="#000" stroke-width="0.3">CRUK0290</text>
<circle cx="1704.4" cy="945.1" r="2.3" fill="#4a6a98" stroke="#222" stroke-width="1.0" fill-opacity="0.75"/>
<text x="1724.5" y="948.8" font-size="10" stroke="#000" stroke-width="0.3">CRUK0303</text>
<circle cx="1704.4" cy="956.2" r="2.3" fill="#888878" stroke="#222" stroke-width="1.0" fill-opacity="0.75"/>
<text x="1724.5" y="959.8" font-size="10" stroke="#000" stroke-width="0.3">CRUK0311</text>
<circle cx="1704.4" cy="967.2" r="2.3" fill="#a04848" stroke="#222" stroke-width="1.0" fill-opacity="0.75"/>
<text x="1724.5" y="970.9" font-size="10" stroke="#000" stroke-width="0.3">CRUK0331</text>
<circle cx="1704.4" cy="978.3" r="2.3" fill="#786898" stroke="#222" stroke-width="1.0" fill-opacity="0.75"/>
<text x="1724.5" y="981.9" font-size="10" stroke="#000" stroke-width="0.3">CRUK0337</text>
<circle cx="1704.4" cy="989.4" r="2.3" fill="#a04848" stroke="#222" stroke-width="1.0" fill-opacity="0.75"/>
<text x="1724.5" y="993" font-size="10" stroke="#000" stroke-width="0.3">CRUK0361</text>
<circle cx="1704.4" cy="1000.4" r="2.3" fill="#6080a0" stroke="#222" stroke-width="1.0" fill-opacity="0.75"/>
<text x="1724.5" y="1004" font-size="10" stroke="#000" stroke-width="0.3">CRUK0369</text>
<circle cx="1704.4" cy="1011.5" r="2.3" fill="#984040" stroke="#222" stroke-width="1.0" fill-opacity="0.75"/>
<text x="1724.5" y="1015.1" font-size="10" stroke="#000" stroke-width="0.3">CRUK0379</text>
<circle cx="1704.4" cy="1022.5" r="2.3" fill="#80a870" stroke="#222" stroke-width="1.0" fill-opacity="0.75"/>
<text x="1724.5" y="1026.1" font-size="10" stroke="#000" stroke-width="0.3">CRUK0381</text>
<circle cx="1704.4" cy="1033.5" r="2.3" fill="#4a6a98" stroke="#222" stroke-width="1.0" fill-opacity="0.75"/>
<text x="1724.5" y="1037.1" font-size="10" stroke="#000" stroke-width="0.3">CRUK0384</text>
<circle cx="1704.4" cy="1044.6" r="2.3" fill="#c98a40" stroke="#222" stroke-width="1.0" fill-opacity="0.75"/>
<text x="1724.5" y="1048.2" font-size="10" stroke="#000" stroke-width="0.3">CRUK0385</text>
<circle cx="1704.4" cy="1055.7" r="2.3" fill="#3f7f5f" stroke="#222" stroke-width="1.0" fill-opacity="0.75"/>
<text x="1724.5" y="1059.2" font-size="10" stroke="#000" stroke-width="0.3">CRUK0388</text>
<circle cx="1704.4" cy="1066.7" r="2.3" fill="#a04848" stroke="#222" stroke-width="1.0" fill-opacity="0.75"/>
<text x="1724.5" y="1070.3" font-size="10" stroke="#000" stroke-width="0.3">CRUK0392</text>
<circle cx="1704.4" cy="1077.8" r="2.3" fill="#3f7f5f" stroke="#222" stroke-width="1.0" fill-opacity="0.75"/>
<text x="1724.5" y="1081.3" font-size="10" stroke="#000" stroke-width="0.3">CRUK0396</text>
<circle cx="1704.4" cy="1088.8" r="2.3" fill="#c98a40" stroke="#222" stroke-width="1.0" fill-opacity="0.75"/>
<text x="1724.5" y="1092.4" font-size="10" stroke="#000" stroke-width="0.3">CRUK0403</text>
<circle cx="1704.4" cy="1099.8" r="2.3" fill="#505078" stroke="#222" stroke-width="1.0" fill-opacity="0.75"/>
<text x="1724.5" y="1103.4" font-size="10" stroke="#000" stroke-width="0.3">CRUK0410</text>
<circle cx="1704.4" cy="1110.9" r="2.3" fill="#c98a40" stroke="#222" stroke-width="1.0" fill-opacity="0.75"/>
<text x="1724.5" y="1114.5" font-size="10" stroke="#000" stroke-width="0.3">CRUK0416</text>
<circle cx="1704.4" cy="1122" r="2.3" fill="#6a8a60" stroke="#222" stroke-width="1.0" fill-opacity="0.75"/>
<text x="1724.5" y="1125.5" font-size="10" stroke="#000" stroke-width="0.3">CRUK0419</text>
<circle cx="1704.4" cy="1133" r="2.3" fill="#7a5a40" stroke="#222" stroke-width="1.0" fill-opacity="0.75"/>
<text x="1724.5" y="1136.6" font-size="10" stroke="#000" stroke-width="0.3">CRUK0444</text>
<circle cx="1704.4" cy="1144" r="2.3" fill="#5f8f5a" stroke="#222" stroke-width="1.0" fill-opacity="0.75"/>
<text x="1724.5" y="1147.6" font-size="10" stroke="#000" stroke-width="0.3">CRUK0452</text>
<circle cx="1704.4" cy="1155.1" r="2.3" fill="#80a870" stroke="#222" stroke-width="1.0" fill-opacity="0.75"/>
<text x="1724.5" y="1158.7" font-size="10" stroke="#000" stroke-width="0.3">CRUK0463</text>
<circle cx="1704.4" cy="1166.2" r="2.3" fill="#6a8a60" stroke="#222" stroke-width="1.0" fill-opacity="0.75"/>
<text x="1724.5" y="1169.8" font-size="10" stroke="#000" stroke-width="0.3">CRUK0465</text>
<circle cx="1704.4" cy="1177.2" r="2.3" fill="#6a8a60" stroke="#222" stroke-width="1.0" fill-opacity="0.75"/>
<text x="1724.5" y="1180.8" font-size="10" stroke="#000" stroke-width="0.3">CRUK0476</text>
<circle cx="1793.8" cy="779.4" r="2.3" fill="#4a6a98" stroke="#222" stroke-width="1.0" fill-opacity="0.75"/>
<text x="1813.6" y="783" font-size="10" stroke="#000" stroke-width="0.3">CRUK0484</text>
<circle cx="1793.8" cy="790.4" r="2.3" fill="#b8604a" stroke="#222" stroke-width="1.0" fill-opacity="0.75"/>
<text x="1813.6" y="794" font-size="10" stroke="#000" stroke-width="0.3">CRUK0488</text>
<circle cx="1793.8" cy="801.5" r="2.3" fill="#a07840" stroke="#222" stroke-width="1.0" fill-opacity="0.75"/>
<text x="1813.6" y="805.1" font-size="10" stroke="#000" stroke-width="0.3">CRUK0495</text>
<circle cx="1793.8" cy="812.5" r="2.3" fill="#a07840" stroke="#222" stroke-width="1.0" fill-opacity="0.75"/>
<text x="1813.6" y="816.1" font-size="10" stroke="#000" stroke-width="0.3">CRUK0497</text>
<circle cx="1793.8" cy="823.6" r="2.3" fill="#b8604a" stroke="#222" stroke-width="1.0" fill-opacity="0.75"/>
<text x="1813.6" y="827.2" font-size="10" stroke="#000" stroke-width="0.3">CRUK0510</text>
<circle cx="1793.8" cy="834.6" r="2.3" fill="#a06050" stroke="#222" stroke-width="1.0" fill-opacity="0.75"/>
<text x="1813.6" y="838.2" font-size="10" stroke="#000" stroke-width="0.3">CRUK0516</text>
<circle cx="1793.8" cy="845.7" r="2.3" fill="#888878" stroke="#222" stroke-width="1.0" fill-opacity="0.75"/>
<text x="1813.6" y="849.3" font-size="10" stroke="#000" stroke-width="0.3">CRUK0518</text>
<circle cx="1793.8" cy="856.8" r="2.3" fill="#6080a0" stroke="#222" stroke-width="1.0" fill-opacity="0.75"/>
<text x="1813.6" y="860.4" font-size="10" stroke="#000" stroke-width="0.3">CRUK0524</text>
<circle cx="1793.8" cy="867.8" r="2.3" fill="#c87060" stroke="#222" stroke-width="1.0" fill-opacity="0.75"/>
<text x="1813.6" y="871.4" font-size="10" stroke="#000" stroke-width="0.3">CRUK0528</text>
<circle cx="1793.8" cy="878.9" r="2.3" fill="#d09070" stroke="#222" stroke-width="1.0" fill-opacity="0.75"/>
<text x="1813.6" y="882.5" font-size="10" stroke="#000" stroke-width="0.3">CRUK0549</text>
<circle cx="1793.8" cy="889.9" r="2.3" fill="#984040" stroke="#222" stroke-width="1.0" fill-opacity="0.75"/>
<text x="1813.6" y="893.5" font-size="10" stroke="#000" stroke-width="0.3">CRUK0550</text>
<circle cx="1793.8" cy="901" r="2.3" fill="#907060" stroke="#222" stroke-width="1.0" fill-opacity="0.75"/>
<text x="1813.6" y="904.6" font-size="10" stroke="#000" stroke-width="0.3">CRUK0552</text>
<circle cx="1793.8" cy="912" r="2.3" fill="#b09060" stroke="#222" stroke-width="1.0" fill-opacity="0.75"/>
<text x="1813.6" y="915.6" font-size="10" stroke="#000" stroke-width="0.3">CRUK0557</text>
<circle cx="1793.8" cy="923" r="2.3" fill="#b8604a" stroke="#222" stroke-width="1.0" fill-opacity="0.75"/>
<text x="1813.6" y="926.6" font-size="10" stroke="#000" stroke-width="0.3">CRUK0559</text>
<circle cx="1793.8" cy="934.1" r="2.3" fill="#80a870" stroke="#222" stroke-width="1.0" fill-opacity="0.75"/>
<text x="1813.6" y="937.7" font-size="10" stroke="#000" stroke-width="0.3">CRUK0563</text>
<circle cx="1793.8" cy="945.1" r="2.3" fill="#5f8f5a" stroke="#222" stroke-width="1.0" fill-opacity="0.75"/>
<text x="1813.6" y="948.8" font-size="10" stroke="#000" stroke-width="0.3">CRUK0565</text>
<circle cx="1793.8" cy="956.2" r="2.3" fill="#c98a40" stroke="#222" stroke-width="1.0" fill-opacity="0.75"/>
<text x="1813.6" y="959.8" font-size="10" stroke="#000" stroke-width="0.3">CRUK0567</text>
<circle cx="1793.8" cy="967.2" r="2.3" fill="#4a6a98" stroke="#222" stroke-width="1.0" fill-opacity="0.75"/>
<text x="1813.6" y="970.9" font-size="10" stroke="#000" stroke-width="0.3">CRUK0582</text>
<circle cx="1793.8" cy="978.3" r="2.3" fill="#a07840" stroke="#222" stroke-width="1.0" fill-opacity="0.75"/>
<text x="1813.6" y="981.9" font-size="10" stroke="#000" stroke-width="0.3">CRUK0589</text>
<circle cx="1793.8" cy="989.4" r="2.3" fill="#d09070" stroke="#222" stroke-width="1.0" fill-opacity="0.75"/>
<text x="1813.6" y="993" font-size="10" stroke="#000" stroke-width="0.3">CRUK0590</text>
<circle cx="1793.8" cy="1000.4" r="2.3" fill="#b8604a" stroke="#222" stroke-width="1.0" fill-opacity="0.75"/>
<text x="1813.6" y="1004" font-size="10" stroke="#000" stroke-width="0.3">CRUK0596</text>
<circle cx="1793.8" cy="1011.5" r="2.3" fill="#786898" stroke="#222" stroke-width="1.0" fill-opacity="0.75"/>
<text x="1813.6" y="1015.1" font-size="10" stroke="#000" stroke-width="0.3">CRUK0598</text>
<circle cx="1793.8" cy="1022.5" r="2.3" fill="#6a8a60" stroke="#222" stroke-width="1.0" fill-opacity="0.75"/>
<text x="1813.6" y="1026.1" font-size="10" stroke="#000" stroke-width="0.3">CRUK0606</text>
<circle cx="1793.8" cy="1033.5" r="2.3" fill="#80a870" stroke="#222" stroke-width="1.0" fill-opacity="0.75"/>
<text x="1813.6" y="1037.1" font-size="10" stroke="#000" stroke-width="0.3">CRUK0609</text>
<circle cx="1793.8" cy="1044.6" r="2.3" fill="#a07840" stroke="#222" stroke-width="1.0" fill-opacity="0.75"/>
<text x="1813.6" y="1048.2" font-size="10" stroke="#000" stroke-width="0.3">CRUK0617</text>
<circle cx="1793.8" cy="1055.7" r="2.3" fill="#984040" stroke="#222" stroke-width="1.0" fill-opacity="0.75"/>
<text x="1813.6" y="1059.2" font-size="10" stroke="#000" stroke-width="0.3">CRUK0620</text>
<circle cx="1793.8" cy="1066.7" r="2.3" fill="#7a5a40" stroke="#222" stroke-width="1.0" fill-opacity="0.75"/>
<text x="1813.6" y="1070.3" font-size="10" stroke="#000" stroke-width="0.3">CRUK0640</text>
<circle cx="1793.8" cy="1077.8" r="2.3" fill="#888878" stroke="#222" stroke-width="1.0" fill-opacity="0.75"/>
<text x="1813.6" y="1081.3" font-size="10" stroke="#000" stroke-width="0.3">CRUK0644</text>
<circle cx="1793.8" cy="1088.8" r="2.3" fill="#b8604a" stroke="#222" stroke-width="1.0" fill-opacity="0.75"/>
<text x="1813.6" y="1092.4" font-size="10" stroke="#000" stroke-width="0.3">CRUK0667</text>
<circle cx="1793.8" cy="1099.8" r="2.3" fill="#c87060" stroke="#222" stroke-width="1.0" fill-opacity="0.75"/>
<text x="1813.6" y="1103.4" font-size="10" stroke="#000" stroke-width="0.3">CRUK0674</text>
<circle cx="1793.8" cy="1110.9" r="2.3" fill="#c87060" stroke="#222" stroke-width="1.0" fill-opacity="0.75"/>
<text x="1813.6" y="1114.5" font-size="10" stroke="#000" stroke-width="0.3">CRUK0681</text>
<circle cx="1793.8" cy="1122" r="2.3" fill="#505078" stroke="#222" stroke-width="1.0" fill-opacity="0.75"/>
<text x="1813.6" y="1125.5" font-size="10" stroke="#000" stroke-width="0.3">CRUK0702</text>
<circle cx="1793.8" cy="1133" r="2.3" fill="#7a5a40" stroke="#222" stroke-width="1.0" fill-opacity="0.75"/>
<text x="1813.6" y="1136.6" font-size="10" stroke="#000" stroke-width="0.3">CRUK0706</text>
<circle cx="1793.8" cy="1144" r="2.3" fill="#a06050" stroke="#222" stroke-width="1.0" fill-opacity="0.75"/>
<text x="1813.6" y="1147.6" font-size="10" stroke="#000" stroke-width="0.3">CRUK0714</text>
<circle cx="1793.8" cy="1155.1" r="2.3" fill="#a06050" stroke="#222" stroke-width="1.0" fill-opacity="0.75"/>
<text x="1813.6" y="1158.7" font-size="10" stroke="#000" stroke-width="0.3">CRUK0768</text>
<circle cx="1793.8" cy="1166.2" r="2.3" fill="#b88050" stroke="#222" stroke-width="1.0" fill-opacity="0.75"/>
<text x="1813.6" y="1169.8" font-size="10" stroke="#000" stroke-width="0.3">CRUK0769</text>
<circle cx="1793.8" cy="1177.2" r="2.3" fill="#907060" stroke="#222" stroke-width="1.0" fill-opacity="0.75"/>
<text x="1813.6" y="1180.8" font-size="10" stroke="#000" stroke-width="0.3">CRUK0772</text>
<text x="8.3" y="1324.8" font-size="27.5" font-weight="bold">f</text>
<text x="392" y="1325" font-size="20.2" text-anchor="middle" stroke="#000" stroke-width="0.3">20% CCF subclones</text>
<line x1="138.3" y1="1347" x2="138.3" y2="1864.6" stroke="#222" stroke-width="1.3"/>
<line x1="138.3" y1="1864.6" x2="645.7" y2="1864.6" stroke="#222" stroke-width="1.3"/>
<line x1="134.5" y1="1841.7" x2="138.3" y2="1841.7" stroke="#333" stroke-width="1.1"/>
<text x="131.5" y="1848.3" font-size="18.3" text-anchor="end" fill="#4d4d4d" stroke="#4d4d4d" stroke-width="0.3">0</text>
<line x1="134.5" y1="1747.4" x2="138.3" y2="1747.4" stroke="#333" stroke-width="1.1"/>
<text x="131.5" y="1754" font-size="18.3" text-anchor="end" fill="#4d4d4d" stroke="#4d4d4d" stroke-width="0.3">20</text>
<line x1="134.5" y1="1653.1" x2="138.3" y2="1653.1" stroke="#333" stroke-width="1.1"/>
<text x="131.5" y="1659.7" font-size="18.3" text-anchor="end" fill="#4d4d4d" stroke="#4d4d4d" stroke-width="0.3">40</text>
<line x1="134.5" y1="1558.9" x2="138.3" y2="1558.9" stroke="#333" stroke-width="1.1"/>
<text x="131.5" y="1565.5" font-size="18.3" text-anchor="end" fill="#4d4d4d" stroke="#4d4d4d" stroke-width="0.3">60</text>
<line x1="134.5" y1="1464.6" x2="138.3" y2="1464.6" stroke="#333" stroke-width="1.1"/>
<text x="131.5" y="1471.2" font-size="18.3" text-anchor="end" fill="#4d4d4d" stroke="#4d4d4d" stroke-width="0.3">80</text>
<line x1="134.5" y1="1370.3" x2="138.3" y2="1370.3" stroke="#333" stroke-width="1.1"/>
<text x="131.5" y="1376.9" font-size="18.3" text-anchor="end" fill="#4d4d4d" stroke="#4d4d4d" stroke-width="0.3">100</text>
<line x1="235.3" y1="1864.6" x2="235.3" y2="1868.5" stroke="#333" stroke-width="1.1"/>
<text x="235.3" y="1887" font-size="19.5" text-anchor="middle" fill="#4d4d4d" stroke="#4d4d4d" stroke-width="0.3">0.001</text>
<line x1="323.9" y1="1864.6" x2="323.9" y2="1868.5" stroke="#333" stroke-width="1.1"/>
<text x="323.9" y="1887" font-size="19.5" text-anchor="middle" fill="#4d4d4d" stroke="#4d4d4d" stroke-width="0.3">0.010</text>
<line x1="412.5" y1="1864.6" x2="412.5" y2="1868.5" stroke="#333" stroke-width="1.1"/>
<text x="412.5" y="1887" font-size="19.5" text-anchor="middle" fill="#4d4d4d" stroke="#4d4d4d" stroke-width="0.3">0.100</text>
<line x1="501.1" y1="1864.6" x2="501.1" y2="1868.5" stroke="#333" stroke-width="1.1"/>
<text x="501.1" y="1887" font-size="19.5" text-anchor="middle" fill="#4d4d4d" stroke="#4d4d4d" stroke-width="0.3">1.000</text>
<line x1="589.7" y1="1864.6" x2="589.7" y2="1868.5" stroke="#333" stroke-width="1.1"/>
<text x="589.7" y="1887" font-size="19.5" text-anchor="middle" fill="#4d4d4d" stroke="#4d4d4d" stroke-width="0.3">10.000</text>
<text x="391.5" y="1911" font-size="24.3" text-anchor="middle" stroke="#000" stroke-width="0.3">clonal ctDNA level (%)</text>
<text x="93" y="1594" font-size="24.4" text-anchor="middle" stroke="#000" stroke-width="0.3" transform="rotate(-90 93 1594)">% subclones detected in pre−operative ctDNA</text>
<g stroke="#111" stroke-width="1.3" stroke-dasharray="6,4">
<line x1="412.3" y1="1347" x2="412.3" y2="1864.6"/>
<line x1="138.3" y1="1582.4" x2="645.7" y2="1582.4"/>
<line x1="138.3" y1="1738.6" x2="645.7" y2="1738.6"/>
</g>
<clipPath id="fclip"><rect x="139" y="1340" width="510" height="524"/></clipPath><g clip-path="url(#fclip)">
<circle cx="329" cy="1370" r="4.7" fill="#b3a7d3" stroke="#5a5a5a" stroke-width="0.6"/>
<circle cx="365.2" cy="1370" r="4.7" fill="#b3a7d3" stroke="#5a5a5a" stroke-width="0.6"/>
<circle cx="372.4" cy="1370" r="4.7" fill="#7cc47e" stroke="#5a5a5a" stroke-width="0.6"/>
<circle cx="405.5" cy="1370" r="4.7" fill="#b3a7d3" stroke="#5a5a5a" stroke-width="0.6"/>
<circle cx="412.3" cy="1370" r="4.7" fill="#7cc47e" stroke="#5a5a5a" stroke-width="0.6"/>
<circle cx="420.9" cy="1370" r="4.7" fill="#b3a7d3" stroke="#5a5a5a" stroke-width="0.6"/>
<circle cx="428.7" cy="1370" r="4.7" fill="#b3a7d3" stroke="#5a5a5a" stroke-width="0.6"/>
<circle cx="436.4" cy="1370" r="4.7" fill="#b3a7d3" stroke="#5a5a5a" stroke-width="0.6"/>
<circle cx="442.6" cy="1370" r="4.7" fill="#b3a7d3" stroke="#5a5a5a" stroke-width="0.6"/>
<circle cx="458.7" cy="1370" r="4.7" fill="#b3a7d3" stroke="#5a5a5a" stroke-width="0.6"/>
<circle cx="468" cy="1370" r="4.7" fill="#b3a7d3" stroke="#5a5a5a" stroke-width="0.6"/>
<circle cx="473.6" cy="1370" r="4.7" fill="#7cc47e" stroke="#5a5a5a" stroke-width="0.6"/>
<circle cx="481.3" cy="1370" r="4.7" fill="#b3a7d3" stroke="#5a5a5a" stroke-width="0.6"/>
<circle cx="493.7" cy="1370" r="4.7" fill="#7cc47e" stroke="#5a5a5a" stroke-width="0.6"/>
<circle cx="499.9" cy="1370" r="4.7" fill="#b3a7d3" stroke="#5a5a5a" stroke-width="0.6"/>
<circle cx="507" cy="1370" r="4.7" fill="#b3a7d3" stroke="#5a5a5a" stroke-width="0.6"/>
<circle cx="514.4" cy="1370" r="4.7" fill="#b3a7d3" stroke="#5a5a5a" stroke-width="0.6"/>
<circle cx="522.5" cy="1370" r="4.7" fill="#b3a7d3" stroke="#5a5a5a" stroke-width="0.6"/>
<circle cx="533" cy="1370" r="4.7" fill="#b3a7d3" stroke="#5a5a5a" stroke-width="0.6"/>
<circle cx="546.3" cy="1370" r="4.7" fill="#b3a7d3" stroke="#5a5a5a" stroke-width="0.6"/>
<circle cx="558.1" cy="1370" r="4.7" fill="#b3a7d3" stroke="#5a5a5a" stroke-width="0.6"/>
<circle cx="566.4" cy="1370" r="4.7" fill="#b3a7d3" stroke="#5a5a5a" stroke-width="0.6"/>
<circle cx="581.9" cy="1370" r="4.7" fill="#7cc47e" stroke="#5a5a5a" stroke-width="0.6"/>
<circle cx="586.5" cy="1370" r="4.7" fill="#7cc47e" stroke="#5a5a5a" stroke-width="0.6"/>
<circle cx="594.3" cy="1370" r="4.7" fill="#b3a7d3" stroke="#5a5a5a" stroke-width="0.6"/>
<circle cx="608.2" cy="1370" r="4.7" fill="#b3a7d3" stroke="#5a5a5a" stroke-width="0.6"/>
<circle cx="615.9" cy="1370" r="4.7" fill="#b3a7d3" stroke="#5a5a5a" stroke-width="0.6"/>
<circle cx="622.1" cy="1370" r="4.7" fill="#b3a7d3" stroke="#5a5a5a" stroke-width="0.6"/>
<circle cx="599.9" cy="1399.4" r="4.7" fill="#b3a7d3" stroke="#5a5a5a" stroke-width="0.6"/>
<circle cx="535.5" cy="1448.3" r="4.7" fill="#b3a7d3" stroke="#5a5a5a" stroke-width="0.6"/>
<circle cx="564.3" cy="1448.3" r="4.7" fill="#b3a7d3" stroke="#5a5a5a" stroke-width="0.6"/>
<circle cx="409.5" cy="1464.4" r="4.7" fill="#7cc47e" stroke="#5a5a5a" stroke-width="0.6"/>
<circle cx="498.3" cy="1464.4" r="4.7" fill="#b3a7d3" stroke="#5a5a5a" stroke-width="0.6"/>
<circle cx="550" cy="1464.4" r="4.7" fill="#b3a7d3" stroke="#5a5a5a" stroke-width="0.6"/>
<circle cx="506.1" cy="1475.3" r="4.7" fill="#b3a7d3" stroke="#5a5a5a" stroke-width="0.6"/>
<circle cx="440.4" cy="1488" r="4.7" fill="#b3a7d3" stroke="#5a5a5a" stroke-width="0.6"/>
<circle cx="459" cy="1488" r="4.7" fill="#7cc47e" stroke="#5a5a5a" stroke-width="0.6"/>
<circle cx="477.6" cy="1488" r="4.7" fill="#b3a7d3" stroke="#5a5a5a" stroke-width="0.6"/>
<circle cx="493.7" cy="1488" r="4.7" fill="#b3a7d3" stroke="#5a5a5a" stroke-width="0.6"/>
<circle cx="550" cy="1488" r="4.7" fill="#7cc47e" stroke="#5a5a5a" stroke-width="0.6"/>
<circle cx="394.6" cy="1527.3" r="4.7" fill="#b3a7d3" stroke="#5a5a5a" stroke-width="0.6"/>
<circle cx="410.1" cy="1527.3" r="4.7" fill="#b3a7d3" stroke="#5a5a5a" stroke-width="0.6"/>
<circle cx="414.8" cy="1527.3" r="4.7" fill="#b3a7d3" stroke="#5a5a5a" stroke-width="0.6"/>
<circle cx="460.6" cy="1527.3" r="4.7" fill="#b3a7d3" stroke="#5a5a5a" stroke-width="0.6"/>
<circle cx="468.3" cy="1527.3" r="4.7" fill="#b3a7d3" stroke="#5a5a5a" stroke-width="0.6"/>
<circle cx="478.2" cy="1527.3" r="4.7" fill="#7cc47e" stroke="#5a5a5a" stroke-width="0.6"/>
<circle cx="506.1" cy="1527.3" r="4.7" fill="#7cc47e" stroke="#5a5a5a" stroke-width="0.6"/>
<circle cx="524.6" cy="1527.3" r="4.7" fill="#7cc47e" stroke="#5a5a5a" stroke-width="0.6"/>
<circle cx="564.3" cy="1527.3" r="4.7" fill="#7cc47e" stroke="#5a5a5a" stroke-width="0.6"/>
<circle cx="434.3" cy="1546.8" r="4.7" fill="#7cc47e" stroke="#5a5a5a" stroke-width="0.6"/>
<circle cx="350.4" cy="1558.8" r="4.7" fill="#b3a7d3" stroke="#5a5a5a" stroke-width="0.6"/>
<circle cx="418.8" cy="1558.8" r="4.7" fill="#b3a7d3" stroke="#5a5a5a" stroke-width="0.6"/>
<circle cx="432.4" cy="1558.8" r="4.7" fill="#b3a7d3" stroke="#5a5a5a" stroke-width="0.6"/>
<circle cx="477.6" cy="1558.8" r="4.7" fill="#7cc47e" stroke="#5a5a5a" stroke-width="0.6"/>
<circle cx="488.1" cy="1558.8" r="4.7" fill="#b3a7d3" stroke="#5a5a5a" stroke-width="0.6"/>
<circle cx="409.5" cy="1572.1" r="4.7" fill="#7cc47e" stroke="#5a5a5a" stroke-width="0.6"/>
<circle cx="349.8" cy="1605.5" r="4.7" fill="#7cc47e" stroke="#5a5a5a" stroke-width="0.6"/>
<circle cx="367.4" cy="1605.5" r="4.7" fill="#7cc47e" stroke="#5a5a5a" stroke-width="0.6"/>
<circle cx="375.5" cy="1605.5" r="4.7" fill="#b3a7d3" stroke="#5a5a5a" stroke-width="0.6"/>
<circle cx="383.8" cy="1605.5" r="4.7" fill="#7cc47e" stroke="#5a5a5a" stroke-width="0.6"/>
<circle cx="414.1" cy="1605.5" r="4.7" fill="#7cc47e" stroke="#5a5a5a" stroke-width="0.6"/>
<circle cx="422.5" cy="1605.5" r="4.7" fill="#b3a7d3" stroke="#5a5a5a" stroke-width="0.6"/>
<circle cx="445.7" cy="1605.5" r="4.7" fill="#7cc47e" stroke="#5a5a5a" stroke-width="0.6"/>
<circle cx="460.6" cy="1605.5" r="4.7" fill="#7cc47e" stroke="#5a5a5a" stroke-width="0.6"/>
<circle cx="468.3" cy="1605.5" r="4.7" fill="#b3a7d3" stroke="#5a5a5a" stroke-width="0.6"/>
<circle cx="424.7" cy="1620" r="4.7" fill="#b3a7d3" stroke="#5a5a5a" stroke-width="0.6"/>
<circle cx="381.3" cy="1653.5" r="4.7" fill="#7cc47e" stroke="#5a5a5a" stroke-width="0.6"/>
<circle cx="420.9" cy="1653.5" r="4.7" fill="#7cc47e" stroke="#5a5a5a" stroke-width="0.6"/>
<circle cx="499.3" cy="1653.5" r="4.7" fill="#7cc47e" stroke="#5a5a5a" stroke-width="0.6"/>
<circle cx="397.7" cy="1684.7" r="4.7" fill="#b3a7d3" stroke="#5a5a5a" stroke-width="0.6"/>
<circle cx="439.5" cy="1684.7" r="4.7" fill="#7cc47e" stroke="#5a5a5a" stroke-width="0.6"/>
<circle cx="445.7" cy="1684.7" r="4.7" fill="#b3a7d3" stroke="#5a5a5a" stroke-width="0.6"/>
<circle cx="487.5" cy="1684.7" r="4.7" fill="#7cc47e" stroke="#5a5a5a" stroke-width="0.6"/>
<circle cx="495.2" cy="1684.7" r="4.7" fill="#b3a7d3" stroke="#5a5a5a" stroke-width="0.6"/>
<circle cx="507" cy="1684.7" r="4.7" fill="#7cc47e" stroke="#5a5a5a" stroke-width="0.6"/>
<circle cx="327.2" cy="1724" r="4.7" fill="#7cc47e" stroke="#5a5a5a" stroke-width="0.6"/>
<circle cx="363.7" cy="1724" r="4.7" fill="#7cc47e" stroke="#5a5a5a" stroke-width="0.6"/>
<circle cx="397.7" cy="1724" r="4.7" fill="#7cc47e" stroke="#5a5a5a" stroke-width="0.6"/>
<circle cx="336.8" cy="1747.9" r="4.7" fill="#7cc47e" stroke="#5a5a5a" stroke-width="0.6"/>
<circle cx="406.4" cy="1747.9" r="4.7" fill="#7cc47e" stroke="#5a5a5a" stroke-width="0.6"/>
<circle cx="435.8" cy="1747.9" r="4.7" fill="#7cc47e" stroke="#5a5a5a" stroke-width="0.6"/>
<circle cx="441.1" cy="1747.9" r="4.7" fill="#7cc47e" stroke="#5a5a5a" stroke-width="0.6"/>
<circle cx="468" cy="1747.9" r="4.7" fill="#7cc47e" stroke="#5a5a5a" stroke-width="0.6"/>
<circle cx="343" cy="1763.3" r="4.7" fill="#7cc47e" stroke="#5a5a5a" stroke-width="0.6"/>
<circle cx="262.5" cy="1763.3" r="4.7" fill="#7cc47e" stroke="#5a5a5a" stroke-width="0.6"/>
<circle cx="138" cy="1763.3" r="4.7" fill="#7cc47e" stroke="#5a5a5a" stroke-width="0.6"/>
<circle cx="346.7" cy="1774.8" r="4.7" fill="#7cc47e" stroke="#5a5a5a" stroke-width="0.6"/>
<circle cx="386.9" cy="1783.1" r="4.7" fill="#b3a7d3" stroke="#5a5a5a" stroke-width="0.6"/>
<circle cx="138" cy="1783.5" r="4.7" fill="#7cc47e" stroke="#5a5a5a" stroke-width="0.6"/>
<circle cx="138" cy="1789.6" r="4.7" fill="#7cc47e" stroke="#5a5a5a" stroke-width="0.6"/>
<circle cx="269.3" cy="1802.3" r="4.7" fill="#7cc47e" stroke="#5a5a5a" stroke-width="0.6"/>
<circle cx="138" cy="1842.3" r="4.7" fill="#7cc47e" stroke="#5a5a5a" stroke-width="0.6"/>
<circle cx="161.6" cy="1842.3" r="4.7" fill="#b3a7d3" stroke="#5a5a5a" stroke-width="0.6"/>
<circle cx="177" cy="1842.3" r="4.7" fill="#7cc47e" stroke="#5a5a5a" stroke-width="0.6"/>
<circle cx="203.4" cy="1842.3" r="4.7" fill="#7cc47e" stroke="#5a5a5a" stroke-width="0.6"/>
<circle cx="205.8" cy="1842.3" r="4.7" fill="#7cc47e" stroke="#5a5a5a" stroke-width="0.6"/>
<circle cx="208.9" cy="1842.3" r="4.7" fill="#7cc47e" stroke="#5a5a5a" stroke-width="0.6"/>
<circle cx="230.6" cy="1842.3" r="4.7" fill="#7cc47e" stroke="#5a5a5a" stroke-width="0.6"/>
<circle cx="238.3" cy="1842.3" r="4.7" fill="#7cc47e" stroke="#5a5a5a" stroke-width="0.6"/>
<circle cx="243.9" cy="1842.3" r="4.7" fill="#7cc47e" stroke="#5a5a5a" stroke-width="0.6"/>
<circle cx="253.8" cy="1842.3" r="4.7" fill="#7cc47e" stroke="#5a5a5a" stroke-width="0.6"/>
<circle cx="256.9" cy="1842.3" r="4.7" fill="#7cc47e" stroke="#5a5a5a" stroke-width="0.6"/>
<circle cx="267.7" cy="1842.3" r="4.7" fill="#7cc47e" stroke="#5a5a5a" stroke-width="0.6"/>
<circle cx="280.1" cy="1842.3" r="4.7" fill="#7cc47e" stroke="#5a5a5a" stroke-width="0.6"/>
<circle cx="284.8" cy="1842.3" r="4.7" fill="#7cc47e" stroke="#5a5a5a" stroke-width="0.6"/>
<circle cx="287.9" cy="1842.3" r="4.7" fill="#7cc47e" stroke="#5a5a5a" stroke-width="0.6"/>
<circle cx="295.6" cy="1842.3" r="4.7" fill="#7cc47e" stroke="#5a5a5a" stroke-width="0.6"/>
<circle cx="298.7" cy="1842.3" r="4.7" fill="#7cc47e" stroke="#5a5a5a" stroke-width="0.6"/>
<circle cx="305.8" cy="1842.3" r="4.7" fill="#7cc47e" stroke="#5a5a5a" stroke-width="0.6"/>
<circle cx="315.1" cy="1842.3" r="4.7" fill="#7cc47e" stroke="#5a5a5a" stroke-width="0.6"/>
<circle cx="327.5" cy="1842.3" r="4.7" fill="#7cc47e" stroke="#5a5a5a" stroke-width="0.6"/>
<circle cx="329.6" cy="1842.3" r="4.7" fill="#7cc47e" stroke="#5a5a5a" stroke-width="0.6"/>
<circle cx="336.8" cy="1842.3" r="4.7" fill="#7cc47e" stroke="#5a5a5a" stroke-width="0.6"/>
<circle cx="342" cy="1842.3" r="4.7" fill="#b3a7d3" stroke="#5a5a5a" stroke-width="0.6"/>
<circle cx="345.1" cy="1842.3" r="4.7" fill="#7cc47e" stroke="#5a5a5a" stroke-width="0.6"/>
<circle cx="349.1" cy="1842.3" r="4.7" fill="#b3a7d3" stroke="#5a5a5a" stroke-width="0.6"/>
<circle cx="352.2" cy="1842.3" r="4.7" fill="#7cc47e" stroke="#5a5a5a" stroke-width="0.6"/>
<circle cx="359.7" cy="1842.3" r="4.7" fill="#7cc47e" stroke="#5a5a5a" stroke-width="0.6"/>
<circle cx="366.8" cy="1842.3" r="4.7" fill="#7cc47e" stroke="#5a5a5a" stroke-width="0.6"/>
<circle cx="368.3" cy="1842.3" r="4.7" fill="#7cc47e" stroke="#5a5a5a" stroke-width="0.6"/>
<circle cx="371.4" cy="1842.3" r="4.7" fill="#b3a7d3" stroke="#5a5a5a" stroke-width="0.6"/>
<circle cx="382.3" cy="1842.3" r="4.7" fill="#b3a7d3" stroke="#5a5a5a" stroke-width="0.6"/>
<circle cx="386.9" cy="1842.3" r="4.7" fill="#7cc47e" stroke="#5a5a5a" stroke-width="0.6"/>
<circle cx="409.2" cy="1842.3" r="4.7" fill="#7cc47e" stroke="#5a5a5a" stroke-width="0.6"/>
<circle cx="411" cy="1842.3" r="4.7" fill="#7cc47e" stroke="#5a5a5a" stroke-width="0.6"/>
<circle cx="417.9" cy="1842.3" r="4.7" fill="#7cc47e" stroke="#5a5a5a" stroke-width="0.6"/>
<circle cx="424" cy="1842.3" r="4.7" fill="#7cc47e" stroke="#5a5a5a" stroke-width="0.6"/>
<circle cx="429.6" cy="1842.3" r="4.7" fill="#7cc47e" stroke="#5a5a5a" stroke-width="0.6"/>
<circle cx="436.4" cy="1842.3" r="4.7" fill="#b3a7d3" stroke="#5a5a5a" stroke-width="0.6"/>
<circle cx="439.5" cy="1842.3" r="4.7" fill="#7cc47e" stroke="#5a5a5a" stroke-width="0.6"/>
<circle cx="442.6" cy="1842.3" r="4.7" fill="#b3a7d3" stroke="#5a5a5a" stroke-width="0.6"/>
<circle cx="480.7" cy="1842.3" r="4.7" fill="#7cc47e" stroke="#5a5a5a" stroke-width="0.6"/>
<circle cx="489.7" cy="1842.3" r="4.7" fill="#b3a7d3" stroke="#5a5a5a" stroke-width="0.6"/>
<circle cx="497.7" cy="1842.3" r="4.7" fill="#7cc47e" stroke="#5a5a5a" stroke-width="0.6"/>
<circle cx="522.5" cy="1842.3" r="4.7" fill="#7cc47e" stroke="#5a5a5a" stroke-width="0.6"/>
<circle cx="579.7" cy="1842.3" r="4.7" fill="#b3a7d3" stroke="#5a5a5a" stroke-width="0.6"/>
<circle cx="600.5" cy="1842.3" r="4.7" fill="#7cc47e" stroke="#5a5a5a" stroke-width="0.6"/>
</g>
<path d="M162.5,1830.6C164.8,1831.9 170.5,1836.7 176.4,1838.3C182.4,1840 189.8,1840.1 198.1,1840.5C206.3,1840.9 216.7,1840.9 226,1840.5C235.2,1840.1 245.6,1840.2 253.8,1838.3C262.1,1836.4 267.7,1833.2 275.5,1829C283.2,1824.9 291.5,1819.2 300.2,1813.6C309,1807.9 320.4,1800.7 328.1,1795C335.8,1789.3 340,1785.7 346.7,1779.5C353.4,1773.3 360.6,1764.6 368.3,1757.9C376.1,1751.1 385.9,1746.2 393.1,1739.3C400.3,1732.3 405.5,1723.8 411.7,1716.1C417.9,1708.3 424,1701.4 430.2,1692.9C436.4,1684.3 443.1,1674.3 448.8,1665C454.5,1655.7 459.1,1646.4 464.3,1637.1C469.4,1627.9 475.1,1619.1 479.8,1609.3C484.4,1599.5 488,1588.6 492.1,1578.3C496.3,1568 499.9,1557.7 504.5,1547.4C509.2,1537.1 514.8,1525.7 520,1516.4C525.2,1507.1 530.3,1499.9 535.5,1491.7C540.6,1483.4 545.3,1474.6 550.9,1466.9C556.6,1459.2 563.3,1451.9 569.5,1445.2C575.7,1438.5 581.9,1431.6 588.1,1426.7C594.3,1421.8 602,1418.1 606.7,1415.8C611.3,1413.6 614.4,1413.8 615.9,1413.4" fill="none" stroke="#7cc47e" stroke-width="2.3"/>
<path d="M226,1840.5C230.6,1836.5 244,1825.8 253.8,1816.7C263.6,1807.5 275.5,1795.5 284.8,1785.7C294,1775.9 302.3,1767.1 309.5,1757.9C316.7,1748.6 321.9,1740.3 328.1,1730C334.3,1719.7 340.5,1707.3 346.7,1695.9C352.9,1684.6 359,1673.3 365.2,1661.9C371.4,1650.6 378.1,1638.2 383.8,1627.9C389.5,1617.5 394.6,1607.7 399.3,1600C403.9,1592.3 407,1589.2 411.7,1581.4C416.3,1573.7 421.5,1563.4 427.1,1553.6C432.8,1543.8 439.5,1531.4 445.7,1522.6C451.9,1513.8 458.1,1508.7 464.3,1501C470.5,1493.2 477.2,1483.9 482.9,1476.2C488.5,1468.5 492.7,1462.8 498.3,1454.5C504,1446.3 511.2,1433.4 516.9,1426.7C522.6,1420 525.7,1417.9 532.4,1414.3C539.1,1410.7 549.4,1407.2 557.1,1405C564.9,1402.8 571.6,1401.8 578.8,1401.3C586,1400.8 593.2,1400.5 600.5,1401.9C607.7,1403.3 618.5,1408.4 622.1,1409.6" fill="none" stroke="#b6a9d6" stroke-width="2.3"/>
<text x="665.5" y="1572.5" font-size="24.5" stroke="#000" stroke-width="0.3">Subclone present across</text>
<text x="665.5" y="1599.5" font-size="24.5" stroke="#000" stroke-width="0.3">multiple regions?</text>
<line x1="670" y1="1626.3" x2="684" y2="1626.3" stroke="#7cc47e" stroke-width="2.4"/>
<circle cx="677" cy="1626.3" r="4.6" fill="#7cc47e" stroke="#6a6a6a" stroke-width="0.5"/>
<text x="700" y="1633.3" font-size="19.3" stroke="#000" stroke-width="0.3">FALSE</text>
<line x1="670" y1="1647.4" x2="684" y2="1647.4" stroke="#b3a7d3" stroke-width="2.4"/>
<circle cx="677" cy="1647.4" r="4.6" fill="#b3a7d3" stroke="#6a6a6a" stroke-width="0.5"/>
<text x="700" y="1654.4" font-size="19.3" stroke="#000" stroke-width="0.3">TRUE</text>
<text x="886.5" y="1324.7" font-size="27.5" font-weight="bold">g</text>
<path d="M1196.4,1353.7Q1217,1346 1237.4,1354.3L1366.4,1406.6Q1386.8,1414.9 1394.9,1435.3L1442.6,1556.6Q1450.7,1577 1443.4,1597.8L1402.3,1714.4Q1395,1735.1 1374.9,1744.1L1237.1,1806Q1217,1815 1196.7,1806.7L1066.5,1753.4Q1046.1,1745 1038.3,1724.5L989.8,1597.6Q982,1577 989.7,1556.4L1036.7,1431.1Q1044.4,1410.5 1065,1402.8Z" fill="#a9cfe5" stroke="#333" stroke-width="0.9"/>
<clipPath id="octc"><path d="M1196.4,1353.7Q1217,1346 1237.4,1354.3L1366.4,1406.6Q1386.8,1414.9 1394.9,1435.3L1442.6,1556.6Q1450.7,1577 1443.4,1597.8L1402.3,1714.4Q1395,1735.1 1374.9,1744.1L1237.1,1806Q1217,1815 1196.7,1806.7L1066.5,1753.4Q1046.1,1745 1038.3,1724.5L989.8,1597.6Q982,1577 989.7,1556.4L1036.7,1431.1Q1044.4,1410.5 1065,1402.8Z"/></clipPath>
<g clip-path="url(#octc)">
<path d="M1127.5,1621.7C1130.4,1611 1161.5,1607.6 1174.2,1601.2C1186.8,1594.9 1191.2,1591 1203.3,1583.7C1215.5,1576.5 1232.5,1558 1247.1,1557.5C1261.7,1557 1279.2,1575 1290.8,1580.8C1302.5,1586.7 1312.2,1585.7 1317.1,1592.5C1321.9,1599.3 1320,1609.5 1320,1621.7C1320,1633.8 1321.9,1656.7 1317.1,1665.4C1312.2,1674.2 1298.1,1666.9 1290.8,1674.2C1283.5,1681.5 1276.7,1693.6 1273.3,1709.2C1269.9,1724.7 1270.4,1751.9 1270.4,1767.5C1270.4,1783.1 1282.1,1792.8 1273.3,1802.5C1264.6,1812.2 1242.2,1827.8 1217.9,1825.8C1193.6,1823.9 1141.6,1805.4 1127.5,1790.8C1113.4,1776.2 1130.4,1751.9 1133.3,1738.3C1136.2,1724.7 1141.1,1721.3 1145,1709.2C1148.9,1697 1159.6,1680 1156.7,1665.4C1153.7,1650.8 1124.6,1632.4 1127.5,1621.7Z" fill="#2b7bba" stroke="#333" stroke-width="0.8"/>
<path d="M1028.3,1402.9C1044.7,1392.7 1122.9,1360.5 1145,1353.3C1167.1,1346.2 1206.7,1342 1217.9,1341.7C1229.1,1341.3 1236.1,1344.3 1241.2,1350.4C1246.4,1356.5 1256.9,1382.9 1261.7,1394.2C1266.4,1405.4 1277.8,1435.1 1282.1,1446.7C1286.3,1458.2 1296.4,1484.5 1298.1,1493.3C1299.8,1502.2 1298.2,1516.5 1296.7,1522.5C1295.1,1528.5 1287.7,1541.3 1285,1544.4C1282.3,1547.4 1279.5,1547.6 1273.3,1548.7C1267.2,1549.9 1241.3,1550.8 1232.5,1554.6C1223.7,1558.3 1204.3,1575.4 1197.5,1580.8C1190.7,1586.3 1180.3,1597 1174.2,1601.2C1168,1605.5 1152.5,1614.7 1145,1617.3C1137.5,1619.8 1117.5,1622.6 1110,1623.1C1102.5,1623.6 1088.7,1622.2 1080.8,1621.7C1073,1621.2 1048.5,1616.7 1042.9,1618.7C1037.3,1620.8 1034.7,1634.7 1032.7,1639.2C1030.7,1643.6 1027.6,1655 1025.4,1656.7C1023.2,1658.4 1017.2,1657.5 1013.7,1653.7C1010.3,1650 1000.7,1633.1 996.2,1624.6C991.8,1616.1 976.2,1594.8 975.8,1580.8C975.5,1566.9 989.9,1521.3 993.3,1505C996.7,1488.7 1000.9,1452.7 1005,1440.8C1009.1,1428.9 1012,1413.1 1028.3,1402.9Z" fill="#69a5d2" stroke="#333" stroke-width="0.8"/>
<path d="M1070.6,1405.8C1075.7,1400.8 1094.6,1394.7 1110,1388.3C1125.4,1381.9 1174.4,1360 1185.8,1357.7C1197.3,1355.4 1194.1,1366 1196,1370.8C1198,1375.7 1200.6,1387.9 1200.4,1394.2C1200.2,1400.4 1198.1,1411.7 1194.6,1417.5C1191.1,1423.3 1180.8,1432.9 1174.2,1437.9C1167.6,1442.9 1150.4,1453.7 1145,1454.8C1139.6,1456 1140.3,1448.5 1133.3,1446.7C1126.3,1444.8 1100.7,1443.6 1092.5,1440.8C1084.3,1438.1 1075,1430.9 1072.1,1426.2C1069.2,1421.6 1065.6,1410.9 1070.6,1405.8Z" fill="#d6a660" stroke="#333" stroke-width="0.8"/>
<circle cx="1112" cy="1451" r="20.4" fill="#78c266" stroke="#333" stroke-width="0.8"/>
<path d="M1013.7,1446.7C1019.1,1443.3 1045.8,1450.5 1053.1,1453.4C1060.4,1456.3 1080.1,1470.3 1086.7,1475.8C1093.2,1481.3 1114.4,1502.7 1118.7,1508.5C1123.1,1514.3 1129.2,1528.7 1129.8,1534.2C1130.4,1539.6 1126.9,1556.8 1124.6,1563.3C1122.3,1569.9 1110.3,1595.3 1107.1,1599.8C1103.9,1604.3 1096.6,1607.8 1092.5,1608.5C1088.4,1609.3 1073.5,1606.9 1066.2,1607.1C1059,1607.3 1025.7,1610.1 1019.6,1610.6C1013.5,1611.1 1008.2,1613.3 1005,1612.3C1001.8,1611.4 991,1604.7 987.5,1601.2C984,1597.8 970.6,1584.9 970,1577.9C969.4,1570.9 978.7,1540.3 981.7,1531.2C984.6,1522.2 996,1496 999.2,1487.5C1002.4,1479 1008.4,1450.1 1013.7,1446.7Z" fill="#3fa63a" stroke="#333" stroke-width="0.8"/>
<path d="M1005,1470C1007.9,1463 1018.9,1454.7 1025.4,1451C1032,1447.4 1039.1,1446.4 1044.4,1448.1C1049.6,1449.8 1054.7,1455.9 1056.9,1461.2C1059.1,1466.6 1058.9,1474.6 1057.5,1480.2C1056.1,1485.8 1053.1,1491.9 1048.7,1494.8C1044.4,1497.7 1038.1,1497.9 1031.2,1497.7C1024.4,1497.5 1012.3,1497.9 1007.9,1493.3C1003.5,1488.7 1002.1,1477 1005,1470Z" fill="#ef6e72" stroke="#333" stroke-width="0.8"/>
<path d="M1073.5,1540C1077.5,1534.7 1092.3,1524 1098.3,1521C1104.4,1518.1 1114.7,1516.4 1118.7,1518.1C1122.8,1519.9 1128.2,1528.1 1129,1534.2C1129.7,1540.2 1127.1,1555.2 1124.6,1563.3C1122.1,1571.5 1113.9,1590.6 1110,1595.4C1106.1,1600.3 1099.5,1601 1095.4,1599.8C1091.3,1598.6 1083,1591.9 1079.4,1586.7C1075.8,1581.4 1069.4,1566.6 1068.6,1560.4C1067.8,1554.2 1069.6,1545.2 1073.5,1540Z" fill="#e8303a" stroke="#333" stroke-width="0.8"/>
<circle cx="1045.2" cy="1596" r="25.7" fill="#a3d98e" stroke="#333" stroke-width="0.8"/>
<circle cx="1226.7" cy="1499.2" r="35" fill="#fdf49a" stroke="#333" stroke-width="0.8"/>
<circle cx="1327.3" cy="1455.4" r="35" fill="#c5a3d8" stroke="#333" stroke-width="0.8"/>
<circle cx="1360.8" cy="1499.2" r="35" fill="#c8a994" stroke="#333" stroke-width="0.8"/>
<circle cx="1379.8" cy="1566.2" r="35" fill="#7b4a9f" stroke="#333" stroke-width="0.8"/>
<path d="M1191.7,1588.1C1197,1582.9 1234.5,1550.1 1241.2,1545.8C1248,1541.6 1254.1,1543.5 1258.7,1545.8C1263.4,1548.2 1282.4,1562.9 1287.9,1569.2C1293.5,1575.4 1312.4,1603.7 1314.2,1608.5C1315.9,1613.4 1310.4,1614.8 1305.4,1617.3C1300.5,1619.8 1270.4,1631.7 1264.6,1633.3C1258.7,1635 1253.5,1635.8 1247.1,1633.9C1240.7,1632 1206.3,1617.9 1200.4,1614.4C1194.5,1610.8 1189,1601 1188.2,1598.3C1187.3,1595.7 1186.4,1593.4 1191.7,1588.1Z" fill="#b85d2a" stroke="#333" stroke-width="0.8"/>
<path d="M1287.9,1583.7C1291.5,1579.9 1307.2,1567.5 1314.2,1566.8C1321.2,1566.1 1336.7,1575.9 1340.4,1578.5C1344.1,1581.1 1344.6,1583.4 1341.9,1586.7C1339.1,1589.9 1325.6,1600.2 1320,1602.7C1314.4,1605.2 1303.9,1606.6 1299.6,1605.6C1295.2,1604.7 1288.9,1598.3 1287.3,1595.4C1285.8,1592.5 1284.3,1587.6 1287.9,1583.7Z" fill="#76a04f" stroke="#333" stroke-width="0.8"/>
<path d="M1320,1602.7C1324.2,1598 1340.4,1587.8 1346.2,1586.7C1352.1,1585.5 1355.6,1592.8 1363.7,1594C1371.9,1595.1 1399.9,1593.1 1407.5,1595.4C1415.1,1597.7 1418.3,1605.6 1420.6,1611.5C1423,1617.3 1425.8,1630.2 1425,1639.2C1424.2,1648.1 1418.3,1672.2 1414.8,1678.5C1411.3,1684.8 1405.6,1686.2 1398.7,1686.4C1391.9,1686.6 1374.1,1683.2 1363.7,1680C1353.4,1676.8 1328.4,1667.4 1321.5,1662.5C1314.5,1657.6 1312.7,1649 1311.8,1643.5C1310.9,1638.1 1313.7,1627.1 1314.7,1621.7C1315.8,1616.2 1315.8,1607.4 1320,1602.7Z" fill="#5aa4a0" stroke="#333" stroke-width="0.8"/>
<path d="M1274.8,1682.9C1278.3,1675.9 1301,1667.5 1305.4,1668.3C1309.8,1669.2 1314.2,1685.5 1318.5,1691.7C1322.9,1697.8 1342,1729.3 1349.2,1729.6C1356.3,1729.9 1384.8,1697.2 1390,1694.6C1395.2,1692 1399.9,1699.5 1401.1,1703.3C1402.2,1707.1 1402.8,1726.7 1401.7,1732.5C1400.6,1738.3 1395.2,1756.4 1390,1761.7C1384.7,1766.9 1359.7,1780 1349.2,1785C1338.7,1790 1292.6,1810.1 1285,1811.2C1277.4,1812.4 1274.8,1804 1273.3,1796.7C1271.9,1789.4 1270.3,1749.7 1270.4,1738.3C1270.6,1727 1271.3,1689.9 1274.8,1682.9Z" fill="#f4935a" stroke="#333" stroke-width="0.8"/>
<circle cx="1348.6" cy="1696" r="36.5" fill="#9266b5" stroke="#333" stroke-width="0.8"/>
<path d="M1223.7,1715C1228,1708.4 1242.6,1701.7 1250,1700.4C1257.4,1699.1 1268,1700.8 1273.3,1706.2C1278.7,1711.7 1285.1,1728 1285.6,1736.9C1286,1745.7 1281.1,1759.3 1276.2,1765.2C1271.3,1771.1 1259.8,1775.5 1252.9,1776.2C1246,1777 1234.9,1775.2 1230.2,1770.4C1225.4,1765.6 1222.4,1752.5 1221.4,1744.2C1220.5,1735.9 1219.5,1721.6 1223.7,1715Z" fill="#f7901e" stroke="#333" stroke-width="0.8"/>
<path d="M1101.8,1631.9C1105.5,1626.8 1128.1,1619.8 1133.3,1618.7C1138.5,1617.7 1142.4,1617.7 1146.5,1623.1C1150.5,1628.6 1165.4,1657.1 1168.3,1665.4C1171.2,1673.8 1172.4,1686.8 1171.2,1694.6C1170.1,1702.4 1161.2,1726 1158.1,1732.5C1155.1,1739 1147.5,1751 1145,1750C1142.5,1749 1138.2,1730.9 1136.8,1723.7C1135.5,1716.6 1137.4,1695.9 1133.3,1688.7C1129.2,1681.6 1105.5,1669.1 1101.8,1662.5C1098.2,1655.9 1098.2,1637 1101.8,1631.9Z" fill="#fbad5c" stroke="#333" stroke-width="0.8"/>
<circle cx="1067.7" cy="1643.5" r="36.5" fill="#f28a2a" stroke="#333" stroke-width="0.8"/>
<path d="M1016.7,1665.4C1018,1661.2 1024.9,1659.3 1028.3,1660.2C1031.8,1661 1041.3,1670.7 1046.4,1672.7C1051.5,1674.7 1068.5,1674.1 1072.1,1677.1C1075.7,1680 1077.3,1691.9 1077.3,1698.1C1077.4,1704.3 1075.3,1725.5 1072.7,1730.2C1070,1734.8 1059.8,1737.7 1054.6,1737.7C1049.4,1737.7 1032.8,1735 1028.3,1730.2C1023.9,1725.3 1018,1703.6 1016.7,1696C1015.3,1688.5 1015.3,1669.6 1016.7,1665.4Z" fill="#fbad5c" stroke="#333" stroke-width="0.8"/>
<path d="M1048.7,1744.7C1049.3,1742.3 1054.5,1736.5 1059,1734.8C1063.4,1733.1 1075.5,1731.4 1082.3,1731.9C1089.1,1732.5 1102.7,1738.4 1110,1738.9C1117.3,1739.4 1132.5,1733.5 1136.8,1735.4C1141.2,1737.3 1142.7,1747.5 1142.7,1752.9C1142.7,1758.4 1138.9,1772.4 1136.8,1776.2C1134.8,1780.1 1133.4,1782.2 1127.5,1781.5C1121.6,1780.8 1102.1,1774.7 1092.5,1771C1082.9,1767.3 1061,1757 1055.2,1753.5C1049.3,1750 1048.2,1747.2 1048.7,1744.7Z" fill="#dca08a" stroke="#333" stroke-width="0.8"/>
<circle cx="1107.1" cy="1704.8" r="35" fill="#d99a86" stroke="#333" stroke-width="0.8"/>
</g>
<path d="M1196.4,1353.7Q1217,1346 1237.4,1354.3L1366.4,1406.6Q1386.8,1414.9 1394.9,1435.3L1442.6,1556.6Q1450.7,1577 1443.4,1597.8L1402.3,1714.4Q1395,1735.1 1374.9,1744.1L1237.1,1806Q1217,1815 1196.7,1806.7L1066.5,1753.4Q1046.1,1745 1038.3,1724.5L989.8,1597.6Q982,1577 989.7,1556.4L1036.7,1431.1Q1044.4,1410.5 1065,1402.8Z" fill="none" stroke="#333" stroke-width="0.9"/>
<g stroke="#555" stroke-width="0.9" stroke-dasharray="4,3">
<line x1="1138.6" y1="1402.4" x2="1766.7" y2="1500.3"/>
<line x1="1328.8" y1="1454.2" x2="1634.2" y2="1498.6"/>
<line x1="1230.8" y1="1504.3" x2="1628.4" y2="1650.1"/>
<line x1="1363.3" y1="1504.3" x2="1703.3" y2="1650.1"/>
<line x1="1251" y1="1589.6" x2="1766.7" y2="1650.1"/>
<line x1="1415.2" y1="1552.2" x2="1559.3" y2="1506.1"/>
<line x1="1259.6" y1="1736.6" x2="1700.4" y2="1500.3"/>
<line x1="1317.2" y1="1748.1" x2="1553.5" y2="1653"/>
<line x1="1415.2" y1="1572.3" x2="1639.9" y2="1650.1"/>
</g>
<rect x="1112" y="1408.8" width="79.1" height="72" rx="13" fill="none" stroke="#111" stroke-width="2.8"/>
<text x="1151.5" y="1424.3" font-size="12" text-anchor="middle" fill="#111" stroke="#111" stroke-width="0.3">Sample 1</text>
<rect x="1257.3" y="1406.4" width="78.7" height="71.8" rx="13" fill="none" stroke="#111" stroke-width="2.8"/>
<text x="1296.7" y="1421.9" font-size="12" text-anchor="middle" fill="#111" stroke="#111" stroke-width="0.3">Sample 2</text>
<rect x="1077.9" y="1563.3" width="78.2" height="72.4" rx="13" fill="none" stroke="#111" stroke-width="2.8"/>
<text x="1117" y="1578.8" font-size="12" text-anchor="middle" fill="#111" stroke="#111" stroke-width="0.3">Sample 3</text>
<rect x="1284.4" y="1563.3" width="78.8" height="72.4" rx="13" fill="none" stroke="#111" stroke-width="2.8"/>
<text x="1323.8" y="1578.8" font-size="12" text-anchor="middle" fill="#111" stroke="#111" stroke-width="0.3">Sample 4</text>
<rect x="1185.8" y="1684.4" width="78.8" height="71.4" rx="13" fill="none" stroke="#111" stroke-width="2.8"/>
<text x="1225.2" y="1699.9" font-size="12" text-anchor="middle" fill="#111" stroke="#111" stroke-width="0.3">Sample 5</text>
<text x="1668" y="1443" font-size="26.6" text-anchor="middle" stroke="#000" stroke-width="0.3" textLength="289" lengthAdjust="spacingAndGlyphs">Over-sampled examples</text>
<text x="1671" y="1591" font-size="26.6" text-anchor="middle" stroke="#000" stroke-width="0.3" textLength="306" lengthAdjust="spacingAndGlyphs">Under-sampled examples</text>
<text x="1655" y="1748" font-size="26.9" text-anchor="middle" stroke="#000" stroke-width="0.3" textLength="182" lengthAdjust="spacingAndGlyphs">X = undetected</text>
<rect x="1540.2" y="1477.3" width="47.8" height="40.3" fill="#76a04f"/>
<rect x="1608.2" y="1477.3" width="47.8" height="40.3" fill="#c3a6d8"/>
<rect x="1677.4" y="1477.3" width="47.8" height="40.3" fill="#f7901e"/>
<rect x="1742.5" y="1477.3" width="47.8" height="40.3" fill="#d6a660"/>
<rect x="1544.8" y="1628.8" width="49" height="40.3" fill="#f4935a"/>
<text x="1569.3" y="1659" font-size="27" text-anchor="middle" stroke="#000" stroke-width="0.3">X</text>
<rect x="1612.8" y="1628.8" width="48.4" height="40.3" fill="#fdf49a"/>
<text x="1637" y="1659" font-size="27" text-anchor="middle" stroke="#000" stroke-width="0.3">X</text>
<rect x="1680.3" y="1628.8" width="47.8" height="40.3" fill="#c8a994"/>
<text x="1704.2" y="1659" font-size="27" text-anchor="middle" stroke="#000" stroke-width="0.3">X</text>
<rect x="1746.5" y="1628.8" width="47.8" height="40.3" fill="#b85d2a"/>
<text x="9.5" y="1932.5" font-size="27.5" font-weight="bold">h</text>
<text x="408" y="1981" font-size="20.6" text-anchor="middle" stroke="#000" stroke-width="0.3">AUC = 0.81, 95% CI: 0.79–0.82</text>
<g stroke="#d0d0d0" stroke-width="1" stroke-dasharray="1.5,3">
<line x1="159.6" y1="2001.3" x2="159.6" y2="2434.6"/>
<line x1="140.8" y1="2418.8" x2="656.3" y2="2418.8"/>
<line x1="255" y1="2001.3" x2="255" y2="2434.6"/>
<line x1="140.8" y1="2338.4" x2="656.3" y2="2338.4"/>
<line x1="350.4" y1="2001.3" x2="350.4" y2="2434.6"/>
<line x1="140.8" y1="2258.1" x2="656.3" y2="2258.1"/>
<line x1="445.9" y1="2001.3" x2="445.9" y2="2434.6"/>
<line x1="140.8" y1="2177.8" x2="656.3" y2="2177.8"/>
<line x1="541.3" y1="2001.3" x2="541.3" y2="2434.6"/>
<line x1="140.8" y1="2097.4" x2="656.3" y2="2097.4"/>
<line x1="636.7" y1="2001.3" x2="636.7" y2="2434.6"/>
<line x1="140.8" y1="2017.1" x2="656.3" y2="2017.1"/>
</g>
<rect x="140.8" y="2001.3" width="515.5" height="433.3" fill="none" stroke="#111" stroke-width="1.3"/>
<line x1="159.6" y1="2434.6" x2="159.6" y2="2448.5" stroke="#111" stroke-width="1.3"/>
<text x="159.6" y="2484.6" font-size="23" text-anchor="middle" stroke="#000" stroke-width="0.3">0.0</text>
<line x1="126.4" y1="2418.8" x2="140.8" y2="2418.8" stroke="#111" stroke-width="1.3"/>
<text x="108.3" y="2418.8" font-size="23" text-anchor="middle" stroke="#000" stroke-width="0.3" transform="rotate(-90 108.3 2418.8)">0.0</text>
<line x1="255" y1="2434.6" x2="255" y2="2448.5" stroke="#111" stroke-width="1.3"/>
<text x="255" y="2484.6" font-size="23" text-anchor="middle" stroke="#000" stroke-width="0.3">0.2</text>
<line x1="126.4" y1="2338.4" x2="140.8" y2="2338.4" stroke="#111" stroke-width="1.3"/>
<text x="108.3" y="2338.4" font-size="23" text-anchor="middle" stroke="#000" stroke-width="0.3" transform="rotate(-90 108.3 2338.4)">0.2</text>
<line x1="350.4" y1="2434.6" x2="350.4" y2="2448.5" stroke="#111" stroke-width="1.3"/>
<text x="350.4" y="2484.6" font-size="23" text-anchor="middle" stroke="#000" stroke-width="0.3">0.4</text>
<line x1="126.4" y1="2258.1" x2="140.8" y2="2258.1" stroke="#111" stroke-width="1.3"/>
<text x="108.3" y="2258.1" font-size="23" text-anchor="middle" stroke="#000" stroke-width="0.3" transform="rotate(-90 108.3 2258.1)">0.4</text>
<line x1="445.9" y1="2434.6" x2="445.9" y2="2448.5" stroke="#111" stroke-width="1.3"/>
<text x="445.9" y="2484.6" font-size="23" text-anchor="middle" stroke="#000" stroke-width="0.3">0.6</text>
<line x1="126.4" y1="2177.8" x2="140.8" y2="2177.8" stroke="#111" stroke-width="1.3"/>
<text x="108.3" y="2177.8" font-size="23" text-anchor="middle" stroke="#000" stroke-width="0.3" transform="rotate(-90 108.3 2177.8)">0.6</text>
<line x1="541.3" y1="2434.6" x2="541.3" y2="2448.5" stroke="#111" stroke-width="1.3"/>
<text x="541.3" y="2484.6" font-size="23" text-anchor="middle" stroke="#000" stroke-width="0.3">0.8</text>
<line x1="126.4" y1="2097.4" x2="140.8" y2="2097.4" stroke="#111" stroke-width="1.3"/>
<text x="108.3" y="2097.4" font-size="23" text-anchor="middle" stroke="#000" stroke-width="0.3" transform="rotate(-90 108.3 2097.4)">0.8</text>
<line x1="636.7" y1="2434.6" x2="636.7" y2="2448.5" stroke="#111" stroke-width="1.3"/>
<text x="636.7" y="2484.6" font-size="23" text-anchor="middle" stroke="#000" stroke-width="0.3">1.0</text>
<line x1="126.4" y1="2017.1" x2="140.8" y2="2017.1" stroke="#111" stroke-width="1.3"/>
<text x="108.3" y="2017.1" font-size="23" text-anchor="middle" stroke="#000" stroke-width="0.3" transform="rotate(-90 108.3 2017.1)">1.0</text>
<text x="398.5" y="2516" font-size="22.8" text-anchor="middle" stroke="#000" stroke-width="0.3">1 − Specificity (FPR)</text>
<text x="67.5" y="2218" font-size="22.5" text-anchor="middle" stroke="#000" stroke-width="0.3" transform="rotate(-90 67.5 2218)">Sensitivity (TPR)</text>
<polyline points="159.6,2418.8 195.8,2317.9 225,2237.5 249.2,2167.9 272.9,2133.3 287.5,2102.5 293.8,2086.7 316.7,2061.7 333.3,2051.2 350,2045 375,2032.5 400,2017.9 636.7,2017.1" fill="none" stroke="#111" stroke-width="1.4" stroke-dasharray="5,4"/>
<polyline points="159.6,2418.8 195.8,2322.1 225,2244.2 249.2,2173.3 272.9,2140 287.5,2109.6 293.8,2095 316.7,2086.7 329.2,2076.2 341.7,2063.8 366.7,2057.5 391.7,2052.5 408.3,2057.5 425,2063.8 441.7,2066.7 466.7,2084.6 500,2122.1 636.7,2017.1" fill="none" stroke="#111" stroke-width="1.4" stroke-dasharray="5,4"/>
<polyline points="159.6,2418.8 175,2378.3 195.8,2320 212.5,2274.2 225,2240.8 233.3,2220 237.5,2207.5 243.8,2190.8 249.2,2170 255,2165.8 262.5,2151.2 268.8,2145 272.9,2136.7 277.1,2120 283.3,2111.7 287.5,2105.4 291.7,2097.1 293.8,2090.8 304.2,2086.7 316.7,2074.2 333.3,2061.7 350,2052.5 375,2042.1 393.8,2036.7 437.5,2031.7 500,2028.8 636.7,2017.1" fill="none" stroke="#111" stroke-width="2.8" stroke-linejoin="round"/>
<rect x="314.6" y="2352.5" width="341.7" height="82.1" fill="#fff" stroke="#111" stroke-width="1.3"/>
<line x1="333" y1="2379.6" x2="377" y2="2379.6" stroke="#111" stroke-width="2.8"/>
<line x1="333" y1="2407.5" x2="377" y2="2407.5" stroke="#111" stroke-width="1.4" stroke-dasharray="5,4"/>
<text x="397.5" y="2387.5" font-size="22.6" stroke="#000" stroke-width="0.3">Empirical ROC curve</text>
<text x="397.5" y="2415.5" font-size="22.6" stroke="#000" stroke-width="0.3">95% Confidence Interval</text>
</svg>
</body></html>
